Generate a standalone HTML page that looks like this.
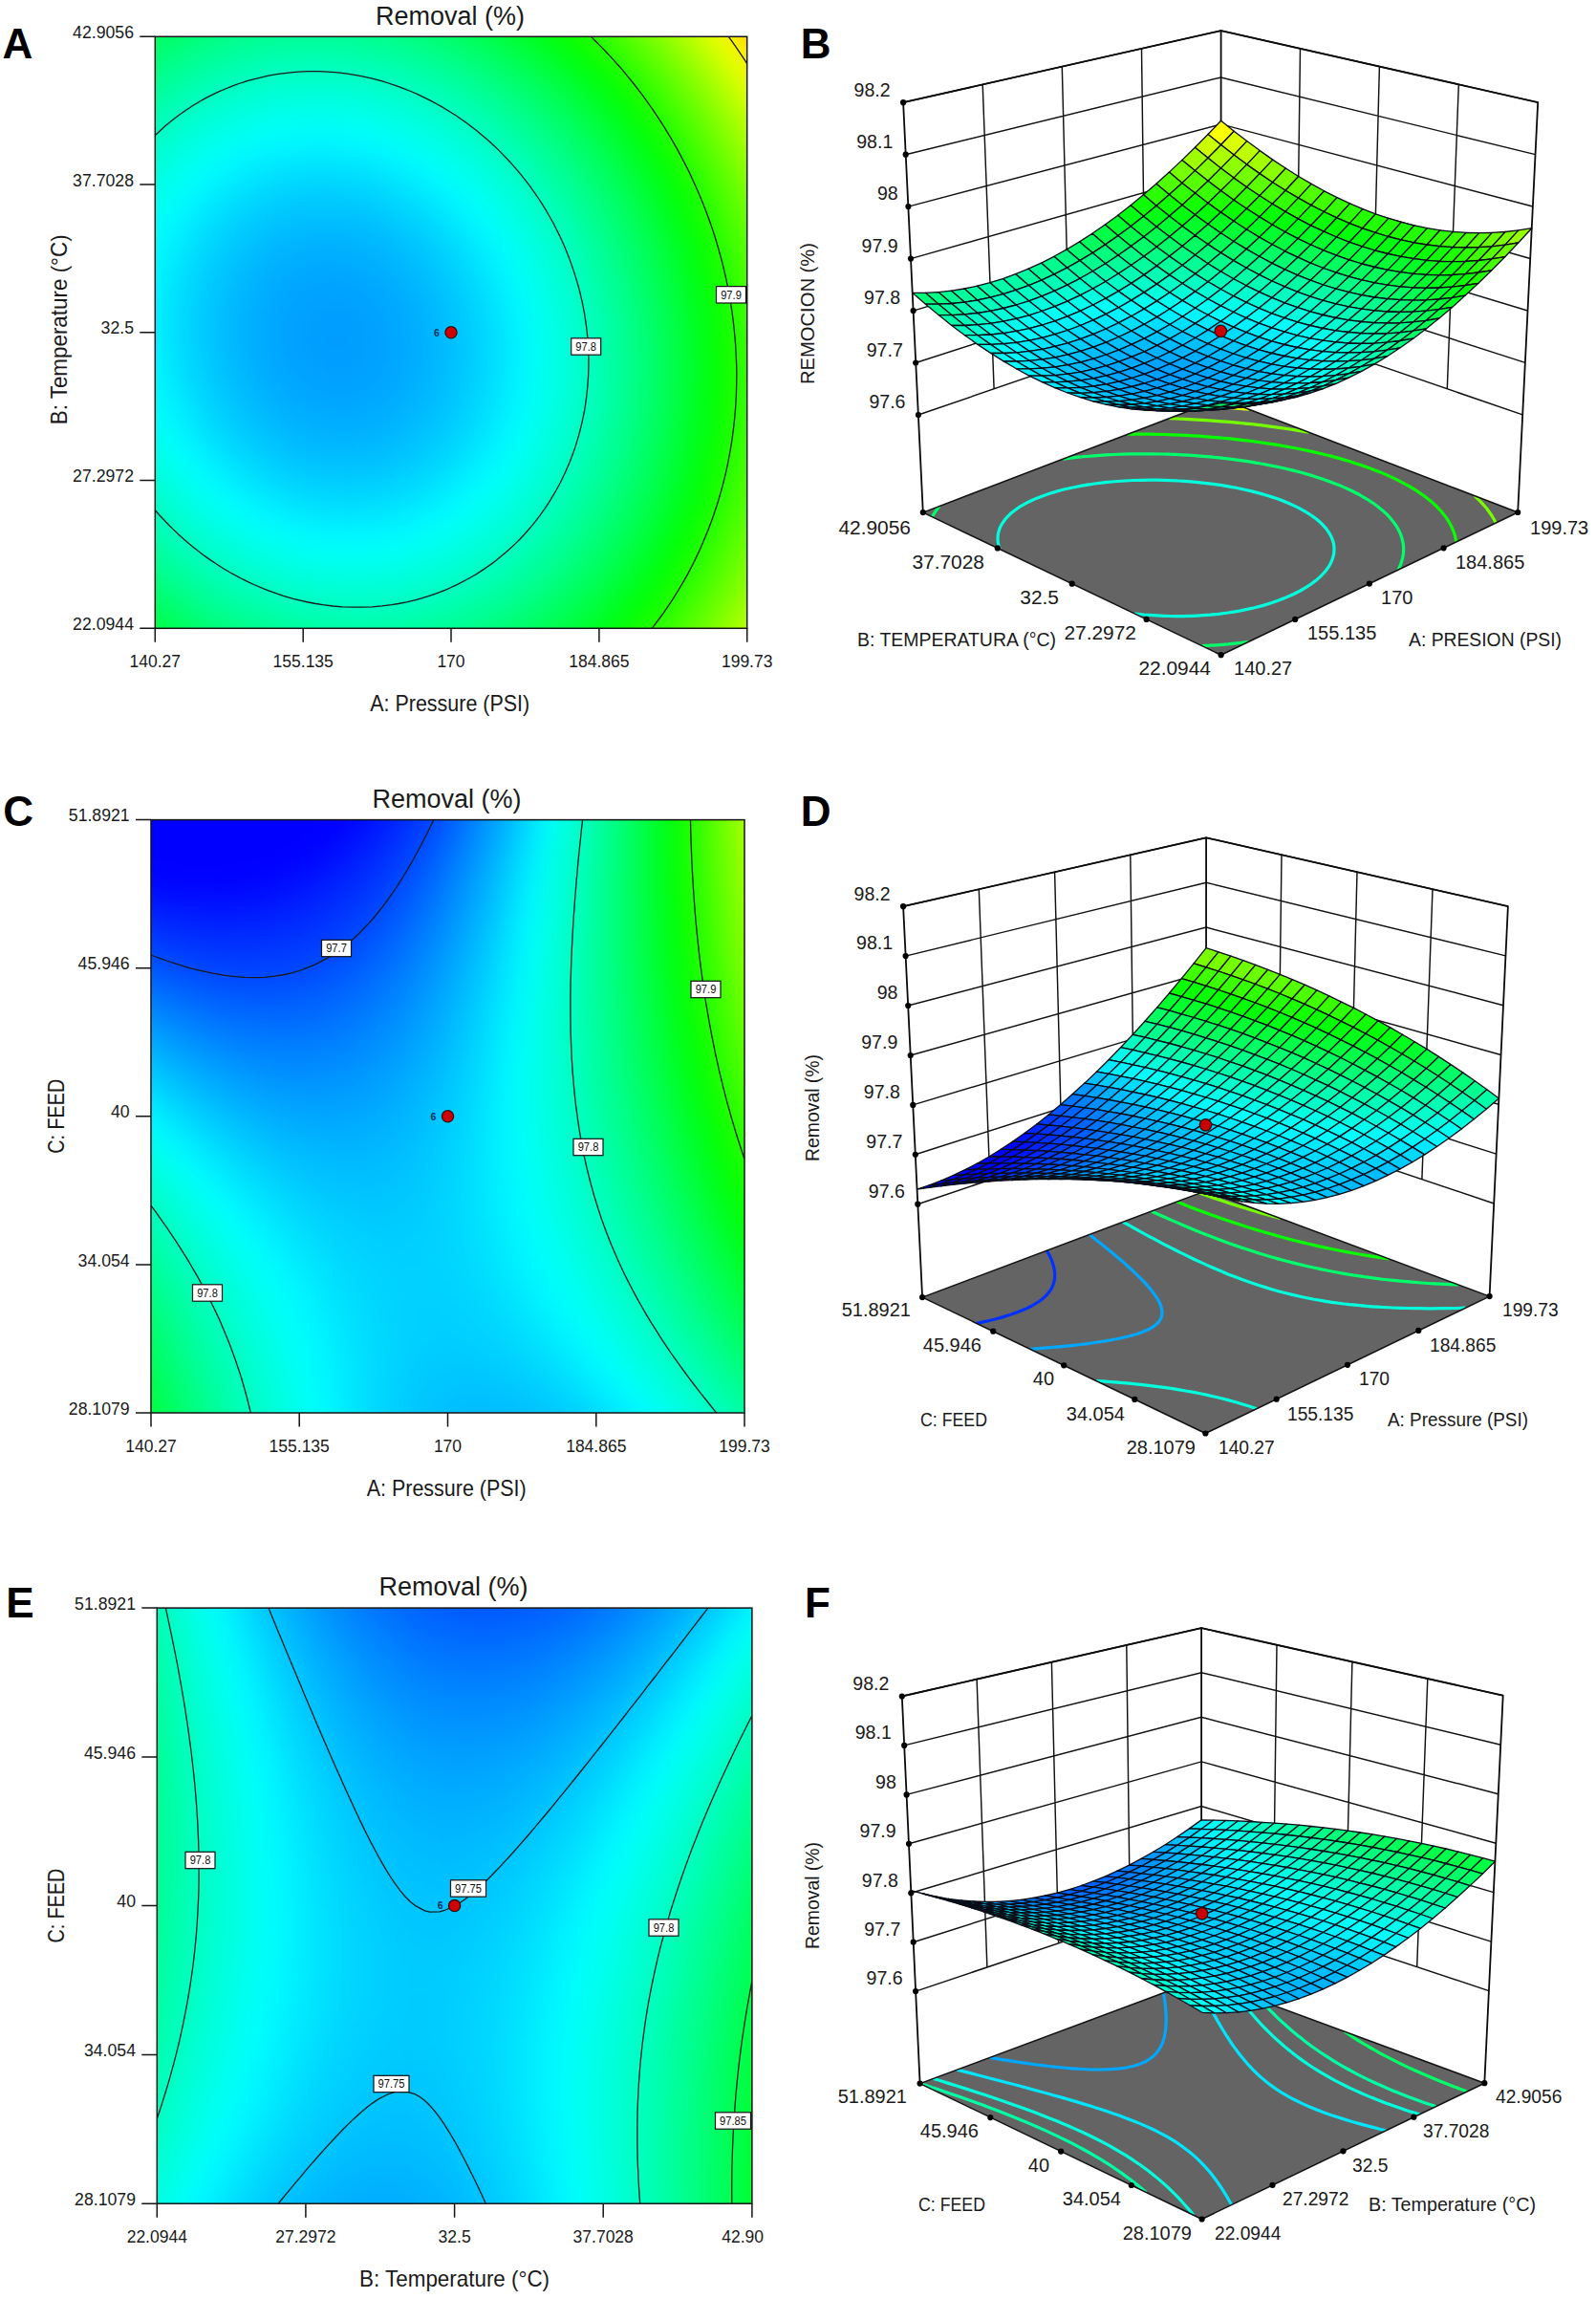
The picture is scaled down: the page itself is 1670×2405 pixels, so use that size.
<!DOCTYPE html><html><head><meta charset="utf-8"><title>Removal response surfaces</title><style>html,body{margin:0;padding:0;background:#fff}svg{display:block}svg text{font-family:"Liberation Sans",sans-serif}.g rect{width:1.04px;height:1.04px}</style></head><body><svg width="1670" height="2405" viewBox="0 0 1670 2405"><defs><filter id="bl" x="-5%" y="-5%" width="110%" height="110%" color-interpolation-filters="sRGB"><feGaussianBlur stdDeviation="0.65"/></filter></defs>
<clipPath id="cA"><rect x="162.3" y="38.3" width="619.4" height="619.0"/></clipPath>
<g clip-path="url(#cA)"><g filter="url(#bl)" class="g" transform="translate(162.30 38.30) scale(19.3563 19.3438)">
<rect x="-2" y="-2" fill="#00ff25"/>
<rect x="-1" y="-2" fill="#00ff34"/>
<rect x="0" y="-2" fill="#00ff42"/>
<rect x="1" y="-2" fill="#00ff4e"/>
<rect x="2" y="-2" fill="#00ff58"/>
<rect x="3" y="-2" fill="#00ff60"/>
<rect x="4" y="-2" fill="#00ff67"/>
<rect x="5" y="-2" fill="#00ff6d"/>
<rect x="6" y="-2" fill="#00ff70"/>
<rect x="7" y="-2" fill="#00ff73"/>
<rect x="8" y="-2" fill="#00ff73"/>
<rect x="9" y="-2" fill="#00ff72"/>
<rect x="10" y="-2" fill="#00ff6f"/>
<rect x="11" y="-2" fill="#00ff6b"/>
<rect x="12" y="-2" fill="#00ff65"/>
<rect x="13" y="-2" fill="#00ff5d"/>
<rect x="14" y="-2" fill="#00ff54"/>
<rect x="15" y="-2" fill="#00ff49"/>
<rect x="16" y="-2" fill="#00ff3c"/>
<rect x="17" y="-2" fill="#00ff2e"/>
<rect x="18" y="-2" fill="#00ff1e"/>
<rect x="19" y="-2" fill="#00ff0d"/>
<rect x="20" y="-2" fill="#06ff00"/>
<rect x="21" y="-2" fill="#1aff00"/>
<rect x="22" y="-2" fill="#2fff00"/>
<rect x="23" y="-2" fill="#47ff00"/>
<rect x="24" y="-2" fill="#60ff00"/>
<rect x="25" y="-2" fill="#7aff00"/>
<rect x="26" y="-2" fill="#96ff00"/>
<rect x="27" y="-2" fill="#b3ff00"/>
<rect x="28" y="-2" fill="#d3ff00"/>
<rect x="29" y="-2" fill="#f3ff00"/>
<rect x="30" y="-2" fill="#ffe800"/>
<rect x="31" y="-2" fill="#ffc500"/>
<rect x="32" y="-2" fill="#ff9f00"/>
<rect x="33" y="-2" fill="#ff7800"/>
<rect x="-2" y="-1" fill="#00ff3d"/>
<rect x="-1" y="-1" fill="#00ff4c"/>
<rect x="0" y="-1" fill="#00ff5a"/>
<rect x="1" y="-1" fill="#00ff66"/>
<rect x="2" y="-1" fill="#00ff70"/>
<rect x="3" y="-1" fill="#00ff79"/>
<rect x="4" y="-1" fill="#00ff80"/>
<rect x="5" y="-1" fill="#00ff85"/>
<rect x="6" y="-1" fill="#00ff89"/>
<rect x="7" y="-1" fill="#00ff8b"/>
<rect x="8" y="-1" fill="#00ff8c"/>
<rect x="9" y="-1" fill="#00ff8b"/>
<rect x="10" y="-1" fill="#00ff88"/>
<rect x="11" y="-1" fill="#00ff84"/>
<rect x="12" y="-1" fill="#00ff7e"/>
<rect x="13" y="-1" fill="#00ff77"/>
<rect x="14" y="-1" fill="#00ff6d"/>
<rect x="15" y="-1" fill="#00ff63"/>
<rect x="16" y="-1" fill="#00ff56"/>
<rect x="17" y="-1" fill="#00ff48"/>
<rect x="18" y="-1" fill="#00ff39"/>
<rect x="19" y="-1" fill="#00ff28"/>
<rect x="20" y="-1" fill="#00ff15"/>
<rect x="21" y="-1" fill="#00ff00"/>
<rect x="22" y="-1" fill="#15ff00"/>
<rect x="23" y="-1" fill="#2cff00"/>
<rect x="24" y="-1" fill="#45ff00"/>
<rect x="25" y="-1" fill="#5fff00"/>
<rect x="26" y="-1" fill="#7bff00"/>
<rect x="27" y="-1" fill="#99ff00"/>
<rect x="28" y="-1" fill="#b8ff00"/>
<rect x="29" y="-1" fill="#d8ff00"/>
<rect x="30" y="-1" fill="#faff00"/>
<rect x="31" y="-1" fill="#ffe000"/>
<rect x="32" y="-1" fill="#ffbb00"/>
<rect x="33" y="-1" fill="#ff9400"/>
<rect x="-2" y="0" fill="#00ff53"/>
<rect x="-1" y="0" fill="#00ff63"/>
<rect x="0" y="0" fill="#00ff70"/>
<rect x="1" y="0" fill="#00ff7c"/>
<rect x="2" y="0" fill="#00ff87"/>
<rect x="3" y="0" fill="#00ff90"/>
<rect x="4" y="0" fill="#00ff97"/>
<rect x="5" y="0" fill="#00ff9c"/>
<rect x="6" y="0" fill="#00ffa0"/>
<rect x="7" y="0" fill="#00ffa3"/>
<rect x="8" y="0" fill="#00ffa3"/>
<rect x="9" y="0" fill="#00ffa3"/>
<rect x="10" y="0" fill="#00ffa0"/>
<rect x="11" y="0" fill="#00ff9c"/>
<rect x="12" y="0" fill="#00ff96"/>
<rect x="13" y="0" fill="#00ff8f"/>
<rect x="14" y="0" fill="#00ff86"/>
<rect x="15" y="0" fill="#00ff7b"/>
<rect x="16" y="0" fill="#00ff6f"/>
<rect x="17" y="0" fill="#00ff61"/>
<rect x="18" y="0" fill="#00ff52"/>
<rect x="19" y="0" fill="#00ff40"/>
<rect x="20" y="0" fill="#00ff2e"/>
<rect x="21" y="0" fill="#00ff19"/>
<rect x="22" y="0" fill="#00ff03"/>
<rect x="23" y="0" fill="#14ff00"/>
<rect x="24" y="0" fill="#2cff00"/>
<rect x="25" y="0" fill="#46ff00"/>
<rect x="26" y="0" fill="#62ff00"/>
<rect x="27" y="0" fill="#7fff00"/>
<rect x="28" y="0" fill="#9eff00"/>
<rect x="29" y="0" fill="#bfff00"/>
<rect x="30" y="0" fill="#e1ff00"/>
<rect x="31" y="0" fill="#fffa00"/>
<rect x="32" y="0" fill="#ffd500"/>
<rect x="33" y="0" fill="#ffae00"/>
<rect x="-2" y="1" fill="#00ff68"/>
<rect x="-1" y="1" fill="#00ff77"/>
<rect x="0" y="1" fill="#00ff85"/>
<rect x="1" y="1" fill="#00ff91"/>
<rect x="2" y="1" fill="#00ff9c"/>
<rect x="3" y="1" fill="#00ffa5"/>
<rect x="4" y="1" fill="#00ffac"/>
<rect x="5" y="1" fill="#00ffb2"/>
<rect x="6" y="1" fill="#00ffb6"/>
<rect x="7" y="1" fill="#00ffb9"/>
<rect x="8" y="1" fill="#00ffba"/>
<rect x="9" y="1" fill="#00ffb9"/>
<rect x="10" y="1" fill="#00ffb6"/>
<rect x="11" y="1" fill="#00ffb2"/>
<rect x="12" y="1" fill="#00ffad"/>
<rect x="13" y="1" fill="#00ffa6"/>
<rect x="14" y="1" fill="#00ff9d"/>
<rect x="15" y="1" fill="#00ff92"/>
<rect x="16" y="1" fill="#00ff86"/>
<rect x="17" y="1" fill="#00ff78"/>
<rect x="18" y="1" fill="#00ff69"/>
<rect x="19" y="1" fill="#00ff58"/>
<rect x="20" y="1" fill="#00ff45"/>
<rect x="21" y="1" fill="#00ff31"/>
<rect x="22" y="1" fill="#00ff1b"/>
<rect x="23" y="1" fill="#00ff04"/>
<rect x="24" y="1" fill="#15ff00"/>
<rect x="25" y="1" fill="#2fff00"/>
<rect x="26" y="1" fill="#4aff00"/>
<rect x="27" y="1" fill="#67ff00"/>
<rect x="28" y="1" fill="#86ff00"/>
<rect x="29" y="1" fill="#a6ff00"/>
<rect x="30" y="1" fill="#c8ff00"/>
<rect x="31" y="1" fill="#ecff00"/>
<rect x="32" y="1" fill="#ffed00"/>
<rect x="33" y="1" fill="#ffc600"/>
<rect x="-2" y="2" fill="#00ff7b"/>
<rect x="-1" y="2" fill="#00ff8b"/>
<rect x="0" y="2" fill="#00ff99"/>
<rect x="1" y="2" fill="#00ffa5"/>
<rect x="2" y="2" fill="#00ffb0"/>
<rect x="3" y="2" fill="#00ffb9"/>
<rect x="4" y="2" fill="#00ffc0"/>
<rect x="5" y="2" fill="#00ffc6"/>
<rect x="6" y="2" fill="#00ffcb"/>
<rect x="7" y="2" fill="#00ffcd"/>
<rect x="8" y="2" fill="#00ffce"/>
<rect x="9" y="2" fill="#00ffce"/>
<rect x="10" y="2" fill="#00ffcb"/>
<rect x="11" y="2" fill="#00ffc7"/>
<rect x="12" y="2" fill="#00ffc2"/>
<rect x="13" y="2" fill="#00ffbb"/>
<rect x="14" y="2" fill="#00ffb2"/>
<rect x="15" y="2" fill="#00ffa8"/>
<rect x="16" y="2" fill="#00ff9c"/>
<rect x="17" y="2" fill="#00ff8e"/>
<rect x="18" y="2" fill="#00ff7f"/>
<rect x="19" y="2" fill="#00ff6e"/>
<rect x="20" y="2" fill="#00ff5c"/>
<rect x="21" y="2" fill="#00ff48"/>
<rect x="22" y="2" fill="#00ff32"/>
<rect x="23" y="2" fill="#00ff1b"/>
<rect x="24" y="2" fill="#00ff02"/>
<rect x="25" y="2" fill="#18ff00"/>
<rect x="26" y="2" fill="#34ff00"/>
<rect x="27" y="2" fill="#51ff00"/>
<rect x="28" y="2" fill="#6fff00"/>
<rect x="29" y="2" fill="#90ff00"/>
<rect x="30" y="2" fill="#b1ff00"/>
<rect x="31" y="2" fill="#d5ff00"/>
<rect x="32" y="2" fill="#faff00"/>
<rect x="33" y="2" fill="#ffde00"/>
<rect x="-2" y="3" fill="#00ff8d"/>
<rect x="-1" y="3" fill="#00ff9d"/>
<rect x="0" y="3" fill="#00ffab"/>
<rect x="1" y="3" fill="#00ffb7"/>
<rect x="2" y="3" fill="#00ffc2"/>
<rect x="3" y="3" fill="#00ffcb"/>
<rect x="4" y="3" fill="#00ffd3"/>
<rect x="5" y="3" fill="#00ffd9"/>
<rect x="6" y="3" fill="#00ffdd"/>
<rect x="7" y="3" fill="#00ffe0"/>
<rect x="8" y="3" fill="#00ffe1"/>
<rect x="9" y="3" fill="#00ffe1"/>
<rect x="10" y="3" fill="#00ffdf"/>
<rect x="11" y="3" fill="#00ffdb"/>
<rect x="12" y="3" fill="#00ffd6"/>
<rect x="13" y="3" fill="#00ffcf"/>
<rect x="14" y="3" fill="#00ffc6"/>
<rect x="15" y="3" fill="#00ffbc"/>
<rect x="16" y="3" fill="#00ffb0"/>
<rect x="17" y="3" fill="#00ffa3"/>
<rect x="18" y="3" fill="#00ff93"/>
<rect x="19" y="3" fill="#00ff83"/>
<rect x="20" y="3" fill="#00ff70"/>
<rect x="21" y="3" fill="#00ff5c"/>
<rect x="22" y="3" fill="#00ff47"/>
<rect x="23" y="3" fill="#00ff30"/>
<rect x="24" y="3" fill="#00ff17"/>
<rect x="25" y="3" fill="#03ff00"/>
<rect x="26" y="3" fill="#1fff00"/>
<rect x="27" y="3" fill="#3cff00"/>
<rect x="28" y="3" fill="#5aff00"/>
<rect x="29" y="3" fill="#7aff00"/>
<rect x="30" y="3" fill="#9cff00"/>
<rect x="31" y="3" fill="#bfff00"/>
<rect x="32" y="3" fill="#e4ff00"/>
<rect x="33" y="3" fill="#fff400"/>
<rect x="-2" y="4" fill="#00ff9d"/>
<rect x="-1" y="4" fill="#00ffad"/>
<rect x="0" y="4" fill="#00ffbc"/>
<rect x="1" y="4" fill="#00ffc8"/>
<rect x="2" y="4" fill="#00ffd3"/>
<rect x="3" y="4" fill="#00ffdd"/>
<rect x="4" y="4" fill="#00ffe4"/>
<rect x="5" y="4" fill="#00ffea"/>
<rect x="6" y="4" fill="#00ffef"/>
<rect x="7" y="4" fill="#00fff2"/>
<rect x="8" y="4" fill="#00fff3"/>
<rect x="9" y="4" fill="#00fff3"/>
<rect x="10" y="4" fill="#00fff1"/>
<rect x="11" y="4" fill="#00ffed"/>
<rect x="12" y="4" fill="#00ffe8"/>
<rect x="13" y="4" fill="#00ffe1"/>
<rect x="14" y="4" fill="#00ffd9"/>
<rect x="15" y="4" fill="#00ffce"/>
<rect x="16" y="4" fill="#00ffc3"/>
<rect x="17" y="4" fill="#00ffb5"/>
<rect x="18" y="4" fill="#00ffa6"/>
<rect x="19" y="4" fill="#00ff96"/>
<rect x="20" y="4" fill="#00ff84"/>
<rect x="21" y="4" fill="#00ff70"/>
<rect x="22" y="4" fill="#00ff5a"/>
<rect x="23" y="4" fill="#00ff43"/>
<rect x="24" y="4" fill="#00ff2b"/>
<rect x="25" y="4" fill="#00ff10"/>
<rect x="26" y="4" fill="#0bff00"/>
<rect x="27" y="4" fill="#28ff00"/>
<rect x="28" y="4" fill="#46ff00"/>
<rect x="29" y="4" fill="#66ff00"/>
<rect x="30" y="4" fill="#88ff00"/>
<rect x="31" y="4" fill="#abff00"/>
<rect x="32" y="4" fill="#d0ff00"/>
<rect x="33" y="4" fill="#f6ff00"/>
<rect x="-2" y="5" fill="#00ffac"/>
<rect x="-1" y="5" fill="#00ffbc"/>
<rect x="0" y="5" fill="#00ffcb"/>
<rect x="1" y="5" fill="#00ffd8"/>
<rect x="2" y="5" fill="#00ffe3"/>
<rect x="3" y="5" fill="#00ffec"/>
<rect x="4" y="5" fill="#00fff4"/>
<rect x="5" y="5" fill="#00fffa"/>
<rect x="6" y="5" fill="#00ffff"/>
<rect x="7" y="5" fill="#00fcff"/>
<rect x="8" y="5" fill="#00faff"/>
<rect x="9" y="5" fill="#00faff"/>
<rect x="10" y="5" fill="#00fdff"/>
<rect x="11" y="5" fill="#00fffe"/>
<rect x="12" y="5" fill="#00fff9"/>
<rect x="13" y="5" fill="#00fff2"/>
<rect x="14" y="5" fill="#00ffea"/>
<rect x="15" y="5" fill="#00ffe0"/>
<rect x="16" y="5" fill="#00ffd4"/>
<rect x="17" y="5" fill="#00ffc7"/>
<rect x="18" y="5" fill="#00ffb8"/>
<rect x="19" y="5" fill="#00ffa8"/>
<rect x="20" y="5" fill="#00ff96"/>
<rect x="21" y="5" fill="#00ff82"/>
<rect x="22" y="5" fill="#00ff6d"/>
<rect x="23" y="5" fill="#00ff56"/>
<rect x="24" y="5" fill="#00ff3d"/>
<rect x="25" y="5" fill="#00ff23"/>
<rect x="26" y="5" fill="#00ff07"/>
<rect x="27" y="5" fill="#16ff00"/>
<rect x="28" y="5" fill="#34ff00"/>
<rect x="29" y="5" fill="#54ff00"/>
<rect x="30" y="5" fill="#75ff00"/>
<rect x="31" y="5" fill="#98ff00"/>
<rect x="32" y="5" fill="#bdff00"/>
<rect x="33" y="5" fill="#e3ff00"/>
<rect x="-2" y="6" fill="#00ffba"/>
<rect x="-1" y="6" fill="#00ffca"/>
<rect x="0" y="6" fill="#00ffd9"/>
<rect x="1" y="6" fill="#00ffe5"/>
<rect x="2" y="6" fill="#00fff1"/>
<rect x="3" y="6" fill="#00fffa"/>
<rect x="4" y="6" fill="#00fbff"/>
<rect x="5" y="6" fill="#00f4ff"/>
<rect x="6" y="6" fill="#00efff"/>
<rect x="7" y="6" fill="#00ecff"/>
<rect x="8" y="6" fill="#00eaff"/>
<rect x="9" y="6" fill="#00eaff"/>
<rect x="10" y="6" fill="#00ecff"/>
<rect x="11" y="6" fill="#00f0ff"/>
<rect x="12" y="6" fill="#00f5ff"/>
<rect x="13" y="6" fill="#00fcff"/>
<rect x="14" y="6" fill="#00fff9"/>
<rect x="15" y="6" fill="#00ffef"/>
<rect x="16" y="6" fill="#00ffe4"/>
<rect x="17" y="6" fill="#00ffd7"/>
<rect x="18" y="6" fill="#00ffc8"/>
<rect x="19" y="6" fill="#00ffb8"/>
<rect x="20" y="6" fill="#00ffa6"/>
<rect x="21" y="6" fill="#00ff92"/>
<rect x="22" y="6" fill="#00ff7d"/>
<rect x="23" y="6" fill="#00ff66"/>
<rect x="24" y="6" fill="#00ff4e"/>
<rect x="25" y="6" fill="#00ff34"/>
<rect x="26" y="6" fill="#00ff18"/>
<rect x="27" y="6" fill="#05ff00"/>
<rect x="28" y="6" fill="#23ff00"/>
<rect x="29" y="6" fill="#43ff00"/>
<rect x="30" y="6" fill="#64ff00"/>
<rect x="31" y="6" fill="#87ff00"/>
<rect x="32" y="6" fill="#abff00"/>
<rect x="33" y="6" fill="#d1ff00"/>
<rect x="-2" y="7" fill="#00ffc6"/>
<rect x="-1" y="7" fill="#00ffd6"/>
<rect x="0" y="7" fill="#00ffe5"/>
<rect x="1" y="7" fill="#00fff2"/>
<rect x="2" y="7" fill="#00fffd"/>
<rect x="3" y="7" fill="#00f6ff"/>
<rect x="4" y="7" fill="#00edff"/>
<rect x="5" y="7" fill="#00e6ff"/>
<rect x="6" y="7" fill="#00e1ff"/>
<rect x="7" y="7" fill="#00ddff"/>
<rect x="8" y="7" fill="#00dbff"/>
<rect x="9" y="7" fill="#00dbff"/>
<rect x="10" y="7" fill="#00ddff"/>
<rect x="11" y="7" fill="#00e0ff"/>
<rect x="12" y="7" fill="#00e6ff"/>
<rect x="13" y="7" fill="#00edff"/>
<rect x="14" y="7" fill="#00f6ff"/>
<rect x="15" y="7" fill="#00fffe"/>
<rect x="16" y="7" fill="#00fff2"/>
<rect x="17" y="7" fill="#00ffe6"/>
<rect x="18" y="7" fill="#00ffd7"/>
<rect x="19" y="7" fill="#00ffc7"/>
<rect x="20" y="7" fill="#00ffb5"/>
<rect x="21" y="7" fill="#00ffa2"/>
<rect x="22" y="7" fill="#00ff8d"/>
<rect x="23" y="7" fill="#00ff76"/>
<rect x="24" y="7" fill="#00ff5e"/>
<rect x="25" y="7" fill="#00ff44"/>
<rect x="26" y="7" fill="#00ff28"/>
<rect x="27" y="7" fill="#00ff0b"/>
<rect x="28" y="7" fill="#13ff00"/>
<rect x="29" y="7" fill="#33ff00"/>
<rect x="30" y="7" fill="#54ff00"/>
<rect x="31" y="7" fill="#77ff00"/>
<rect x="32" y="7" fill="#9bff00"/>
<rect x="33" y="7" fill="#c1ff00"/>
<rect x="-2" y="8" fill="#00ffd1"/>
<rect x="-1" y="8" fill="#00ffe1"/>
<rect x="0" y="8" fill="#00fff0"/>
<rect x="1" y="8" fill="#00fffd"/>
<rect x="2" y="8" fill="#00f5ff"/>
<rect x="3" y="8" fill="#00eaff"/>
<rect x="4" y="8" fill="#00e1ff"/>
<rect x="5" y="8" fill="#00d9ff"/>
<rect x="6" y="8" fill="#00d4ff"/>
<rect x="7" y="8" fill="#00d0ff"/>
<rect x="8" y="8" fill="#00ceff"/>
<rect x="9" y="8" fill="#00ceff"/>
<rect x="10" y="8" fill="#00cfff"/>
<rect x="11" y="8" fill="#00d3ff"/>
<rect x="12" y="8" fill="#00d8ff"/>
<rect x="13" y="8" fill="#00dfff"/>
<rect x="14" y="8" fill="#00e8ff"/>
<rect x="15" y="8" fill="#00f2ff"/>
<rect x="16" y="8" fill="#00feff"/>
<rect x="17" y="8" fill="#00fff3"/>
<rect x="18" y="8" fill="#00ffe4"/>
<rect x="19" y="8" fill="#00ffd4"/>
<rect x="20" y="8" fill="#00ffc3"/>
<rect x="21" y="8" fill="#00ffaf"/>
<rect x="22" y="8" fill="#00ff9a"/>
<rect x="23" y="8" fill="#00ff84"/>
<rect x="24" y="8" fill="#00ff6c"/>
<rect x="25" y="8" fill="#00ff52"/>
<rect x="26" y="8" fill="#00ff36"/>
<rect x="27" y="8" fill="#00ff19"/>
<rect x="28" y="8" fill="#05ff00"/>
<rect x="29" y="8" fill="#24ff00"/>
<rect x="30" y="8" fill="#45ff00"/>
<rect x="31" y="8" fill="#68ff00"/>
<rect x="32" y="8" fill="#8cff00"/>
<rect x="33" y="8" fill="#b2ff00"/>
<rect x="-2" y="9" fill="#00ffda"/>
<rect x="-1" y="9" fill="#00ffea"/>
<rect x="0" y="9" fill="#00fff9"/>
<rect x="1" y="9" fill="#00f7ff"/>
<rect x="2" y="9" fill="#00eaff"/>
<rect x="3" y="9" fill="#00dfff"/>
<rect x="4" y="9" fill="#00d6ff"/>
<rect x="5" y="9" fill="#00ceff"/>
<rect x="6" y="9" fill="#00c9ff"/>
<rect x="7" y="9" fill="#00c5ff"/>
<rect x="8" y="9" fill="#00c3ff"/>
<rect x="9" y="9" fill="#00c2ff"/>
<rect x="10" y="9" fill="#00c4ff"/>
<rect x="11" y="9" fill="#00c7ff"/>
<rect x="12" y="9" fill="#00ccff"/>
<rect x="13" y="9" fill="#00d3ff"/>
<rect x="14" y="9" fill="#00dbff"/>
<rect x="15" y="9" fill="#00e6ff"/>
<rect x="16" y="9" fill="#00f2ff"/>
<rect x="17" y="9" fill="#00fffe"/>
<rect x="18" y="9" fill="#00fff0"/>
<rect x="19" y="9" fill="#00ffe0"/>
<rect x="20" y="9" fill="#00ffcf"/>
<rect x="21" y="9" fill="#00ffbb"/>
<rect x="22" y="9" fill="#00ffa7"/>
<rect x="23" y="9" fill="#00ff90"/>
<rect x="24" y="9" fill="#00ff78"/>
<rect x="25" y="9" fill="#00ff5f"/>
<rect x="26" y="9" fill="#00ff43"/>
<rect x="27" y="9" fill="#00ff26"/>
<rect x="28" y="9" fill="#00ff08"/>
<rect x="29" y="9" fill="#18ff00"/>
<rect x="30" y="9" fill="#38ff00"/>
<rect x="31" y="9" fill="#5bff00"/>
<rect x="32" y="9" fill="#7fff00"/>
<rect x="33" y="9" fill="#a4ff00"/>
<rect x="-2" y="10" fill="#00ffe2"/>
<rect x="-1" y="10" fill="#00fff2"/>
<rect x="0" y="10" fill="#00fdff"/>
<rect x="1" y="10" fill="#00eeff"/>
<rect x="2" y="10" fill="#00e1ff"/>
<rect x="3" y="10" fill="#00d6ff"/>
<rect x="4" y="10" fill="#00ccff"/>
<rect x="5" y="10" fill="#00c5ff"/>
<rect x="6" y="10" fill="#00bfff"/>
<rect x="7" y="10" fill="#00bbff"/>
<rect x="8" y="10" fill="#00b9ff"/>
<rect x="9" y="10" fill="#00b8ff"/>
<rect x="10" y="10" fill="#00b9ff"/>
<rect x="11" y="10" fill="#00bcff"/>
<rect x="12" y="10" fill="#00c1ff"/>
<rect x="13" y="10" fill="#00c8ff"/>
<rect x="14" y="10" fill="#00d0ff"/>
<rect x="15" y="10" fill="#00dbff"/>
<rect x="16" y="10" fill="#00e7ff"/>
<rect x="17" y="10" fill="#00f4ff"/>
<rect x="18" y="10" fill="#00fffa"/>
<rect x="19" y="10" fill="#00ffeb"/>
<rect x="20" y="10" fill="#00ffd9"/>
<rect x="21" y="10" fill="#00ffc6"/>
<rect x="22" y="10" fill="#00ffb2"/>
<rect x="23" y="10" fill="#00ff9b"/>
<rect x="24" y="10" fill="#00ff83"/>
<rect x="25" y="10" fill="#00ff6a"/>
<rect x="26" y="10" fill="#00ff4f"/>
<rect x="27" y="10" fill="#00ff32"/>
<rect x="28" y="10" fill="#00ff14"/>
<rect x="29" y="10" fill="#0cff00"/>
<rect x="30" y="10" fill="#2dff00"/>
<rect x="31" y="10" fill="#4fff00"/>
<rect x="32" y="10" fill="#73ff00"/>
<rect x="33" y="10" fill="#98ff00"/>
<rect x="-2" y="11" fill="#00ffe8"/>
<rect x="-1" y="11" fill="#00fff9"/>
<rect x="0" y="11" fill="#00f5ff"/>
<rect x="1" y="11" fill="#00e7ff"/>
<rect x="2" y="11" fill="#00d9ff"/>
<rect x="3" y="11" fill="#00ceff"/>
<rect x="4" y="11" fill="#00c5ff"/>
<rect x="5" y="11" fill="#00bdff"/>
<rect x="6" y="11" fill="#00b7ff"/>
<rect x="7" y="11" fill="#00b3ff"/>
<rect x="8" y="11" fill="#00b0ff"/>
<rect x="9" y="11" fill="#00b0ff"/>
<rect x="10" y="11" fill="#00b1ff"/>
<rect x="11" y="11" fill="#00b4ff"/>
<rect x="12" y="11" fill="#00b8ff"/>
<rect x="13" y="11" fill="#00bfff"/>
<rect x="14" y="11" fill="#00c7ff"/>
<rect x="15" y="11" fill="#00d1ff"/>
<rect x="16" y="11" fill="#00ddff"/>
<rect x="17" y="11" fill="#00ebff"/>
<rect x="18" y="11" fill="#00faff"/>
<rect x="19" y="11" fill="#00fff4"/>
<rect x="20" y="11" fill="#00ffe2"/>
<rect x="21" y="11" fill="#00ffd0"/>
<rect x="22" y="11" fill="#00ffbb"/>
<rect x="23" y="11" fill="#00ffa5"/>
<rect x="24" y="11" fill="#00ff8d"/>
<rect x="25" y="11" fill="#00ff74"/>
<rect x="26" y="11" fill="#00ff59"/>
<rect x="27" y="11" fill="#00ff3c"/>
<rect x="28" y="11" fill="#00ff1e"/>
<rect x="29" y="11" fill="#02ff00"/>
<rect x="30" y="11" fill="#22ff00"/>
<rect x="31" y="11" fill="#45ff00"/>
<rect x="32" y="11" fill="#68ff00"/>
<rect x="33" y="11" fill="#8eff00"/>
<rect x="-2" y="12" fill="#00ffed"/>
<rect x="-1" y="12" fill="#00fffe"/>
<rect x="0" y="12" fill="#00f0ff"/>
<rect x="1" y="12" fill="#00e1ff"/>
<rect x="2" y="12" fill="#00d4ff"/>
<rect x="3" y="12" fill="#00c8ff"/>
<rect x="4" y="12" fill="#00beff"/>
<rect x="5" y="12" fill="#00b6ff"/>
<rect x="6" y="12" fill="#00b0ff"/>
<rect x="7" y="12" fill="#00acff"/>
<rect x="8" y="12" fill="#00a9ff"/>
<rect x="9" y="12" fill="#00a9ff"/>
<rect x="10" y="12" fill="#00aaff"/>
<rect x="11" y="12" fill="#00acff"/>
<rect x="12" y="12" fill="#00b1ff"/>
<rect x="13" y="12" fill="#00b7ff"/>
<rect x="14" y="12" fill="#00c0ff"/>
<rect x="15" y="12" fill="#00c9ff"/>
<rect x="16" y="12" fill="#00d5ff"/>
<rect x="17" y="12" fill="#00e3ff"/>
<rect x="18" y="12" fill="#00f2ff"/>
<rect x="19" y="12" fill="#00fffb"/>
<rect x="20" y="12" fill="#00ffea"/>
<rect x="21" y="12" fill="#00ffd7"/>
<rect x="22" y="12" fill="#00ffc3"/>
<rect x="23" y="12" fill="#00ffad"/>
<rect x="24" y="12" fill="#00ff95"/>
<rect x="25" y="12" fill="#00ff7c"/>
<rect x="26" y="12" fill="#00ff61"/>
<rect x="27" y="12" fill="#00ff45"/>
<rect x="28" y="12" fill="#00ff27"/>
<rect x="29" y="12" fill="#00ff07"/>
<rect x="30" y="12" fill="#1aff00"/>
<rect x="31" y="12" fill="#3cff00"/>
<rect x="32" y="12" fill="#5fff00"/>
<rect x="33" y="12" fill="#85ff00"/>
<rect x="-2" y="13" fill="#00fff0"/>
<rect x="-1" y="13" fill="#00fdff"/>
<rect x="0" y="13" fill="#00ecff"/>
<rect x="1" y="13" fill="#00ddff"/>
<rect x="2" y="13" fill="#00cfff"/>
<rect x="3" y="13" fill="#00c4ff"/>
<rect x="4" y="13" fill="#00baff"/>
<rect x="5" y="13" fill="#00b2ff"/>
<rect x="6" y="13" fill="#00abff"/>
<rect x="7" y="13" fill="#00a7ff"/>
<rect x="8" y="13" fill="#00a4ff"/>
<rect x="9" y="13" fill="#00a3ff"/>
<rect x="10" y="13" fill="#00a4ff"/>
<rect x="11" y="13" fill="#00a7ff"/>
<rect x="12" y="13" fill="#00abff"/>
<rect x="13" y="13" fill="#00b2ff"/>
<rect x="14" y="13" fill="#00baff"/>
<rect x="15" y="13" fill="#00c3ff"/>
<rect x="16" y="13" fill="#00cfff"/>
<rect x="17" y="13" fill="#00dcff"/>
<rect x="18" y="13" fill="#00ebff"/>
<rect x="19" y="13" fill="#00fcff"/>
<rect x="20" y="13" fill="#00fff1"/>
<rect x="21" y="13" fill="#00ffde"/>
<rect x="22" y="13" fill="#00ffca"/>
<rect x="23" y="13" fill="#00ffb4"/>
<rect x="24" y="13" fill="#00ff9c"/>
<rect x="25" y="13" fill="#00ff83"/>
<rect x="26" y="13" fill="#00ff68"/>
<rect x="27" y="13" fill="#00ff4c"/>
<rect x="28" y="13" fill="#00ff2e"/>
<rect x="29" y="13" fill="#00ff0f"/>
<rect x="30" y="13" fill="#12ff00"/>
<rect x="31" y="13" fill="#34ff00"/>
<rect x="32" y="13" fill="#58ff00"/>
<rect x="33" y="13" fill="#7dff00"/>
<rect x="-2" y="14" fill="#00fff2"/>
<rect x="-1" y="14" fill="#00faff"/>
<rect x="0" y="14" fill="#00e9ff"/>
<rect x="1" y="14" fill="#00daff"/>
<rect x="2" y="14" fill="#00ccff"/>
<rect x="3" y="14" fill="#00c1ff"/>
<rect x="4" y="14" fill="#00b7ff"/>
<rect x="5" y="14" fill="#00afff"/>
<rect x="6" y="14" fill="#00a8ff"/>
<rect x="7" y="14" fill="#00a4ff"/>
<rect x="8" y="14" fill="#00a1ff"/>
<rect x="9" y="14" fill="#00a0ff"/>
<rect x="10" y="14" fill="#00a0ff"/>
<rect x="11" y="14" fill="#00a3ff"/>
<rect x="12" y="14" fill="#00a7ff"/>
<rect x="13" y="14" fill="#00adff"/>
<rect x="14" y="14" fill="#00b5ff"/>
<rect x="15" y="14" fill="#00bfff"/>
<rect x="16" y="14" fill="#00caff"/>
<rect x="17" y="14" fill="#00d7ff"/>
<rect x="18" y="14" fill="#00e6ff"/>
<rect x="19" y="14" fill="#00f7ff"/>
<rect x="20" y="14" fill="#00fff5"/>
<rect x="21" y="14" fill="#00ffe3"/>
<rect x="22" y="14" fill="#00ffcf"/>
<rect x="23" y="14" fill="#00ffb9"/>
<rect x="24" y="14" fill="#00ffa2"/>
<rect x="25" y="14" fill="#00ff89"/>
<rect x="26" y="14" fill="#00ff6e"/>
<rect x="27" y="14" fill="#00ff52"/>
<rect x="28" y="14" fill="#00ff34"/>
<rect x="29" y="14" fill="#00ff15"/>
<rect x="30" y="14" fill="#0cff00"/>
<rect x="31" y="14" fill="#2eff00"/>
<rect x="32" y="14" fill="#51ff00"/>
<rect x="33" y="14" fill="#76ff00"/>
<rect x="-2" y="15" fill="#00fff2"/>
<rect x="-1" y="15" fill="#00faff"/>
<rect x="0" y="15" fill="#00e9ff"/>
<rect x="1" y="15" fill="#00d9ff"/>
<rect x="2" y="15" fill="#00cbff"/>
<rect x="3" y="15" fill="#00bfff"/>
<rect x="4" y="15" fill="#00b5ff"/>
<rect x="5" y="15" fill="#00adff"/>
<rect x="6" y="15" fill="#00a6ff"/>
<rect x="7" y="15" fill="#00a2ff"/>
<rect x="8" y="15" fill="#009fff"/>
<rect x="9" y="15" fill="#009dff"/>
<rect x="10" y="15" fill="#009eff"/>
<rect x="11" y="15" fill="#00a0ff"/>
<rect x="12" y="15" fill="#00a5ff"/>
<rect x="13" y="15" fill="#00aaff"/>
<rect x="14" y="15" fill="#00b2ff"/>
<rect x="15" y="15" fill="#00bcff"/>
<rect x="16" y="15" fill="#00c7ff"/>
<rect x="17" y="15" fill="#00d4ff"/>
<rect x="18" y="15" fill="#00e3ff"/>
<rect x="19" y="15" fill="#00f3ff"/>
<rect x="20" y="15" fill="#00fff9"/>
<rect x="21" y="15" fill="#00ffe6"/>
<rect x="22" y="15" fill="#00ffd2"/>
<rect x="23" y="15" fill="#00ffbd"/>
<rect x="24" y="15" fill="#00ffa6"/>
<rect x="25" y="15" fill="#00ff8d"/>
<rect x="26" y="15" fill="#00ff72"/>
<rect x="27" y="15" fill="#00ff56"/>
<rect x="28" y="15" fill="#00ff39"/>
<rect x="29" y="15" fill="#00ff19"/>
<rect x="30" y="15" fill="#08ff00"/>
<rect x="31" y="15" fill="#29ff00"/>
<rect x="32" y="15" fill="#4cff00"/>
<rect x="33" y="15" fill="#71ff00"/>
<rect x="-2" y="16" fill="#00fff1"/>
<rect x="-1" y="16" fill="#00fbff"/>
<rect x="0" y="16" fill="#00e9ff"/>
<rect x="1" y="16" fill="#00daff"/>
<rect x="2" y="16" fill="#00ccff"/>
<rect x="3" y="16" fill="#00c0ff"/>
<rect x="4" y="16" fill="#00b6ff"/>
<rect x="5" y="16" fill="#00adff"/>
<rect x="6" y="16" fill="#00a6ff"/>
<rect x="7" y="16" fill="#00a1ff"/>
<rect x="8" y="16" fill="#009eff"/>
<rect x="9" y="16" fill="#009dff"/>
<rect x="10" y="16" fill="#009dff"/>
<rect x="11" y="16" fill="#00a0ff"/>
<rect x="12" y="16" fill="#00a4ff"/>
<rect x="13" y="16" fill="#00a9ff"/>
<rect x="14" y="16" fill="#00b1ff"/>
<rect x="15" y="16" fill="#00baff"/>
<rect x="16" y="16" fill="#00c5ff"/>
<rect x="17" y="16" fill="#00d2ff"/>
<rect x="18" y="16" fill="#00e1ff"/>
<rect x="19" y="16" fill="#00f1ff"/>
<rect x="20" y="16" fill="#00fffb"/>
<rect x="21" y="16" fill="#00ffe9"/>
<rect x="22" y="16" fill="#00ffd5"/>
<rect x="23" y="16" fill="#00ffbf"/>
<rect x="24" y="16" fill="#00ffa8"/>
<rect x="25" y="16" fill="#00ff8f"/>
<rect x="26" y="16" fill="#00ff75"/>
<rect x="27" y="16" fill="#00ff59"/>
<rect x="28" y="16" fill="#00ff3c"/>
<rect x="29" y="16" fill="#00ff1c"/>
<rect x="30" y="16" fill="#04ff00"/>
<rect x="31" y="16" fill="#26ff00"/>
<rect x="32" y="16" fill="#49ff00"/>
<rect x="33" y="16" fill="#6eff00"/>
<rect x="-2" y="17" fill="#00ffef"/>
<rect x="-1" y="17" fill="#00fdff"/>
<rect x="0" y="17" fill="#00ecff"/>
<rect x="1" y="17" fill="#00dcff"/>
<rect x="2" y="17" fill="#00ceff"/>
<rect x="3" y="17" fill="#00c2ff"/>
<rect x="4" y="17" fill="#00b7ff"/>
<rect x="5" y="17" fill="#00afff"/>
<rect x="6" y="17" fill="#00a8ff"/>
<rect x="7" y="17" fill="#00a3ff"/>
<rect x="8" y="17" fill="#009fff"/>
<rect x="9" y="17" fill="#009eff"/>
<rect x="10" y="17" fill="#009eff"/>
<rect x="11" y="17" fill="#00a0ff"/>
<rect x="12" y="17" fill="#00a4ff"/>
<rect x="13" y="17" fill="#00aaff"/>
<rect x="14" y="17" fill="#00b1ff"/>
<rect x="15" y="17" fill="#00baff"/>
<rect x="16" y="17" fill="#00c5ff"/>
<rect x="17" y="17" fill="#00d2ff"/>
<rect x="18" y="17" fill="#00e1ff"/>
<rect x="19" y="17" fill="#00f1ff"/>
<rect x="20" y="17" fill="#00fffb"/>
<rect x="21" y="17" fill="#00ffe9"/>
<rect x="22" y="17" fill="#00ffd5"/>
<rect x="23" y="17" fill="#00ffc0"/>
<rect x="24" y="17" fill="#00ffa9"/>
<rect x="25" y="17" fill="#00ff91"/>
<rect x="26" y="17" fill="#00ff76"/>
<rect x="27" y="17" fill="#00ff5b"/>
<rect x="28" y="17" fill="#00ff3d"/>
<rect x="29" y="17" fill="#00ff1e"/>
<rect x="30" y="17" fill="#03ff00"/>
<rect x="31" y="17" fill="#24ff00"/>
<rect x="32" y="17" fill="#47ff00"/>
<rect x="33" y="17" fill="#6cff00"/>
<rect x="-2" y="18" fill="#00ffeb"/>
<rect x="-1" y="18" fill="#00fffd"/>
<rect x="0" y="18" fill="#00f0ff"/>
<rect x="1" y="18" fill="#00e0ff"/>
<rect x="2" y="18" fill="#00d2ff"/>
<rect x="3" y="18" fill="#00c5ff"/>
<rect x="4" y="18" fill="#00bbff"/>
<rect x="5" y="18" fill="#00b2ff"/>
<rect x="6" y="18" fill="#00abff"/>
<rect x="7" y="18" fill="#00a6ff"/>
<rect x="8" y="18" fill="#00a2ff"/>
<rect x="9" y="18" fill="#00a1ff"/>
<rect x="10" y="18" fill="#00a1ff"/>
<rect x="11" y="18" fill="#00a3ff"/>
<rect x="12" y="18" fill="#00a6ff"/>
<rect x="13" y="18" fill="#00acff"/>
<rect x="14" y="18" fill="#00b3ff"/>
<rect x="15" y="18" fill="#00bcff"/>
<rect x="16" y="18" fill="#00c7ff"/>
<rect x="17" y="18" fill="#00d4ff"/>
<rect x="18" y="18" fill="#00e2ff"/>
<rect x="19" y="18" fill="#00f2ff"/>
<rect x="20" y="18" fill="#00fffa"/>
<rect x="21" y="18" fill="#00ffe8"/>
<rect x="22" y="18" fill="#00ffd5"/>
<rect x="23" y="18" fill="#00ffc0"/>
<rect x="24" y="18" fill="#00ffa9"/>
<rect x="25" y="18" fill="#00ff90"/>
<rect x="26" y="18" fill="#00ff76"/>
<rect x="27" y="18" fill="#00ff5b"/>
<rect x="28" y="18" fill="#00ff3d"/>
<rect x="29" y="18" fill="#00ff1e"/>
<rect x="30" y="18" fill="#02ff00"/>
<rect x="31" y="18" fill="#23ff00"/>
<rect x="32" y="18" fill="#46ff00"/>
<rect x="33" y="18" fill="#6bff00"/>
<rect x="-2" y="19" fill="#00ffe6"/>
<rect x="-1" y="19" fill="#00fff8"/>
<rect x="0" y="19" fill="#00f5ff"/>
<rect x="1" y="19" fill="#00e5ff"/>
<rect x="2" y="19" fill="#00d7ff"/>
<rect x="3" y="19" fill="#00caff"/>
<rect x="4" y="19" fill="#00c0ff"/>
<rect x="5" y="19" fill="#00b7ff"/>
<rect x="6" y="19" fill="#00b0ff"/>
<rect x="7" y="19" fill="#00aaff"/>
<rect x="8" y="19" fill="#00a7ff"/>
<rect x="9" y="19" fill="#00a5ff"/>
<rect x="10" y="19" fill="#00a5ff"/>
<rect x="11" y="19" fill="#00a7ff"/>
<rect x="12" y="19" fill="#00aaff"/>
<rect x="13" y="19" fill="#00afff"/>
<rect x="14" y="19" fill="#00b7ff"/>
<rect x="15" y="19" fill="#00bfff"/>
<rect x="16" y="19" fill="#00caff"/>
<rect x="17" y="19" fill="#00d7ff"/>
<rect x="18" y="19" fill="#00e5ff"/>
<rect x="19" y="19" fill="#00f5ff"/>
<rect x="20" y="19" fill="#00fff8"/>
<rect x="21" y="19" fill="#00ffe6"/>
<rect x="22" y="19" fill="#00ffd3"/>
<rect x="23" y="19" fill="#00ffbe"/>
<rect x="24" y="19" fill="#00ffa7"/>
<rect x="25" y="19" fill="#00ff8f"/>
<rect x="26" y="19" fill="#00ff75"/>
<rect x="27" y="19" fill="#00ff59"/>
<rect x="28" y="19" fill="#00ff3c"/>
<rect x="29" y="19" fill="#00ff1d"/>
<rect x="30" y="19" fill="#03ff00"/>
<rect x="31" y="19" fill="#24ff00"/>
<rect x="32" y="19" fill="#47ff00"/>
<rect x="33" y="19" fill="#6bff00"/>
<rect x="-2" y="20" fill="#00ffdf"/>
<rect x="-1" y="20" fill="#00fff1"/>
<rect x="0" y="20" fill="#00fcff"/>
<rect x="1" y="20" fill="#00ecff"/>
<rect x="2" y="20" fill="#00deff"/>
<rect x="3" y="20" fill="#00d1ff"/>
<rect x="4" y="20" fill="#00c6ff"/>
<rect x="5" y="20" fill="#00bdff"/>
<rect x="6" y="20" fill="#00b6ff"/>
<rect x="7" y="20" fill="#00b0ff"/>
<rect x="8" y="20" fill="#00adff"/>
<rect x="9" y="20" fill="#00abff"/>
<rect x="10" y="20" fill="#00aaff"/>
<rect x="11" y="20" fill="#00acff"/>
<rect x="12" y="20" fill="#00afff"/>
<rect x="13" y="20" fill="#00b5ff"/>
<rect x="14" y="20" fill="#00bcff"/>
<rect x="15" y="20" fill="#00c4ff"/>
<rect x="16" y="20" fill="#00cfff"/>
<rect x="17" y="20" fill="#00dbff"/>
<rect x="18" y="20" fill="#00e9ff"/>
<rect x="19" y="20" fill="#00f9ff"/>
<rect x="20" y="20" fill="#00fff4"/>
<rect x="21" y="20" fill="#00ffe2"/>
<rect x="22" y="20" fill="#00ffcf"/>
<rect x="23" y="20" fill="#00ffba"/>
<rect x="24" y="20" fill="#00ffa4"/>
<rect x="25" y="20" fill="#00ff8b"/>
<rect x="26" y="20" fill="#00ff72"/>
<rect x="27" y="20" fill="#00ff56"/>
<rect x="28" y="20" fill="#00ff39"/>
<rect x="29" y="20" fill="#00ff1a"/>
<rect x="30" y="20" fill="#06ff00"/>
<rect x="31" y="20" fill="#27ff00"/>
<rect x="32" y="20" fill="#49ff00"/>
<rect x="33" y="20" fill="#6dff00"/>
<rect x="-2" y="21" fill="#00ffd7"/>
<rect x="-1" y="21" fill="#00ffe9"/>
<rect x="0" y="21" fill="#00fffa"/>
<rect x="1" y="21" fill="#00f5ff"/>
<rect x="2" y="21" fill="#00e6ff"/>
<rect x="3" y="21" fill="#00d9ff"/>
<rect x="4" y="21" fill="#00ceff"/>
<rect x="5" y="21" fill="#00c5ff"/>
<rect x="6" y="21" fill="#00beff"/>
<rect x="7" y="21" fill="#00b8ff"/>
<rect x="8" y="21" fill="#00b4ff"/>
<rect x="9" y="21" fill="#00b2ff"/>
<rect x="10" y="21" fill="#00b2ff"/>
<rect x="11" y="21" fill="#00b3ff"/>
<rect x="12" y="21" fill="#00b6ff"/>
<rect x="13" y="21" fill="#00bcff"/>
<rect x="14" y="21" fill="#00c2ff"/>
<rect x="15" y="21" fill="#00cbff"/>
<rect x="16" y="21" fill="#00d5ff"/>
<rect x="17" y="21" fill="#00e2ff"/>
<rect x="18" y="21" fill="#00efff"/>
<rect x="19" y="21" fill="#00ffff"/>
<rect x="20" y="21" fill="#00ffef"/>
<rect x="21" y="21" fill="#00ffdd"/>
<rect x="22" y="21" fill="#00ffca"/>
<rect x="23" y="21" fill="#00ffb5"/>
<rect x="24" y="21" fill="#00ff9f"/>
<rect x="25" y="21" fill="#00ff87"/>
<rect x="26" y="21" fill="#00ff6d"/>
<rect x="27" y="21" fill="#00ff52"/>
<rect x="28" y="21" fill="#00ff35"/>
<rect x="29" y="21" fill="#00ff16"/>
<rect x="30" y="21" fill="#09ff00"/>
<rect x="31" y="21" fill="#2aff00"/>
<rect x="32" y="21" fill="#4dff00"/>
<rect x="33" y="21" fill="#71ff00"/>
<rect x="-2" y="22" fill="#00ffcd"/>
<rect x="-1" y="22" fill="#00ffe0"/>
<rect x="0" y="22" fill="#00fff0"/>
<rect x="1" y="22" fill="#00ffff"/>
<rect x="2" y="22" fill="#00f0ff"/>
<rect x="3" y="22" fill="#00e3ff"/>
<rect x="4" y="22" fill="#00d8ff"/>
<rect x="5" y="22" fill="#00cfff"/>
<rect x="6" y="22" fill="#00c7ff"/>
<rect x="7" y="22" fill="#00c1ff"/>
<rect x="8" y="22" fill="#00bdff"/>
<rect x="9" y="22" fill="#00bbff"/>
<rect x="10" y="22" fill="#00bbff"/>
<rect x="11" y="22" fill="#00bcff"/>
<rect x="12" y="22" fill="#00bfff"/>
<rect x="13" y="22" fill="#00c4ff"/>
<rect x="14" y="22" fill="#00cbff"/>
<rect x="15" y="22" fill="#00d3ff"/>
<rect x="16" y="22" fill="#00ddff"/>
<rect x="17" y="22" fill="#00e9ff"/>
<rect x="18" y="22" fill="#00f7ff"/>
<rect x="19" y="22" fill="#00fff8"/>
<rect x="20" y="22" fill="#00ffe8"/>
<rect x="21" y="22" fill="#00ffd7"/>
<rect x="22" y="22" fill="#00ffc4"/>
<rect x="23" y="22" fill="#00ffaf"/>
<rect x="24" y="22" fill="#00ff99"/>
<rect x="25" y="22" fill="#00ff81"/>
<rect x="26" y="22" fill="#00ff67"/>
<rect x="27" y="22" fill="#00ff4c"/>
<rect x="28" y="22" fill="#00ff2f"/>
<rect x="29" y="22" fill="#00ff11"/>
<rect x="30" y="22" fill="#0fff00"/>
<rect x="31" y="22" fill="#2fff00"/>
<rect x="32" y="22" fill="#52ff00"/>
<rect x="33" y="22" fill="#76ff00"/>
<rect x="-2" y="23" fill="#00ffc2"/>
<rect x="-1" y="23" fill="#00ffd5"/>
<rect x="0" y="23" fill="#00ffe5"/>
<rect x="1" y="23" fill="#00fff5"/>
<rect x="2" y="23" fill="#00fcff"/>
<rect x="3" y="23" fill="#00efff"/>
<rect x="4" y="23" fill="#00e3ff"/>
<rect x="5" y="23" fill="#00daff"/>
<rect x="6" y="23" fill="#00d2ff"/>
<rect x="7" y="23" fill="#00ccff"/>
<rect x="8" y="23" fill="#00c8ff"/>
<rect x="9" y="23" fill="#00c6ff"/>
<rect x="10" y="23" fill="#00c5ff"/>
<rect x="11" y="23" fill="#00c6ff"/>
<rect x="12" y="23" fill="#00c9ff"/>
<rect x="13" y="23" fill="#00ceff"/>
<rect x="14" y="23" fill="#00d4ff"/>
<rect x="15" y="23" fill="#00ddff"/>
<rect x="16" y="23" fill="#00e7ff"/>
<rect x="17" y="23" fill="#00f3ff"/>
<rect x="18" y="23" fill="#00fffe"/>
<rect x="19" y="23" fill="#00fff0"/>
<rect x="20" y="23" fill="#00ffe0"/>
<rect x="21" y="23" fill="#00ffcf"/>
<rect x="22" y="23" fill="#00ffbc"/>
<rect x="23" y="23" fill="#00ffa7"/>
<rect x="24" y="23" fill="#00ff91"/>
<rect x="25" y="23" fill="#00ff79"/>
<rect x="26" y="23" fill="#00ff60"/>
<rect x="27" y="23" fill="#00ff45"/>
<rect x="28" y="23" fill="#00ff28"/>
<rect x="29" y="23" fill="#00ff0a"/>
<rect x="30" y="23" fill="#15ff00"/>
<rect x="31" y="23" fill="#36ff00"/>
<rect x="32" y="23" fill="#58ff00"/>
<rect x="33" y="23" fill="#7cff00"/>
<rect x="-2" y="24" fill="#00ffb6"/>
<rect x="-1" y="24" fill="#00ffc8"/>
<rect x="0" y="24" fill="#00ffd9"/>
<rect x="1" y="24" fill="#00ffe8"/>
<rect x="2" y="24" fill="#00fff6"/>
<rect x="3" y="24" fill="#00fcff"/>
<rect x="4" y="24" fill="#00f0ff"/>
<rect x="5" y="24" fill="#00e7ff"/>
<rect x="6" y="24" fill="#00dfff"/>
<rect x="7" y="24" fill="#00d9ff"/>
<rect x="8" y="24" fill="#00d4ff"/>
<rect x="9" y="24" fill="#00d2ff"/>
<rect x="10" y="24" fill="#00d1ff"/>
<rect x="11" y="24" fill="#00d2ff"/>
<rect x="12" y="24" fill="#00d5ff"/>
<rect x="13" y="24" fill="#00d9ff"/>
<rect x="14" y="24" fill="#00e0ff"/>
<rect x="15" y="24" fill="#00e8ff"/>
<rect x="16" y="24" fill="#00f2ff"/>
<rect x="17" y="24" fill="#00feff"/>
<rect x="18" y="24" fill="#00fff4"/>
<rect x="19" y="24" fill="#00ffe6"/>
<rect x="20" y="24" fill="#00ffd6"/>
<rect x="21" y="24" fill="#00ffc5"/>
<rect x="22" y="24" fill="#00ffb2"/>
<rect x="23" y="24" fill="#00ff9e"/>
<rect x="24" y="24" fill="#00ff88"/>
<rect x="25" y="24" fill="#00ff70"/>
<rect x="26" y="24" fill="#00ff57"/>
<rect x="27" y="24" fill="#00ff3c"/>
<rect x="28" y="24" fill="#00ff20"/>
<rect x="29" y="24" fill="#00ff02"/>
<rect x="30" y="24" fill="#1dff00"/>
<rect x="31" y="24" fill="#3eff00"/>
<rect x="32" y="24" fill="#60ff00"/>
<rect x="33" y="24" fill="#84ff00"/>
<rect x="-2" y="25" fill="#00ffa8"/>
<rect x="-1" y="25" fill="#00ffba"/>
<rect x="0" y="25" fill="#00ffcb"/>
<rect x="1" y="25" fill="#00ffdb"/>
<rect x="2" y="25" fill="#00ffe9"/>
<rect x="3" y="25" fill="#00fff5"/>
<rect x="4" y="25" fill="#00ffff"/>
<rect x="5" y="25" fill="#00f5ff"/>
<rect x="6" y="25" fill="#00edff"/>
<rect x="7" y="25" fill="#00e7ff"/>
<rect x="8" y="25" fill="#00e2ff"/>
<rect x="9" y="25" fill="#00e0ff"/>
<rect x="10" y="25" fill="#00dfff"/>
<rect x="11" y="25" fill="#00e0ff"/>
<rect x="12" y="25" fill="#00e2ff"/>
<rect x="13" y="25" fill="#00e7ff"/>
<rect x="14" y="25" fill="#00edff"/>
<rect x="15" y="25" fill="#00f5ff"/>
<rect x="16" y="25" fill="#00ffff"/>
<rect x="17" y="25" fill="#00fff5"/>
<rect x="18" y="25" fill="#00ffe9"/>
<rect x="19" y="25" fill="#00ffdb"/>
<rect x="20" y="25" fill="#00ffcb"/>
<rect x="21" y="25" fill="#00ffba"/>
<rect x="22" y="25" fill="#00ffa8"/>
<rect x="23" y="25" fill="#00ff93"/>
<rect x="24" y="25" fill="#00ff7d"/>
<rect x="25" y="25" fill="#00ff66"/>
<rect x="26" y="25" fill="#00ff4d"/>
<rect x="27" y="25" fill="#00ff32"/>
<rect x="28" y="25" fill="#00ff16"/>
<rect x="29" y="25" fill="#08ff00"/>
<rect x="30" y="25" fill="#27ff00"/>
<rect x="31" y="25" fill="#47ff00"/>
<rect x="32" y="25" fill="#69ff00"/>
<rect x="33" y="25" fill="#8dff00"/>
<rect x="-2" y="26" fill="#00ff98"/>
<rect x="-1" y="26" fill="#00ffab"/>
<rect x="0" y="26" fill="#00ffbc"/>
<rect x="1" y="26" fill="#00ffcc"/>
<rect x="2" y="26" fill="#00ffda"/>
<rect x="3" y="26" fill="#00ffe6"/>
<rect x="4" y="26" fill="#00fff1"/>
<rect x="5" y="26" fill="#00fffa"/>
<rect x="6" y="26" fill="#00fdff"/>
<rect x="7" y="26" fill="#00f6ff"/>
<rect x="8" y="26" fill="#00f2ff"/>
<rect x="9" y="26" fill="#00efff"/>
<rect x="10" y="26" fill="#00eeff"/>
<rect x="11" y="26" fill="#00efff"/>
<rect x="12" y="26" fill="#00f1ff"/>
<rect x="13" y="26" fill="#00f5ff"/>
<rect x="14" y="26" fill="#00fcff"/>
<rect x="15" y="26" fill="#00fffb"/>
<rect x="16" y="26" fill="#00fff2"/>
<rect x="17" y="26" fill="#00ffe8"/>
<rect x="18" y="26" fill="#00ffdc"/>
<rect x="19" y="26" fill="#00ffce"/>
<rect x="20" y="26" fill="#00ffbf"/>
<rect x="21" y="26" fill="#00ffae"/>
<rect x="22" y="26" fill="#00ff9b"/>
<rect x="23" y="26" fill="#00ff87"/>
<rect x="24" y="26" fill="#00ff71"/>
<rect x="25" y="26" fill="#00ff5a"/>
<rect x="26" y="26" fill="#00ff41"/>
<rect x="27" y="26" fill="#00ff26"/>
<rect x="28" y="26" fill="#00ff0a"/>
<rect x="29" y="26" fill="#13ff00"/>
<rect x="30" y="26" fill="#32ff00"/>
<rect x="31" y="26" fill="#52ff00"/>
<rect x="32" y="26" fill="#74ff00"/>
<rect x="33" y="26" fill="#97ff00"/>
<rect x="-2" y="27" fill="#00ff88"/>
<rect x="-1" y="27" fill="#00ff9a"/>
<rect x="0" y="27" fill="#00ffac"/>
<rect x="1" y="27" fill="#00ffbb"/>
<rect x="2" y="27" fill="#00ffc9"/>
<rect x="3" y="27" fill="#00ffd6"/>
<rect x="4" y="27" fill="#00ffe1"/>
<rect x="5" y="27" fill="#00ffea"/>
<rect x="6" y="27" fill="#00fff1"/>
<rect x="7" y="27" fill="#00fff7"/>
<rect x="8" y="27" fill="#00fffc"/>
<rect x="9" y="27" fill="#00fffe"/>
<rect x="10" y="27" fill="#00ffff"/>
<rect x="11" y="27" fill="#00ffff"/>
<rect x="12" y="27" fill="#00fffd"/>
<rect x="13" y="27" fill="#00fff9"/>
<rect x="14" y="27" fill="#00fff3"/>
<rect x="15" y="27" fill="#00ffec"/>
<rect x="16" y="27" fill="#00ffe4"/>
<rect x="17" y="27" fill="#00ffd9"/>
<rect x="18" y="27" fill="#00ffce"/>
<rect x="19" y="27" fill="#00ffc0"/>
<rect x="20" y="27" fill="#00ffb1"/>
<rect x="21" y="27" fill="#00ffa0"/>
<rect x="22" y="27" fill="#00ff8e"/>
<rect x="23" y="27" fill="#00ff7a"/>
<rect x="24" y="27" fill="#00ff64"/>
<rect x="25" y="27" fill="#00ff4d"/>
<rect x="26" y="27" fill="#00ff34"/>
<rect x="27" y="27" fill="#00ff19"/>
<rect x="28" y="27" fill="#03ff00"/>
<rect x="29" y="27" fill="#20ff00"/>
<rect x="30" y="27" fill="#3eff00"/>
<rect x="31" y="27" fill="#5eff00"/>
<rect x="32" y="27" fill="#80ff00"/>
<rect x="33" y="27" fill="#a3ff00"/>
<rect x="-2" y="28" fill="#00ff75"/>
<rect x="-1" y="28" fill="#00ff88"/>
<rect x="0" y="28" fill="#00ff9a"/>
<rect x="1" y="28" fill="#00ffa9"/>
<rect x="2" y="28" fill="#00ffb8"/>
<rect x="3" y="28" fill="#00ffc4"/>
<rect x="4" y="28" fill="#00ffcf"/>
<rect x="5" y="28" fill="#00ffd8"/>
<rect x="6" y="28" fill="#00ffe0"/>
<rect x="7" y="28" fill="#00ffe6"/>
<rect x="8" y="28" fill="#00ffeb"/>
<rect x="9" y="28" fill="#00ffed"/>
<rect x="10" y="28" fill="#00ffef"/>
<rect x="11" y="28" fill="#00ffee"/>
<rect x="12" y="28" fill="#00ffec"/>
<rect x="13" y="28" fill="#00ffe9"/>
<rect x="14" y="28" fill="#00ffe3"/>
<rect x="15" y="28" fill="#00ffdc"/>
<rect x="16" y="28" fill="#00ffd4"/>
<rect x="17" y="28" fill="#00ffca"/>
<rect x="18" y="28" fill="#00ffbe"/>
<rect x="19" y="28" fill="#00ffb0"/>
<rect x="20" y="28" fill="#00ffa1"/>
<rect x="21" y="28" fill="#00ff91"/>
<rect x="22" y="28" fill="#00ff7f"/>
<rect x="23" y="28" fill="#00ff6b"/>
<rect x="24" y="28" fill="#00ff55"/>
<rect x="25" y="28" fill="#00ff3e"/>
<rect x="26" y="28" fill="#00ff25"/>
<rect x="27" y="28" fill="#00ff0b"/>
<rect x="28" y="28" fill="#11ff00"/>
<rect x="29" y="28" fill="#2dff00"/>
<rect x="30" y="28" fill="#4cff00"/>
<rect x="31" y="28" fill="#6cff00"/>
<rect x="32" y="28" fill="#8dff00"/>
<rect x="33" y="28" fill="#b1ff00"/>
<rect x="-2" y="29" fill="#00ff61"/>
<rect x="-1" y="29" fill="#00ff75"/>
<rect x="0" y="29" fill="#00ff86"/>
<rect x="1" y="29" fill="#00ff96"/>
<rect x="2" y="29" fill="#00ffa4"/>
<rect x="3" y="29" fill="#00ffb1"/>
<rect x="4" y="29" fill="#00ffbc"/>
<rect x="5" y="29" fill="#00ffc6"/>
<rect x="6" y="29" fill="#00ffcd"/>
<rect x="7" y="29" fill="#00ffd4"/>
<rect x="8" y="29" fill="#00ffd8"/>
<rect x="9" y="29" fill="#00ffdb"/>
<rect x="10" y="29" fill="#00ffdc"/>
<rect x="11" y="29" fill="#00ffdc"/>
<rect x="12" y="29" fill="#00ffda"/>
<rect x="13" y="29" fill="#00ffd7"/>
<rect x="14" y="29" fill="#00ffd2"/>
<rect x="15" y="29" fill="#00ffcb"/>
<rect x="16" y="29" fill="#00ffc2"/>
<rect x="17" y="29" fill="#00ffb8"/>
<rect x="18" y="29" fill="#00ffad"/>
<rect x="19" y="29" fill="#00ffa0"/>
<rect x="20" y="29" fill="#00ff91"/>
<rect x="21" y="29" fill="#00ff80"/>
<rect x="22" y="29" fill="#00ff6e"/>
<rect x="23" y="29" fill="#00ff5a"/>
<rect x="24" y="29" fill="#00ff45"/>
<rect x="25" y="29" fill="#00ff2e"/>
<rect x="26" y="29" fill="#00ff15"/>
<rect x="27" y="29" fill="#05ff00"/>
<rect x="28" y="29" fill="#20ff00"/>
<rect x="29" y="29" fill="#3dff00"/>
<rect x="30" y="29" fill="#5bff00"/>
<rect x="31" y="29" fill="#7bff00"/>
<rect x="32" y="29" fill="#9cff00"/>
<rect x="33" y="29" fill="#bfff00"/>
<rect x="-2" y="30" fill="#00ff4c"/>
<rect x="-1" y="30" fill="#00ff60"/>
<rect x="0" y="30" fill="#00ff71"/>
<rect x="1" y="30" fill="#00ff81"/>
<rect x="2" y="30" fill="#00ff90"/>
<rect x="3" y="30" fill="#00ff9d"/>
<rect x="4" y="30" fill="#00ffa8"/>
<rect x="5" y="30" fill="#00ffb1"/>
<rect x="6" y="30" fill="#00ffb9"/>
<rect x="7" y="30" fill="#00ffc0"/>
<rect x="8" y="30" fill="#00ffc4"/>
<rect x="9" y="30" fill="#00ffc7"/>
<rect x="10" y="30" fill="#00ffc9"/>
<rect x="11" y="30" fill="#00ffc9"/>
<rect x="12" y="30" fill="#00ffc7"/>
<rect x="13" y="30" fill="#00ffc4"/>
<rect x="14" y="30" fill="#00ffbf"/>
<rect x="15" y="30" fill="#00ffb8"/>
<rect x="16" y="30" fill="#00ffb0"/>
<rect x="17" y="30" fill="#00ffa6"/>
<rect x="18" y="30" fill="#00ff9a"/>
<rect x="19" y="30" fill="#00ff8d"/>
<rect x="20" y="30" fill="#00ff7e"/>
<rect x="21" y="30" fill="#00ff6e"/>
<rect x="22" y="30" fill="#00ff5c"/>
<rect x="23" y="30" fill="#00ff48"/>
<rect x="24" y="30" fill="#00ff33"/>
<rect x="25" y="30" fill="#00ff1c"/>
<rect x="26" y="30" fill="#00ff04"/>
<rect x="27" y="30" fill="#16ff00"/>
<rect x="28" y="30" fill="#31ff00"/>
<rect x="29" y="30" fill="#4dff00"/>
<rect x="30" y="30" fill="#6bff00"/>
<rect x="31" y="30" fill="#8bff00"/>
<rect x="32" y="30" fill="#acff00"/>
<rect x="33" y="30" fill="#cfff00"/>
<rect x="-2" y="31" fill="#00ff36"/>
<rect x="-1" y="31" fill="#00ff49"/>
<rect x="0" y="31" fill="#00ff5b"/>
<rect x="1" y="31" fill="#00ff6b"/>
<rect x="2" y="31" fill="#00ff7a"/>
<rect x="3" y="31" fill="#00ff87"/>
<rect x="4" y="31" fill="#00ff92"/>
<rect x="5" y="31" fill="#00ff9c"/>
<rect x="6" y="31" fill="#00ffa4"/>
<rect x="7" y="31" fill="#00ffaa"/>
<rect x="8" y="31" fill="#00ffaf"/>
<rect x="9" y="31" fill="#00ffb2"/>
<rect x="10" y="31" fill="#00ffb4"/>
<rect x="11" y="31" fill="#00ffb4"/>
<rect x="12" y="31" fill="#00ffb2"/>
<rect x="13" y="31" fill="#00ffaf"/>
<rect x="14" y="31" fill="#00ffaa"/>
<rect x="15" y="31" fill="#00ffa3"/>
<rect x="16" y="31" fill="#00ff9b"/>
<rect x="17" y="31" fill="#00ff92"/>
<rect x="18" y="31" fill="#00ff86"/>
<rect x="19" y="31" fill="#00ff79"/>
<rect x="20" y="31" fill="#00ff6b"/>
<rect x="21" y="31" fill="#00ff5a"/>
<rect x="22" y="31" fill="#00ff49"/>
<rect x="23" y="31" fill="#00ff35"/>
<rect x="24" y="31" fill="#00ff20"/>
<rect x="25" y="31" fill="#00ff09"/>
<rect x="26" y="31" fill="#0fff00"/>
<rect x="27" y="31" fill="#28ff00"/>
<rect x="28" y="31" fill="#43ff00"/>
<rect x="29" y="31" fill="#5fff00"/>
<rect x="30" y="31" fill="#7dff00"/>
<rect x="31" y="31" fill="#9dff00"/>
<rect x="32" y="31" fill="#beff00"/>
<rect x="33" y="31" fill="#e1ff00"/>
<rect x="-2" y="32" fill="#00ff1d"/>
<rect x="-1" y="32" fill="#00ff31"/>
<rect x="0" y="32" fill="#00ff43"/>
<rect x="1" y="32" fill="#00ff53"/>
<rect x="2" y="32" fill="#00ff62"/>
<rect x="3" y="32" fill="#00ff6f"/>
<rect x="4" y="32" fill="#00ff7b"/>
<rect x="5" y="32" fill="#00ff84"/>
<rect x="6" y="32" fill="#00ff8d"/>
<rect x="7" y="32" fill="#00ff93"/>
<rect x="8" y="32" fill="#00ff98"/>
<rect x="9" y="32" fill="#00ff9c"/>
<rect x="10" y="32" fill="#00ff9d"/>
<rect x="11" y="32" fill="#00ff9d"/>
<rect x="12" y="32" fill="#00ff9c"/>
<rect x="13" y="32" fill="#00ff99"/>
<rect x="14" y="32" fill="#00ff94"/>
<rect x="15" y="32" fill="#00ff8e"/>
<rect x="16" y="32" fill="#00ff86"/>
<rect x="17" y="32" fill="#00ff7c"/>
<rect x="18" y="32" fill="#00ff71"/>
<rect x="19" y="32" fill="#00ff64"/>
<rect x="20" y="32" fill="#00ff55"/>
<rect x="21" y="32" fill="#00ff45"/>
<rect x="22" y="32" fill="#00ff34"/>
<rect x="23" y="32" fill="#00ff20"/>
<rect x="24" y="32" fill="#00ff0b"/>
<rect x="25" y="32" fill="#0bff00"/>
<rect x="26" y="32" fill="#23ff00"/>
<rect x="27" y="32" fill="#3cff00"/>
<rect x="28" y="32" fill="#56ff00"/>
<rect x="29" y="32" fill="#73ff00"/>
<rect x="30" y="32" fill="#91ff00"/>
<rect x="31" y="32" fill="#b0ff00"/>
<rect x="32" y="32" fill="#d1ff00"/>
<rect x="33" y="32" fill="#f4ff00"/>
<rect x="-2" y="33" fill="#00ff04"/>
<rect x="-1" y="33" fill="#00ff18"/>
<rect x="0" y="33" fill="#00ff2a"/>
<rect x="1" y="33" fill="#00ff3a"/>
<rect x="2" y="33" fill="#00ff49"/>
<rect x="3" y="33" fill="#00ff56"/>
<rect x="4" y="33" fill="#00ff62"/>
<rect x="5" y="33" fill="#00ff6c"/>
<rect x="6" y="33" fill="#00ff74"/>
<rect x="7" y="33" fill="#00ff7b"/>
<rect x="8" y="33" fill="#00ff80"/>
<rect x="9" y="33" fill="#00ff83"/>
<rect x="10" y="33" fill="#00ff85"/>
<rect x="11" y="33" fill="#00ff86"/>
<rect x="12" y="33" fill="#00ff84"/>
<rect x="13" y="33" fill="#00ff81"/>
<rect x="14" y="33" fill="#00ff7d"/>
<rect x="15" y="33" fill="#00ff76"/>
<rect x="16" y="33" fill="#00ff6e"/>
<rect x="17" y="33" fill="#00ff65"/>
<rect x="18" y="33" fill="#00ff5a"/>
<rect x="19" y="33" fill="#00ff4d"/>
<rect x="20" y="33" fill="#00ff3f"/>
<rect x="21" y="33" fill="#00ff2f"/>
<rect x="22" y="33" fill="#00ff1d"/>
<rect x="23" y="33" fill="#00ff0a"/>
<rect x="24" y="33" fill="#0bff00"/>
<rect x="25" y="33" fill="#20ff00"/>
<rect x="26" y="33" fill="#38ff00"/>
<rect x="27" y="33" fill="#51ff00"/>
<rect x="28" y="33" fill="#6bff00"/>
<rect x="29" y="33" fill="#88ff00"/>
<rect x="30" y="33" fill="#a5ff00"/>
<rect x="31" y="33" fill="#c5ff00"/>
<rect x="32" y="33" fill="#e6ff00"/>
<rect x="33" y="33" fill="#fff600"/>
</g>
<path d="M162.3 141.6L167.5 136.7L172.6 132.1L177.8 127.8L182.9 123.7L188.1 119.8L193.9 115.7L201.8 110.5L208.8 106.3L213.9 103.4L220.1 100.2L229.4 95.7L234.6 93.5L243.5 89.9L250.0 87.5L258.8 84.7L265.5 82.8L275.9 80.3L281.0 79.2L291.3 77.4L301.7 76.1L312.0 75.2L322.3 74.7L332.6 74.7L343.0 75.1L353.3 75.9L363.6 77.2L373.9 78.9L379.1 79.9L389.4 82.2L399.0 84.7L404.9 86.5L415.1 89.9L420.4 91.8L428.5 95.0L435.9 98.2L441.0 100.6L450.7 105.4L456.5 108.5L461.7 111.4L468.9 115.7L477.0 120.8L482.3 124.5L487.5 128.1L492.6 132.0L498.2 136.3L504.5 141.5L510.5 146.6L516.2 151.8L521.6 156.9L526.7 162.1L531.6 167.3L536.3 172.4L540.8 177.6L545.1 182.7L549.4 188.1L554.6 194.9L559.7 202.2L564.1 208.5L567.4 213.7L570.6 218.8L575.2 226.8L579.4 234.3L582.0 239.5L585.6 246.6L589.4 254.9L591.6 260.1L595.7 270.4L597.6 275.6L601.0 285.6L602.7 291.1L605.7 301.4L607.0 306.5L609.4 316.8L611.4 327.2L612.2 332.3L613.7 342.6L614.8 353.0L615.5 363.3L615.9 373.6L615.9 383.9L615.5 394.2L614.8 404.5L613.7 414.9L612.3 425.2L611.4 430.5L609.3 440.6L606.8 451.0L605.4 456.1L602.3 466.4L600.6 471.6L596.7 481.9L594.6 487.1L590.7 495.8L587.5 502.5L584.8 507.7L580.4 515.7L575.9 523.2L572.6 528.3L569.1 533.5L564.9 539.3L559.7 546.1L554.6 552.3L549.4 558.2L544.3 563.7L539.1 568.9L533.9 573.7L528.8 578.3L523.6 582.6L518.5 586.7L513.3 590.6L506.4 595.4L498.4 600.6L492.6 604.0L487.5 606.8L479.7 610.9L472.0 614.5L466.8 616.8L456.5 620.8L451.4 622.6L441.0 625.9L435.9 627.3L425.5 629.8L416.8 631.5L410.1 632.6L399.7 633.9L389.4 634.8L379.1 635.2L368.8 635.2L358.4 634.8L348.1 634.0L337.8 632.7L330.4 631.5L322.3 630.0L312.0 627.6L306.8 626.3L296.5 623.3L290.1 621.2L281.0 617.9L275.9 615.9L265.5 611.5L260.4 609.1L253.5 605.7L244.9 601.1L239.7 598.2L234.6 595.2L226.8 590.2L219.1 585.1L213.9 581.4L208.8 577.5L203.6 573.5L198.4 569.3L192.8 564.4L187.0 559.3L181.6 554.1L176.4 549.0L171.4 543.8L166.7 538.7L162.3 533.7" fill="none" stroke="#1a1a1a" stroke-width="1.3"/>
<path d="M618.3 38.3L623.6 43.5L628.7 48.6L633.7 53.8L638.5 58.9L643.2 64.1L647.8 69.2L652.7 74.9L657.8 81.1L663.0 87.5L668.1 94.2L672.7 100.2L676.5 105.4L680.1 110.5L683.7 115.7L688.8 123.3L693.9 131.1L697.1 136.3L700.2 141.5L704.3 148.4L709.1 156.9L711.9 162.1L714.6 167.3L719.8 177.4L722.4 182.7L724.9 188.2L729.4 198.2L731.7 203.4L735.2 212.1L737.9 218.8L740.4 225.4L743.6 234.3L745.6 240.1L748.7 249.8L750.7 256.5L753.2 265.3L755.9 275.3L757.2 280.7L759.6 291.1L761.1 297.9L762.7 306.5L764.5 316.8L766.1 327.2L766.8 332.3L768.0 342.6L769.0 353.0L769.8 363.3L770.3 373.6L770.7 383.9L770.8 394.2L770.6 404.5L770.3 414.9L769.7 425.2L768.9 435.5L767.8 445.8L766.5 456.1L765.7 461.3L764.1 471.6L762.1 481.9L761.1 487.2L758.8 497.4L756.2 507.7L754.8 512.9L751.8 523.2L750.2 528.3L746.8 538.7L745.0 543.8L741.1 554.1L739.0 559.3L735.2 568.3L732.4 574.8L730.0 579.9L725.0 590.2L722.3 595.4L719.6 600.6L714.6 609.4L710.7 616.0L707.5 621.2L704.3 626.4L699.1 634.1L694.0 641.6L690.0 647.0L686.1 652.1L682.1 657.3L682.1 657.3" fill="none" stroke="#1a1a1a" stroke-width="1.3"/>
<path d="M762.3 38.3L766.2 43.7L771.4 51.1L776.5 58.7L780.1 64.1L781.7 66.6" fill="none" stroke="#1a1a1a" stroke-width="1.3"/>
</g>
<rect x="162.3" y="38.3" width="619.4" height="619.0" fill="none" stroke="#151515" stroke-width="1.5"/>
<path d="M162.3 657.3v14.5M162.3 38.3h-16M317.2 657.3v14.5M162.3 193.1h-16M472.0 657.3v14.5M162.3 347.8h-16M626.9 657.3v14.5M162.3 502.6h-16M781.7 657.3v14.5M162.3 657.3h-16" stroke="#151515" stroke-width="1.5" fill="none"/>
<text x="162.3" y="698.3" font-size="17.5" text-anchor="middle" textLength="53.5" lengthAdjust="spacingAndGlyphs" fill="#1a1a1a">140.27</text>
<text x="317.2" y="698.3" font-size="17.5" text-anchor="middle" textLength="63.3" lengthAdjust="spacingAndGlyphs" fill="#1a1a1a">155.135</text>
<text x="472.0" y="698.3" font-size="17.5" text-anchor="middle" textLength="29.2" lengthAdjust="spacingAndGlyphs" fill="#1a1a1a">170</text>
<text x="626.9" y="698.3" font-size="17.5" text-anchor="middle" textLength="63.3" lengthAdjust="spacingAndGlyphs" fill="#1a1a1a">184.865</text>
<text x="781.7" y="698.3" font-size="17.5" text-anchor="middle" textLength="53.5" lengthAdjust="spacingAndGlyphs" fill="#1a1a1a">199.73</text>
<text x="140.0" y="39.9" font-size="17.5" text-anchor="end" textLength="63.9" lengthAdjust="spacingAndGlyphs" fill="#1a1a1a">42.9056</text>
<text x="140.0" y="194.7" font-size="17.5" text-anchor="end" textLength="63.9" lengthAdjust="spacingAndGlyphs" fill="#1a1a1a">37.7028</text>
<text x="140.0" y="349.4" font-size="17.5" text-anchor="end" textLength="34.4" lengthAdjust="spacingAndGlyphs" fill="#1a1a1a">32.5</text>
<text x="140.0" y="504.2" font-size="17.5" text-anchor="end" textLength="63.9" lengthAdjust="spacingAndGlyphs" fill="#1a1a1a">27.2972</text>
<text x="140.0" y="658.9" font-size="17.5" text-anchor="end" textLength="63.9" lengthAdjust="spacingAndGlyphs" fill="#1a1a1a">22.0944</text>
<text x="470.7" y="743.9" font-size="24" text-anchor="middle" textLength="167.0" lengthAdjust="spacingAndGlyphs" fill="#1a1a1a">A: Pressure (PSI)</text>
<text x="70.0" y="344.8" font-size="24" text-anchor="middle" textLength="199.0" lengthAdjust="spacingAndGlyphs" transform="rotate(-90 70.0 344.8)" fill="#1a1a1a">B: Temperature (°C)</text>
<text x="471.0" y="25.6" font-size="27" text-anchor="middle" textLength="156.0" lengthAdjust="spacingAndGlyphs" fill="#1a1a1a">Removal (%)</text>
<text x="2.5" y="61.0" font-size="44" font-weight="bold" fill="#000">A</text>
<rect x="597.7" y="353.8" width="31" height="17.4" fill="#fff" stroke="#111" stroke-width="1.2"/>
<text x="613.2" y="366.8" font-size="12" text-anchor="middle" textLength="21.7" lengthAdjust="spacingAndGlyphs" fill="#111">97.8</text>
<rect x="749.5" y="299.6" width="31" height="17.4" fill="#fff" stroke="#111" stroke-width="1.2"/>
<text x="765.0" y="312.6" font-size="12" text-anchor="middle" textLength="21.7" lengthAdjust="spacingAndGlyphs" fill="#111">97.9</text>
<circle cx="472.0" cy="347.8" r="6.1" fill="#d00000" stroke="#3a0a0a" stroke-width="1.3"/>
<text x="457.0" y="351.6" font-size="10.5" text-anchor="middle" font-weight="bold" fill="#12305c">6</text>
<clipPath id="cC"><rect x="158.0" y="857.6" width="621.0" height="620.4"/></clipPath>
<g clip-path="url(#cC)"><g filter="url(#bl)" class="g" transform="translate(158.00 857.60) scale(19.4062 19.3875)">
<rect x="-2" y="-2" fill="#0000ff"/>
<rect x="-1" y="-2" fill="#0000ff"/>
<rect x="0" y="-2" fill="#0000ff"/>
<rect x="1" y="-2" fill="#0000ff"/>
<rect x="2" y="-2" fill="#0000ff"/>
<rect x="3" y="-2" fill="#0000ff"/>
<rect x="4" y="-2" fill="#0000ff"/>
<rect x="5" y="-2" fill="#0000ff"/>
<rect x="6" y="-2" fill="#0000ff"/>
<rect x="7" y="-2" fill="#0000ff"/>
<rect x="8" y="-2" fill="#0000ff"/>
<rect x="9" y="-2" fill="#0000ff"/>
<rect x="10" y="-2" fill="#0000ff"/>
<rect x="11" y="-2" fill="#0000ff"/>
<rect x="12" y="-2" fill="#000aff"/>
<rect x="13" y="-2" fill="#001bff"/>
<rect x="14" y="-2" fill="#002dff"/>
<rect x="15" y="-2" fill="#0040ff"/>
<rect x="16" y="-2" fill="#0058ff"/>
<rect x="17" y="-2" fill="#0075ff"/>
<rect x="18" y="-2" fill="#0093ff"/>
<rect x="19" y="-2" fill="#00b3ff"/>
<rect x="20" y="-2" fill="#00d5ff"/>
<rect x="21" y="-2" fill="#00f9ff"/>
<rect x="22" y="-2" fill="#00ffe3"/>
<rect x="23" y="-2" fill="#00ffc0"/>
<rect x="24" y="-2" fill="#00ff9b"/>
<rect x="25" y="-2" fill="#00ff74"/>
<rect x="26" y="-2" fill="#00ff4c"/>
<rect x="27" y="-2" fill="#00ff22"/>
<rect x="28" y="-2" fill="#09ff00"/>
<rect x="29" y="-2" fill="#34ff00"/>
<rect x="30" y="-2" fill="#61ff00"/>
<rect x="31" y="-2" fill="#90ff00"/>
<rect x="32" y="-2" fill="#c0ff00"/>
<rect x="33" y="-2" fill="#f2ff00"/>
<rect x="-2" y="-1" fill="#0000ff"/>
<rect x="-1" y="-1" fill="#0000ff"/>
<rect x="0" y="-1" fill="#0000ff"/>
<rect x="1" y="-1" fill="#0000ff"/>
<rect x="2" y="-1" fill="#0000ff"/>
<rect x="3" y="-1" fill="#0000ff"/>
<rect x="4" y="-1" fill="#0000ff"/>
<rect x="5" y="-1" fill="#0000ff"/>
<rect x="6" y="-1" fill="#0000ff"/>
<rect x="7" y="-1" fill="#0000ff"/>
<rect x="8" y="-1" fill="#0000ff"/>
<rect x="9" y="-1" fill="#0000ff"/>
<rect x="10" y="-1" fill="#0000ff"/>
<rect x="11" y="-1" fill="#0007ff"/>
<rect x="12" y="-1" fill="#0015ff"/>
<rect x="13" y="-1" fill="#0025ff"/>
<rect x="14" y="-1" fill="#0036ff"/>
<rect x="15" y="-1" fill="#0049ff"/>
<rect x="16" y="-1" fill="#0063ff"/>
<rect x="17" y="-1" fill="#007fff"/>
<rect x="18" y="-1" fill="#009cff"/>
<rect x="19" y="-1" fill="#00bbff"/>
<rect x="20" y="-1" fill="#00dcff"/>
<rect x="21" y="-1" fill="#00ffff"/>
<rect x="22" y="-1" fill="#00ffde"/>
<rect x="23" y="-1" fill="#00ffbb"/>
<rect x="24" y="-1" fill="#00ff97"/>
<rect x="25" y="-1" fill="#00ff72"/>
<rect x="26" y="-1" fill="#00ff4a"/>
<rect x="27" y="-1" fill="#00ff21"/>
<rect x="28" y="-1" fill="#09ff00"/>
<rect x="29" y="-1" fill="#33ff00"/>
<rect x="30" y="-1" fill="#60ff00"/>
<rect x="31" y="-1" fill="#8eff00"/>
<rect x="32" y="-1" fill="#bdff00"/>
<rect x="33" y="-1" fill="#eeff00"/>
<rect x="-2" y="0" fill="#0000ff"/>
<rect x="-1" y="0" fill="#0000ff"/>
<rect x="0" y="0" fill="#0000ff"/>
<rect x="1" y="0" fill="#0000ff"/>
<rect x="2" y="0" fill="#0000ff"/>
<rect x="3" y="0" fill="#0000ff"/>
<rect x="4" y="0" fill="#0000ff"/>
<rect x="5" y="0" fill="#0000ff"/>
<rect x="6" y="0" fill="#0000ff"/>
<rect x="7" y="0" fill="#0000ff"/>
<rect x="8" y="0" fill="#0000ff"/>
<rect x="9" y="0" fill="#0000ff"/>
<rect x="10" y="0" fill="#0005ff"/>
<rect x="11" y="0" fill="#0012ff"/>
<rect x="12" y="0" fill="#0020ff"/>
<rect x="13" y="0" fill="#002fff"/>
<rect x="14" y="0" fill="#003fff"/>
<rect x="15" y="0" fill="#0054ff"/>
<rect x="16" y="0" fill="#006dff"/>
<rect x="17" y="0" fill="#0088ff"/>
<rect x="18" y="0" fill="#00a5ff"/>
<rect x="19" y="0" fill="#00c3ff"/>
<rect x="20" y="0" fill="#00e3ff"/>
<rect x="21" y="0" fill="#00fffa"/>
<rect x="22" y="0" fill="#00ffda"/>
<rect x="23" y="0" fill="#00ffb8"/>
<rect x="24" y="0" fill="#00ff94"/>
<rect x="25" y="0" fill="#00ff70"/>
<rect x="26" y="0" fill="#00ff49"/>
<rect x="27" y="0" fill="#00ff21"/>
<rect x="28" y="0" fill="#08ff00"/>
<rect x="29" y="0" fill="#32ff00"/>
<rect x="30" y="0" fill="#5eff00"/>
<rect x="31" y="0" fill="#8bff00"/>
<rect x="32" y="0" fill="#b9ff00"/>
<rect x="33" y="0" fill="#e9ff00"/>
<rect x="-2" y="1" fill="#0000ff"/>
<rect x="-1" y="1" fill="#0000ff"/>
<rect x="0" y="1" fill="#0000ff"/>
<rect x="1" y="1" fill="#0000ff"/>
<rect x="2" y="1" fill="#0000ff"/>
<rect x="3" y="1" fill="#0000ff"/>
<rect x="4" y="1" fill="#0000ff"/>
<rect x="5" y="1" fill="#0000ff"/>
<rect x="6" y="1" fill="#0000ff"/>
<rect x="7" y="1" fill="#0000ff"/>
<rect x="8" y="1" fill="#0000ff"/>
<rect x="9" y="1" fill="#0006ff"/>
<rect x="10" y="1" fill="#0011ff"/>
<rect x="11" y="1" fill="#001dff"/>
<rect x="12" y="1" fill="#002aff"/>
<rect x="13" y="1" fill="#0039ff"/>
<rect x="14" y="1" fill="#0048ff"/>
<rect x="15" y="1" fill="#005fff"/>
<rect x="16" y="1" fill="#0077ff"/>
<rect x="17" y="1" fill="#0091ff"/>
<rect x="18" y="1" fill="#00adff"/>
<rect x="19" y="1" fill="#00caff"/>
<rect x="20" y="1" fill="#00e9ff"/>
<rect x="21" y="1" fill="#00fff5"/>
<rect x="22" y="1" fill="#00ffd5"/>
<rect x="23" y="1" fill="#00ffb4"/>
<rect x="24" y="1" fill="#00ff92"/>
<rect x="25" y="1" fill="#00ff6e"/>
<rect x="26" y="1" fill="#00ff48"/>
<rect x="27" y="1" fill="#00ff21"/>
<rect x="28" y="1" fill="#07ff00"/>
<rect x="29" y="1" fill="#31ff00"/>
<rect x="30" y="1" fill="#5bff00"/>
<rect x="31" y="1" fill="#88ff00"/>
<rect x="32" y="1" fill="#b5ff00"/>
<rect x="33" y="1" fill="#e5ff00"/>
<rect x="-2" y="2" fill="#0000ff"/>
<rect x="-1" y="2" fill="#0000ff"/>
<rect x="0" y="2" fill="#0000ff"/>
<rect x="1" y="2" fill="#0000ff"/>
<rect x="2" y="2" fill="#0000ff"/>
<rect x="3" y="2" fill="#0000ff"/>
<rect x="4" y="2" fill="#0000ff"/>
<rect x="5" y="2" fill="#0000ff"/>
<rect x="6" y="2" fill="#0000ff"/>
<rect x="7" y="2" fill="#0002ff"/>
<rect x="8" y="2" fill="#000aff"/>
<rect x="9" y="2" fill="#0012ff"/>
<rect x="10" y="2" fill="#001cff"/>
<rect x="11" y="2" fill="#0027ff"/>
<rect x="12" y="2" fill="#0034ff"/>
<rect x="13" y="2" fill="#0042ff"/>
<rect x="14" y="2" fill="#0054ff"/>
<rect x="15" y="2" fill="#0069ff"/>
<rect x="16" y="2" fill="#0081ff"/>
<rect x="17" y="2" fill="#009aff"/>
<rect x="18" y="2" fill="#00b5ff"/>
<rect x="19" y="2" fill="#00d1ff"/>
<rect x="20" y="2" fill="#00efff"/>
<rect x="21" y="2" fill="#00fff0"/>
<rect x="22" y="2" fill="#00ffd2"/>
<rect x="23" y="2" fill="#00ffb2"/>
<rect x="24" y="2" fill="#00ff90"/>
<rect x="25" y="2" fill="#00ff6d"/>
<rect x="26" y="2" fill="#00ff48"/>
<rect x="27" y="2" fill="#00ff22"/>
<rect x="28" y="2" fill="#06ff00"/>
<rect x="29" y="2" fill="#2fff00"/>
<rect x="30" y="2" fill="#58ff00"/>
<rect x="31" y="2" fill="#84ff00"/>
<rect x="32" y="2" fill="#b1ff00"/>
<rect x="33" y="2" fill="#dfff00"/>
<rect x="-2" y="3" fill="#000eff"/>
<rect x="-1" y="3" fill="#0009ff"/>
<rect x="0" y="3" fill="#0005ff"/>
<rect x="1" y="3" fill="#0003ff"/>
<rect x="2" y="3" fill="#0001ff"/>
<rect x="3" y="3" fill="#0002ff"/>
<rect x="4" y="3" fill="#0003ff"/>
<rect x="5" y="3" fill="#0006ff"/>
<rect x="6" y="3" fill="#000aff"/>
<rect x="7" y="3" fill="#000fff"/>
<rect x="8" y="3" fill="#0016ff"/>
<rect x="9" y="3" fill="#001eff"/>
<rect x="10" y="3" fill="#0027ff"/>
<rect x="11" y="3" fill="#0032ff"/>
<rect x="12" y="3" fill="#003eff"/>
<rect x="13" y="3" fill="#004bff"/>
<rect x="14" y="3" fill="#005eff"/>
<rect x="15" y="3" fill="#0073ff"/>
<rect x="16" y="3" fill="#008aff"/>
<rect x="17" y="3" fill="#00a2ff"/>
<rect x="18" y="3" fill="#00bcff"/>
<rect x="19" y="3" fill="#00d7ff"/>
<rect x="20" y="3" fill="#00f5ff"/>
<rect x="21" y="3" fill="#00ffec"/>
<rect x="22" y="3" fill="#00ffcf"/>
<rect x="23" y="3" fill="#00ffaf"/>
<rect x="24" y="3" fill="#00ff8e"/>
<rect x="25" y="3" fill="#00ff6c"/>
<rect x="26" y="3" fill="#00ff48"/>
<rect x="27" y="3" fill="#00ff22"/>
<rect x="28" y="3" fill="#05ff00"/>
<rect x="29" y="3" fill="#2cff00"/>
<rect x="30" y="3" fill="#55ff00"/>
<rect x="31" y="3" fill="#80ff00"/>
<rect x="32" y="3" fill="#acff00"/>
<rect x="33" y="3" fill="#daff00"/>
<rect x="-2" y="4" fill="#0021ff"/>
<rect x="-1" y="4" fill="#001bff"/>
<rect x="0" y="4" fill="#0017ff"/>
<rect x="1" y="4" fill="#0013ff"/>
<rect x="2" y="4" fill="#0012ff"/>
<rect x="3" y="4" fill="#0011ff"/>
<rect x="4" y="4" fill="#0012ff"/>
<rect x="5" y="4" fill="#0014ff"/>
<rect x="6" y="4" fill="#0017ff"/>
<rect x="7" y="4" fill="#001cff"/>
<rect x="8" y="4" fill="#0022ff"/>
<rect x="9" y="4" fill="#0029ff"/>
<rect x="10" y="4" fill="#0032ff"/>
<rect x="11" y="4" fill="#003cff"/>
<rect x="12" y="4" fill="#0047ff"/>
<rect x="13" y="4" fill="#0057ff"/>
<rect x="14" y="4" fill="#0069ff"/>
<rect x="15" y="4" fill="#007dff"/>
<rect x="16" y="4" fill="#0092ff"/>
<rect x="17" y="4" fill="#00a9ff"/>
<rect x="18" y="4" fill="#00c2ff"/>
<rect x="19" y="4" fill="#00ddff"/>
<rect x="20" y="4" fill="#00f9ff"/>
<rect x="21" y="4" fill="#00ffe9"/>
<rect x="22" y="4" fill="#00ffcc"/>
<rect x="23" y="4" fill="#00ffad"/>
<rect x="24" y="4" fill="#00ff8d"/>
<rect x="25" y="4" fill="#00ff6c"/>
<rect x="26" y="4" fill="#00ff49"/>
<rect x="27" y="4" fill="#00ff24"/>
<rect x="28" y="4" fill="#02ff00"/>
<rect x="29" y="4" fill="#29ff00"/>
<rect x="30" y="4" fill="#52ff00"/>
<rect x="31" y="4" fill="#7bff00"/>
<rect x="32" y="4" fill="#a7ff00"/>
<rect x="33" y="4" fill="#d4ff00"/>
<rect x="-2" y="5" fill="#0033ff"/>
<rect x="-1" y="5" fill="#002dff"/>
<rect x="0" y="5" fill="#0028ff"/>
<rect x="1" y="5" fill="#0024ff"/>
<rect x="2" y="5" fill="#0021ff"/>
<rect x="3" y="5" fill="#0020ff"/>
<rect x="4" y="5" fill="#0020ff"/>
<rect x="5" y="5" fill="#0021ff"/>
<rect x="6" y="5" fill="#0024ff"/>
<rect x="7" y="5" fill="#0028ff"/>
<rect x="8" y="5" fill="#002dff"/>
<rect x="9" y="5" fill="#0034ff"/>
<rect x="10" y="5" fill="#003cff"/>
<rect x="11" y="5" fill="#0045ff"/>
<rect x="12" y="5" fill="#0052ff"/>
<rect x="13" y="5" fill="#0061ff"/>
<rect x="14" y="5" fill="#0073ff"/>
<rect x="15" y="5" fill="#0085ff"/>
<rect x="16" y="5" fill="#009aff"/>
<rect x="17" y="5" fill="#00b0ff"/>
<rect x="18" y="5" fill="#00c8ff"/>
<rect x="19" y="5" fill="#00e2ff"/>
<rect x="20" y="5" fill="#00feff"/>
<rect x="21" y="5" fill="#00ffe6"/>
<rect x="22" y="5" fill="#00ffc9"/>
<rect x="23" y="5" fill="#00ffac"/>
<rect x="24" y="5" fill="#00ff8d"/>
<rect x="25" y="5" fill="#00ff6c"/>
<rect x="26" y="5" fill="#00ff49"/>
<rect x="27" y="5" fill="#00ff26"/>
<rect x="28" y="5" fill="#00ff00"/>
<rect x="29" y="5" fill="#26ff00"/>
<rect x="30" y="5" fill="#4dff00"/>
<rect x="31" y="5" fill="#76ff00"/>
<rect x="32" y="5" fill="#a1ff00"/>
<rect x="33" y="5" fill="#cdff00"/>
<rect x="-2" y="6" fill="#0045ff"/>
<rect x="-1" y="6" fill="#003eff"/>
<rect x="0" y="6" fill="#0038ff"/>
<rect x="1" y="6" fill="#0034ff"/>
<rect x="2" y="6" fill="#0031ff"/>
<rect x="3" y="6" fill="#002fff"/>
<rect x="4" y="6" fill="#002eff"/>
<rect x="5" y="6" fill="#002fff"/>
<rect x="6" y="6" fill="#0031ff"/>
<rect x="7" y="6" fill="#0034ff"/>
<rect x="8" y="6" fill="#0039ff"/>
<rect x="9" y="6" fill="#003eff"/>
<rect x="10" y="6" fill="#0046ff"/>
<rect x="11" y="6" fill="#0050ff"/>
<rect x="12" y="6" fill="#005dff"/>
<rect x="13" y="6" fill="#006cff"/>
<rect x="14" y="6" fill="#007cff"/>
<rect x="15" y="6" fill="#008eff"/>
<rect x="16" y="6" fill="#00a2ff"/>
<rect x="17" y="6" fill="#00b7ff"/>
<rect x="18" y="6" fill="#00ceff"/>
<rect x="19" y="6" fill="#00e7ff"/>
<rect x="20" y="6" fill="#00fffd"/>
<rect x="21" y="6" fill="#00ffe3"/>
<rect x="22" y="6" fill="#00ffc8"/>
<rect x="23" y="6" fill="#00ffab"/>
<rect x="24" y="6" fill="#00ff8c"/>
<rect x="25" y="6" fill="#00ff6c"/>
<rect x="26" y="6" fill="#00ff4b"/>
<rect x="27" y="6" fill="#00ff28"/>
<rect x="28" y="6" fill="#00ff03"/>
<rect x="29" y="6" fill="#22ff00"/>
<rect x="30" y="6" fill="#49ff00"/>
<rect x="31" y="6" fill="#71ff00"/>
<rect x="32" y="6" fill="#9bff00"/>
<rect x="33" y="6" fill="#c6ff00"/>
<rect x="-2" y="7" fill="#005bff"/>
<rect x="-1" y="7" fill="#0051ff"/>
<rect x="0" y="7" fill="#0049ff"/>
<rect x="1" y="7" fill="#0043ff"/>
<rect x="2" y="7" fill="#003fff"/>
<rect x="3" y="7" fill="#003dff"/>
<rect x="4" y="7" fill="#003cff"/>
<rect x="5" y="7" fill="#003cff"/>
<rect x="6" y="7" fill="#003dff"/>
<rect x="7" y="7" fill="#003fff"/>
<rect x="8" y="7" fill="#0043ff"/>
<rect x="9" y="7" fill="#0049ff"/>
<rect x="10" y="7" fill="#0051ff"/>
<rect x="11" y="7" fill="#005cff"/>
<rect x="12" y="7" fill="#0068ff"/>
<rect x="13" y="7" fill="#0075ff"/>
<rect x="14" y="7" fill="#0085ff"/>
<rect x="15" y="7" fill="#0096ff"/>
<rect x="16" y="7" fill="#00a9ff"/>
<rect x="17" y="7" fill="#00bdff"/>
<rect x="18" y="7" fill="#00d3ff"/>
<rect x="19" y="7" fill="#00ebff"/>
<rect x="20" y="7" fill="#00fff9"/>
<rect x="21" y="7" fill="#00ffe1"/>
<rect x="22" y="7" fill="#00ffc6"/>
<rect x="23" y="7" fill="#00ffaa"/>
<rect x="24" y="7" fill="#00ff8d"/>
<rect x="25" y="7" fill="#00ff6d"/>
<rect x="26" y="7" fill="#00ff4d"/>
<rect x="27" y="7" fill="#00ff2a"/>
<rect x="28" y="7" fill="#00ff07"/>
<rect x="29" y="7" fill="#1eff00"/>
<rect x="30" y="7" fill="#44ff00"/>
<rect x="31" y="7" fill="#6bff00"/>
<rect x="32" y="7" fill="#94ff00"/>
<rect x="33" y="7" fill="#bfff00"/>
<rect x="-2" y="8" fill="#0072ff"/>
<rect x="-1" y="8" fill="#0067ff"/>
<rect x="0" y="8" fill="#005eff"/>
<rect x="1" y="8" fill="#0056ff"/>
<rect x="2" y="8" fill="#0050ff"/>
<rect x="3" y="8" fill="#004cff"/>
<rect x="4" y="8" fill="#0049ff"/>
<rect x="5" y="8" fill="#0048ff"/>
<rect x="6" y="8" fill="#0049ff"/>
<rect x="7" y="8" fill="#004bff"/>
<rect x="8" y="8" fill="#0050ff"/>
<rect x="9" y="8" fill="#0056ff"/>
<rect x="10" y="8" fill="#005dff"/>
<rect x="11" y="8" fill="#0067ff"/>
<rect x="12" y="8" fill="#0072ff"/>
<rect x="13" y="8" fill="#007eff"/>
<rect x="14" y="8" fill="#008dff"/>
<rect x="15" y="8" fill="#009dff"/>
<rect x="16" y="8" fill="#00afff"/>
<rect x="17" y="8" fill="#00c3ff"/>
<rect x="18" y="8" fill="#00d8ff"/>
<rect x="19" y="8" fill="#00efff"/>
<rect x="20" y="8" fill="#00fff7"/>
<rect x="21" y="8" fill="#00ffdf"/>
<rect x="22" y="8" fill="#00ffc5"/>
<rect x="23" y="8" fill="#00ffaa"/>
<rect x="24" y="8" fill="#00ff8d"/>
<rect x="25" y="8" fill="#00ff6f"/>
<rect x="26" y="8" fill="#00ff4f"/>
<rect x="27" y="8" fill="#00ff2e"/>
<rect x="28" y="8" fill="#00ff0b"/>
<rect x="29" y="8" fill="#19ff00"/>
<rect x="30" y="8" fill="#3eff00"/>
<rect x="31" y="8" fill="#65ff00"/>
<rect x="32" y="8" fill="#8dff00"/>
<rect x="33" y="8" fill="#b7ff00"/>
<rect x="-2" y="9" fill="#0089ff"/>
<rect x="-1" y="9" fill="#007dff"/>
<rect x="0" y="9" fill="#0072ff"/>
<rect x="1" y="9" fill="#006aff"/>
<rect x="2" y="9" fill="#0063ff"/>
<rect x="3" y="9" fill="#005dff"/>
<rect x="4" y="9" fill="#005aff"/>
<rect x="5" y="9" fill="#0058ff"/>
<rect x="6" y="9" fill="#0058ff"/>
<rect x="7" y="9" fill="#005aff"/>
<rect x="8" y="9" fill="#005dff"/>
<rect x="9" y="9" fill="#0062ff"/>
<rect x="10" y="9" fill="#0069ff"/>
<rect x="11" y="9" fill="#0071ff"/>
<rect x="12" y="9" fill="#007bff"/>
<rect x="13" y="9" fill="#0087ff"/>
<rect x="14" y="9" fill="#0095ff"/>
<rect x="15" y="9" fill="#00a4ff"/>
<rect x="16" y="9" fill="#00b5ff"/>
<rect x="17" y="9" fill="#00c8ff"/>
<rect x="18" y="9" fill="#00dcff"/>
<rect x="19" y="9" fill="#00f3ff"/>
<rect x="20" y="9" fill="#00fff5"/>
<rect x="21" y="9" fill="#00ffdd"/>
<rect x="22" y="9" fill="#00ffc5"/>
<rect x="23" y="9" fill="#00ffaa"/>
<rect x="24" y="9" fill="#00ff8e"/>
<rect x="25" y="9" fill="#00ff71"/>
<rect x="26" y="9" fill="#00ff52"/>
<rect x="27" y="9" fill="#00ff31"/>
<rect x="28" y="9" fill="#00ff0f"/>
<rect x="29" y="9" fill="#14ff00"/>
<rect x="30" y="9" fill="#39ff00"/>
<rect x="31" y="9" fill="#5eff00"/>
<rect x="32" y="9" fill="#86ff00"/>
<rect x="33" y="9" fill="#afff00"/>
<rect x="-2" y="10" fill="#009eff"/>
<rect x="-1" y="10" fill="#0091ff"/>
<rect x="0" y="10" fill="#0086ff"/>
<rect x="1" y="10" fill="#007dff"/>
<rect x="2" y="10" fill="#0075ff"/>
<rect x="3" y="10" fill="#006fff"/>
<rect x="4" y="10" fill="#006aff"/>
<rect x="5" y="10" fill="#0068ff"/>
<rect x="6" y="10" fill="#0067ff"/>
<rect x="7" y="10" fill="#0067ff"/>
<rect x="8" y="10" fill="#006aff"/>
<rect x="9" y="10" fill="#006eff"/>
<rect x="10" y="10" fill="#0074ff"/>
<rect x="11" y="10" fill="#007bff"/>
<rect x="12" y="10" fill="#0085ff"/>
<rect x="13" y="10" fill="#0090ff"/>
<rect x="14" y="10" fill="#009cff"/>
<rect x="15" y="10" fill="#00abff"/>
<rect x="16" y="10" fill="#00bbff"/>
<rect x="17" y="10" fill="#00cdff"/>
<rect x="18" y="10" fill="#00e0ff"/>
<rect x="19" y="10" fill="#00f5ff"/>
<rect x="20" y="10" fill="#00fff3"/>
<rect x="21" y="10" fill="#00ffdc"/>
<rect x="22" y="10" fill="#00ffc4"/>
<rect x="23" y="10" fill="#00ffab"/>
<rect x="24" y="10" fill="#00ff90"/>
<rect x="25" y="10" fill="#00ff73"/>
<rect x="26" y="10" fill="#00ff55"/>
<rect x="27" y="10" fill="#00ff35"/>
<rect x="28" y="10" fill="#00ff14"/>
<rect x="29" y="10" fill="#0fff00"/>
<rect x="30" y="10" fill="#32ff00"/>
<rect x="31" y="10" fill="#57ff00"/>
<rect x="32" y="10" fill="#7eff00"/>
<rect x="33" y="10" fill="#a6ff00"/>
<rect x="-2" y="11" fill="#00b4ff"/>
<rect x="-1" y="11" fill="#00a6ff"/>
<rect x="0" y="11" fill="#009aff"/>
<rect x="1" y="11" fill="#008fff"/>
<rect x="2" y="11" fill="#0087ff"/>
<rect x="3" y="11" fill="#007fff"/>
<rect x="4" y="11" fill="#007aff"/>
<rect x="5" y="11" fill="#0077ff"/>
<rect x="6" y="11" fill="#0075ff"/>
<rect x="7" y="11" fill="#0074ff"/>
<rect x="8" y="11" fill="#0076ff"/>
<rect x="9" y="11" fill="#0079ff"/>
<rect x="10" y="11" fill="#007eff"/>
<rect x="11" y="11" fill="#0085ff"/>
<rect x="12" y="11" fill="#008dff"/>
<rect x="13" y="11" fill="#0097ff"/>
<rect x="14" y="11" fill="#00a3ff"/>
<rect x="15" y="11" fill="#00b1ff"/>
<rect x="16" y="11" fill="#00c0ff"/>
<rect x="17" y="11" fill="#00d1ff"/>
<rect x="18" y="11" fill="#00e3ff"/>
<rect x="19" y="11" fill="#00f8ff"/>
<rect x="20" y="11" fill="#00fff2"/>
<rect x="21" y="11" fill="#00ffdc"/>
<rect x="22" y="11" fill="#00ffc5"/>
<rect x="23" y="11" fill="#00ffac"/>
<rect x="24" y="11" fill="#00ff92"/>
<rect x="25" y="11" fill="#00ff76"/>
<rect x="26" y="11" fill="#00ff58"/>
<rect x="27" y="11" fill="#00ff39"/>
<rect x="28" y="11" fill="#00ff19"/>
<rect x="29" y="11" fill="#09ff00"/>
<rect x="30" y="11" fill="#2cff00"/>
<rect x="31" y="11" fill="#50ff00"/>
<rect x="32" y="11" fill="#76ff00"/>
<rect x="33" y="11" fill="#9dff00"/>
<rect x="-2" y="12" fill="#00c9ff"/>
<rect x="-1" y="12" fill="#00baff"/>
<rect x="0" y="12" fill="#00adff"/>
<rect x="1" y="12" fill="#00a1ff"/>
<rect x="2" y="12" fill="#0098ff"/>
<rect x="3" y="12" fill="#0090ff"/>
<rect x="4" y="12" fill="#008aff"/>
<rect x="5" y="12" fill="#0085ff"/>
<rect x="6" y="12" fill="#0082ff"/>
<rect x="7" y="12" fill="#0081ff"/>
<rect x="8" y="12" fill="#0082ff"/>
<rect x="9" y="12" fill="#0084ff"/>
<rect x="10" y="12" fill="#0088ff"/>
<rect x="11" y="12" fill="#008eff"/>
<rect x="12" y="12" fill="#0095ff"/>
<rect x="13" y="12" fill="#009fff"/>
<rect x="14" y="12" fill="#00aaff"/>
<rect x="15" y="12" fill="#00b6ff"/>
<rect x="16" y="12" fill="#00c4ff"/>
<rect x="17" y="12" fill="#00d4ff"/>
<rect x="18" y="12" fill="#00e6ff"/>
<rect x="19" y="12" fill="#00faff"/>
<rect x="20" y="12" fill="#00fff1"/>
<rect x="21" y="12" fill="#00ffdc"/>
<rect x="22" y="12" fill="#00ffc5"/>
<rect x="23" y="12" fill="#00ffae"/>
<rect x="24" y="12" fill="#00ff94"/>
<rect x="25" y="12" fill="#00ff79"/>
<rect x="26" y="12" fill="#00ff5c"/>
<rect x="27" y="12" fill="#00ff3e"/>
<rect x="28" y="12" fill="#00ff1f"/>
<rect x="29" y="12" fill="#03ff00"/>
<rect x="30" y="12" fill="#24ff00"/>
<rect x="31" y="12" fill="#48ff00"/>
<rect x="32" y="12" fill="#6dff00"/>
<rect x="33" y="12" fill="#93ff00"/>
<rect x="-2" y="13" fill="#00ddff"/>
<rect x="-1" y="13" fill="#00cdff"/>
<rect x="0" y="13" fill="#00bfff"/>
<rect x="1" y="13" fill="#00b3ff"/>
<rect x="2" y="13" fill="#00a9ff"/>
<rect x="3" y="13" fill="#00a0ff"/>
<rect x="4" y="13" fill="#0099ff"/>
<rect x="5" y="13" fill="#0093ff"/>
<rect x="6" y="13" fill="#008fff"/>
<rect x="7" y="13" fill="#008dff"/>
<rect x="8" y="13" fill="#008dff"/>
<rect x="9" y="13" fill="#008fff"/>
<rect x="10" y="13" fill="#0092ff"/>
<rect x="11" y="13" fill="#0097ff"/>
<rect x="12" y="13" fill="#009dff"/>
<rect x="13" y="13" fill="#00a5ff"/>
<rect x="14" y="13" fill="#00afff"/>
<rect x="15" y="13" fill="#00bbff"/>
<rect x="16" y="13" fill="#00c9ff"/>
<rect x="17" y="13" fill="#00d8ff"/>
<rect x="18" y="13" fill="#00e9ff"/>
<rect x="19" y="13" fill="#00fbff"/>
<rect x="20" y="13" fill="#00fff0"/>
<rect x="21" y="13" fill="#00ffdc"/>
<rect x="22" y="13" fill="#00ffc7"/>
<rect x="23" y="13" fill="#00ffb0"/>
<rect x="24" y="13" fill="#00ff97"/>
<rect x="25" y="13" fill="#00ff7d"/>
<rect x="26" y="13" fill="#00ff61"/>
<rect x="27" y="13" fill="#00ff44"/>
<rect x="28" y="13" fill="#00ff25"/>
<rect x="29" y="13" fill="#00ff04"/>
<rect x="30" y="13" fill="#1dff00"/>
<rect x="31" y="13" fill="#3fff00"/>
<rect x="32" y="13" fill="#64ff00"/>
<rect x="33" y="13" fill="#89ff00"/>
<rect x="-2" y="14" fill="#00f1ff"/>
<rect x="-1" y="14" fill="#00e0ff"/>
<rect x="0" y="14" fill="#00d1ff"/>
<rect x="1" y="14" fill="#00c4ff"/>
<rect x="2" y="14" fill="#00b9ff"/>
<rect x="3" y="14" fill="#00afff"/>
<rect x="4" y="14" fill="#00a7ff"/>
<rect x="5" y="14" fill="#00a1ff"/>
<rect x="6" y="14" fill="#009cff"/>
<rect x="7" y="14" fill="#0099ff"/>
<rect x="8" y="14" fill="#0098ff"/>
<rect x="9" y="14" fill="#0099ff"/>
<rect x="10" y="14" fill="#009bff"/>
<rect x="11" y="14" fill="#009fff"/>
<rect x="12" y="14" fill="#00a4ff"/>
<rect x="13" y="14" fill="#00acff"/>
<rect x="14" y="14" fill="#00b5ff"/>
<rect x="15" y="14" fill="#00c0ff"/>
<rect x="16" y="14" fill="#00ccff"/>
<rect x="17" y="14" fill="#00daff"/>
<rect x="18" y="14" fill="#00eaff"/>
<rect x="19" y="14" fill="#00fcff"/>
<rect x="20" y="14" fill="#00fff0"/>
<rect x="21" y="14" fill="#00ffdd"/>
<rect x="22" y="14" fill="#00ffc8"/>
<rect x="23" y="14" fill="#00ffb2"/>
<rect x="24" y="14" fill="#00ff9a"/>
<rect x="25" y="14" fill="#00ff81"/>
<rect x="26" y="14" fill="#00ff66"/>
<rect x="27" y="14" fill="#00ff49"/>
<rect x="28" y="14" fill="#00ff2b"/>
<rect x="29" y="14" fill="#00ff0c"/>
<rect x="30" y="14" fill="#15ff00"/>
<rect x="31" y="14" fill="#37ff00"/>
<rect x="32" y="14" fill="#5aff00"/>
<rect x="33" y="14" fill="#7fff00"/>
<rect x="-2" y="15" fill="#00fffa"/>
<rect x="-1" y="15" fill="#00f3ff"/>
<rect x="0" y="15" fill="#00e3ff"/>
<rect x="1" y="15" fill="#00d5ff"/>
<rect x="2" y="15" fill="#00c9ff"/>
<rect x="3" y="15" fill="#00beff"/>
<rect x="4" y="15" fill="#00b5ff"/>
<rect x="5" y="15" fill="#00aeff"/>
<rect x="6" y="15" fill="#00a8ff"/>
<rect x="7" y="15" fill="#00a5ff"/>
<rect x="8" y="15" fill="#00a2ff"/>
<rect x="9" y="15" fill="#00a2ff"/>
<rect x="10" y="15" fill="#00a3ff"/>
<rect x="11" y="15" fill="#00a6ff"/>
<rect x="12" y="15" fill="#00abff"/>
<rect x="13" y="15" fill="#00b2ff"/>
<rect x="14" y="15" fill="#00baff"/>
<rect x="15" y="15" fill="#00c4ff"/>
<rect x="16" y="15" fill="#00cfff"/>
<rect x="17" y="15" fill="#00ddff"/>
<rect x="18" y="15" fill="#00ecff"/>
<rect x="19" y="15" fill="#00fcff"/>
<rect x="20" y="15" fill="#00fff1"/>
<rect x="21" y="15" fill="#00ffde"/>
<rect x="22" y="15" fill="#00ffca"/>
<rect x="23" y="15" fill="#00ffb5"/>
<rect x="24" y="15" fill="#00ff9e"/>
<rect x="25" y="15" fill="#00ff85"/>
<rect x="26" y="15" fill="#00ff6b"/>
<rect x="27" y="15" fill="#00ff50"/>
<rect x="28" y="15" fill="#00ff32"/>
<rect x="29" y="15" fill="#00ff14"/>
<rect x="30" y="15" fill="#0cff00"/>
<rect x="31" y="15" fill="#2dff00"/>
<rect x="32" y="15" fill="#50ff00"/>
<rect x="33" y="15" fill="#74ff00"/>
<rect x="-2" y="16" fill="#00ffe9"/>
<rect x="-1" y="16" fill="#00fffa"/>
<rect x="0" y="16" fill="#00f4ff"/>
<rect x="1" y="16" fill="#00e5ff"/>
<rect x="2" y="16" fill="#00d8ff"/>
<rect x="3" y="16" fill="#00ccff"/>
<rect x="4" y="16" fill="#00c3ff"/>
<rect x="5" y="16" fill="#00baff"/>
<rect x="6" y="16" fill="#00b4ff"/>
<rect x="7" y="16" fill="#00afff"/>
<rect x="8" y="16" fill="#00acff"/>
<rect x="9" y="16" fill="#00abff"/>
<rect x="10" y="16" fill="#00abff"/>
<rect x="11" y="16" fill="#00aeff"/>
<rect x="12" y="16" fill="#00b1ff"/>
<rect x="13" y="16" fill="#00b7ff"/>
<rect x="14" y="16" fill="#00beff"/>
<rect x="15" y="16" fill="#00c7ff"/>
<rect x="16" y="16" fill="#00d2ff"/>
<rect x="17" y="16" fill="#00deff"/>
<rect x="18" y="16" fill="#00edff"/>
<rect x="19" y="16" fill="#00fcff"/>
<rect x="20" y="16" fill="#00fff1"/>
<rect x="21" y="16" fill="#00ffe0"/>
<rect x="22" y="16" fill="#00ffcd"/>
<rect x="23" y="16" fill="#00ffb8"/>
<rect x="24" y="16" fill="#00ffa2"/>
<rect x="25" y="16" fill="#00ff8a"/>
<rect x="26" y="16" fill="#00ff71"/>
<rect x="27" y="16" fill="#00ff56"/>
<rect x="28" y="16" fill="#00ff3a"/>
<rect x="29" y="16" fill="#00ff1c"/>
<rect x="30" y="16" fill="#04ff00"/>
<rect x="31" y="16" fill="#24ff00"/>
<rect x="32" y="16" fill="#46ff00"/>
<rect x="33" y="16" fill="#69ff00"/>
<rect x="-2" y="17" fill="#00ffd8"/>
<rect x="-1" y="17" fill="#00ffea"/>
<rect x="0" y="17" fill="#00fffa"/>
<rect x="1" y="17" fill="#00f5ff"/>
<rect x="2" y="17" fill="#00e7ff"/>
<rect x="3" y="17" fill="#00daff"/>
<rect x="4" y="17" fill="#00d0ff"/>
<rect x="5" y="17" fill="#00c7ff"/>
<rect x="6" y="17" fill="#00bfff"/>
<rect x="7" y="17" fill="#00baff"/>
<rect x="8" y="17" fill="#00b6ff"/>
<rect x="9" y="17" fill="#00b4ff"/>
<rect x="10" y="17" fill="#00b3ff"/>
<rect x="11" y="17" fill="#00b4ff"/>
<rect x="12" y="17" fill="#00b7ff"/>
<rect x="13" y="17" fill="#00bcff"/>
<rect x="14" y="17" fill="#00c2ff"/>
<rect x="15" y="17" fill="#00caff"/>
<rect x="16" y="17" fill="#00d4ff"/>
<rect x="17" y="17" fill="#00e0ff"/>
<rect x="18" y="17" fill="#00edff"/>
<rect x="19" y="17" fill="#00fcff"/>
<rect x="20" y="17" fill="#00fff3"/>
<rect x="21" y="17" fill="#00ffe2"/>
<rect x="22" y="17" fill="#00ffd0"/>
<rect x="23" y="17" fill="#00ffbc"/>
<rect x="24" y="17" fill="#00ffa7"/>
<rect x="25" y="17" fill="#00ff90"/>
<rect x="26" y="17" fill="#00ff77"/>
<rect x="27" y="17" fill="#00ff5d"/>
<rect x="28" y="17" fill="#00ff42"/>
<rect x="29" y="17" fill="#00ff25"/>
<rect x="30" y="17" fill="#00ff06"/>
<rect x="31" y="17" fill="#1aff00"/>
<rect x="32" y="17" fill="#3bff00"/>
<rect x="33" y="17" fill="#5dff00"/>
<rect x="-2" y="18" fill="#00ffc8"/>
<rect x="-1" y="18" fill="#00ffda"/>
<rect x="0" y="18" fill="#00ffeb"/>
<rect x="1" y="18" fill="#00fffa"/>
<rect x="2" y="18" fill="#00f5ff"/>
<rect x="3" y="18" fill="#00e8ff"/>
<rect x="4" y="18" fill="#00dcff"/>
<rect x="5" y="18" fill="#00d2ff"/>
<rect x="6" y="18" fill="#00caff"/>
<rect x="7" y="18" fill="#00c3ff"/>
<rect x="8" y="18" fill="#00bfff"/>
<rect x="9" y="18" fill="#00bcff"/>
<rect x="10" y="18" fill="#00baff"/>
<rect x="11" y="18" fill="#00bbff"/>
<rect x="12" y="18" fill="#00bdff"/>
<rect x="13" y="18" fill="#00c0ff"/>
<rect x="14" y="18" fill="#00c6ff"/>
<rect x="15" y="18" fill="#00cdff"/>
<rect x="16" y="18" fill="#00d6ff"/>
<rect x="17" y="18" fill="#00e0ff"/>
<rect x="18" y="18" fill="#00edff"/>
<rect x="19" y="18" fill="#00fbff"/>
<rect x="20" y="18" fill="#00fff5"/>
<rect x="21" y="18" fill="#00ffe5"/>
<rect x="22" y="18" fill="#00ffd3"/>
<rect x="23" y="18" fill="#00ffc0"/>
<rect x="24" y="18" fill="#00ffac"/>
<rect x="25" y="18" fill="#00ff96"/>
<rect x="26" y="18" fill="#00ff7e"/>
<rect x="27" y="18" fill="#00ff65"/>
<rect x="28" y="18" fill="#00ff4a"/>
<rect x="29" y="18" fill="#00ff2e"/>
<rect x="30" y="18" fill="#00ff10"/>
<rect x="31" y="18" fill="#0fff00"/>
<rect x="32" y="18" fill="#2fff00"/>
<rect x="33" y="18" fill="#51ff00"/>
<rect x="-2" y="19" fill="#00ffb8"/>
<rect x="-1" y="19" fill="#00ffcb"/>
<rect x="0" y="19" fill="#00ffdd"/>
<rect x="1" y="19" fill="#00ffed"/>
<rect x="2" y="19" fill="#00fffb"/>
<rect x="3" y="19" fill="#00f5ff"/>
<rect x="4" y="19" fill="#00e8ff"/>
<rect x="5" y="19" fill="#00ddff"/>
<rect x="6" y="19" fill="#00d4ff"/>
<rect x="7" y="19" fill="#00cdff"/>
<rect x="8" y="19" fill="#00c7ff"/>
<rect x="9" y="19" fill="#00c3ff"/>
<rect x="10" y="19" fill="#00c1ff"/>
<rect x="11" y="19" fill="#00c0ff"/>
<rect x="12" y="19" fill="#00c1ff"/>
<rect x="13" y="19" fill="#00c4ff"/>
<rect x="14" y="19" fill="#00c9ff"/>
<rect x="15" y="19" fill="#00cfff"/>
<rect x="16" y="19" fill="#00d7ff"/>
<rect x="17" y="19" fill="#00e1ff"/>
<rect x="18" y="19" fill="#00ecff"/>
<rect x="19" y="19" fill="#00f9ff"/>
<rect x="20" y="19" fill="#00fff7"/>
<rect x="21" y="19" fill="#00ffe8"/>
<rect x="22" y="19" fill="#00ffd7"/>
<rect x="23" y="19" fill="#00ffc5"/>
<rect x="24" y="19" fill="#00ffb1"/>
<rect x="25" y="19" fill="#00ff9c"/>
<rect x="26" y="19" fill="#00ff85"/>
<rect x="27" y="19" fill="#00ff6d"/>
<rect x="28" y="19" fill="#00ff53"/>
<rect x="29" y="19" fill="#00ff37"/>
<rect x="30" y="19" fill="#00ff1a"/>
<rect x="31" y="19" fill="#04ff00"/>
<rect x="32" y="19" fill="#24ff00"/>
<rect x="33" y="19" fill="#44ff00"/>
<rect x="-2" y="20" fill="#00ffa8"/>
<rect x="-1" y="20" fill="#00ffbc"/>
<rect x="0" y="20" fill="#00ffcf"/>
<rect x="1" y="20" fill="#00ffe0"/>
<rect x="2" y="20" fill="#00ffef"/>
<rect x="3" y="20" fill="#00fffd"/>
<rect x="4" y="20" fill="#00f4ff"/>
<rect x="5" y="20" fill="#00e8ff"/>
<rect x="6" y="20" fill="#00deff"/>
<rect x="7" y="20" fill="#00d6ff"/>
<rect x="8" y="20" fill="#00cfff"/>
<rect x="9" y="20" fill="#00caff"/>
<rect x="10" y="20" fill="#00c7ff"/>
<rect x="11" y="20" fill="#00c6ff"/>
<rect x="12" y="20" fill="#00c6ff"/>
<rect x="13" y="20" fill="#00c8ff"/>
<rect x="14" y="20" fill="#00cbff"/>
<rect x="15" y="20" fill="#00d1ff"/>
<rect x="16" y="20" fill="#00d8ff"/>
<rect x="17" y="20" fill="#00e1ff"/>
<rect x="18" y="20" fill="#00ebff"/>
<rect x="19" y="20" fill="#00f7ff"/>
<rect x="20" y="20" fill="#00fff9"/>
<rect x="21" y="20" fill="#00ffeb"/>
<rect x="22" y="20" fill="#00ffdb"/>
<rect x="23" y="20" fill="#00ffca"/>
<rect x="24" y="20" fill="#00ffb7"/>
<rect x="25" y="20" fill="#00ffa3"/>
<rect x="26" y="20" fill="#00ff8d"/>
<rect x="27" y="20" fill="#00ff75"/>
<rect x="28" y="20" fill="#00ff5c"/>
<rect x="29" y="20" fill="#00ff41"/>
<rect x="30" y="20" fill="#00ff25"/>
<rect x="31" y="20" fill="#00ff07"/>
<rect x="32" y="20" fill="#17ff00"/>
<rect x="33" y="20" fill="#38ff00"/>
<rect x="-2" y="21" fill="#00ff99"/>
<rect x="-1" y="21" fill="#00ffae"/>
<rect x="0" y="21" fill="#00ffc2"/>
<rect x="1" y="21" fill="#00ffd3"/>
<rect x="2" y="21" fill="#00ffe3"/>
<rect x="3" y="21" fill="#00fff2"/>
<rect x="4" y="21" fill="#00ffff"/>
<rect x="5" y="21" fill="#00f2ff"/>
<rect x="6" y="21" fill="#00e7ff"/>
<rect x="7" y="21" fill="#00deff"/>
<rect x="8" y="21" fill="#00d7ff"/>
<rect x="9" y="21" fill="#00d1ff"/>
<rect x="10" y="21" fill="#00cdff"/>
<rect x="11" y="21" fill="#00caff"/>
<rect x="12" y="21" fill="#00caff"/>
<rect x="13" y="21" fill="#00cbff"/>
<rect x="14" y="21" fill="#00cdff"/>
<rect x="15" y="21" fill="#00d2ff"/>
<rect x="16" y="21" fill="#00d8ff"/>
<rect x="17" y="21" fill="#00e0ff"/>
<rect x="18" y="21" fill="#00eaff"/>
<rect x="19" y="21" fill="#00f5ff"/>
<rect x="20" y="21" fill="#00fffc"/>
<rect x="21" y="21" fill="#00ffef"/>
<rect x="22" y="21" fill="#00ffe0"/>
<rect x="23" y="21" fill="#00ffd0"/>
<rect x="24" y="21" fill="#00ffbd"/>
<rect x="25" y="21" fill="#00ffaa"/>
<rect x="26" y="21" fill="#00ff95"/>
<rect x="27" y="21" fill="#00ff7e"/>
<rect x="28" y="21" fill="#00ff66"/>
<rect x="29" y="21" fill="#00ff4c"/>
<rect x="30" y="21" fill="#00ff30"/>
<rect x="31" y="21" fill="#00ff13"/>
<rect x="32" y="21" fill="#0bff00"/>
<rect x="33" y="21" fill="#2aff00"/>
<rect x="-2" y="22" fill="#00ff8b"/>
<rect x="-1" y="22" fill="#00ffa1"/>
<rect x="0" y="22" fill="#00ffb5"/>
<rect x="1" y="22" fill="#00ffc7"/>
<rect x="2" y="22" fill="#00ffd8"/>
<rect x="3" y="22" fill="#00ffe8"/>
<rect x="4" y="22" fill="#00fff5"/>
<rect x="5" y="22" fill="#00fcff"/>
<rect x="6" y="22" fill="#00f0ff"/>
<rect x="7" y="22" fill="#00e6ff"/>
<rect x="8" y="22" fill="#00deff"/>
<rect x="9" y="22" fill="#00d7ff"/>
<rect x="10" y="22" fill="#00d2ff"/>
<rect x="11" y="22" fill="#00cfff"/>
<rect x="12" y="22" fill="#00cdff"/>
<rect x="13" y="22" fill="#00cdff"/>
<rect x="14" y="22" fill="#00cfff"/>
<rect x="15" y="22" fill="#00d3ff"/>
<rect x="16" y="22" fill="#00d8ff"/>
<rect x="17" y="22" fill="#00dfff"/>
<rect x="18" y="22" fill="#00e7ff"/>
<rect x="19" y="22" fill="#00f2ff"/>
<rect x="20" y="22" fill="#00feff"/>
<rect x="21" y="22" fill="#00fff3"/>
<rect x="22" y="22" fill="#00ffe5"/>
<rect x="23" y="22" fill="#00ffd5"/>
<rect x="24" y="22" fill="#00ffc4"/>
<rect x="25" y="22" fill="#00ffb1"/>
<rect x="26" y="22" fill="#00ff9d"/>
<rect x="27" y="22" fill="#00ff87"/>
<rect x="28" y="22" fill="#00ff70"/>
<rect x="29" y="22" fill="#00ff57"/>
<rect x="30" y="22" fill="#00ff3c"/>
<rect x="31" y="22" fill="#00ff20"/>
<rect x="32" y="22" fill="#00ff02"/>
<rect x="33" y="22" fill="#1cff00"/>
<rect x="-2" y="23" fill="#00ff7d"/>
<rect x="-1" y="23" fill="#00ff93"/>
<rect x="0" y="23" fill="#00ffa8"/>
<rect x="1" y="23" fill="#00ffbc"/>
<rect x="2" y="23" fill="#00ffcd"/>
<rect x="3" y="23" fill="#00ffde"/>
<rect x="4" y="23" fill="#00ffec"/>
<rect x="5" y="23" fill="#00fff9"/>
<rect x="6" y="23" fill="#00f8ff"/>
<rect x="7" y="23" fill="#00edff"/>
<rect x="8" y="23" fill="#00e4ff"/>
<rect x="9" y="23" fill="#00dcff"/>
<rect x="10" y="23" fill="#00d7ff"/>
<rect x="11" y="23" fill="#00d2ff"/>
<rect x="12" y="23" fill="#00d0ff"/>
<rect x="13" y="23" fill="#00cfff"/>
<rect x="14" y="23" fill="#00d0ff"/>
<rect x="15" y="23" fill="#00d3ff"/>
<rect x="16" y="23" fill="#00d7ff"/>
<rect x="17" y="23" fill="#00ddff"/>
<rect x="18" y="23" fill="#00e5ff"/>
<rect x="19" y="23" fill="#00eeff"/>
<rect x="20" y="23" fill="#00faff"/>
<rect x="21" y="23" fill="#00fff8"/>
<rect x="22" y="23" fill="#00ffeb"/>
<rect x="23" y="23" fill="#00ffdc"/>
<rect x="24" y="23" fill="#00ffcb"/>
<rect x="25" y="23" fill="#00ffb9"/>
<rect x="26" y="23" fill="#00ffa6"/>
<rect x="27" y="23" fill="#00ff91"/>
<rect x="28" y="23" fill="#00ff7a"/>
<rect x="29" y="23" fill="#00ff62"/>
<rect x="30" y="23" fill="#00ff48"/>
<rect x="31" y="23" fill="#00ff2d"/>
<rect x="32" y="23" fill="#00ff10"/>
<rect x="33" y="23" fill="#0eff00"/>
<rect x="-2" y="24" fill="#00ff6f"/>
<rect x="-1" y="24" fill="#00ff86"/>
<rect x="0" y="24" fill="#00ff9c"/>
<rect x="1" y="24" fill="#00ffb0"/>
<rect x="2" y="24" fill="#00ffc3"/>
<rect x="3" y="24" fill="#00ffd4"/>
<rect x="4" y="24" fill="#00ffe4"/>
<rect x="5" y="24" fill="#00fff1"/>
<rect x="6" y="24" fill="#00fffe"/>
<rect x="7" y="24" fill="#00f4ff"/>
<rect x="8" y="24" fill="#00eaff"/>
<rect x="9" y="24" fill="#00e2ff"/>
<rect x="10" y="24" fill="#00dbff"/>
<rect x="11" y="24" fill="#00d6ff"/>
<rect x="12" y="24" fill="#00d2ff"/>
<rect x="13" y="24" fill="#00d1ff"/>
<rect x="14" y="24" fill="#00d1ff"/>
<rect x="15" y="24" fill="#00d2ff"/>
<rect x="16" y="24" fill="#00d6ff"/>
<rect x="17" y="24" fill="#00dbff"/>
<rect x="18" y="24" fill="#00e2ff"/>
<rect x="19" y="24" fill="#00ebff"/>
<rect x="20" y="24" fill="#00f5ff"/>
<rect x="21" y="24" fill="#00fffd"/>
<rect x="22" y="24" fill="#00fff1"/>
<rect x="23" y="24" fill="#00ffe3"/>
<rect x="24" y="24" fill="#00ffd3"/>
<rect x="25" y="24" fill="#00ffc2"/>
<rect x="26" y="24" fill="#00ffaf"/>
<rect x="27" y="24" fill="#00ff9b"/>
<rect x="28" y="24" fill="#00ff85"/>
<rect x="29" y="24" fill="#00ff6e"/>
<rect x="30" y="24" fill="#00ff55"/>
<rect x="31" y="24" fill="#00ff3a"/>
<rect x="32" y="24" fill="#00ff1e"/>
<rect x="33" y="24" fill="#00ff01"/>
<rect x="-2" y="25" fill="#00ff62"/>
<rect x="-1" y="25" fill="#00ff7a"/>
<rect x="0" y="25" fill="#00ff90"/>
<rect x="1" y="25" fill="#00ffa5"/>
<rect x="2" y="25" fill="#00ffb9"/>
<rect x="3" y="25" fill="#00ffcb"/>
<rect x="4" y="25" fill="#00ffdb"/>
<rect x="5" y="25" fill="#00ffea"/>
<rect x="6" y="25" fill="#00fff7"/>
<rect x="7" y="25" fill="#00fbff"/>
<rect x="8" y="25" fill="#00f0ff"/>
<rect x="9" y="25" fill="#00e6ff"/>
<rect x="10" y="25" fill="#00deff"/>
<rect x="11" y="25" fill="#00d8ff"/>
<rect x="12" y="25" fill="#00d4ff"/>
<rect x="13" y="25" fill="#00d2ff"/>
<rect x="14" y="25" fill="#00d1ff"/>
<rect x="15" y="25" fill="#00d2ff"/>
<rect x="16" y="25" fill="#00d4ff"/>
<rect x="17" y="25" fill="#00d8ff"/>
<rect x="18" y="25" fill="#00deff"/>
<rect x="19" y="25" fill="#00e6ff"/>
<rect x="20" y="25" fill="#00f0ff"/>
<rect x="21" y="25" fill="#00fbff"/>
<rect x="22" y="25" fill="#00fff7"/>
<rect x="23" y="25" fill="#00ffea"/>
<rect x="24" y="25" fill="#00ffdb"/>
<rect x="25" y="25" fill="#00ffcb"/>
<rect x="26" y="25" fill="#00ffb9"/>
<rect x="27" y="25" fill="#00ffa6"/>
<rect x="28" y="25" fill="#00ff91"/>
<rect x="29" y="25" fill="#00ff7a"/>
<rect x="30" y="25" fill="#00ff62"/>
<rect x="31" y="25" fill="#00ff48"/>
<rect x="32" y="25" fill="#00ff2d"/>
<rect x="33" y="25" fill="#00ff10"/>
<rect x="-2" y="26" fill="#00ff55"/>
<rect x="-1" y="26" fill="#00ff6e"/>
<rect x="0" y="26" fill="#00ff85"/>
<rect x="1" y="26" fill="#00ff9b"/>
<rect x="2" y="26" fill="#00ffaf"/>
<rect x="3" y="26" fill="#00ffc2"/>
<rect x="4" y="26" fill="#00ffd3"/>
<rect x="5" y="26" fill="#00ffe3"/>
<rect x="6" y="26" fill="#00fff1"/>
<rect x="7" y="26" fill="#00fffd"/>
<rect x="8" y="26" fill="#00f5ff"/>
<rect x="9" y="26" fill="#00eaff"/>
<rect x="10" y="26" fill="#00e2ff"/>
<rect x="11" y="26" fill="#00dbff"/>
<rect x="12" y="26" fill="#00d6ff"/>
<rect x="13" y="26" fill="#00d2ff"/>
<rect x="14" y="26" fill="#00d0ff"/>
<rect x="15" y="26" fill="#00d0ff"/>
<rect x="16" y="26" fill="#00d2ff"/>
<rect x="17" y="26" fill="#00d5ff"/>
<rect x="18" y="26" fill="#00daff"/>
<rect x="19" y="26" fill="#00e1ff"/>
<rect x="20" y="26" fill="#00eaff"/>
<rect x="21" y="26" fill="#00f4ff"/>
<rect x="22" y="26" fill="#00fffe"/>
<rect x="23" y="26" fill="#00fff2"/>
<rect x="24" y="26" fill="#00ffe4"/>
<rect x="25" y="26" fill="#00ffd4"/>
<rect x="26" y="26" fill="#00ffc3"/>
<rect x="27" y="26" fill="#00ffb1"/>
<rect x="28" y="26" fill="#00ff9c"/>
<rect x="29" y="26" fill="#00ff87"/>
<rect x="30" y="26" fill="#00ff6f"/>
<rect x="31" y="26" fill="#00ff56"/>
<rect x="32" y="26" fill="#00ff3c"/>
<rect x="33" y="26" fill="#00ff20"/>
<rect x="-2" y="27" fill="#00ff49"/>
<rect x="-1" y="27" fill="#00ff62"/>
<rect x="0" y="27" fill="#00ff7b"/>
<rect x="1" y="27" fill="#00ff91"/>
<rect x="2" y="27" fill="#00ffa6"/>
<rect x="3" y="27" fill="#00ffba"/>
<rect x="4" y="27" fill="#00ffcc"/>
<rect x="5" y="27" fill="#00ffdc"/>
<rect x="6" y="27" fill="#00ffeb"/>
<rect x="7" y="27" fill="#00fff8"/>
<rect x="8" y="27" fill="#00f9ff"/>
<rect x="9" y="27" fill="#00eeff"/>
<rect x="10" y="27" fill="#00e4ff"/>
<rect x="11" y="27" fill="#00ddff"/>
<rect x="12" y="27" fill="#00d7ff"/>
<rect x="13" y="27" fill="#00d2ff"/>
<rect x="14" y="27" fill="#00d0ff"/>
<rect x="15" y="27" fill="#00cfff"/>
<rect x="16" y="27" fill="#00cfff"/>
<rect x="17" y="27" fill="#00d2ff"/>
<rect x="18" y="27" fill="#00d6ff"/>
<rect x="19" y="27" fill="#00dcff"/>
<rect x="20" y="27" fill="#00e3ff"/>
<rect x="21" y="27" fill="#00edff"/>
<rect x="22" y="27" fill="#00f8ff"/>
<rect x="23" y="27" fill="#00fffa"/>
<rect x="24" y="27" fill="#00ffed"/>
<rect x="25" y="27" fill="#00ffde"/>
<rect x="26" y="27" fill="#00ffce"/>
<rect x="27" y="27" fill="#00ffbc"/>
<rect x="28" y="27" fill="#00ffa9"/>
<rect x="29" y="27" fill="#00ff94"/>
<rect x="30" y="27" fill="#00ff7d"/>
<rect x="31" y="27" fill="#00ff65"/>
<rect x="32" y="27" fill="#00ff4c"/>
<rect x="33" y="27" fill="#00ff31"/>
<rect x="-2" y="28" fill="#00ff3d"/>
<rect x="-1" y="28" fill="#00ff57"/>
<rect x="0" y="28" fill="#00ff70"/>
<rect x="1" y="28" fill="#00ff88"/>
<rect x="2" y="28" fill="#00ff9e"/>
<rect x="3" y="28" fill="#00ffb2"/>
<rect x="4" y="28" fill="#00ffc5"/>
<rect x="5" y="28" fill="#00ffd6"/>
<rect x="6" y="28" fill="#00ffe6"/>
<rect x="7" y="28" fill="#00fff4"/>
<rect x="8" y="28" fill="#00fdff"/>
<rect x="9" y="28" fill="#00f1ff"/>
<rect x="10" y="28" fill="#00e7ff"/>
<rect x="11" y="28" fill="#00deff"/>
<rect x="12" y="28" fill="#00d7ff"/>
<rect x="13" y="28" fill="#00d2ff"/>
<rect x="14" y="28" fill="#00ceff"/>
<rect x="15" y="28" fill="#00ccff"/>
<rect x="16" y="28" fill="#00ccff"/>
<rect x="17" y="28" fill="#00ceff"/>
<rect x="18" y="28" fill="#00d1ff"/>
<rect x="19" y="28" fill="#00d6ff"/>
<rect x="20" y="28" fill="#00ddff"/>
<rect x="21" y="28" fill="#00e5ff"/>
<rect x="22" y="28" fill="#00efff"/>
<rect x="23" y="28" fill="#00fbff"/>
<rect x="24" y="28" fill="#00fff6"/>
<rect x="25" y="28" fill="#00ffe8"/>
<rect x="26" y="28" fill="#00ffd9"/>
<rect x="27" y="28" fill="#00ffc8"/>
<rect x="28" y="28" fill="#00ffb5"/>
<rect x="29" y="28" fill="#00ffa1"/>
<rect x="30" y="28" fill="#00ff8c"/>
<rect x="31" y="28" fill="#00ff74"/>
<rect x="32" y="28" fill="#00ff5c"/>
<rect x="33" y="28" fill="#00ff41"/>
<rect x="-2" y="29" fill="#00ff31"/>
<rect x="-1" y="29" fill="#00ff4d"/>
<rect x="0" y="29" fill="#00ff66"/>
<rect x="1" y="29" fill="#00ff7f"/>
<rect x="2" y="29" fill="#00ff95"/>
<rect x="3" y="29" fill="#00ffab"/>
<rect x="4" y="29" fill="#00ffbe"/>
<rect x="5" y="29" fill="#00ffd0"/>
<rect x="6" y="29" fill="#00ffe1"/>
<rect x="7" y="29" fill="#00fff0"/>
<rect x="8" y="29" fill="#00fffd"/>
<rect x="9" y="29" fill="#00f4ff"/>
<rect x="10" y="29" fill="#00e9ff"/>
<rect x="11" y="29" fill="#00dfff"/>
<rect x="12" y="29" fill="#00d7ff"/>
<rect x="13" y="29" fill="#00d1ff"/>
<rect x="14" y="29" fill="#00ccff"/>
<rect x="15" y="29" fill="#00caff"/>
<rect x="16" y="29" fill="#00c9ff"/>
<rect x="17" y="29" fill="#00c9ff"/>
<rect x="18" y="29" fill="#00ccff"/>
<rect x="19" y="29" fill="#00d0ff"/>
<rect x="20" y="29" fill="#00d5ff"/>
<rect x="21" y="29" fill="#00ddff"/>
<rect x="22" y="29" fill="#00e6ff"/>
<rect x="23" y="29" fill="#00f1ff"/>
<rect x="24" y="29" fill="#00feff"/>
<rect x="25" y="29" fill="#00fff3"/>
<rect x="26" y="29" fill="#00ffe4"/>
<rect x="27" y="29" fill="#00ffd4"/>
<rect x="28" y="29" fill="#00ffc3"/>
<rect x="29" y="29" fill="#00ffaf"/>
<rect x="30" y="29" fill="#00ff9a"/>
<rect x="31" y="29" fill="#00ff84"/>
<rect x="32" y="29" fill="#00ff6c"/>
<rect x="33" y="29" fill="#00ff53"/>
<rect x="-2" y="30" fill="#00ff26"/>
<rect x="-1" y="30" fill="#00ff42"/>
<rect x="0" y="30" fill="#00ff5d"/>
<rect x="1" y="30" fill="#00ff76"/>
<rect x="2" y="30" fill="#00ff8e"/>
<rect x="3" y="30" fill="#00ffa4"/>
<rect x="4" y="30" fill="#00ffb8"/>
<rect x="5" y="30" fill="#00ffcb"/>
<rect x="6" y="30" fill="#00ffdc"/>
<rect x="7" y="30" fill="#00ffec"/>
<rect x="8" y="30" fill="#00fffa"/>
<rect x="9" y="30" fill="#00f6ff"/>
<rect x="10" y="30" fill="#00eaff"/>
<rect x="11" y="30" fill="#00dfff"/>
<rect x="12" y="30" fill="#00d7ff"/>
<rect x="13" y="30" fill="#00cfff"/>
<rect x="14" y="30" fill="#00caff"/>
<rect x="15" y="30" fill="#00c6ff"/>
<rect x="16" y="30" fill="#00c4ff"/>
<rect x="17" y="30" fill="#00c4ff"/>
<rect x="18" y="30" fill="#00c6ff"/>
<rect x="19" y="30" fill="#00c9ff"/>
<rect x="20" y="30" fill="#00ceff"/>
<rect x="21" y="30" fill="#00d4ff"/>
<rect x="22" y="30" fill="#00ddff"/>
<rect x="23" y="30" fill="#00e7ff"/>
<rect x="24" y="30" fill="#00f2ff"/>
<rect x="25" y="30" fill="#00fffe"/>
<rect x="26" y="30" fill="#00fff0"/>
<rect x="27" y="30" fill="#00ffe1"/>
<rect x="28" y="30" fill="#00ffd0"/>
<rect x="29" y="30" fill="#00ffbe"/>
<rect x="30" y="30" fill="#00ffaa"/>
<rect x="31" y="30" fill="#00ff94"/>
<rect x="32" y="30" fill="#00ff7d"/>
<rect x="33" y="30" fill="#00ff64"/>
<rect x="-2" y="31" fill="#00ff1b"/>
<rect x="-1" y="31" fill="#00ff39"/>
<rect x="0" y="31" fill="#00ff54"/>
<rect x="1" y="31" fill="#00ff6e"/>
<rect x="2" y="31" fill="#00ff86"/>
<rect x="3" y="31" fill="#00ff9d"/>
<rect x="4" y="31" fill="#00ffb2"/>
<rect x="5" y="31" fill="#00ffc6"/>
<rect x="6" y="31" fill="#00ffd8"/>
<rect x="7" y="31" fill="#00ffe9"/>
<rect x="8" y="31" fill="#00fff8"/>
<rect x="9" y="31" fill="#00f8ff"/>
<rect x="10" y="31" fill="#00ebff"/>
<rect x="11" y="31" fill="#00dfff"/>
<rect x="12" y="31" fill="#00d6ff"/>
<rect x="13" y="31" fill="#00ceff"/>
<rect x="14" y="31" fill="#00c7ff"/>
<rect x="15" y="31" fill="#00c3ff"/>
<rect x="16" y="31" fill="#00c0ff"/>
<rect x="17" y="31" fill="#00bfff"/>
<rect x="18" y="31" fill="#00bfff"/>
<rect x="19" y="31" fill="#00c2ff"/>
<rect x="20" y="31" fill="#00c6ff"/>
<rect x="21" y="31" fill="#00cbff"/>
<rect x="22" y="31" fill="#00d3ff"/>
<rect x="23" y="31" fill="#00dcff"/>
<rect x="24" y="31" fill="#00e7ff"/>
<rect x="25" y="31" fill="#00f3ff"/>
<rect x="26" y="31" fill="#00fffd"/>
<rect x="27" y="31" fill="#00ffee"/>
<rect x="28" y="31" fill="#00ffde"/>
<rect x="29" y="31" fill="#00ffcd"/>
<rect x="30" y="31" fill="#00ffb9"/>
<rect x="31" y="31" fill="#00ffa5"/>
<rect x="32" y="31" fill="#00ff8e"/>
<rect x="33" y="31" fill="#00ff76"/>
<rect x="-2" y="32" fill="#00ff11"/>
<rect x="-1" y="32" fill="#00ff2f"/>
<rect x="0" y="32" fill="#00ff4c"/>
<rect x="1" y="32" fill="#00ff66"/>
<rect x="2" y="32" fill="#00ff7f"/>
<rect x="3" y="32" fill="#00ff97"/>
<rect x="4" y="32" fill="#00ffad"/>
<rect x="5" y="32" fill="#00ffc2"/>
<rect x="6" y="32" fill="#00ffd5"/>
<rect x="7" y="32" fill="#00ffe6"/>
<rect x="8" y="32" fill="#00fff6"/>
<rect x="9" y="32" fill="#00f9ff"/>
<rect x="10" y="32" fill="#00ebff"/>
<rect x="11" y="32" fill="#00dfff"/>
<rect x="12" y="32" fill="#00d4ff"/>
<rect x="13" y="32" fill="#00cbff"/>
<rect x="14" y="32" fill="#00c4ff"/>
<rect x="15" y="32" fill="#00bfff"/>
<rect x="16" y="32" fill="#00bbff"/>
<rect x="17" y="32" fill="#00b9ff"/>
<rect x="18" y="32" fill="#00b8ff"/>
<rect x="19" y="32" fill="#00baff"/>
<rect x="20" y="32" fill="#00bdff"/>
<rect x="21" y="32" fill="#00c2ff"/>
<rect x="22" y="32" fill="#00c8ff"/>
<rect x="23" y="32" fill="#00d0ff"/>
<rect x="24" y="32" fill="#00daff"/>
<rect x="25" y="32" fill="#00e6ff"/>
<rect x="26" y="32" fill="#00f3ff"/>
<rect x="27" y="32" fill="#00fffc"/>
<rect x="28" y="32" fill="#00ffed"/>
<rect x="29" y="32" fill="#00ffdc"/>
<rect x="30" y="32" fill="#00ffca"/>
<rect x="31" y="32" fill="#00ffb6"/>
<rect x="32" y="32" fill="#00ffa0"/>
<rect x="33" y="32" fill="#00ff89"/>
<rect x="-2" y="33" fill="#00ff08"/>
<rect x="-1" y="33" fill="#00ff26"/>
<rect x="0" y="33" fill="#00ff43"/>
<rect x="1" y="33" fill="#00ff5f"/>
<rect x="2" y="33" fill="#00ff79"/>
<rect x="3" y="33" fill="#00ff92"/>
<rect x="4" y="33" fill="#00ffa8"/>
<rect x="5" y="33" fill="#00ffbe"/>
<rect x="6" y="33" fill="#00ffd2"/>
<rect x="7" y="33" fill="#00ffe4"/>
<rect x="8" y="33" fill="#00fff5"/>
<rect x="9" y="33" fill="#00faff"/>
<rect x="10" y="33" fill="#00ebff"/>
<rect x="11" y="33" fill="#00deff"/>
<rect x="12" y="33" fill="#00d2ff"/>
<rect x="13" y="33" fill="#00c8ff"/>
<rect x="14" y="33" fill="#00c0ff"/>
<rect x="15" y="33" fill="#00baff"/>
<rect x="16" y="33" fill="#00b5ff"/>
<rect x="17" y="33" fill="#00b2ff"/>
<rect x="18" y="33" fill="#00b1ff"/>
<rect x="19" y="33" fill="#00b2ff"/>
<rect x="20" y="33" fill="#00b4ff"/>
<rect x="21" y="33" fill="#00b8ff"/>
<rect x="22" y="33" fill="#00bdff"/>
<rect x="23" y="33" fill="#00c4ff"/>
<rect x="24" y="33" fill="#00ceff"/>
<rect x="25" y="33" fill="#00d8ff"/>
<rect x="26" y="33" fill="#00e5ff"/>
<rect x="27" y="33" fill="#00f3ff"/>
<rect x="28" y="33" fill="#00fffc"/>
<rect x="29" y="33" fill="#00ffec"/>
<rect x="30" y="33" fill="#00ffda"/>
<rect x="31" y="33" fill="#00ffc7"/>
<rect x="32" y="33" fill="#00ffb2"/>
<rect x="33" y="33" fill="#00ff9c"/>
</g>
<path d="M453.8 857.6L451.3 862.8L447.8 870.0L443.6 878.3L440.9 883.5L437.4 890.0L432.5 899.0L429.6 904.1L426.6 909.3L421.9 917.0L417.0 924.8L413.6 930.0L410.1 935.1L406.4 940.4L401.2 947.4L396.0 954.0L390.9 960.3L385.7 966.1L380.8 971.3L375.7 976.5L370.2 981.7L365.0 986.2L359.8 990.4L354.6 994.3L349.5 997.9L342.3 1002.4L333.9 1006.9L328.8 1009.4L320.9 1012.7L313.2 1015.5L304.8 1017.9L297.7 1019.5L287.4 1021.2L277.0 1022.3L266.7 1022.6L256.3 1022.4L246.0 1021.7L235.6 1020.4L225.3 1018.7L220.1 1017.7L209.8 1015.4L199.4 1012.8L194.2 1011.3L183.9 1008.2L178.7 1006.5L168.3 1002.9L163.2 1001.0L158.0 999.0" fill="none" stroke="#1a1a1a" stroke-width="1.3"/>
<path d="M262.3 1478.0L261.1 1472.8L258.5 1462.5L256.3 1454.5L254.2 1447.0L251.2 1437.1L249.3 1431.5L246.0 1421.7L243.9 1416.0L240.8 1407.6L238.0 1400.5L235.6 1394.7L231.5 1384.9L229.2 1379.8L225.3 1371.4L221.8 1364.3L219.3 1359.1L214.9 1350.7L211.1 1343.6L208.3 1338.4L204.6 1331.9L199.4 1323.0L196.3 1317.7L193.1 1312.6L189.0 1306.2L183.9 1298.2L179.7 1291.9L176.2 1286.7L172.7 1281.5L168.3 1275.4L163.2 1268.2L158.0 1261.1L158.0 1261.1" fill="none" stroke="#1a1a1a" stroke-width="1.3"/>
<path d="M609.6 857.6L608.4 867.9L607.9 873.1L606.8 883.5L605.7 893.8L604.7 904.1L603.8 914.5L603.0 923.0L602.5 930.0L601.6 940.3L600.9 950.7L600.1 961.0L599.5 971.3L598.9 981.7L598.4 992.0L597.9 1002.4L597.7 1007.5L597.4 1017.9L597.1 1028.2L596.9 1038.5L596.9 1048.9L596.9 1059.2L597.0 1069.6L597.2 1079.9L597.5 1090.2L597.9 1098.7L598.2 1105.8L598.8 1116.1L599.6 1126.4L600.5 1136.8L601.5 1147.1L602.7 1157.5L603.4 1162.6L604.8 1173.0L606.4 1183.3L608.2 1193.7L609.2 1198.8L611.2 1209.2L613.4 1219.1L614.7 1224.7L617.3 1235.0L618.7 1240.2L621.6 1250.5L623.8 1257.7L626.4 1266.0L628.9 1273.6L631.7 1281.5L634.1 1288.0L637.6 1297.0L639.7 1302.2L644.1 1312.6L646.4 1317.7L649.6 1324.8L653.6 1333.2L656.2 1338.4L660.0 1345.8L664.3 1353.9L667.1 1359.1L670.3 1364.8L675.5 1373.8L679.1 1379.8L682.2 1384.9L685.9 1390.7L691.0 1398.8L695.5 1405.6L699.0 1410.8L702.5 1416.0L706.5 1421.7L711.7 1428.9L716.9 1436.0L721.2 1441.8L725.1 1447.0L729.1 1452.2L733.1 1457.3L737.6 1463.0L742.8 1469.5L747.9 1475.8L749.7 1478.0" fill="none" stroke="#1a1a1a" stroke-width="1.3"/>
<path d="M722.5 857.6L722.7 867.9L723.0 878.3L723.4 888.6L723.8 899.0L724.3 909.3L724.9 919.6L725.5 930.0L726.2 940.3L727.0 950.7L727.4 955.8L728.3 966.2L729.3 976.5L730.4 986.9L731.5 997.2L732.4 1004.6L733.4 1012.7L734.8 1023.0L736.3 1033.4L737.6 1042.2L738.6 1048.9L740.4 1059.2L742.2 1069.6L743.1 1074.7L745.1 1085.1L747.2 1095.4L748.2 1100.6L750.5 1110.9L752.8 1121.3L754.1 1126.4L756.6 1136.8L758.3 1143.4L760.6 1152.3L763.5 1162.6L764.9 1167.8L768.0 1178.1L769.5 1183.3L772.8 1193.7L774.4 1198.8L777.9 1209.2L779.0 1212.5" fill="none" stroke="#1a1a1a" stroke-width="1.3"/>
</g>
<rect x="158.0" y="857.6" width="621.0" height="620.4" fill="none" stroke="#151515" stroke-width="1.5"/>
<path d="M158.0 1478.0v14.5M158.0 857.6h-16M313.2 1478.0v14.5M158.0 1012.7h-16M468.5 1478.0v14.5M158.0 1167.8h-16M623.8 1478.0v14.5M158.0 1322.9h-16M779.0 1478.0v14.5M158.0 1478.0h-16" stroke="#151515" stroke-width="1.5" fill="none"/>
<text x="158.0" y="1519.0" font-size="17.5" text-anchor="middle" textLength="53.5" lengthAdjust="spacingAndGlyphs" fill="#1a1a1a">140.27</text>
<text x="313.2" y="1519.0" font-size="17.5" text-anchor="middle" textLength="63.3" lengthAdjust="spacingAndGlyphs" fill="#1a1a1a">155.135</text>
<text x="468.5" y="1519.0" font-size="17.5" text-anchor="middle" textLength="29.2" lengthAdjust="spacingAndGlyphs" fill="#1a1a1a">170</text>
<text x="623.8" y="1519.0" font-size="17.5" text-anchor="middle" textLength="63.3" lengthAdjust="spacingAndGlyphs" fill="#1a1a1a">184.865</text>
<text x="779.0" y="1519.0" font-size="17.5" text-anchor="middle" textLength="53.5" lengthAdjust="spacingAndGlyphs" fill="#1a1a1a">199.73</text>
<text x="135.7" y="859.2" font-size="17.5" text-anchor="end" textLength="63.9" lengthAdjust="spacingAndGlyphs" fill="#1a1a1a">51.8921</text>
<text x="135.7" y="1014.3" font-size="17.5" text-anchor="end" textLength="54.1" lengthAdjust="spacingAndGlyphs" fill="#1a1a1a">45.946</text>
<text x="135.7" y="1169.4" font-size="17.5" text-anchor="end" textLength="19.7" lengthAdjust="spacingAndGlyphs" fill="#1a1a1a">40</text>
<text x="135.7" y="1324.5" font-size="17.5" text-anchor="end" textLength="54.1" lengthAdjust="spacingAndGlyphs" fill="#1a1a1a">34.054</text>
<text x="135.7" y="1479.6" font-size="17.5" text-anchor="end" textLength="63.9" lengthAdjust="spacingAndGlyphs" fill="#1a1a1a">28.1079</text>
<text x="467.2" y="1564.6" font-size="24" text-anchor="middle" textLength="167.0" lengthAdjust="spacingAndGlyphs" fill="#1a1a1a">A: Pressure (PSI)</text>
<text x="67.0" y="1167.8" font-size="24" text-anchor="middle" textLength="78.0" lengthAdjust="spacingAndGlyphs" transform="rotate(-90 67.0 1167.8)" fill="#1a1a1a">C: FEED</text>
<text x="467.5" y="844.9" font-size="27" text-anchor="middle" textLength="156.0" lengthAdjust="spacingAndGlyphs" fill="#1a1a1a">Removal (%)</text>
<text x="3.2" y="864.3" font-size="44" font-weight="bold" fill="#000">C</text>
<rect x="336.5" y="983.3" width="31" height="17.4" fill="#fff" stroke="#111" stroke-width="1.2"/>
<text x="352.0" y="996.3" font-size="12" text-anchor="middle" textLength="21.7" lengthAdjust="spacingAndGlyphs" fill="#111">97.7</text>
<rect x="600.0" y="1191.3" width="31" height="17.4" fill="#fff" stroke="#111" stroke-width="1.2"/>
<text x="615.5" y="1204.3" font-size="12" text-anchor="middle" textLength="21.7" lengthAdjust="spacingAndGlyphs" fill="#111">97.8</text>
<rect x="723.0" y="1026.3" width="31" height="17.4" fill="#fff" stroke="#111" stroke-width="1.2"/>
<text x="738.5" y="1039.3" font-size="12" text-anchor="middle" textLength="21.7" lengthAdjust="spacingAndGlyphs" fill="#111">97.9</text>
<rect x="201.5" y="1343.8" width="31" height="17.4" fill="#fff" stroke="#111" stroke-width="1.2"/>
<text x="217.0" y="1356.8" font-size="12" text-anchor="middle" textLength="21.7" lengthAdjust="spacingAndGlyphs" fill="#111">97.8</text>
<circle cx="468.5" cy="1167.8" r="6.1" fill="#d00000" stroke="#3a0a0a" stroke-width="1.3"/>
<text x="453.5" y="1171.6" font-size="10.5" text-anchor="middle" font-weight="bold" fill="#12305c">6</text>
<clipPath id="cE"><rect x="164.3" y="1682.1" width="622.6" height="623.1"/></clipPath>
<g clip-path="url(#cE)"><g filter="url(#bl)" class="g" transform="translate(164.30 1682.10) scale(19.4562 19.4719)">
<rect x="-2" y="-2" fill="#00ff97"/>
<rect x="-1" y="-2" fill="#00ffb2"/>
<rect x="0" y="-2" fill="#00ffcb"/>
<rect x="1" y="-2" fill="#00ffe3"/>
<rect x="2" y="-2" fill="#00fffa"/>
<rect x="3" y="-2" fill="#00edff"/>
<rect x="4" y="-2" fill="#00d7ff"/>
<rect x="5" y="-2" fill="#00c3ff"/>
<rect x="6" y="-2" fill="#00b0ff"/>
<rect x="7" y="-2" fill="#009fff"/>
<rect x="8" y="-2" fill="#0090ff"/>
<rect x="9" y="-2" fill="#0081ff"/>
<rect x="10" y="-2" fill="#0075ff"/>
<rect x="11" y="-2" fill="#006aff"/>
<rect x="12" y="-2" fill="#0061ff"/>
<rect x="13" y="-2" fill="#0059ff"/>
<rect x="14" y="-2" fill="#0052ff"/>
<rect x="15" y="-2" fill="#004eff"/>
<rect x="16" y="-2" fill="#004aff"/>
<rect x="17" y="-2" fill="#0049ff"/>
<rect x="18" y="-2" fill="#0048ff"/>
<rect x="19" y="-2" fill="#004aff"/>
<rect x="20" y="-2" fill="#004dff"/>
<rect x="21" y="-2" fill="#0051ff"/>
<rect x="22" y="-2" fill="#0057ff"/>
<rect x="23" y="-2" fill="#005fff"/>
<rect x="24" y="-2" fill="#0068ff"/>
<rect x="25" y="-2" fill="#0073ff"/>
<rect x="26" y="-2" fill="#007fff"/>
<rect x="27" y="-2" fill="#008dff"/>
<rect x="28" y="-2" fill="#009dff"/>
<rect x="29" y="-2" fill="#00adff"/>
<rect x="30" y="-2" fill="#00c0ff"/>
<rect x="31" y="-2" fill="#00d4ff"/>
<rect x="32" y="-2" fill="#00eaff"/>
<rect x="33" y="-2" fill="#00fffd"/>
<rect x="-2" y="-1" fill="#00ff91"/>
<rect x="-1" y="-1" fill="#00ffac"/>
<rect x="0" y="-1" fill="#00ffc5"/>
<rect x="1" y="-1" fill="#00ffdd"/>
<rect x="2" y="-1" fill="#00fff3"/>
<rect x="3" y="-1" fill="#00f5ff"/>
<rect x="4" y="-1" fill="#00dfff"/>
<rect x="5" y="-1" fill="#00cbff"/>
<rect x="6" y="-1" fill="#00b9ff"/>
<rect x="7" y="-1" fill="#00a8ff"/>
<rect x="8" y="-1" fill="#0098ff"/>
<rect x="9" y="-1" fill="#008aff"/>
<rect x="10" y="-1" fill="#007eff"/>
<rect x="11" y="-1" fill="#0073ff"/>
<rect x="12" y="-1" fill="#006aff"/>
<rect x="13" y="-1" fill="#0063ff"/>
<rect x="14" y="-1" fill="#005dff"/>
<rect x="15" y="-1" fill="#0058ff"/>
<rect x="16" y="-1" fill="#0055ff"/>
<rect x="17" y="-1" fill="#0054ff"/>
<rect x="18" y="-1" fill="#0054ff"/>
<rect x="19" y="-1" fill="#0056ff"/>
<rect x="20" y="-1" fill="#0059ff"/>
<rect x="21" y="-1" fill="#005eff"/>
<rect x="22" y="-1" fill="#0064ff"/>
<rect x="23" y="-1" fill="#006cff"/>
<rect x="24" y="-1" fill="#0075ff"/>
<rect x="25" y="-1" fill="#0080ff"/>
<rect x="26" y="-1" fill="#008dff"/>
<rect x="27" y="-1" fill="#009bff"/>
<rect x="28" y="-1" fill="#00abff"/>
<rect x="29" y="-1" fill="#00bcff"/>
<rect x="30" y="-1" fill="#00cfff"/>
<rect x="31" y="-1" fill="#00e3ff"/>
<rect x="32" y="-1" fill="#00f9ff"/>
<rect x="33" y="-1" fill="#00ffef"/>
<rect x="-2" y="0" fill="#00ff8c"/>
<rect x="-1" y="0" fill="#00ffa7"/>
<rect x="0" y="0" fill="#00ffc0"/>
<rect x="1" y="0" fill="#00ffd7"/>
<rect x="2" y="0" fill="#00ffed"/>
<rect x="3" y="0" fill="#00fbff"/>
<rect x="4" y="0" fill="#00e6ff"/>
<rect x="5" y="0" fill="#00d2ff"/>
<rect x="6" y="0" fill="#00c0ff"/>
<rect x="7" y="0" fill="#00b0ff"/>
<rect x="8" y="0" fill="#00a0ff"/>
<rect x="9" y="0" fill="#0093ff"/>
<rect x="10" y="0" fill="#0087ff"/>
<rect x="11" y="0" fill="#007dff"/>
<rect x="12" y="0" fill="#0074ff"/>
<rect x="13" y="0" fill="#006cff"/>
<rect x="14" y="0" fill="#0067ff"/>
<rect x="15" y="0" fill="#0062ff"/>
<rect x="16" y="0" fill="#0060ff"/>
<rect x="17" y="0" fill="#005fff"/>
<rect x="18" y="0" fill="#005fff"/>
<rect x="19" y="0" fill="#0061ff"/>
<rect x="20" y="0" fill="#0064ff"/>
<rect x="21" y="0" fill="#006aff"/>
<rect x="22" y="0" fill="#0070ff"/>
<rect x="23" y="0" fill="#0078ff"/>
<rect x="24" y="0" fill="#0082ff"/>
<rect x="25" y="0" fill="#008dff"/>
<rect x="26" y="0" fill="#009aff"/>
<rect x="27" y="0" fill="#00a9ff"/>
<rect x="28" y="0" fill="#00b8ff"/>
<rect x="29" y="0" fill="#00caff"/>
<rect x="30" y="0" fill="#00ddff"/>
<rect x="31" y="0" fill="#00f2ff"/>
<rect x="32" y="0" fill="#00fff7"/>
<rect x="33" y="0" fill="#00ffe2"/>
<rect x="-2" y="1" fill="#00ff88"/>
<rect x="-1" y="1" fill="#00ffa2"/>
<rect x="0" y="1" fill="#00ffbb"/>
<rect x="1" y="1" fill="#00ffd2"/>
<rect x="2" y="1" fill="#00ffe8"/>
<rect x="3" y="1" fill="#00fffc"/>
<rect x="4" y="1" fill="#00edff"/>
<rect x="5" y="1" fill="#00d9ff"/>
<rect x="6" y="1" fill="#00c7ff"/>
<rect x="7" y="1" fill="#00b7ff"/>
<rect x="8" y="1" fill="#00a8ff"/>
<rect x="9" y="1" fill="#009bff"/>
<rect x="10" y="1" fill="#008fff"/>
<rect x="11" y="1" fill="#0085ff"/>
<rect x="12" y="1" fill="#007dff"/>
<rect x="13" y="1" fill="#0075ff"/>
<rect x="14" y="1" fill="#0070ff"/>
<rect x="15" y="1" fill="#006cff"/>
<rect x="16" y="1" fill="#006aff"/>
<rect x="17" y="1" fill="#0069ff"/>
<rect x="18" y="1" fill="#0069ff"/>
<rect x="19" y="1" fill="#006cff"/>
<rect x="20" y="1" fill="#0070ff"/>
<rect x="21" y="1" fill="#0075ff"/>
<rect x="22" y="1" fill="#007cff"/>
<rect x="23" y="1" fill="#0084ff"/>
<rect x="24" y="1" fill="#008eff"/>
<rect x="25" y="1" fill="#009aff"/>
<rect x="26" y="1" fill="#00a7ff"/>
<rect x="27" y="1" fill="#00b6ff"/>
<rect x="28" y="1" fill="#00c6ff"/>
<rect x="29" y="1" fill="#00d8ff"/>
<rect x="30" y="1" fill="#00ebff"/>
<rect x="31" y="1" fill="#00fffe"/>
<rect x="32" y="1" fill="#00ffea"/>
<rect x="33" y="1" fill="#00ffd4"/>
<rect x="-2" y="2" fill="#00ff84"/>
<rect x="-1" y="2" fill="#00ff9e"/>
<rect x="0" y="2" fill="#00ffb6"/>
<rect x="1" y="2" fill="#00ffcd"/>
<rect x="2" y="2" fill="#00ffe3"/>
<rect x="3" y="2" fill="#00fff7"/>
<rect x="4" y="2" fill="#00f3ff"/>
<rect x="5" y="2" fill="#00e0ff"/>
<rect x="6" y="2" fill="#00ceff"/>
<rect x="7" y="2" fill="#00beff"/>
<rect x="8" y="2" fill="#00b0ff"/>
<rect x="9" y="2" fill="#00a3ff"/>
<rect x="10" y="2" fill="#0097ff"/>
<rect x="11" y="2" fill="#008dff"/>
<rect x="12" y="2" fill="#0085ff"/>
<rect x="13" y="2" fill="#007eff"/>
<rect x="14" y="2" fill="#0079ff"/>
<rect x="15" y="2" fill="#0075ff"/>
<rect x="16" y="2" fill="#0073ff"/>
<rect x="17" y="2" fill="#0073ff"/>
<rect x="18" y="2" fill="#0074ff"/>
<rect x="19" y="2" fill="#0076ff"/>
<rect x="20" y="2" fill="#007aff"/>
<rect x="21" y="2" fill="#0080ff"/>
<rect x="22" y="2" fill="#0087ff"/>
<rect x="23" y="2" fill="#0090ff"/>
<rect x="24" y="2" fill="#009aff"/>
<rect x="25" y="2" fill="#00a6ff"/>
<rect x="26" y="2" fill="#00b3ff"/>
<rect x="27" y="2" fill="#00c2ff"/>
<rect x="28" y="2" fill="#00d3ff"/>
<rect x="29" y="2" fill="#00e5ff"/>
<rect x="30" y="2" fill="#00f8ff"/>
<rect x="31" y="2" fill="#00fff2"/>
<rect x="32" y="2" fill="#00ffdd"/>
<rect x="33" y="2" fill="#00ffc7"/>
<rect x="-2" y="3" fill="#00ff80"/>
<rect x="-1" y="3" fill="#00ff9a"/>
<rect x="0" y="3" fill="#00ffb2"/>
<rect x="1" y="3" fill="#00ffc9"/>
<rect x="2" y="3" fill="#00ffde"/>
<rect x="3" y="3" fill="#00fff2"/>
<rect x="4" y="3" fill="#00f9ff"/>
<rect x="5" y="3" fill="#00e6ff"/>
<rect x="6" y="3" fill="#00d4ff"/>
<rect x="7" y="3" fill="#00c5ff"/>
<rect x="8" y="3" fill="#00b6ff"/>
<rect x="9" y="3" fill="#00aaff"/>
<rect x="10" y="3" fill="#009fff"/>
<rect x="11" y="3" fill="#0095ff"/>
<rect x="12" y="3" fill="#008dff"/>
<rect x="13" y="3" fill="#0086ff"/>
<rect x="14" y="3" fill="#0081ff"/>
<rect x="15" y="3" fill="#007eff"/>
<rect x="16" y="3" fill="#007cff"/>
<rect x="17" y="3" fill="#007cff"/>
<rect x="18" y="3" fill="#007dff"/>
<rect x="19" y="3" fill="#0080ff"/>
<rect x="20" y="3" fill="#0084ff"/>
<rect x="21" y="3" fill="#008aff"/>
<rect x="22" y="3" fill="#0092ff"/>
<rect x="23" y="3" fill="#009bff"/>
<rect x="24" y="3" fill="#00a5ff"/>
<rect x="25" y="3" fill="#00b1ff"/>
<rect x="26" y="3" fill="#00bfff"/>
<rect x="27" y="3" fill="#00ceff"/>
<rect x="28" y="3" fill="#00dfff"/>
<rect x="29" y="3" fill="#00f1ff"/>
<rect x="30" y="3" fill="#00fff9"/>
<rect x="31" y="3" fill="#00ffe6"/>
<rect x="32" y="3" fill="#00ffd1"/>
<rect x="33" y="3" fill="#00ffbb"/>
<rect x="-2" y="4" fill="#00ff7d"/>
<rect x="-1" y="4" fill="#00ff96"/>
<rect x="0" y="4" fill="#00ffae"/>
<rect x="1" y="4" fill="#00ffc5"/>
<rect x="2" y="4" fill="#00ffda"/>
<rect x="3" y="4" fill="#00ffee"/>
<rect x="4" y="4" fill="#00feff"/>
<rect x="5" y="4" fill="#00ebff"/>
<rect x="6" y="4" fill="#00daff"/>
<rect x="7" y="4" fill="#00cbff"/>
<rect x="8" y="4" fill="#00bdff"/>
<rect x="9" y="4" fill="#00b0ff"/>
<rect x="10" y="4" fill="#00a5ff"/>
<rect x="11" y="4" fill="#009cff"/>
<rect x="12" y="4" fill="#0094ff"/>
<rect x="13" y="4" fill="#008eff"/>
<rect x="14" y="4" fill="#0089ff"/>
<rect x="15" y="4" fill="#0086ff"/>
<rect x="16" y="4" fill="#0085ff"/>
<rect x="17" y="4" fill="#0085ff"/>
<rect x="18" y="4" fill="#0086ff"/>
<rect x="19" y="4" fill="#0089ff"/>
<rect x="20" y="4" fill="#008eff"/>
<rect x="21" y="4" fill="#0094ff"/>
<rect x="22" y="4" fill="#009cff"/>
<rect x="23" y="4" fill="#00a5ff"/>
<rect x="24" y="4" fill="#00b0ff"/>
<rect x="25" y="4" fill="#00bcff"/>
<rect x="26" y="4" fill="#00caff"/>
<rect x="27" y="4" fill="#00daff"/>
<rect x="28" y="4" fill="#00ebff"/>
<rect x="29" y="4" fill="#00fdff"/>
<rect x="30" y="4" fill="#00ffee"/>
<rect x="31" y="4" fill="#00ffda"/>
<rect x="32" y="4" fill="#00ffc5"/>
<rect x="33" y="4" fill="#00ffaf"/>
<rect x="-2" y="5" fill="#00ff7a"/>
<rect x="-1" y="5" fill="#00ff93"/>
<rect x="0" y="5" fill="#00ffab"/>
<rect x="1" y="5" fill="#00ffc1"/>
<rect x="2" y="5" fill="#00ffd6"/>
<rect x="3" y="5" fill="#00ffe9"/>
<rect x="4" y="5" fill="#00fffc"/>
<rect x="5" y="5" fill="#00f0ff"/>
<rect x="6" y="5" fill="#00e0ff"/>
<rect x="7" y="5" fill="#00d0ff"/>
<rect x="8" y="5" fill="#00c3ff"/>
<rect x="9" y="5" fill="#00b6ff"/>
<rect x="10" y="5" fill="#00acff"/>
<rect x="11" y="5" fill="#00a3ff"/>
<rect x="12" y="5" fill="#009bff"/>
<rect x="13" y="5" fill="#0095ff"/>
<rect x="14" y="5" fill="#0091ff"/>
<rect x="15" y="5" fill="#008eff"/>
<rect x="16" y="5" fill="#008dff"/>
<rect x="17" y="5" fill="#008dff"/>
<rect x="18" y="5" fill="#008fff"/>
<rect x="19" y="5" fill="#0092ff"/>
<rect x="20" y="5" fill="#0097ff"/>
<rect x="21" y="5" fill="#009eff"/>
<rect x="22" y="5" fill="#00a6ff"/>
<rect x="23" y="5" fill="#00afff"/>
<rect x="24" y="5" fill="#00baff"/>
<rect x="25" y="5" fill="#00c7ff"/>
<rect x="26" y="5" fill="#00d5ff"/>
<rect x="27" y="5" fill="#00e5ff"/>
<rect x="28" y="5" fill="#00f6ff"/>
<rect x="29" y="5" fill="#00fff6"/>
<rect x="30" y="5" fill="#00ffe3"/>
<rect x="31" y="5" fill="#00ffcf"/>
<rect x="32" y="5" fill="#00ffba"/>
<rect x="33" y="5" fill="#00ffa3"/>
<rect x="-2" y="6" fill="#00ff77"/>
<rect x="-1" y="6" fill="#00ff90"/>
<rect x="0" y="6" fill="#00ffa8"/>
<rect x="1" y="6" fill="#00ffbe"/>
<rect x="2" y="6" fill="#00ffd3"/>
<rect x="3" y="6" fill="#00ffe6"/>
<rect x="4" y="6" fill="#00fff8"/>
<rect x="5" y="6" fill="#00f5ff"/>
<rect x="6" y="6" fill="#00e4ff"/>
<rect x="7" y="6" fill="#00d6ff"/>
<rect x="8" y="6" fill="#00c8ff"/>
<rect x="9" y="6" fill="#00bcff"/>
<rect x="10" y="6" fill="#00b2ff"/>
<rect x="11" y="6" fill="#00a9ff"/>
<rect x="12" y="6" fill="#00a2ff"/>
<rect x="13" y="6" fill="#009cff"/>
<rect x="14" y="6" fill="#0098ff"/>
<rect x="15" y="6" fill="#0096ff"/>
<rect x="16" y="6" fill="#0095ff"/>
<rect x="17" y="6" fill="#0095ff"/>
<rect x="18" y="6" fill="#0097ff"/>
<rect x="19" y="6" fill="#009bff"/>
<rect x="20" y="6" fill="#00a0ff"/>
<rect x="21" y="6" fill="#00a7ff"/>
<rect x="22" y="6" fill="#00afff"/>
<rect x="23" y="6" fill="#00b9ff"/>
<rect x="24" y="6" fill="#00c4ff"/>
<rect x="25" y="6" fill="#00d1ff"/>
<rect x="26" y="6" fill="#00e0ff"/>
<rect x="27" y="6" fill="#00f0ff"/>
<rect x="28" y="6" fill="#00fffd"/>
<rect x="29" y="6" fill="#00ffeb"/>
<rect x="30" y="6" fill="#00ffd9"/>
<rect x="31" y="6" fill="#00ffc4"/>
<rect x="32" y="6" fill="#00ffaf"/>
<rect x="33" y="6" fill="#00ff98"/>
<rect x="-2" y="7" fill="#00ff75"/>
<rect x="-1" y="7" fill="#00ff8e"/>
<rect x="0" y="7" fill="#00ffa5"/>
<rect x="1" y="7" fill="#00ffbb"/>
<rect x="2" y="7" fill="#00ffcf"/>
<rect x="3" y="7" fill="#00ffe3"/>
<rect x="4" y="7" fill="#00fff4"/>
<rect x="5" y="7" fill="#00f9ff"/>
<rect x="6" y="7" fill="#00e9ff"/>
<rect x="7" y="7" fill="#00daff"/>
<rect x="8" y="7" fill="#00cdff"/>
<rect x="9" y="7" fill="#00c1ff"/>
<rect x="10" y="7" fill="#00b7ff"/>
<rect x="11" y="7" fill="#00afff"/>
<rect x="12" y="7" fill="#00a8ff"/>
<rect x="13" y="7" fill="#00a3ff"/>
<rect x="14" y="7" fill="#009fff"/>
<rect x="15" y="7" fill="#009cff"/>
<rect x="16" y="7" fill="#009cff"/>
<rect x="17" y="7" fill="#009dff"/>
<rect x="18" y="7" fill="#009fff"/>
<rect x="19" y="7" fill="#00a3ff"/>
<rect x="20" y="7" fill="#00a8ff"/>
<rect x="21" y="7" fill="#00afff"/>
<rect x="22" y="7" fill="#00b8ff"/>
<rect x="23" y="7" fill="#00c2ff"/>
<rect x="24" y="7" fill="#00ceff"/>
<rect x="25" y="7" fill="#00dbff"/>
<rect x="26" y="7" fill="#00eaff"/>
<rect x="27" y="7" fill="#00faff"/>
<rect x="28" y="7" fill="#00fff3"/>
<rect x="29" y="7" fill="#00ffe2"/>
<rect x="30" y="7" fill="#00ffcf"/>
<rect x="31" y="7" fill="#00ffba"/>
<rect x="32" y="7" fill="#00ffa4"/>
<rect x="33" y="7" fill="#00ff8d"/>
<rect x="-2" y="8" fill="#00ff74"/>
<rect x="-1" y="8" fill="#00ff8c"/>
<rect x="0" y="8" fill="#00ffa3"/>
<rect x="1" y="8" fill="#00ffb9"/>
<rect x="2" y="8" fill="#00ffcd"/>
<rect x="3" y="8" fill="#00ffe0"/>
<rect x="4" y="8" fill="#00fff1"/>
<rect x="5" y="8" fill="#00fdff"/>
<rect x="6" y="8" fill="#00edff"/>
<rect x="7" y="8" fill="#00deff"/>
<rect x="8" y="8" fill="#00d2ff"/>
<rect x="9" y="8" fill="#00c6ff"/>
<rect x="10" y="8" fill="#00bdff"/>
<rect x="11" y="8" fill="#00b4ff"/>
<rect x="12" y="8" fill="#00aeff"/>
<rect x="13" y="8" fill="#00a9ff"/>
<rect x="14" y="8" fill="#00a5ff"/>
<rect x="15" y="8" fill="#00a3ff"/>
<rect x="16" y="8" fill="#00a2ff"/>
<rect x="17" y="8" fill="#00a4ff"/>
<rect x="18" y="8" fill="#00a6ff"/>
<rect x="19" y="8" fill="#00aaff"/>
<rect x="20" y="8" fill="#00b0ff"/>
<rect x="21" y="8" fill="#00b7ff"/>
<rect x="22" y="8" fill="#00c0ff"/>
<rect x="23" y="8" fill="#00cbff"/>
<rect x="24" y="8" fill="#00d7ff"/>
<rect x="25" y="8" fill="#00e4ff"/>
<rect x="26" y="8" fill="#00f3ff"/>
<rect x="27" y="8" fill="#00fffb"/>
<rect x="28" y="8" fill="#00ffea"/>
<rect x="29" y="8" fill="#00ffd8"/>
<rect x="30" y="8" fill="#00ffc5"/>
<rect x="31" y="8" fill="#00ffb0"/>
<rect x="32" y="8" fill="#00ff9a"/>
<rect x="33" y="8" fill="#00ff82"/>
<rect x="-2" y="9" fill="#00ff73"/>
<rect x="-1" y="9" fill="#00ff8b"/>
<rect x="0" y="9" fill="#00ffa1"/>
<rect x="1" y="9" fill="#00ffb7"/>
<rect x="2" y="9" fill="#00ffcb"/>
<rect x="3" y="9" fill="#00ffdd"/>
<rect x="4" y="9" fill="#00ffee"/>
<rect x="5" y="9" fill="#00fffe"/>
<rect x="6" y="9" fill="#00f0ff"/>
<rect x="7" y="9" fill="#00e2ff"/>
<rect x="8" y="9" fill="#00d6ff"/>
<rect x="9" y="9" fill="#00cbff"/>
<rect x="10" y="9" fill="#00c1ff"/>
<rect x="11" y="9" fill="#00b9ff"/>
<rect x="12" y="9" fill="#00b3ff"/>
<rect x="13" y="9" fill="#00aeff"/>
<rect x="14" y="9" fill="#00abff"/>
<rect x="15" y="9" fill="#00a9ff"/>
<rect x="16" y="9" fill="#00a9ff"/>
<rect x="17" y="9" fill="#00aaff"/>
<rect x="18" y="9" fill="#00adff"/>
<rect x="19" y="9" fill="#00b2ff"/>
<rect x="20" y="9" fill="#00b8ff"/>
<rect x="21" y="9" fill="#00bfff"/>
<rect x="22" y="9" fill="#00c8ff"/>
<rect x="23" y="9" fill="#00d3ff"/>
<rect x="24" y="9" fill="#00dfff"/>
<rect x="25" y="9" fill="#00edff"/>
<rect x="26" y="9" fill="#00fcff"/>
<rect x="27" y="9" fill="#00fff2"/>
<rect x="28" y="9" fill="#00ffe1"/>
<rect x="29" y="9" fill="#00ffcf"/>
<rect x="30" y="9" fill="#00ffbc"/>
<rect x="31" y="9" fill="#00ffa7"/>
<rect x="32" y="9" fill="#00ff90"/>
<rect x="33" y="9" fill="#00ff78"/>
<rect x="-2" y="10" fill="#00ff72"/>
<rect x="-1" y="10" fill="#00ff8a"/>
<rect x="0" y="10" fill="#00ffa0"/>
<rect x="1" y="10" fill="#00ffb5"/>
<rect x="2" y="10" fill="#00ffc9"/>
<rect x="3" y="10" fill="#00ffdb"/>
<rect x="4" y="10" fill="#00ffec"/>
<rect x="5" y="10" fill="#00fffb"/>
<rect x="6" y="10" fill="#00f3ff"/>
<rect x="7" y="10" fill="#00e6ff"/>
<rect x="8" y="10" fill="#00d9ff"/>
<rect x="9" y="10" fill="#00cfff"/>
<rect x="10" y="10" fill="#00c5ff"/>
<rect x="11" y="10" fill="#00beff"/>
<rect x="12" y="10" fill="#00b8ff"/>
<rect x="13" y="10" fill="#00b3ff"/>
<rect x="14" y="10" fill="#00b0ff"/>
<rect x="15" y="10" fill="#00afff"/>
<rect x="16" y="10" fill="#00afff"/>
<rect x="17" y="10" fill="#00b0ff"/>
<rect x="18" y="10" fill="#00b3ff"/>
<rect x="19" y="10" fill="#00b8ff"/>
<rect x="20" y="10" fill="#00beff"/>
<rect x="21" y="10" fill="#00c6ff"/>
<rect x="22" y="10" fill="#00d0ff"/>
<rect x="23" y="10" fill="#00dbff"/>
<rect x="24" y="10" fill="#00e7ff"/>
<rect x="25" y="10" fill="#00f5ff"/>
<rect x="26" y="10" fill="#00fffa"/>
<rect x="27" y="10" fill="#00ffea"/>
<rect x="28" y="10" fill="#00ffd9"/>
<rect x="29" y="10" fill="#00ffc7"/>
<rect x="30" y="10" fill="#00ffb3"/>
<rect x="31" y="10" fill="#00ff9e"/>
<rect x="32" y="10" fill="#00ff87"/>
<rect x="33" y="10" fill="#00ff6f"/>
<rect x="-2" y="11" fill="#00ff71"/>
<rect x="-1" y="11" fill="#00ff89"/>
<rect x="0" y="11" fill="#00ff9f"/>
<rect x="1" y="11" fill="#00ffb4"/>
<rect x="2" y="11" fill="#00ffc8"/>
<rect x="3" y="11" fill="#00ffda"/>
<rect x="4" y="11" fill="#00ffea"/>
<rect x="5" y="11" fill="#00fff9"/>
<rect x="6" y="11" fill="#00f6ff"/>
<rect x="7" y="11" fill="#00e8ff"/>
<rect x="8" y="11" fill="#00dcff"/>
<rect x="9" y="11" fill="#00d2ff"/>
<rect x="10" y="11" fill="#00c9ff"/>
<rect x="11" y="11" fill="#00c2ff"/>
<rect x="12" y="11" fill="#00bcff"/>
<rect x="13" y="11" fill="#00b8ff"/>
<rect x="14" y="11" fill="#00b5ff"/>
<rect x="15" y="11" fill="#00b4ff"/>
<rect x="16" y="11" fill="#00b4ff"/>
<rect x="17" y="11" fill="#00b6ff"/>
<rect x="18" y="11" fill="#00b9ff"/>
<rect x="19" y="11" fill="#00beff"/>
<rect x="20" y="11" fill="#00c5ff"/>
<rect x="21" y="11" fill="#00cdff"/>
<rect x="22" y="11" fill="#00d7ff"/>
<rect x="23" y="11" fill="#00e2ff"/>
<rect x="24" y="11" fill="#00efff"/>
<rect x="25" y="11" fill="#00fdff"/>
<rect x="26" y="11" fill="#00fff2"/>
<rect x="27" y="11" fill="#00ffe2"/>
<rect x="28" y="11" fill="#00ffd1"/>
<rect x="29" y="11" fill="#00ffbf"/>
<rect x="30" y="11" fill="#00ffaa"/>
<rect x="31" y="11" fill="#00ff95"/>
<rect x="32" y="11" fill="#00ff7e"/>
<rect x="33" y="11" fill="#00ff66"/>
<rect x="-2" y="12" fill="#00ff72"/>
<rect x="-1" y="12" fill="#00ff89"/>
<rect x="0" y="12" fill="#00ff9f"/>
<rect x="1" y="12" fill="#00ffb3"/>
<rect x="2" y="12" fill="#00ffc7"/>
<rect x="3" y="12" fill="#00ffd8"/>
<rect x="4" y="12" fill="#00ffe9"/>
<rect x="5" y="12" fill="#00fff8"/>
<rect x="6" y="12" fill="#00f8ff"/>
<rect x="7" y="12" fill="#00ebff"/>
<rect x="8" y="12" fill="#00dfff"/>
<rect x="9" y="12" fill="#00d5ff"/>
<rect x="10" y="12" fill="#00ccff"/>
<rect x="11" y="12" fill="#00c5ff"/>
<rect x="12" y="12" fill="#00c0ff"/>
<rect x="13" y="12" fill="#00bcff"/>
<rect x="14" y="12" fill="#00b9ff"/>
<rect x="15" y="12" fill="#00b8ff"/>
<rect x="16" y="12" fill="#00b9ff"/>
<rect x="17" y="12" fill="#00bbff"/>
<rect x="18" y="12" fill="#00bfff"/>
<rect x="19" y="12" fill="#00c4ff"/>
<rect x="20" y="12" fill="#00cbff"/>
<rect x="21" y="12" fill="#00d3ff"/>
<rect x="22" y="12" fill="#00ddff"/>
<rect x="23" y="12" fill="#00e9ff"/>
<rect x="24" y="12" fill="#00f6ff"/>
<rect x="25" y="12" fill="#00fffa"/>
<rect x="26" y="12" fill="#00ffeb"/>
<rect x="27" y="12" fill="#00ffdb"/>
<rect x="28" y="12" fill="#00ffca"/>
<rect x="29" y="12" fill="#00ffb7"/>
<rect x="30" y="12" fill="#00ffa2"/>
<rect x="31" y="12" fill="#00ff8d"/>
<rect x="32" y="12" fill="#00ff76"/>
<rect x="33" y="12" fill="#00ff5d"/>
<rect x="-2" y="13" fill="#00ff72"/>
<rect x="-1" y="13" fill="#00ff89"/>
<rect x="0" y="13" fill="#00ff9f"/>
<rect x="1" y="13" fill="#00ffb3"/>
<rect x="2" y="13" fill="#00ffc6"/>
<rect x="3" y="13" fill="#00ffd8"/>
<rect x="4" y="13" fill="#00ffe8"/>
<rect x="5" y="13" fill="#00fff6"/>
<rect x="6" y="13" fill="#00faff"/>
<rect x="7" y="13" fill="#00edff"/>
<rect x="8" y="13" fill="#00e1ff"/>
<rect x="9" y="13" fill="#00d7ff"/>
<rect x="10" y="13" fill="#00cfff"/>
<rect x="11" y="13" fill="#00c8ff"/>
<rect x="12" y="13" fill="#00c3ff"/>
<rect x="13" y="13" fill="#00bfff"/>
<rect x="14" y="13" fill="#00bdff"/>
<rect x="15" y="13" fill="#00bcff"/>
<rect x="16" y="13" fill="#00bdff"/>
<rect x="17" y="13" fill="#00c0ff"/>
<rect x="18" y="13" fill="#00c4ff"/>
<rect x="19" y="13" fill="#00c9ff"/>
<rect x="20" y="13" fill="#00d1ff"/>
<rect x="21" y="13" fill="#00d9ff"/>
<rect x="22" y="13" fill="#00e3ff"/>
<rect x="23" y="13" fill="#00efff"/>
<rect x="24" y="13" fill="#00fdff"/>
<rect x="25" y="13" fill="#00fff4"/>
<rect x="26" y="13" fill="#00ffe5"/>
<rect x="27" y="13" fill="#00ffd4"/>
<rect x="28" y="13" fill="#00ffc3"/>
<rect x="29" y="13" fill="#00ffaf"/>
<rect x="30" y="13" fill="#00ff9b"/>
<rect x="31" y="13" fill="#00ff85"/>
<rect x="32" y="13" fill="#00ff6d"/>
<rect x="33" y="13" fill="#00ff55"/>
<rect x="-2" y="14" fill="#00ff73"/>
<rect x="-1" y="14" fill="#00ff8a"/>
<rect x="0" y="14" fill="#00ff9f"/>
<rect x="1" y="14" fill="#00ffb3"/>
<rect x="2" y="14" fill="#00ffc6"/>
<rect x="3" y="14" fill="#00ffd7"/>
<rect x="4" y="14" fill="#00ffe7"/>
<rect x="5" y="14" fill="#00fff6"/>
<rect x="6" y="14" fill="#00fbff"/>
<rect x="7" y="14" fill="#00eeff"/>
<rect x="8" y="14" fill="#00e3ff"/>
<rect x="9" y="14" fill="#00d9ff"/>
<rect x="10" y="14" fill="#00d1ff"/>
<rect x="11" y="14" fill="#00cbff"/>
<rect x="12" y="14" fill="#00c6ff"/>
<rect x="13" y="14" fill="#00c2ff"/>
<rect x="14" y="14" fill="#00c0ff"/>
<rect x="15" y="14" fill="#00c0ff"/>
<rect x="16" y="14" fill="#00c1ff"/>
<rect x="17" y="14" fill="#00c4ff"/>
<rect x="18" y="14" fill="#00c8ff"/>
<rect x="19" y="14" fill="#00ceff"/>
<rect x="20" y="14" fill="#00d6ff"/>
<rect x="21" y="14" fill="#00dfff"/>
<rect x="22" y="14" fill="#00e9ff"/>
<rect x="23" y="14" fill="#00f5ff"/>
<rect x="24" y="14" fill="#00fffc"/>
<rect x="25" y="14" fill="#00ffee"/>
<rect x="26" y="14" fill="#00ffdf"/>
<rect x="27" y="14" fill="#00ffce"/>
<rect x="28" y="14" fill="#00ffbc"/>
<rect x="29" y="14" fill="#00ffa9"/>
<rect x="30" y="14" fill="#00ff94"/>
<rect x="31" y="14" fill="#00ff7d"/>
<rect x="32" y="14" fill="#00ff66"/>
<rect x="33" y="14" fill="#00ff4d"/>
<rect x="-2" y="15" fill="#00ff74"/>
<rect x="-1" y="15" fill="#00ff8b"/>
<rect x="0" y="15" fill="#00ffa0"/>
<rect x="1" y="15" fill="#00ffb4"/>
<rect x="2" y="15" fill="#00ffc6"/>
<rect x="3" y="15" fill="#00ffd7"/>
<rect x="4" y="15" fill="#00ffe7"/>
<rect x="5" y="15" fill="#00fff5"/>
<rect x="6" y="15" fill="#00fcff"/>
<rect x="7" y="15" fill="#00efff"/>
<rect x="8" y="15" fill="#00e4ff"/>
<rect x="9" y="15" fill="#00dbff"/>
<rect x="10" y="15" fill="#00d3ff"/>
<rect x="11" y="15" fill="#00cdff"/>
<rect x="12" y="15" fill="#00c8ff"/>
<rect x="13" y="15" fill="#00c5ff"/>
<rect x="14" y="15" fill="#00c3ff"/>
<rect x="15" y="15" fill="#00c3ff"/>
<rect x="16" y="15" fill="#00c5ff"/>
<rect x="17" y="15" fill="#00c8ff"/>
<rect x="18" y="15" fill="#00ccff"/>
<rect x="19" y="15" fill="#00d3ff"/>
<rect x="20" y="15" fill="#00daff"/>
<rect x="21" y="15" fill="#00e3ff"/>
<rect x="22" y="15" fill="#00eeff"/>
<rect x="23" y="15" fill="#00fbff"/>
<rect x="24" y="15" fill="#00fff6"/>
<rect x="25" y="15" fill="#00ffe8"/>
<rect x="26" y="15" fill="#00ffd9"/>
<rect x="27" y="15" fill="#00ffc8"/>
<rect x="28" y="15" fill="#00ffb6"/>
<rect x="29" y="15" fill="#00ffa2"/>
<rect x="30" y="15" fill="#00ff8d"/>
<rect x="31" y="15" fill="#00ff77"/>
<rect x="32" y="15" fill="#00ff5f"/>
<rect x="33" y="15" fill="#00ff45"/>
<rect x="-2" y="16" fill="#00ff76"/>
<rect x="-1" y="16" fill="#00ff8c"/>
<rect x="0" y="16" fill="#00ffa1"/>
<rect x="1" y="16" fill="#00ffb5"/>
<rect x="2" y="16" fill="#00ffc7"/>
<rect x="3" y="16" fill="#00ffd8"/>
<rect x="4" y="16" fill="#00ffe7"/>
<rect x="5" y="16" fill="#00fff5"/>
<rect x="6" y="16" fill="#00fcff"/>
<rect x="7" y="16" fill="#00f0ff"/>
<rect x="8" y="16" fill="#00e5ff"/>
<rect x="9" y="16" fill="#00dcff"/>
<rect x="10" y="16" fill="#00d5ff"/>
<rect x="11" y="16" fill="#00cfff"/>
<rect x="12" y="16" fill="#00caff"/>
<rect x="13" y="16" fill="#00c7ff"/>
<rect x="14" y="16" fill="#00c6ff"/>
<rect x="15" y="16" fill="#00c6ff"/>
<rect x="16" y="16" fill="#00c8ff"/>
<rect x="17" y="16" fill="#00cbff"/>
<rect x="18" y="16" fill="#00d0ff"/>
<rect x="19" y="16" fill="#00d6ff"/>
<rect x="20" y="16" fill="#00deff"/>
<rect x="21" y="16" fill="#00e8ff"/>
<rect x="22" y="16" fill="#00f3ff"/>
<rect x="23" y="16" fill="#00fffe"/>
<rect x="24" y="16" fill="#00fff2"/>
<rect x="25" y="16" fill="#00ffe3"/>
<rect x="26" y="16" fill="#00ffd4"/>
<rect x="27" y="16" fill="#00ffc3"/>
<rect x="28" y="16" fill="#00ffb0"/>
<rect x="29" y="16" fill="#00ff9c"/>
<rect x="30" y="16" fill="#00ff87"/>
<rect x="31" y="16" fill="#00ff70"/>
<rect x="32" y="16" fill="#00ff58"/>
<rect x="33" y="16" fill="#00ff3e"/>
<rect x="-2" y="17" fill="#00ff78"/>
<rect x="-1" y="17" fill="#00ff8e"/>
<rect x="0" y="17" fill="#00ffa3"/>
<rect x="1" y="17" fill="#00ffb6"/>
<rect x="2" y="17" fill="#00ffc8"/>
<rect x="3" y="17" fill="#00ffd9"/>
<rect x="4" y="17" fill="#00ffe8"/>
<rect x="5" y="17" fill="#00fff6"/>
<rect x="6" y="17" fill="#00fcff"/>
<rect x="7" y="17" fill="#00f0ff"/>
<rect x="8" y="17" fill="#00e6ff"/>
<rect x="9" y="17" fill="#00ddff"/>
<rect x="10" y="17" fill="#00d6ff"/>
<rect x="11" y="17" fill="#00d0ff"/>
<rect x="12" y="17" fill="#00ccff"/>
<rect x="13" y="17" fill="#00c9ff"/>
<rect x="14" y="17" fill="#00c8ff"/>
<rect x="15" y="17" fill="#00c8ff"/>
<rect x="16" y="17" fill="#00caff"/>
<rect x="17" y="17" fill="#00ceff"/>
<rect x="18" y="17" fill="#00d3ff"/>
<rect x="19" y="17" fill="#00daff"/>
<rect x="20" y="17" fill="#00e2ff"/>
<rect x="21" y="17" fill="#00ecff"/>
<rect x="22" y="17" fill="#00f7ff"/>
<rect x="23" y="17" fill="#00fffa"/>
<rect x="24" y="17" fill="#00ffed"/>
<rect x="25" y="17" fill="#00ffdf"/>
<rect x="26" y="17" fill="#00ffcf"/>
<rect x="27" y="17" fill="#00ffbd"/>
<rect x="28" y="17" fill="#00ffab"/>
<rect x="29" y="17" fill="#00ff96"/>
<rect x="30" y="17" fill="#00ff81"/>
<rect x="31" y="17" fill="#00ff6a"/>
<rect x="32" y="17" fill="#00ff51"/>
<rect x="33" y="17" fill="#00ff38"/>
<rect x="-2" y="18" fill="#00ff7b"/>
<rect x="-1" y="18" fill="#00ff91"/>
<rect x="0" y="18" fill="#00ffa5"/>
<rect x="1" y="18" fill="#00ffb8"/>
<rect x="2" y="18" fill="#00ffca"/>
<rect x="3" y="18" fill="#00ffda"/>
<rect x="4" y="18" fill="#00ffe9"/>
<rect x="5" y="18" fill="#00fff6"/>
<rect x="6" y="18" fill="#00fbff"/>
<rect x="7" y="18" fill="#00f0ff"/>
<rect x="8" y="18" fill="#00e6ff"/>
<rect x="9" y="18" fill="#00ddff"/>
<rect x="10" y="18" fill="#00d6ff"/>
<rect x="11" y="18" fill="#00d1ff"/>
<rect x="12" y="18" fill="#00cdff"/>
<rect x="13" y="18" fill="#00caff"/>
<rect x="14" y="18" fill="#00caff"/>
<rect x="15" y="18" fill="#00caff"/>
<rect x="16" y="18" fill="#00cdff"/>
<rect x="17" y="18" fill="#00d0ff"/>
<rect x="18" y="18" fill="#00d6ff"/>
<rect x="19" y="18" fill="#00ddff"/>
<rect x="20" y="18" fill="#00e5ff"/>
<rect x="21" y="18" fill="#00efff"/>
<rect x="22" y="18" fill="#00fbff"/>
<rect x="23" y="18" fill="#00fff7"/>
<rect x="24" y="18" fill="#00ffe9"/>
<rect x="25" y="18" fill="#00ffda"/>
<rect x="26" y="18" fill="#00ffca"/>
<rect x="27" y="18" fill="#00ffb9"/>
<rect x="28" y="18" fill="#00ffa6"/>
<rect x="29" y="18" fill="#00ff91"/>
<rect x="30" y="18" fill="#00ff7b"/>
<rect x="31" y="18" fill="#00ff64"/>
<rect x="32" y="18" fill="#00ff4b"/>
<rect x="33" y="18" fill="#00ff31"/>
<rect x="-2" y="19" fill="#00ff7e"/>
<rect x="-1" y="19" fill="#00ff93"/>
<rect x="0" y="19" fill="#00ffa8"/>
<rect x="1" y="19" fill="#00ffba"/>
<rect x="2" y="19" fill="#00ffcc"/>
<rect x="3" y="19" fill="#00ffdc"/>
<rect x="4" y="19" fill="#00ffea"/>
<rect x="5" y="19" fill="#00fff8"/>
<rect x="6" y="19" fill="#00faff"/>
<rect x="7" y="19" fill="#00efff"/>
<rect x="8" y="19" fill="#00e5ff"/>
<rect x="9" y="19" fill="#00ddff"/>
<rect x="10" y="19" fill="#00d6ff"/>
<rect x="11" y="19" fill="#00d1ff"/>
<rect x="12" y="19" fill="#00cdff"/>
<rect x="13" y="19" fill="#00cbff"/>
<rect x="14" y="19" fill="#00cbff"/>
<rect x="15" y="19" fill="#00ccff"/>
<rect x="16" y="19" fill="#00ceff"/>
<rect x="17" y="19" fill="#00d2ff"/>
<rect x="18" y="19" fill="#00d8ff"/>
<rect x="19" y="19" fill="#00dfff"/>
<rect x="20" y="19" fill="#00e8ff"/>
<rect x="21" y="19" fill="#00f2ff"/>
<rect x="22" y="19" fill="#00feff"/>
<rect x="23" y="19" fill="#00fff3"/>
<rect x="24" y="19" fill="#00ffe6"/>
<rect x="25" y="19" fill="#00ffd7"/>
<rect x="26" y="19" fill="#00ffc6"/>
<rect x="27" y="19" fill="#00ffb4"/>
<rect x="28" y="19" fill="#00ffa1"/>
<rect x="29" y="19" fill="#00ff8c"/>
<rect x="30" y="19" fill="#00ff76"/>
<rect x="31" y="19" fill="#00ff5f"/>
<rect x="32" y="19" fill="#00ff46"/>
<rect x="33" y="19" fill="#00ff2c"/>
<rect x="-2" y="20" fill="#00ff81"/>
<rect x="-1" y="20" fill="#00ff97"/>
<rect x="0" y="20" fill="#00ffab"/>
<rect x="1" y="20" fill="#00ffbd"/>
<rect x="2" y="20" fill="#00ffce"/>
<rect x="3" y="20" fill="#00ffde"/>
<rect x="4" y="20" fill="#00ffec"/>
<rect x="5" y="20" fill="#00fff9"/>
<rect x="6" y="20" fill="#00f9ff"/>
<rect x="7" y="20" fill="#00eeff"/>
<rect x="8" y="20" fill="#00e4ff"/>
<rect x="9" y="20" fill="#00dcff"/>
<rect x="10" y="20" fill="#00d6ff"/>
<rect x="11" y="20" fill="#00d1ff"/>
<rect x="12" y="20" fill="#00cdff"/>
<rect x="13" y="20" fill="#00ccff"/>
<rect x="14" y="20" fill="#00cbff"/>
<rect x="15" y="20" fill="#00cdff"/>
<rect x="16" y="20" fill="#00cfff"/>
<rect x="17" y="20" fill="#00d4ff"/>
<rect x="18" y="20" fill="#00daff"/>
<rect x="19" y="20" fill="#00e1ff"/>
<rect x="20" y="20" fill="#00eaff"/>
<rect x="21" y="20" fill="#00f5ff"/>
<rect x="22" y="20" fill="#00fffd"/>
<rect x="23" y="20" fill="#00fff1"/>
<rect x="24" y="20" fill="#00ffe3"/>
<rect x="25" y="20" fill="#00ffd3"/>
<rect x="26" y="20" fill="#00ffc3"/>
<rect x="27" y="20" fill="#00ffb1"/>
<rect x="28" y="20" fill="#00ff9d"/>
<rect x="29" y="20" fill="#00ff88"/>
<rect x="30" y="20" fill="#00ff72"/>
<rect x="31" y="20" fill="#00ff5a"/>
<rect x="32" y="20" fill="#00ff41"/>
<rect x="33" y="20" fill="#00ff26"/>
<rect x="-2" y="21" fill="#00ff85"/>
<rect x="-1" y="21" fill="#00ff9a"/>
<rect x="0" y="21" fill="#00ffae"/>
<rect x="1" y="21" fill="#00ffc0"/>
<rect x="2" y="21" fill="#00ffd1"/>
<rect x="3" y="21" fill="#00ffe1"/>
<rect x="4" y="21" fill="#00ffef"/>
<rect x="5" y="21" fill="#00fffb"/>
<rect x="6" y="21" fill="#00f7ff"/>
<rect x="7" y="21" fill="#00ecff"/>
<rect x="8" y="21" fill="#00e3ff"/>
<rect x="9" y="21" fill="#00dbff"/>
<rect x="10" y="21" fill="#00d5ff"/>
<rect x="11" y="21" fill="#00d0ff"/>
<rect x="12" y="21" fill="#00cdff"/>
<rect x="13" y="21" fill="#00cbff"/>
<rect x="14" y="21" fill="#00cbff"/>
<rect x="15" y="21" fill="#00cdff"/>
<rect x="16" y="21" fill="#00d0ff"/>
<rect x="17" y="21" fill="#00d5ff"/>
<rect x="18" y="21" fill="#00dbff"/>
<rect x="19" y="21" fill="#00e3ff"/>
<rect x="20" y="21" fill="#00ecff"/>
<rect x="21" y="21" fill="#00f7ff"/>
<rect x="22" y="21" fill="#00fffb"/>
<rect x="23" y="21" fill="#00ffee"/>
<rect x="24" y="21" fill="#00ffe0"/>
<rect x="25" y="21" fill="#00ffd0"/>
<rect x="26" y="21" fill="#00ffbf"/>
<rect x="27" y="21" fill="#00ffad"/>
<rect x="28" y="21" fill="#00ff99"/>
<rect x="29" y="21" fill="#00ff84"/>
<rect x="30" y="21" fill="#00ff6d"/>
<rect x="31" y="21" fill="#00ff55"/>
<rect x="32" y="21" fill="#00ff3c"/>
<rect x="33" y="21" fill="#00ff21"/>
<rect x="-2" y="22" fill="#00ff89"/>
<rect x="-1" y="22" fill="#00ff9e"/>
<rect x="0" y="22" fill="#00ffb2"/>
<rect x="1" y="22" fill="#00ffc4"/>
<rect x="2" y="22" fill="#00ffd4"/>
<rect x="3" y="22" fill="#00ffe4"/>
<rect x="4" y="22" fill="#00fff1"/>
<rect x="5" y="22" fill="#00fffe"/>
<rect x="6" y="22" fill="#00f4ff"/>
<rect x="7" y="22" fill="#00eaff"/>
<rect x="8" y="22" fill="#00e1ff"/>
<rect x="9" y="22" fill="#00d9ff"/>
<rect x="10" y="22" fill="#00d3ff"/>
<rect x="11" y="22" fill="#00cfff"/>
<rect x="12" y="22" fill="#00ccff"/>
<rect x="13" y="22" fill="#00cbff"/>
<rect x="14" y="22" fill="#00cbff"/>
<rect x="15" y="22" fill="#00cdff"/>
<rect x="16" y="22" fill="#00d1ff"/>
<rect x="17" y="22" fill="#00d5ff"/>
<rect x="18" y="22" fill="#00dcff"/>
<rect x="19" y="22" fill="#00e4ff"/>
<rect x="20" y="22" fill="#00eeff"/>
<rect x="21" y="22" fill="#00f9ff"/>
<rect x="22" y="22" fill="#00fff9"/>
<rect x="23" y="22" fill="#00ffec"/>
<rect x="24" y="22" fill="#00ffde"/>
<rect x="25" y="22" fill="#00ffce"/>
<rect x="26" y="22" fill="#00ffbd"/>
<rect x="27" y="22" fill="#00ffaa"/>
<rect x="28" y="22" fill="#00ff96"/>
<rect x="29" y="22" fill="#00ff81"/>
<rect x="30" y="22" fill="#00ff6a"/>
<rect x="31" y="22" fill="#00ff51"/>
<rect x="32" y="22" fill="#00ff38"/>
<rect x="33" y="22" fill="#00ff1d"/>
<rect x="-2" y="23" fill="#00ff8e"/>
<rect x="-1" y="23" fill="#00ffa3"/>
<rect x="0" y="23" fill="#00ffb6"/>
<rect x="1" y="23" fill="#00ffc8"/>
<rect x="2" y="23" fill="#00ffd8"/>
<rect x="3" y="23" fill="#00ffe7"/>
<rect x="4" y="23" fill="#00fff5"/>
<rect x="5" y="23" fill="#00fdff"/>
<rect x="6" y="23" fill="#00f1ff"/>
<rect x="7" y="23" fill="#00e7ff"/>
<rect x="8" y="23" fill="#00deff"/>
<rect x="9" y="23" fill="#00d7ff"/>
<rect x="10" y="23" fill="#00d1ff"/>
<rect x="11" y="23" fill="#00cdff"/>
<rect x="12" y="23" fill="#00cbff"/>
<rect x="13" y="23" fill="#00caff"/>
<rect x="14" y="23" fill="#00cbff"/>
<rect x="15" y="23" fill="#00cdff"/>
<rect x="16" y="23" fill="#00d0ff"/>
<rect x="17" y="23" fill="#00d6ff"/>
<rect x="18" y="23" fill="#00dcff"/>
<rect x="19" y="23" fill="#00e5ff"/>
<rect x="20" y="23" fill="#00efff"/>
<rect x="21" y="23" fill="#00faff"/>
<rect x="22" y="23" fill="#00fff8"/>
<rect x="23" y="23" fill="#00ffea"/>
<rect x="24" y="23" fill="#00ffdc"/>
<rect x="25" y="23" fill="#00ffcc"/>
<rect x="26" y="23" fill="#00ffba"/>
<rect x="27" y="23" fill="#00ffa7"/>
<rect x="28" y="23" fill="#00ff93"/>
<rect x="29" y="23" fill="#00ff7d"/>
<rect x="30" y="23" fill="#00ff66"/>
<rect x="31" y="23" fill="#00ff4e"/>
<rect x="32" y="23" fill="#00ff34"/>
<rect x="33" y="23" fill="#00ff19"/>
<rect x="-2" y="24" fill="#00ff93"/>
<rect x="-1" y="24" fill="#00ffa8"/>
<rect x="0" y="24" fill="#00ffba"/>
<rect x="1" y="24" fill="#00ffcc"/>
<rect x="2" y="24" fill="#00ffdc"/>
<rect x="3" y="24" fill="#00ffeb"/>
<rect x="4" y="24" fill="#00fff8"/>
<rect x="5" y="24" fill="#00f9ff"/>
<rect x="6" y="24" fill="#00eeff"/>
<rect x="7" y="24" fill="#00e4ff"/>
<rect x="8" y="24" fill="#00dbff"/>
<rect x="9" y="24" fill="#00d4ff"/>
<rect x="10" y="24" fill="#00cfff"/>
<rect x="11" y="24" fill="#00cbff"/>
<rect x="12" y="24" fill="#00c9ff"/>
<rect x="13" y="24" fill="#00c8ff"/>
<rect x="14" y="24" fill="#00c9ff"/>
<rect x="15" y="24" fill="#00ccff"/>
<rect x="16" y="24" fill="#00d0ff"/>
<rect x="17" y="24" fill="#00d5ff"/>
<rect x="18" y="24" fill="#00dcff"/>
<rect x="19" y="24" fill="#00e5ff"/>
<rect x="20" y="24" fill="#00efff"/>
<rect x="21" y="24" fill="#00fbff"/>
<rect x="22" y="24" fill="#00fff7"/>
<rect x="23" y="24" fill="#00ffe9"/>
<rect x="24" y="24" fill="#00ffda"/>
<rect x="25" y="24" fill="#00ffca"/>
<rect x="26" y="24" fill="#00ffb8"/>
<rect x="27" y="24" fill="#00ffa5"/>
<rect x="28" y="24" fill="#00ff91"/>
<rect x="29" y="24" fill="#00ff7b"/>
<rect x="30" y="24" fill="#00ff63"/>
<rect x="31" y="24" fill="#00ff4b"/>
<rect x="32" y="24" fill="#00ff30"/>
<rect x="33" y="24" fill="#00ff15"/>
<rect x="-2" y="25" fill="#00ff99"/>
<rect x="-1" y="25" fill="#00ffad"/>
<rect x="0" y="25" fill="#00ffc0"/>
<rect x="1" y="25" fill="#00ffd1"/>
<rect x="2" y="25" fill="#00ffe1"/>
<rect x="3" y="25" fill="#00ffef"/>
<rect x="4" y="25" fill="#00fffc"/>
<rect x="5" y="25" fill="#00f5ff"/>
<rect x="6" y="25" fill="#00eaff"/>
<rect x="7" y="25" fill="#00e0ff"/>
<rect x="8" y="25" fill="#00d8ff"/>
<rect x="9" y="25" fill="#00d1ff"/>
<rect x="10" y="25" fill="#00ccff"/>
<rect x="11" y="25" fill="#00c9ff"/>
<rect x="12" y="25" fill="#00c7ff"/>
<rect x="13" y="25" fill="#00c7ff"/>
<rect x="14" y="25" fill="#00c8ff"/>
<rect x="15" y="25" fill="#00caff"/>
<rect x="16" y="25" fill="#00cfff"/>
<rect x="17" y="25" fill="#00d4ff"/>
<rect x="18" y="25" fill="#00dcff"/>
<rect x="19" y="25" fill="#00e5ff"/>
<rect x="20" y="25" fill="#00efff"/>
<rect x="21" y="25" fill="#00fbff"/>
<rect x="22" y="25" fill="#00fff6"/>
<rect x="23" y="25" fill="#00ffe8"/>
<rect x="24" y="25" fill="#00ffd9"/>
<rect x="25" y="25" fill="#00ffc9"/>
<rect x="26" y="25" fill="#00ffb7"/>
<rect x="27" y="25" fill="#00ffa3"/>
<rect x="28" y="25" fill="#00ff8f"/>
<rect x="29" y="25" fill="#00ff78"/>
<rect x="30" y="25" fill="#00ff61"/>
<rect x="31" y="25" fill="#00ff48"/>
<rect x="32" y="25" fill="#00ff2d"/>
<rect x="33" y="25" fill="#00ff12"/>
<rect x="-2" y="26" fill="#00ff9f"/>
<rect x="-1" y="26" fill="#00ffb3"/>
<rect x="0" y="26" fill="#00ffc5"/>
<rect x="1" y="26" fill="#00ffd6"/>
<rect x="2" y="26" fill="#00ffe6"/>
<rect x="3" y="26" fill="#00fff4"/>
<rect x="4" y="26" fill="#00fdff"/>
<rect x="5" y="26" fill="#00f1ff"/>
<rect x="6" y="26" fill="#00e6ff"/>
<rect x="7" y="26" fill="#00dcff"/>
<rect x="8" y="26" fill="#00d4ff"/>
<rect x="9" y="26" fill="#00ceff"/>
<rect x="10" y="26" fill="#00c9ff"/>
<rect x="11" y="26" fill="#00c6ff"/>
<rect x="12" y="26" fill="#00c4ff"/>
<rect x="13" y="26" fill="#00c4ff"/>
<rect x="14" y="26" fill="#00c6ff"/>
<rect x="15" y="26" fill="#00c9ff"/>
<rect x="16" y="26" fill="#00cdff"/>
<rect x="17" y="26" fill="#00d3ff"/>
<rect x="18" y="26" fill="#00dbff"/>
<rect x="19" y="26" fill="#00e4ff"/>
<rect x="20" y="26" fill="#00efff"/>
<rect x="21" y="26" fill="#00fbff"/>
<rect x="22" y="26" fill="#00fff6"/>
<rect x="23" y="26" fill="#00ffe8"/>
<rect x="24" y="26" fill="#00ffd9"/>
<rect x="25" y="26" fill="#00ffc8"/>
<rect x="26" y="26" fill="#00ffb6"/>
<rect x="27" y="26" fill="#00ffa2"/>
<rect x="28" y="26" fill="#00ff8d"/>
<rect x="29" y="26" fill="#00ff77"/>
<rect x="30" y="26" fill="#00ff5f"/>
<rect x="31" y="26" fill="#00ff45"/>
<rect x="32" y="26" fill="#00ff2b"/>
<rect x="33" y="26" fill="#00ff0f"/>
<rect x="-2" y="27" fill="#00ffa5"/>
<rect x="-1" y="27" fill="#00ffb9"/>
<rect x="0" y="27" fill="#00ffcb"/>
<rect x="1" y="27" fill="#00ffdc"/>
<rect x="2" y="27" fill="#00ffeb"/>
<rect x="3" y="27" fill="#00fff9"/>
<rect x="4" y="27" fill="#00f8ff"/>
<rect x="5" y="27" fill="#00ecff"/>
<rect x="6" y="27" fill="#00e1ff"/>
<rect x="7" y="27" fill="#00d8ff"/>
<rect x="8" y="27" fill="#00d0ff"/>
<rect x="9" y="27" fill="#00caff"/>
<rect x="10" y="27" fill="#00c6ff"/>
<rect x="11" y="27" fill="#00c3ff"/>
<rect x="12" y="27" fill="#00c1ff"/>
<rect x="13" y="27" fill="#00c1ff"/>
<rect x="14" y="27" fill="#00c3ff"/>
<rect x="15" y="27" fill="#00c6ff"/>
<rect x="16" y="27" fill="#00cbff"/>
<rect x="17" y="27" fill="#00d1ff"/>
<rect x="18" y="27" fill="#00d9ff"/>
<rect x="19" y="27" fill="#00e3ff"/>
<rect x="20" y="27" fill="#00eeff"/>
<rect x="21" y="27" fill="#00faff"/>
<rect x="22" y="27" fill="#00fff6"/>
<rect x="23" y="27" fill="#00ffe8"/>
<rect x="24" y="27" fill="#00ffd9"/>
<rect x="25" y="27" fill="#00ffc7"/>
<rect x="26" y="27" fill="#00ffb5"/>
<rect x="27" y="27" fill="#00ffa1"/>
<rect x="28" y="27" fill="#00ff8c"/>
<rect x="29" y="27" fill="#00ff75"/>
<rect x="30" y="27" fill="#00ff5d"/>
<rect x="31" y="27" fill="#00ff44"/>
<rect x="32" y="27" fill="#00ff29"/>
<rect x="33" y="27" fill="#00ff0c"/>
<rect x="-2" y="28" fill="#00ffac"/>
<rect x="-1" y="28" fill="#00ffbf"/>
<rect x="0" y="28" fill="#00ffd1"/>
<rect x="1" y="28" fill="#00ffe2"/>
<rect x="2" y="28" fill="#00fff1"/>
<rect x="3" y="28" fill="#00ffff"/>
<rect x="4" y="28" fill="#00f2ff"/>
<rect x="5" y="28" fill="#00e6ff"/>
<rect x="6" y="28" fill="#00dcff"/>
<rect x="7" y="28" fill="#00d3ff"/>
<rect x="8" y="28" fill="#00cbff"/>
<rect x="9" y="28" fill="#00c6ff"/>
<rect x="10" y="28" fill="#00c1ff"/>
<rect x="11" y="28" fill="#00bfff"/>
<rect x="12" y="28" fill="#00beff"/>
<rect x="13" y="28" fill="#00beff"/>
<rect x="14" y="28" fill="#00c0ff"/>
<rect x="15" y="28" fill="#00c3ff"/>
<rect x="16" y="28" fill="#00c9ff"/>
<rect x="17" y="28" fill="#00cfff"/>
<rect x="18" y="28" fill="#00d7ff"/>
<rect x="19" y="28" fill="#00e1ff"/>
<rect x="20" y="28" fill="#00ecff"/>
<rect x="21" y="28" fill="#00f9ff"/>
<rect x="22" y="28" fill="#00fff7"/>
<rect x="23" y="28" fill="#00ffe9"/>
<rect x="24" y="28" fill="#00ffd9"/>
<rect x="25" y="28" fill="#00ffc7"/>
<rect x="26" y="28" fill="#00ffb5"/>
<rect x="27" y="28" fill="#00ffa1"/>
<rect x="28" y="28" fill="#00ff8b"/>
<rect x="29" y="28" fill="#00ff74"/>
<rect x="30" y="28" fill="#00ff5c"/>
<rect x="31" y="28" fill="#00ff42"/>
<rect x="32" y="28" fill="#00ff27"/>
<rect x="33" y="28" fill="#00ff0a"/>
<rect x="-2" y="29" fill="#00ffb3"/>
<rect x="-1" y="29" fill="#00ffc6"/>
<rect x="0" y="29" fill="#00ffd8"/>
<rect x="1" y="29" fill="#00ffe8"/>
<rect x="2" y="29" fill="#00fff7"/>
<rect x="3" y="29" fill="#00f9ff"/>
<rect x="4" y="29" fill="#00ecff"/>
<rect x="5" y="29" fill="#00e0ff"/>
<rect x="6" y="29" fill="#00d6ff"/>
<rect x="7" y="29" fill="#00cdff"/>
<rect x="8" y="29" fill="#00c6ff"/>
<rect x="9" y="29" fill="#00c1ff"/>
<rect x="10" y="29" fill="#00bdff"/>
<rect x="11" y="29" fill="#00baff"/>
<rect x="12" y="29" fill="#00baff"/>
<rect x="13" y="29" fill="#00baff"/>
<rect x="14" y="29" fill="#00bcff"/>
<rect x="15" y="29" fill="#00c0ff"/>
<rect x="16" y="29" fill="#00c6ff"/>
<rect x="17" y="29" fill="#00cdff"/>
<rect x="18" y="29" fill="#00d5ff"/>
<rect x="19" y="29" fill="#00dfff"/>
<rect x="20" y="29" fill="#00ebff"/>
<rect x="21" y="29" fill="#00f8ff"/>
<rect x="22" y="29" fill="#00fff8"/>
<rect x="23" y="29" fill="#00ffea"/>
<rect x="24" y="29" fill="#00ffd9"/>
<rect x="25" y="29" fill="#00ffc8"/>
<rect x="26" y="29" fill="#00ffb5"/>
<rect x="27" y="29" fill="#00ffa1"/>
<rect x="28" y="29" fill="#00ff8b"/>
<rect x="29" y="29" fill="#00ff74"/>
<rect x="30" y="29" fill="#00ff5b"/>
<rect x="31" y="29" fill="#00ff41"/>
<rect x="32" y="29" fill="#00ff25"/>
<rect x="33" y="29" fill="#00ff09"/>
<rect x="-2" y="30" fill="#00ffbb"/>
<rect x="-1" y="30" fill="#00ffcd"/>
<rect x="0" y="30" fill="#00ffdf"/>
<rect x="1" y="30" fill="#00ffef"/>
<rect x="2" y="30" fill="#00fffe"/>
<rect x="3" y="30" fill="#00f2ff"/>
<rect x="4" y="30" fill="#00e5ff"/>
<rect x="5" y="30" fill="#00daff"/>
<rect x="6" y="30" fill="#00d0ff"/>
<rect x="7" y="30" fill="#00c7ff"/>
<rect x="8" y="30" fill="#00c1ff"/>
<rect x="9" y="30" fill="#00bbff"/>
<rect x="10" y="30" fill="#00b8ff"/>
<rect x="11" y="30" fill="#00b6ff"/>
<rect x="12" y="30" fill="#00b5ff"/>
<rect x="13" y="30" fill="#00b6ff"/>
<rect x="14" y="30" fill="#00b9ff"/>
<rect x="15" y="30" fill="#00bdff"/>
<rect x="16" y="30" fill="#00c2ff"/>
<rect x="17" y="30" fill="#00c9ff"/>
<rect x="18" y="30" fill="#00d2ff"/>
<rect x="19" y="30" fill="#00dcff"/>
<rect x="20" y="30" fill="#00e8ff"/>
<rect x="21" y="30" fill="#00f6ff"/>
<rect x="22" y="30" fill="#00fffa"/>
<rect x="23" y="30" fill="#00ffeb"/>
<rect x="24" y="30" fill="#00ffdb"/>
<rect x="25" y="30" fill="#00ffc9"/>
<rect x="26" y="30" fill="#00ffb5"/>
<rect x="27" y="30" fill="#00ffa1"/>
<rect x="28" y="30" fill="#00ff8b"/>
<rect x="29" y="30" fill="#00ff73"/>
<rect x="30" y="30" fill="#00ff5a"/>
<rect x="31" y="30" fill="#00ff40"/>
<rect x="32" y="30" fill="#00ff25"/>
<rect x="33" y="30" fill="#00ff07"/>
<rect x="-2" y="31" fill="#00ffc3"/>
<rect x="-1" y="31" fill="#00ffd5"/>
<rect x="0" y="31" fill="#00ffe6"/>
<rect x="1" y="31" fill="#00fff6"/>
<rect x="2" y="31" fill="#00f9ff"/>
<rect x="3" y="31" fill="#00ebff"/>
<rect x="4" y="31" fill="#00deff"/>
<rect x="5" y="31" fill="#00d3ff"/>
<rect x="6" y="31" fill="#00c9ff"/>
<rect x="7" y="31" fill="#00c1ff"/>
<rect x="8" y="31" fill="#00bbff"/>
<rect x="9" y="31" fill="#00b6ff"/>
<rect x="10" y="31" fill="#00b2ff"/>
<rect x="11" y="31" fill="#00b0ff"/>
<rect x="12" y="31" fill="#00b0ff"/>
<rect x="13" y="31" fill="#00b1ff"/>
<rect x="14" y="31" fill="#00b4ff"/>
<rect x="15" y="31" fill="#00b8ff"/>
<rect x="16" y="31" fill="#00beff"/>
<rect x="17" y="31" fill="#00c6ff"/>
<rect x="18" y="31" fill="#00cfff"/>
<rect x="19" y="31" fill="#00d9ff"/>
<rect x="20" y="31" fill="#00e6ff"/>
<rect x="21" y="31" fill="#00f3ff"/>
<rect x="22" y="31" fill="#00fffc"/>
<rect x="23" y="31" fill="#00ffed"/>
<rect x="24" y="31" fill="#00ffdc"/>
<rect x="25" y="31" fill="#00ffca"/>
<rect x="26" y="31" fill="#00ffb6"/>
<rect x="27" y="31" fill="#00ffa2"/>
<rect x="28" y="31" fill="#00ff8b"/>
<rect x="29" y="31" fill="#00ff74"/>
<rect x="30" y="31" fill="#00ff5a"/>
<rect x="31" y="31" fill="#00ff40"/>
<rect x="32" y="31" fill="#00ff24"/>
<rect x="33" y="31" fill="#00ff07"/>
<rect x="-2" y="32" fill="#00ffcb"/>
<rect x="-1" y="32" fill="#00ffdd"/>
<rect x="0" y="32" fill="#00ffee"/>
<rect x="1" y="32" fill="#00fffe"/>
<rect x="2" y="32" fill="#00f1ff"/>
<rect x="3" y="32" fill="#00e3ff"/>
<rect x="4" y="32" fill="#00d6ff"/>
<rect x="5" y="32" fill="#00cbff"/>
<rect x="6" y="32" fill="#00c2ff"/>
<rect x="7" y="32" fill="#00baff"/>
<rect x="8" y="32" fill="#00b4ff"/>
<rect x="9" y="32" fill="#00afff"/>
<rect x="10" y="32" fill="#00acff"/>
<rect x="11" y="32" fill="#00abff"/>
<rect x="12" y="32" fill="#00abff"/>
<rect x="13" y="32" fill="#00acff"/>
<rect x="14" y="32" fill="#00afff"/>
<rect x="15" y="32" fill="#00b4ff"/>
<rect x="16" y="32" fill="#00baff"/>
<rect x="17" y="32" fill="#00c2ff"/>
<rect x="18" y="32" fill="#00cbff"/>
<rect x="19" y="32" fill="#00d6ff"/>
<rect x="20" y="32" fill="#00e2ff"/>
<rect x="21" y="32" fill="#00f0ff"/>
<rect x="22" y="32" fill="#00fffe"/>
<rect x="23" y="32" fill="#00ffef"/>
<rect x="24" y="32" fill="#00ffde"/>
<rect x="25" y="32" fill="#00ffcc"/>
<rect x="26" y="32" fill="#00ffb8"/>
<rect x="27" y="32" fill="#00ffa3"/>
<rect x="28" y="32" fill="#00ff8c"/>
<rect x="29" y="32" fill="#00ff74"/>
<rect x="30" y="32" fill="#00ff5b"/>
<rect x="31" y="32" fill="#00ff40"/>
<rect x="32" y="32" fill="#00ff24"/>
<rect x="33" y="32" fill="#00ff06"/>
<rect x="-2" y="33" fill="#00ffd4"/>
<rect x="-1" y="33" fill="#00ffe6"/>
<rect x="0" y="33" fill="#00fff7"/>
<rect x="1" y="33" fill="#00f7ff"/>
<rect x="2" y="33" fill="#00e8ff"/>
<rect x="3" y="33" fill="#00daff"/>
<rect x="4" y="33" fill="#00ceff"/>
<rect x="5" y="33" fill="#00c3ff"/>
<rect x="6" y="33" fill="#00baff"/>
<rect x="7" y="33" fill="#00b3ff"/>
<rect x="8" y="33" fill="#00adff"/>
<rect x="9" y="33" fill="#00a9ff"/>
<rect x="10" y="33" fill="#00a6ff"/>
<rect x="11" y="33" fill="#00a4ff"/>
<rect x="12" y="33" fill="#00a5ff"/>
<rect x="13" y="33" fill="#00a7ff"/>
<rect x="14" y="33" fill="#00aaff"/>
<rect x="15" y="33" fill="#00afff"/>
<rect x="16" y="33" fill="#00b5ff"/>
<rect x="17" y="33" fill="#00bdff"/>
<rect x="18" y="33" fill="#00c7ff"/>
<rect x="19" y="33" fill="#00d2ff"/>
<rect x="20" y="33" fill="#00dfff"/>
<rect x="21" y="33" fill="#00edff"/>
<rect x="22" y="33" fill="#00fdff"/>
<rect x="23" y="33" fill="#00fff1"/>
<rect x="24" y="33" fill="#00ffe0"/>
<rect x="25" y="33" fill="#00ffce"/>
<rect x="26" y="33" fill="#00ffba"/>
<rect x="27" y="33" fill="#00ffa4"/>
<rect x="28" y="33" fill="#00ff8e"/>
<rect x="29" y="33" fill="#00ff75"/>
<rect x="30" y="33" fill="#00ff5c"/>
<rect x="31" y="33" fill="#00ff41"/>
<rect x="32" y="33" fill="#00ff24"/>
<rect x="33" y="33" fill="#00ff06"/>
</g>
<path d="M291.2 2305.2L295.5 2300.0L299.7 2294.8L304.4 2289.2L309.6 2282.9L314.8 2276.8L319.9 2270.7L325.1 2264.6L330.3 2258.7L335.1 2253.3L339.7 2248.1L344.5 2242.9L349.3 2237.7L354.2 2232.5L359.2 2227.3L364.4 2222.1L369.8 2216.9L375.5 2211.7L381.5 2206.5L387.4 2201.8L392.6 2198.1L397.8 2194.8L405.6 2191.0L413.3 2188.3L423.7 2187.6L434.1 2190.6L439.3 2193.5L444.5 2197.5L449.7 2202.5L454.8 2208.4L460.0 2215.2L464.8 2222.1L468.1 2227.3L471.3 2232.5L475.6 2239.8L480.2 2248.1L482.9 2253.3L486.0 2259.0L491.0 2268.9L493.5 2274.0L496.4 2279.8L501.1 2289.6L503.5 2294.8L506.7 2301.7L508.3 2305.2" fill="none" stroke="#1a1a1a" stroke-width="1.3"/>
<path d="M740.8 1682.1L736.8 1687.3L732.8 1692.5L728.9 1697.7L724.6 1703.2L719.5 1709.9L714.3 1716.7L709.1 1723.4L704.9 1728.8L700.9 1734.0L696.8 1739.2L692.8 1744.4L688.3 1750.3L683.1 1757.0L677.9 1763.7L672.8 1770.3L668.7 1775.6L664.6 1780.8L660.6 1785.9L656.5 1791.1L652.0 1797.0L646.8 1803.6L641.6 1810.2L636.4 1816.8L632.1 1822.3L628.0 1827.5L623.9 1832.7L619.7 1837.9L615.6 1843.1L610.5 1849.5L605.3 1856.0L600.1 1862.5L594.9 1868.9L590.6 1874.2L586.3 1879.4L582.1 1884.6L577.8 1889.8L573.6 1895.0L569.0 1900.5L563.8 1906.7L558.6 1912.9L553.4 1919.0L548.2 1925.0L543.0 1930.9L538.1 1936.5L533.4 1941.7L528.6 1946.9L523.8 1952.1L518.8 1957.3L513.8 1962.5L508.5 1967.7L503.0 1972.9L497.2 1978.1L491.2 1983.2L486.0 1987.2L480.8 1990.8L475.6 1993.9L465.2 1998.5L460.0 1999.8L449.7 2000.1L444.5 1998.8L434.7 1993.6L428.9 1989.0L423.7 1983.7L419.0 1978.1L415.1 1972.9L411.4 1967.7L408.0 1962.5L403.0 1954.4L398.7 1946.9L395.8 1941.7L392.6 1935.8L387.5 1926.1L384.9 1921.0L382.2 1915.6L377.2 1905.4L374.8 1900.2L371.8 1894.0L367.5 1884.6L365.1 1879.4L361.5 1871.5L358.0 1863.8L355.7 1858.6L351.1 1848.3L348.8 1843.1L345.9 1836.5L342.0 1827.5L339.7 1822.3L335.5 1812.6L333.0 1806.7L330.3 1800.4L326.4 1791.1L324.2 1785.9L319.9 1775.9L317.6 1770.4L314.8 1763.6L311.1 1754.8L308.9 1749.6L304.6 1739.2L302.4 1734.0L299.2 1726.3L296.0 1718.4L293.8 1713.3L289.5 1702.9L287.4 1697.7L283.6 1688.5L281.0 1682.1L281.0 1682.1" fill="none" stroke="#1a1a1a" stroke-width="1.3"/>
<path d="M164.3 2216.4L167.6 2206.5L169.5 2200.6L172.5 2191.0L174.7 2183.8L177.2 2175.4L179.9 2165.7L181.5 2159.8L184.2 2149.4L185.5 2144.2L188.0 2133.8L190.2 2123.7L191.4 2118.3L193.5 2107.9L195.4 2097.9L196.4 2092.3L198.2 2081.9L199.8 2071.5L200.6 2065.9L202.0 2056.0L203.2 2045.6L204.3 2035.2L205.3 2024.8L205.8 2017.9L206.4 2009.2L207.0 1998.8L207.5 1988.5L207.9 1978.1L208.1 1967.7L208.1 1957.3L208.1 1946.9L207.9 1936.5L207.6 1926.1L207.2 1915.8L206.7 1905.4L206.0 1895.0L205.7 1889.8L204.9 1879.4L204.0 1869.0L203.0 1858.6L201.9 1848.3L200.7 1837.9L200.1 1832.7L198.7 1822.3L197.3 1811.9L195.8 1801.5L195.0 1796.3L193.4 1785.9L191.7 1775.6L190.2 1767.0L189.0 1760.0L187.1 1749.6L185.2 1739.2L184.2 1734.0L182.1 1723.6L180.0 1713.3L178.9 1708.1L176.7 1697.7L174.7 1688.2L173.3 1682.1L173.3 1682.1" fill="none" stroke="#1a1a1a" stroke-width="1.3"/>
<path d="M786.9 1794.7L783.4 1801.5L780.8 1806.7L776.5 1815.3L773.1 1822.3L770.5 1827.5L766.1 1836.7L763.1 1843.1L760.7 1848.3L755.9 1858.6L753.5 1863.8L750.6 1870.3L746.5 1879.4L744.3 1884.6L740.2 1894.1L737.6 1900.2L735.0 1906.5L731.2 1915.8L729.2 1921.0L725.1 1931.3L723.1 1936.5L719.5 1946.4L717.4 1952.1L714.3 1960.8L711.9 1967.7L709.1 1976.0L706.7 1983.3L703.9 1992.1L701.8 1998.8L698.7 2009.2L697.2 2014.4L694.3 2024.8L692.9 2030.0L690.2 2040.4L688.3 2048.2L686.5 2056.0L684.2 2066.3L683.1 2071.5L681.0 2081.9L679.0 2092.3L677.9 2098.5L676.4 2107.9L674.8 2118.3L673.4 2128.7L672.7 2133.8L671.5 2144.2L670.4 2154.6L669.5 2165.0L668.7 2175.4L668.0 2185.8L667.6 2195.3L667.3 2201.3L667.0 2211.7L666.8 2222.1L666.8 2232.5L666.8 2242.9L667.0 2253.3L667.3 2263.7L667.6 2269.2L668.0 2279.2L668.6 2289.6L669.3 2300.0L669.7 2305.2" fill="none" stroke="#1a1a1a" stroke-width="1.3"/>
<path d="M786.9 2072.6L785.1 2081.9L783.2 2092.3L781.7 2100.6L780.5 2107.9L778.8 2118.3L777.3 2128.7L776.5 2133.8L775.1 2144.2L773.8 2154.6L772.6 2165.0L771.5 2175.4L771.0 2180.6L770.0 2191.0L769.2 2201.3L768.4 2211.7L767.7 2222.1L767.2 2232.5L766.7 2242.9L766.3 2253.3L766.1 2259.8L765.9 2268.9L765.8 2279.2L765.7 2289.6L765.8 2300.0L765.8 2305.2" fill="none" stroke="#1a1a1a" stroke-width="1.3"/>
</g>
<rect x="164.3" y="1682.1" width="622.6" height="623.1" fill="none" stroke="#151515" stroke-width="1.5"/>
<path d="M164.3 2305.2v14.5M164.3 1682.1h-16M319.9 2305.2v14.5M164.3 1837.9h-16M475.6 2305.2v14.5M164.3 1993.6h-16M631.2 2305.2v14.5M164.3 2149.4h-16M786.9 2305.2v14.5M164.3 2305.2h-16" stroke="#151515" stroke-width="1.5" fill="none"/>
<text x="164.3" y="2346.2" font-size="17.5" text-anchor="middle" textLength="63.3" lengthAdjust="spacingAndGlyphs" fill="#1a1a1a">22.0944</text>
<text x="319.9" y="2346.2" font-size="17.5" text-anchor="middle" textLength="63.3" lengthAdjust="spacingAndGlyphs" fill="#1a1a1a">27.2972</text>
<text x="475.6" y="2346.2" font-size="17.5" text-anchor="middle" textLength="34.1" lengthAdjust="spacingAndGlyphs" fill="#1a1a1a">32.5</text>
<text x="631.2" y="2346.2" font-size="17.5" text-anchor="middle" textLength="63.3" lengthAdjust="spacingAndGlyphs" fill="#1a1a1a">37.7028</text>
<text x="786.9" y="2346.2" font-size="17.5" text-anchor="middle" textLength="63.3" lengthAdjust="spacingAndGlyphs" fill="#1a1a1a">42.9056</text>
<rect x="799.7" y="2325.2" width="34" height="30" fill="#fff"/>
<text x="142.0" y="1683.7" font-size="17.5" text-anchor="end" textLength="63.9" lengthAdjust="spacingAndGlyphs" fill="#1a1a1a">51.8921</text>
<text x="142.0" y="1839.5" font-size="17.5" text-anchor="end" textLength="54.1" lengthAdjust="spacingAndGlyphs" fill="#1a1a1a">45.946</text>
<text x="142.0" y="1995.2" font-size="17.5" text-anchor="end" textLength="19.7" lengthAdjust="spacingAndGlyphs" fill="#1a1a1a">40</text>
<text x="142.0" y="2151.0" font-size="17.5" text-anchor="end" textLength="54.1" lengthAdjust="spacingAndGlyphs" fill="#1a1a1a">34.054</text>
<text x="142.0" y="2306.8" font-size="17.5" text-anchor="end" textLength="63.9" lengthAdjust="spacingAndGlyphs" fill="#1a1a1a">28.1079</text>
<text x="475.6" y="2391.8" font-size="24" text-anchor="middle" textLength="199.0" lengthAdjust="spacingAndGlyphs" fill="#1a1a1a">B: Temperature (°C)</text>
<text x="67.0" y="1993.6" font-size="24" text-anchor="middle" textLength="78.0" lengthAdjust="spacingAndGlyphs" transform="rotate(-90 67.0 1993.6)" fill="#1a1a1a">C: FEED</text>
<text x="474.6" y="1669.4" font-size="27" text-anchor="middle" textLength="156.0" lengthAdjust="spacingAndGlyphs" fill="#1a1a1a">Removal (%)</text>
<text x="6.2" y="1692.0" font-size="44" font-weight="bold" fill="#000">E</text>
<rect x="471.5" y="1966.8" width="37" height="17.4" fill="#fff" stroke="#111" stroke-width="1.2"/>
<text x="490.0" y="1979.8" font-size="12" text-anchor="middle" textLength="27.9" lengthAdjust="spacingAndGlyphs" fill="#111">97.75</text>
<rect x="194.0" y="1937.3" width="31" height="17.4" fill="#fff" stroke="#111" stroke-width="1.2"/>
<text x="209.5" y="1950.3" font-size="12" text-anchor="middle" textLength="21.7" lengthAdjust="spacingAndGlyphs" fill="#111">97.8</text>
<rect x="391.0" y="2171.3" width="37" height="17.4" fill="#fff" stroke="#111" stroke-width="1.2"/>
<text x="409.5" y="2184.3" font-size="12" text-anchor="middle" textLength="27.9" lengthAdjust="spacingAndGlyphs" fill="#111">97.75</text>
<rect x="679.0" y="2007.8" width="31" height="17.4" fill="#fff" stroke="#111" stroke-width="1.2"/>
<text x="694.5" y="2020.8" font-size="12" text-anchor="middle" textLength="21.7" lengthAdjust="spacingAndGlyphs" fill="#111">97.8</text>
<rect x="748.5" y="2209.8" width="37" height="17.4" fill="#fff" stroke="#111" stroke-width="1.2"/>
<text x="767.0" y="2222.8" font-size="12" text-anchor="middle" textLength="27.9" lengthAdjust="spacingAndGlyphs" fill="#111">97.85</text>
<circle cx="475.6" cy="1993.6" r="6.1" fill="#d00000" stroke="#3a0a0a" stroke-width="1.3"/>
<text x="460.6" y="1997.4" font-size="10.5" text-anchor="middle" font-weight="bold" fill="#12305c">6</text>
<path d="M960.9 434.0L1277.6 325.4L1593.2 433.9M958.2 379.5L1277.6 276.5L1595.9 379.4M955.6 325.1L1277.6 227.6L1598.5 325.0M953.0 270.6L1277.6 178.7L1601.2 270.5M950.4 216.1L1277.6 129.9L1603.9 216.0M947.7 161.7L1277.6 81.0L1606.5 161.6M945.1 107.2L1277.6 32.1L1609.2 107.1M1040.1 406.8L1028.2 88.4M1514.3 406.8L1526.3 88.3M1119.2 379.7L1111.3 69.7M1435.4 379.6L1443.4 69.6M1198.4 352.5L1194.5 50.9M1356.5 352.5L1360.5 50.9" fill="none" stroke="#111" stroke-width="1.45"/>
<path d="M965.8 536.1L945.1 107.2L1277.6 32.1L1609.2 107.1L1588.2 536.0M1277.6 417.0L1277.6 32.1" fill="none" stroke="#0a0a0a" stroke-width="1.8" stroke-linejoin="round"/>
<clipPath id="fB"><path d="M1277.6 685.2L965.8 536.1L1277.6 417.0L1588.2 536.0Z"/></clipPath>
<path d="M1277.6 685.2L965.8 536.1L1277.6 417.0L1588.2 536.0Z" fill="#646464"/>
<g clip-path="url(#fB)" fill="none" stroke-width="3.2">
<path d="M1046.1 574.5L1044.9 570.5L1044.2 566.7L1044.0 563.2L1044.2 559.9L1044.8 556.8L1045.7 553.8L1046.8 550.9L1048.7 547.5L1051.8 543.2L1053.9 540.8L1057.5 537.3L1061.3 534.2L1067.0 530.2L1070.2 528.3L1076.9 524.7L1084.2 521.4L1092.1 518.4L1100.5 515.6L1109.4 513.0L1114.1 511.8L1123.9 509.7L1130.6 508.4L1139.7 506.9L1145.3 506.0L1156.3 504.7L1163.0 504.0L1169.3 503.5L1176.8 503.0L1186.0 502.5L1194.7 502.3L1203.0 502.2L1210.9 502.2L1218.5 502.3L1225.8 502.6L1232.9 503.0L1239.7 503.4L1246.4 503.9L1255.9 504.8L1265.1 505.8L1271.1 506.6L1278.4 507.7L1288.0 509.3L1293.3 510.3L1303.6 512.5L1308.6 513.6L1318.2 516.1L1327.3 518.8L1333.0 520.6L1340.0 523.1L1348.0 526.3L1355.4 529.6L1359.0 531.4L1365.7 535.1L1371.9 539.0L1375.5 541.6L1380.2 545.3L1383.2 548.1L1387.1 552.3L1389.0 554.8L1391.3 558.3L1393.5 562.6L1394.7 565.9L1395.5 568.9L1395.9 572.2L1396.0 575.6L1395.7 579.2L1394.8 583.0L1393.5 586.7L1392.2 589.6L1390.6 592.4L1387.3 597.0L1384.5 600.2L1381.6 603.2L1376.7 607.4L1370.9 611.7L1367.5 613.9L1360.6 618.0L1353.1 621.8L1345.1 625.3L1336.5 628.6L1331.0 630.5L1322.6 633.1L1312.6 635.7L1307.4 636.9L1297.8 638.9L1290.8 640.1L1285.0 641.0L1274.9 642.3L1266.3 643.2L1259.7 643.7L1252.9 644.1L1245.8 644.4L1238.5 644.6L1230.6 644.7L1223.0 644.5L1214.7 644.2L1206.0 643.7L1196.8 643.0L1188.5 642.1L1187.1 641.9" stroke="#00ffdd"/>
<path d="M1306.3 671.4L1297.8 672.5L1291.4 673.2L1285.0 673.9L1276.4 674.6L1267.3 675.2L1258.6 675.7L1257.7 675.7" stroke="#00ff6b"/>
<path d="M975.5 540.7L976.9 538.1L979.3 534.3L982.2 530.5L983.0 529.5" stroke="#00ff6b"/>
<path d="M1112.4 480.1L1120.3 479.1L1126.1 478.4L1135.7 477.5L1144.4 476.8L1150.7 476.3L1157.2 475.9L1165.5 475.5L1174.5 475.1L1183.2 474.9L1191.6 474.8L1199.5 474.8L1207.2 474.8L1215.1 475.0L1222.6 475.2L1229.8 475.4L1236.9 475.8L1243.8 476.2L1250.5 476.6L1259.1 477.3L1269.0 478.2L1276.2 478.9L1282.2 479.6L1290.6 480.6L1299.9 481.9L1305.5 482.7L1315.6 484.3L1321.9 485.5L1330.2 487.1L1337.4 488.5L1347.3 490.8L1352.1 491.9L1361.5 494.3L1370.6 496.9L1375.0 498.2L1383.5 501.0L1391.8 503.9L1399.7 506.9L1407.2 510.1L1414.5 513.5L1421.4 517.0L1424.7 518.8L1431.0 522.5L1437.0 526.5L1439.8 528.5L1445.2 532.7L1447.7 534.9L1452.5 539.4L1454.6 541.8L1457.2 544.9L1460.4 549.2L1462.0 551.8L1463.5 554.5L1465.3 558.3L1466.7 562.3L1467.7 566.1L1468.3 569.3L1468.6 572.6L1468.6 576.1L1468.3 579.7L1467.7 583.3L1466.9 586.4L1465.9 589.5L1464.7 592.5L1463.0 596.2L1463.0 596.2" stroke="#00ff6b"/>
<path d="M1180.1 454.2L1187.6 454.2L1195.1 454.2L1202.8 454.2L1210.7 454.4L1218.7 454.5L1226.7 454.8L1233.9 455.1L1241.0 455.4L1247.9 455.8L1254.7 456.2L1262.7 456.8L1272.3 457.6L1280.7 458.3L1286.9 458.9L1293.0 459.6L1304.0 460.8L1310.9 461.7L1316.6 462.5L1327.9 464.1L1333.4 464.9L1341.7 466.3L1349.5 467.7L1356.6 469.0L1364.9 470.7L1373.9 472.6L1379.6 474.0L1389.1 476.3L1395.6 477.9L1402.8 479.9L1411.6 482.5L1420.1 485.2L1428.4 488.0L1436.4 490.9L1444.1 493.9L1451.6 497.1L1458.7 500.4L1465.6 503.8L1472.2 507.3L1475.4 509.1L1481.5 512.9L1487.4 516.8L1490.2 518.8L1495.5 523.0L1498.1 525.1L1502.9 529.5L1505.1 531.8L1508.1 535.0L1511.3 538.9L1513.2 541.4L1515.3 544.5L1517.8 548.9L1519.3 552.0L1520.5 554.8L1521.6 557.7L1522.6 561.0L1523.4 564.8L1523.8 566.9" stroke="#07ff00"/>
<path d="M1542.8 518.6L1546.8 522.3L1549.1 524.6L1553.3 529.2L1555.3 531.6L1557.3 534.2L1560.5 538.7L1562.3 541.7L1563.8 544.3L1565.2 547.1" stroke="#76ff00"/>
<path d="M1223.4 437.7L1231.0 438.0L1239.6 438.3L1248.4 438.8L1257.4 439.3L1265.2 439.8L1271.8 440.3L1278.3 440.8L1286.1 441.4L1296.4 442.4L1303.4 443.1L1309.5 443.7L1318.2 444.7L1327.2 445.8L1332.9 446.6L1342.2 447.9L1349.7 449.0L1355.5 449.9L1365.9 451.6L1369.8 452.3" stroke="#76ff00"/>
<path d="M1257.9 424.5L1264.7 424.9L1271.4 425.3L1278.0 425.8L1286.6 426.5L1296.6 427.3L1303.5 427.9L1306.9 428.2" stroke="#e4ff00"/>
</g>
<path d="M1277.6 685.2L965.8 536.1L1277.6 417.0L1588.2 536.0Z" fill="none" stroke="#111" stroke-width="1.5" stroke-linejoin="round"/>
<g stroke="#0a0c18" stroke-width="1.3" stroke-linejoin="round">
<path d="M1277.6 151.5L1291.2 137.2L1277.6 126.2L1264.0 140.5Z" fill="#faff00"/>
<path d="M1264.0 165.3L1277.6 151.5L1264.0 140.5L1250.4 154.2Z" fill="#cbff00"/>
<path d="M1291.1 162.1L1304.7 147.6L1291.2 137.2L1277.6 151.5Z" fill="#daff00"/>
<path d="M1250.4 178.6L1264.0 165.3L1250.4 154.2L1236.9 167.4Z" fill="#9fff00"/>
<path d="M1277.5 175.9L1291.1 162.1L1277.6 151.5L1264.0 165.3Z" fill="#acff00"/>
<path d="M1304.6 172.1L1318.3 157.6L1304.7 147.6L1291.1 162.1Z" fill="#bdff00"/>
<path d="M1236.9 191.4L1250.4 178.6L1236.9 167.4L1223.4 180.1Z" fill="#76ff00"/>
<path d="M1264.0 189.3L1277.5 175.9L1264.0 165.3L1250.4 178.6Z" fill="#80ff00"/>
<path d="M1291.0 186.1L1304.6 172.1L1291.1 162.1L1277.5 175.9Z" fill="#8eff00"/>
<path d="M1318.1 181.6L1331.8 167.1L1318.3 157.6L1304.6 172.1Z" fill="#a2ff00"/>
<path d="M1223.5 203.5L1236.9 191.4L1223.4 180.1L1209.9 192.2Z" fill="#50ff00"/>
<path d="M1250.5 202.1L1264.0 189.3L1250.4 178.6L1236.9 191.4Z" fill="#57ff00"/>
<path d="M1277.5 199.5L1291.0 186.1L1277.5 175.9L1264.0 189.3Z" fill="#63ff00"/>
<path d="M1304.5 195.7L1318.1 181.6L1304.6 172.1L1291.0 186.1Z" fill="#74ff00"/>
<path d="M1331.6 190.7L1345.3 176.0L1331.8 167.1L1318.1 181.6Z" fill="#89ff00"/>
<path d="M1210.0 215.2L1223.5 203.5L1209.9 192.2L1196.5 203.8Z" fill="#2cff00"/>
<path d="M1237.0 214.4L1250.5 202.1L1236.9 191.4L1223.5 203.5Z" fill="#31ff00"/>
<path d="M1264.0 212.4L1277.5 199.5L1264.0 189.3L1250.5 202.1Z" fill="#3aff00"/>
<path d="M1291.0 209.2L1304.5 195.7L1291.0 186.1L1277.5 199.5Z" fill="#48ff00"/>
<path d="M1318.0 204.8L1331.6 190.7L1318.1 181.6L1304.5 195.7Z" fill="#5bff00"/>
<path d="M1345.1 199.2L1358.7 184.5L1345.3 176.0L1331.6 190.7Z" fill="#73ff00"/>
<path d="M1196.6 226.2L1210.0 215.2L1196.5 203.8L1183.1 214.8Z" fill="#0cff00"/>
<path d="M1223.6 226.0L1237.0 214.4L1223.5 203.5L1210.0 215.2Z" fill="#0eff00"/>
<path d="M1250.5 224.7L1264.0 212.4L1250.5 202.1L1237.0 214.4Z" fill="#14ff00"/>
<path d="M1277.5 222.1L1291.0 209.2L1277.5 199.5L1264.0 212.4Z" fill="#20ff00"/>
<path d="M1304.4 218.3L1318.0 204.8L1304.5 195.7L1291.0 209.2Z" fill="#30ff00"/>
<path d="M1331.4 213.3L1345.1 199.2L1331.6 190.7L1318.0 204.8Z" fill="#46ff00"/>
<path d="M1358.5 207.1L1372.2 192.4L1358.7 184.5L1345.1 199.2Z" fill="#60ff00"/>
<path d="M1183.2 236.7L1196.6 226.2L1183.1 214.8L1169.7 225.2Z" fill="#00ff13"/>
<path d="M1210.2 237.2L1223.6 226.0L1210.0 215.2L1196.6 226.2Z" fill="#00ff13"/>
<path d="M1237.1 236.4L1250.5 224.7L1237.0 214.4L1223.6 226.0Z" fill="#00ff0f"/>
<path d="M1264.0 234.5L1277.5 222.1L1264.0 212.4L1250.5 224.7Z" fill="#00ff06"/>
<path d="M1290.9 231.3L1304.4 218.3L1291.0 209.2L1277.5 222.1Z" fill="#08ff00"/>
<path d="M1317.9 226.9L1331.4 213.3L1318.0 204.8L1304.4 218.3Z" fill="#1bff00"/>
<path d="M1344.9 221.4L1358.5 207.1L1345.1 199.2L1331.4 213.3Z" fill="#32ff00"/>
<path d="M1371.9 214.6L1385.6 199.8L1372.2 192.4L1358.5 207.1Z" fill="#4fff00"/>
<path d="M1169.9 246.6L1183.2 236.7L1169.7 225.2L1156.3 235.0Z" fill="#00ff2f"/>
<path d="M1196.8 247.7L1210.2 237.2L1196.6 226.2L1183.2 236.7Z" fill="#00ff32"/>
<path d="M1223.7 247.6L1237.1 236.4L1223.6 226.0L1210.2 237.2Z" fill="#00ff30"/>
<path d="M1250.5 246.3L1264.0 234.5L1250.5 224.7L1237.1 236.4Z" fill="#00ff2a"/>
<path d="M1277.4 243.7L1290.9 231.3L1277.5 222.1L1264.0 234.5Z" fill="#00ff1e"/>
<path d="M1304.3 240.0L1317.9 226.9L1304.4 218.3L1290.9 231.3Z" fill="#00ff0d"/>
<path d="M1331.3 235.0L1344.9 221.4L1331.4 213.3L1317.9 226.9Z" fill="#08ff00"/>
<path d="M1358.3 228.9L1371.9 214.6L1358.5 207.1L1344.9 221.4Z" fill="#22ff00"/>
<path d="M1385.4 221.5L1399.1 206.6L1385.6 199.8L1371.9 214.6Z" fill="#40ff00"/>
<path d="M1156.5 255.9L1169.9 246.6L1156.3 235.0L1142.9 244.3Z" fill="#00ff47"/>
<path d="M1183.4 257.6L1196.8 247.7L1183.2 236.7L1169.9 246.6Z" fill="#00ff4d"/>
<path d="M1210.3 258.2L1223.7 247.6L1210.2 237.2L1196.8 247.7Z" fill="#00ff4e"/>
<path d="M1237.1 257.5L1250.5 246.3L1237.1 236.4L1223.7 247.6Z" fill="#00ff4a"/>
<path d="M1264.0 255.6L1277.4 243.7L1264.0 234.5L1250.5 246.3Z" fill="#00ff42"/>
<path d="M1290.9 252.5L1304.3 240.0L1290.9 231.3L1277.4 243.7Z" fill="#00ff34"/>
<path d="M1317.8 248.1L1331.3 235.0L1317.9 226.9L1304.3 240.0Z" fill="#00ff21"/>
<path d="M1344.7 242.6L1358.3 228.9L1344.9 221.4L1331.3 235.0Z" fill="#00ff09"/>
<path d="M1371.7 235.8L1385.4 221.5L1371.9 214.6L1358.3 228.9Z" fill="#14ff00"/>
<path d="M1398.8 227.8L1412.5 212.9L1399.1 206.6L1385.4 221.5Z" fill="#35ff00"/>
<path d="M1143.2 264.6L1156.5 255.9L1142.9 244.3L1129.6 252.9Z" fill="#00ff5e"/>
<path d="M1170.0 267.0L1183.4 257.6L1169.9 246.6L1156.5 255.9Z" fill="#00ff66"/>
<path d="M1196.9 268.2L1210.3 258.2L1196.8 247.7L1183.4 257.6Z" fill="#00ff6a"/>
<path d="M1223.7 268.1L1237.1 257.5L1223.7 247.6L1210.3 258.2Z" fill="#00ff68"/>
<path d="M1250.6 266.8L1264.0 255.6L1250.5 246.3L1237.1 257.5Z" fill="#00ff62"/>
<path d="M1277.4 264.4L1290.9 252.5L1277.4 243.7L1264.0 255.6Z" fill="#00ff57"/>
<path d="M1304.3 260.6L1317.8 248.1L1304.3 240.0L1290.9 252.5Z" fill="#00ff47"/>
<path d="M1331.2 255.7L1344.7 242.6L1331.3 235.0L1317.8 248.1Z" fill="#00ff31"/>
<path d="M1358.1 249.6L1371.7 235.8L1358.3 228.9L1344.7 242.6Z" fill="#00ff17"/>
<path d="M1385.1 242.2L1398.8 227.8L1385.4 221.5L1371.7 235.8Z" fill="#08ff00"/>
<path d="M1412.2 233.6L1426.0 218.6L1412.5 212.9L1398.8 227.8Z" fill="#2bff00"/>
<path d="M1129.8 272.6L1143.2 264.6L1129.6 252.9L1116.2 260.9Z" fill="#00ff71"/>
<path d="M1156.7 275.7L1170.0 267.0L1156.5 255.9L1143.2 264.6Z" fill="#00ff7c"/>
<path d="M1183.5 277.5L1196.9 268.2L1183.4 257.6L1170.0 267.0Z" fill="#00ff82"/>
<path d="M1210.4 278.1L1223.7 268.1L1210.3 258.2L1196.9 268.2Z" fill="#00ff84"/>
<path d="M1237.2 277.5L1250.6 266.8L1237.1 257.5L1223.7 268.1Z" fill="#00ff80"/>
<path d="M1264.0 275.7L1277.4 264.4L1264.0 255.6L1250.6 266.8Z" fill="#00ff77"/>
<path d="M1290.8 272.6L1304.3 260.6L1290.9 252.5L1277.4 264.4Z" fill="#00ff6a"/>
<path d="M1317.7 268.3L1331.2 255.7L1317.8 248.1L1304.3 260.6Z" fill="#00ff57"/>
<path d="M1344.6 262.8L1358.1 249.6L1344.7 242.6L1331.2 255.7Z" fill="#00ff3f"/>
<path d="M1371.5 256.0L1385.1 242.2L1371.7 235.8L1358.1 249.6Z" fill="#00ff23"/>
<path d="M1398.5 248.0L1412.2 233.6L1398.8 227.8L1385.1 242.2Z" fill="#00ff01"/>
<path d="M1425.7 238.8L1439.4 223.8L1426.0 218.6L1412.2 233.6Z" fill="#24ff00"/>
<path d="M1116.5 280.1L1129.8 272.6L1116.2 260.9L1102.9 268.3Z" fill="#00ff81"/>
<path d="M1143.4 283.8L1156.7 275.7L1143.2 264.6L1129.8 272.6Z" fill="#00ff8f"/>
<path d="M1170.2 286.3L1183.5 277.5L1170.0 267.0L1156.7 275.7Z" fill="#00ff98"/>
<path d="M1197.0 287.6L1210.4 278.1L1196.9 268.2L1183.5 277.5Z" fill="#00ff9c"/>
<path d="M1223.8 287.6L1237.2 277.5L1223.7 268.1L1210.4 278.1Z" fill="#00ff9b"/>
<path d="M1250.6 286.4L1264.0 275.7L1250.6 266.8L1237.2 277.5Z" fill="#00ff95"/>
<path d="M1277.4 284.0L1290.8 272.6L1277.4 264.4L1264.0 275.7Z" fill="#00ff8a"/>
<path d="M1304.2 280.3L1317.7 268.3L1304.3 260.6L1290.8 272.6Z" fill="#00ff7a"/>
<path d="M1331.0 275.4L1344.6 262.8L1331.2 255.7L1317.7 268.3Z" fill="#00ff65"/>
<path d="M1357.9 269.2L1371.5 256.0L1358.1 249.6L1344.6 262.8Z" fill="#00ff4b"/>
<path d="M1384.9 261.9L1398.5 248.0L1385.1 242.2L1371.5 256.0Z" fill="#00ff2c"/>
<path d="M1412.0 253.3L1425.7 238.8L1412.2 233.6L1398.5 248.0Z" fill="#00ff08"/>
<path d="M1439.1 243.4L1452.9 228.4L1439.4 223.8L1425.7 238.8Z" fill="#20ff00"/>
<path d="M1103.1 286.9L1116.5 280.1L1102.9 268.3L1089.5 275.1Z" fill="#00ff8e"/>
<path d="M1130.0 291.3L1143.4 283.8L1129.8 272.6L1116.5 280.1Z" fill="#00ff9f"/>
<path d="M1156.9 294.5L1170.2 286.3L1156.7 275.7L1143.4 283.8Z" fill="#00ffab"/>
<path d="M1183.7 296.4L1197.0 287.6L1183.5 277.5L1170.2 286.3Z" fill="#00ffb1"/>
<path d="M1210.4 297.1L1223.8 287.6L1210.4 278.1L1197.0 287.6Z" fill="#00ffb3"/>
<path d="M1237.2 296.5L1250.6 286.4L1237.2 277.5L1223.8 287.6Z" fill="#00ffaf"/>
<path d="M1264.0 294.7L1277.4 284.0L1264.0 275.7L1250.6 286.4Z" fill="#00ffa7"/>
<path d="M1290.8 291.7L1304.2 280.3L1290.8 272.6L1277.4 284.0Z" fill="#00ff9a"/>
<path d="M1317.6 287.4L1331.0 275.4L1317.7 268.3L1304.2 280.3Z" fill="#00ff88"/>
<path d="M1344.4 281.9L1357.9 269.2L1344.6 262.8L1331.0 275.4Z" fill="#00ff70"/>
<path d="M1371.3 275.1L1384.9 261.9L1371.5 256.0L1357.9 269.2Z" fill="#00ff54"/>
<path d="M1398.3 267.1L1412.0 253.3L1398.5 248.0L1384.9 261.9Z" fill="#00ff33"/>
<path d="M1425.4 257.9L1439.1 243.4L1425.7 238.8L1412.0 253.3Z" fill="#00ff0d"/>
<path d="M1452.6 247.5L1466.4 232.4L1452.9 228.4L1439.1 243.4Z" fill="#1eff00"/>
<path d="M1089.7 293.1L1103.1 286.9L1089.5 275.1L1076.1 281.2Z" fill="#00ff99"/>
<path d="M1116.7 298.1L1130.0 291.3L1116.5 280.1L1103.1 286.9Z" fill="#00ffac"/>
<path d="M1143.5 302.0L1156.9 294.5L1143.4 283.8L1130.0 291.3Z" fill="#00ffba"/>
<path d="M1170.3 304.6L1183.7 296.4L1170.2 286.3L1156.9 294.5Z" fill="#00ffc4"/>
<path d="M1197.1 305.9L1210.4 297.1L1197.0 287.6L1183.7 296.4Z" fill="#00ffc8"/>
<path d="M1223.9 306.0L1237.2 296.5L1223.8 287.6L1210.4 297.1Z" fill="#00ffc7"/>
<path d="M1250.6 304.9L1264.0 294.7L1250.6 286.4L1237.2 296.5Z" fill="#00ffc2"/>
<path d="M1277.4 302.5L1290.8 291.7L1277.4 284.0L1264.0 294.7Z" fill="#00ffb7"/>
<path d="M1304.1 298.8L1317.6 287.4L1304.2 280.3L1290.8 291.7Z" fill="#00ffa7"/>
<path d="M1330.9 294.0L1344.4 281.9L1331.0 275.4L1317.6 287.4Z" fill="#00ff93"/>
<path d="M1357.8 287.8L1371.3 275.1L1357.9 269.2L1344.4 281.9Z" fill="#00ff79"/>
<path d="M1384.7 280.5L1398.3 267.1L1384.9 261.9L1371.3 275.1Z" fill="#00ff5a"/>
<path d="M1411.7 271.9L1425.4 257.9L1412.0 253.3L1398.3 267.1Z" fill="#00ff37"/>
<path d="M1438.8 262.0L1452.6 247.5L1439.1 243.4L1425.4 257.9Z" fill="#00ff0e"/>
<path d="M1466.0 250.9L1479.9 235.8L1466.4 232.4L1452.6 247.5Z" fill="#1eff00"/>
<path d="M1076.4 298.6L1089.7 293.1L1076.1 281.2L1062.7 286.7Z" fill="#00ffa1"/>
<path d="M1103.3 304.3L1116.7 298.1L1103.1 286.9L1089.7 293.1Z" fill="#00ffb6"/>
<path d="M1130.2 308.8L1143.5 302.0L1130.0 291.3L1116.7 298.1Z" fill="#00ffc7"/>
<path d="M1157.0 312.1L1170.3 304.6L1156.9 294.5L1143.5 302.0Z" fill="#00ffd3"/>
<path d="M1183.8 314.1L1197.1 305.9L1183.7 296.4L1170.3 304.6Z" fill="#00ffda"/>
<path d="M1210.5 314.9L1223.9 306.0L1210.4 297.1L1197.1 305.9Z" fill="#00ffdc"/>
<path d="M1237.3 314.4L1250.6 304.9L1237.2 296.5L1223.9 306.0Z" fill="#00ffd9"/>
<path d="M1264.0 312.7L1277.4 302.5L1264.0 294.7L1250.6 304.9Z" fill="#00ffd1"/>
<path d="M1290.7 309.7L1304.1 298.8L1290.8 291.7L1277.4 302.5Z" fill="#00ffc4"/>
<path d="M1317.5 305.4L1330.9 294.0L1317.6 287.4L1304.1 298.8Z" fill="#00ffb2"/>
<path d="M1344.3 299.9L1357.8 287.8L1344.4 281.9L1330.9 294.0Z" fill="#00ff9b"/>
<path d="M1371.2 293.2L1384.7 280.5L1371.3 275.1L1357.8 287.8Z" fill="#00ff7f"/>
<path d="M1398.1 285.2L1411.7 271.9L1398.3 267.1L1384.7 280.5Z" fill="#00ff5e"/>
<path d="M1425.2 276.0L1438.8 262.0L1425.4 257.9L1411.7 271.9Z" fill="#00ff38"/>
<path d="M1452.3 265.5L1466.0 250.9L1452.6 247.5L1438.8 262.0Z" fill="#00ff0d"/>
<path d="M1479.5 253.8L1493.4 238.6L1479.9 235.8L1466.0 250.9Z" fill="#22ff00"/>
<path d="M1063.0 303.4L1076.4 298.6L1062.7 286.7L1049.3 291.6Z" fill="#00ffa5"/>
<path d="M1090.0 309.9L1103.3 304.3L1089.7 293.1L1076.4 298.6Z" fill="#00ffbe"/>
<path d="M1116.9 315.1L1130.2 308.8L1116.7 298.1L1103.3 304.3Z" fill="#00ffd1"/>
<path d="M1143.7 319.0L1157.0 312.1L1143.5 302.0L1130.2 308.8Z" fill="#00ffe0"/>
<path d="M1170.5 321.7L1183.8 314.1L1170.3 304.6L1157.0 312.1Z" fill="#00ffea"/>
<path d="M1197.2 323.1L1210.5 314.9L1197.1 305.9L1183.8 314.1Z" fill="#00ffee"/>
<path d="M1223.9 323.3L1237.3 314.4L1223.9 306.0L1210.5 314.9Z" fill="#00ffee"/>
<path d="M1250.6 322.2L1264.0 312.7L1250.6 304.9L1237.3 314.4Z" fill="#00ffe8"/>
<path d="M1277.3 319.9L1290.7 309.7L1277.4 302.5L1264.0 312.7Z" fill="#00ffde"/>
<path d="M1304.1 316.3L1317.5 305.4L1304.1 298.8L1290.7 309.7Z" fill="#00ffcf"/>
<path d="M1330.8 311.4L1344.3 299.9L1330.9 294.0L1317.5 305.4Z" fill="#00ffba"/>
<path d="M1357.7 305.3L1371.2 293.2L1357.8 287.8L1344.3 299.9Z" fill="#00ffa1"/>
<path d="M1384.6 298.0L1398.1 285.2L1384.7 280.5L1371.2 293.2Z" fill="#00ff83"/>
<path d="M1411.5 289.3L1425.2 276.0L1411.7 271.9L1398.1 285.2Z" fill="#00ff5f"/>
<path d="M1438.6 279.5L1452.3 265.5L1438.8 262.0L1425.2 276.0Z" fill="#00ff37"/>
<path d="M1465.8 268.4L1479.5 253.8L1466.0 250.9L1452.3 265.5Z" fill="#00ff0a"/>
<path d="M1493.1 256.0L1506.9 240.8L1493.4 238.6L1479.5 253.8Z" fill="#27ff00"/>
<path d="M1049.6 307.6L1063.0 303.4L1049.3 291.6L1035.9 295.7Z" fill="#00ffa7"/>
<path d="M1076.6 314.8L1090.0 309.9L1076.4 298.6L1063.0 303.4Z" fill="#00ffc2"/>
<path d="M1103.5 320.6L1116.9 315.1L1103.3 304.3L1090.0 309.9Z" fill="#00ffd9"/>
<path d="M1130.3 325.3L1143.7 319.0L1130.2 308.8L1116.9 315.1Z" fill="#00ffea"/>
<path d="M1157.1 328.6L1170.5 321.7L1157.0 312.1L1143.7 319.0Z" fill="#00fff6"/>
<path d="M1183.9 330.7L1197.2 323.1L1183.8 314.1L1170.5 321.7Z" fill="#00fffd"/>
<path d="M1210.6 331.6L1223.9 323.3L1210.5 314.9L1197.2 323.1Z" fill="#00feff"/>
<path d="M1237.3 331.2L1250.6 322.2L1237.3 314.4L1223.9 323.3Z" fill="#00fffd"/>
<path d="M1264.0 329.5L1277.3 319.9L1264.0 312.7L1250.6 322.2Z" fill="#00fff5"/>
<path d="M1290.7 326.5L1304.1 316.3L1290.7 309.7L1277.3 319.9Z" fill="#00ffe8"/>
<path d="M1317.4 322.3L1330.8 311.4L1317.5 305.4L1304.1 316.3Z" fill="#00ffd7"/>
<path d="M1344.2 316.9L1357.7 305.3L1344.3 299.9L1330.8 311.4Z" fill="#00ffc0"/>
<path d="M1371.0 310.1L1384.6 298.0L1371.2 293.2L1357.7 305.3Z" fill="#00ffa4"/>
<path d="M1398.0 302.1L1411.5 289.3L1398.1 285.2L1384.6 298.0Z" fill="#00ff84"/>
<path d="M1425.0 292.9L1438.6 279.5L1425.2 276.0L1411.5 289.3Z" fill="#00ff5e"/>
<path d="M1452.1 282.4L1465.8 268.4L1452.3 265.5L1438.6 279.5Z" fill="#00ff34"/>
<path d="M1479.3 270.6L1493.1 256.0L1479.5 253.8L1465.8 268.4Z" fill="#00ff04"/>
<path d="M1506.6 257.6L1520.5 242.4L1506.9 240.8L1493.1 256.0Z" fill="#2fff00"/>
<path d="M1036.2 311.1L1049.6 307.6L1035.9 295.7L1022.5 299.2Z" fill="#00ffa6"/>
<path d="M1063.2 319.0L1076.6 314.8L1063.0 303.4L1049.6 307.6Z" fill="#00ffc4"/>
<path d="M1090.1 325.5L1103.5 320.6L1090.0 309.9L1076.6 314.8Z" fill="#00ffdd"/>
<path d="M1117.0 330.9L1130.3 325.3L1116.9 315.1L1103.5 320.6Z" fill="#00fff1"/>
<path d="M1143.8 334.9L1157.1 328.6L1143.7 319.0L1130.3 325.3Z" fill="#00feff"/>
<path d="M1170.6 337.7L1183.9 330.7L1170.5 321.7L1157.1 328.6Z" fill="#00f4ff"/>
<path d="M1197.3 339.2L1210.6 331.6L1197.2 323.1L1183.9 330.7Z" fill="#00eeff"/>
<path d="M1224.0 339.5L1237.3 331.2L1223.9 323.3L1210.6 331.6Z" fill="#00eeff"/>
<path d="M1250.6 338.4L1264.0 329.5L1250.6 322.2L1237.3 331.2Z" fill="#00f4ff"/>
<path d="M1277.3 336.2L1290.7 326.5L1277.3 319.9L1264.0 329.5Z" fill="#00ffff"/>
<path d="M1304.0 332.6L1317.4 322.3L1304.1 316.3L1290.7 326.5Z" fill="#00fff0"/>
<path d="M1330.8 327.8L1344.2 316.9L1330.8 311.4L1317.4 322.3Z" fill="#00ffdc"/>
<path d="M1357.6 321.7L1371.0 310.1L1357.7 305.3L1344.2 316.9Z" fill="#00ffc3"/>
<path d="M1384.4 314.3L1398.0 302.1L1384.6 298.0L1371.0 310.1Z" fill="#00ffa5"/>
<path d="M1411.4 305.7L1425.0 292.9L1411.5 289.3L1398.0 302.1Z" fill="#00ff82"/>
<path d="M1438.4 295.8L1452.1 282.4L1438.6 279.5L1425.0 292.9Z" fill="#00ff5a"/>
<path d="M1465.5 284.7L1479.3 270.6L1465.8 268.4L1452.1 282.4Z" fill="#00ff2d"/>
<path d="M1492.8 272.3L1506.6 257.6L1493.1 256.0L1479.3 270.6Z" fill="#04ff00"/>
<path d="M1520.2 258.6L1534.1 243.4L1520.5 242.4L1506.6 257.6Z" fill="#3aff00"/>
<path d="M1022.7 314.0L1036.2 311.1L1022.5 299.2L1009.0 302.0Z" fill="#00ffa2"/>
<path d="M1049.8 322.5L1063.2 319.0L1049.6 307.6L1036.2 311.1Z" fill="#00ffc3"/>
<path d="M1076.8 329.8L1090.1 325.5L1076.6 314.8L1063.2 319.0Z" fill="#00ffde"/>
<path d="M1103.7 335.8L1117.0 330.9L1103.5 320.6L1090.1 325.5Z" fill="#00fff5"/>
<path d="M1130.5 340.5L1143.8 334.9L1130.3 325.3L1117.0 330.9Z" fill="#00f7ff"/>
<path d="M1157.2 344.0L1170.6 337.7L1157.1 328.6L1143.8 334.9Z" fill="#00e9ff"/>
<path d="M1184.0 346.2L1197.3 339.2L1183.9 330.7L1170.6 337.7Z" fill="#00e1ff"/>
<path d="M1210.6 347.1L1224.0 339.5L1210.6 331.6L1197.3 339.2Z" fill="#00deff"/>
<path d="M1237.3 346.8L1250.6 338.4L1237.3 331.2L1224.0 339.5Z" fill="#00e1ff"/>
<path d="M1264.0 345.1L1277.3 336.2L1264.0 329.5L1250.6 338.4Z" fill="#00e9ff"/>
<path d="M1290.7 342.2L1304.0 332.6L1290.7 326.5L1277.3 336.2Z" fill="#00f7ff"/>
<path d="M1317.4 338.1L1330.8 327.8L1317.4 322.3L1304.0 332.6Z" fill="#00fff5"/>
<path d="M1344.1 332.6L1357.6 321.7L1344.2 316.9L1330.8 327.8Z" fill="#00ffdf"/>
<path d="M1370.9 325.9L1384.4 314.3L1371.0 310.1L1357.6 321.7Z" fill="#00ffc4"/>
<path d="M1397.8 317.9L1411.4 305.7L1398.0 302.1L1384.4 314.3Z" fill="#00ffa3"/>
<path d="M1424.8 308.7L1438.4 295.8L1425.0 292.9L1411.4 305.7Z" fill="#00ff7e"/>
<path d="M1451.9 298.1L1465.5 284.7L1452.1 282.4L1438.4 295.8Z" fill="#00ff54"/>
<path d="M1479.0 286.3L1492.8 272.3L1479.3 270.6L1465.5 284.7Z" fill="#00ff25"/>
<path d="M1506.3 273.3L1520.2 258.6L1506.6 257.6L1492.8 272.3Z" fill="#0fff00"/>
<path d="M1533.8 259.0L1547.7 243.7L1534.1 243.4L1520.2 258.6Z" fill="#47ff00"/>
<path d="M1009.2 316.1L1022.7 314.0L1009.0 302.0L995.5 304.2Z" fill="#00ff9c"/>
<path d="M1036.3 325.3L1049.8 322.5L1036.2 311.1L1022.7 314.0Z" fill="#00ffbf"/>
<path d="M1063.4 333.3L1076.8 329.8L1063.2 319.0L1049.8 322.5Z" fill="#00ffdd"/>
<path d="M1090.3 340.0L1103.7 335.8L1090.1 325.5L1076.8 329.8Z" fill="#00fff6"/>
<path d="M1117.1 345.5L1130.5 340.5L1117.0 330.9L1103.7 335.8Z" fill="#00f3ff"/>
<path d="M1143.9 349.6L1157.2 344.0L1143.8 334.9L1130.5 340.5Z" fill="#00e2ff"/>
<path d="M1170.6 352.5L1184.0 346.2L1170.6 337.7L1157.2 344.0Z" fill="#00d7ff"/>
<path d="M1197.3 354.1L1210.6 347.1L1197.3 339.2L1184.0 346.2Z" fill="#00d1ff"/>
<path d="M1224.0 354.4L1237.3 346.8L1224.0 339.5L1210.6 347.1Z" fill="#00d1ff"/>
<path d="M1250.7 353.5L1264.0 345.1L1250.6 338.4L1237.3 346.8Z" fill="#00d6ff"/>
<path d="M1277.3 351.2L1290.7 342.2L1277.3 336.2L1264.0 345.1Z" fill="#00e1ff"/>
<path d="M1304.0 347.7L1317.4 338.1L1304.0 332.6L1290.7 342.2Z" fill="#00f1ff"/>
<path d="M1330.7 342.9L1344.1 332.6L1330.8 327.8L1317.4 338.1Z" fill="#00fff8"/>
<path d="M1357.5 336.9L1370.9 325.9L1357.6 321.7L1344.1 332.6Z" fill="#00ffdf"/>
<path d="M1384.3 329.5L1397.8 317.9L1384.4 314.3L1370.9 325.9Z" fill="#00ffc2"/>
<path d="M1411.2 320.9L1424.8 308.7L1411.4 305.7L1397.8 317.9Z" fill="#00ff9f"/>
<path d="M1438.2 311.0L1451.9 298.1L1438.4 295.8L1424.8 308.7Z" fill="#00ff77"/>
<path d="M1465.3 299.8L1479.0 286.3L1465.5 284.7L1451.9 298.1Z" fill="#00ff4b"/>
<path d="M1492.6 287.4L1506.3 273.3L1492.8 272.3L1479.0 286.3Z" fill="#00ff19"/>
<path d="M1519.9 273.7L1533.8 259.0L1520.2 258.6L1506.3 273.3Z" fill="#1dff00"/>
<path d="M1547.5 258.7L1561.4 243.4L1547.7 243.7L1533.8 259.0Z" fill="#57ff00"/>
<path d="M995.7 317.5L1009.2 316.1L995.5 304.2L981.9 305.6Z" fill="#00ff92"/>
<path d="M1022.9 327.5L1036.3 325.3L1022.7 314.0L1009.2 316.1Z" fill="#00ffb8"/>
<path d="M1049.9 336.2L1063.4 333.3L1049.8 322.5L1036.3 325.3Z" fill="#00ffd8"/>
<path d="M1076.9 343.6L1090.3 340.0L1076.8 329.8L1063.4 333.3Z" fill="#00fff4"/>
<path d="M1103.8 349.7L1117.1 345.5L1103.7 335.8L1090.3 340.0Z" fill="#00f2ff"/>
<path d="M1130.6 354.6L1143.9 349.6L1130.5 340.5L1117.1 345.5Z" fill="#00deff"/>
<path d="M1157.3 358.1L1170.6 352.5L1157.2 344.0L1143.9 349.6Z" fill="#00d0ff"/>
<path d="M1184.0 360.4L1197.3 354.1L1184.0 346.2L1170.6 352.5Z" fill="#00c7ff"/>
<path d="M1210.7 361.4L1224.0 354.4L1210.6 347.1L1197.3 354.1Z" fill="#00c4ff"/>
<path d="M1237.3 361.2L1250.7 353.5L1237.3 346.8L1224.0 354.4Z" fill="#00c7ff"/>
<path d="M1264.0 359.6L1277.3 351.2L1264.0 345.1L1250.7 353.5Z" fill="#00ceff"/>
<path d="M1290.6 356.7L1304.0 347.7L1290.7 342.2L1277.3 351.2Z" fill="#00dcff"/>
<path d="M1317.3 352.6L1330.7 342.9L1317.4 338.1L1304.0 347.7Z" fill="#00eeff"/>
<path d="M1344.1 347.2L1357.5 336.9L1344.1 332.6L1330.7 342.9Z" fill="#00fff8"/>
<path d="M1370.9 340.5L1384.3 329.5L1370.9 325.9L1357.5 336.9Z" fill="#00ffdd"/>
<path d="M1397.7 332.5L1411.2 320.9L1397.8 317.9L1384.3 329.5Z" fill="#00ffbd"/>
<path d="M1424.7 323.2L1438.2 311.0L1424.8 308.7L1411.2 320.9Z" fill="#00ff98"/>
<path d="M1451.7 312.7L1465.3 299.8L1451.9 298.1L1438.2 311.0Z" fill="#00ff6e"/>
<path d="M1478.9 300.9L1492.6 287.4L1479.0 286.3L1465.3 299.8Z" fill="#00ff3f"/>
<path d="M1506.1 287.8L1519.9 273.7L1506.3 273.3L1492.6 287.4Z" fill="#00ff0b"/>
<path d="M1533.6 273.4L1547.5 258.7L1533.8 259.0L1519.9 273.7Z" fill="#2cff00"/>
<path d="M1561.2 257.8L1575.2 242.5L1561.4 243.4L1547.5 258.7Z" fill="#69ff00"/>
<path d="M982.1 318.2L995.7 317.5L981.9 305.6L968.3 306.3Z" fill="#00ff85"/>
<path d="M1009.3 328.9L1022.9 327.5L1009.2 316.1L995.7 317.5Z" fill="#00ffae"/>
<path d="M1036.5 338.3L1049.9 336.2L1036.3 325.3L1022.9 327.5Z" fill="#00ffd1"/>
<path d="M1063.5 346.4L1076.9 343.6L1063.4 333.3L1049.9 336.2Z" fill="#00fff0"/>
<path d="M1090.4 353.3L1103.8 349.7L1090.3 340.0L1076.9 343.6Z" fill="#00f4ff"/>
<path d="M1117.2 358.8L1130.6 354.6L1117.1 345.5L1103.8 349.7Z" fill="#00ddff"/>
<path d="M1144.0 363.1L1157.3 358.1L1143.9 349.6L1130.6 354.6Z" fill="#00ccff"/>
<path d="M1170.7 366.1L1184.0 360.4L1170.6 352.5L1157.3 358.1Z" fill="#00c1ff"/>
<path d="M1197.4 367.8L1210.7 361.4L1197.3 354.1L1184.0 360.4Z" fill="#00bbff"/>
<path d="M1224.0 368.2L1237.3 361.2L1224.0 354.4L1210.7 361.4Z" fill="#00baff"/>
<path d="M1250.7 367.3L1264.0 359.6L1250.7 353.5L1237.3 361.2Z" fill="#00bfff"/>
<path d="M1277.3 365.1L1290.6 356.7L1277.3 351.2L1264.0 359.6Z" fill="#00c9ff"/>
<path d="M1304.0 361.6L1317.3 352.6L1304.0 347.7L1290.6 356.7Z" fill="#00d9ff"/>
<path d="M1330.7 356.9L1344.1 347.2L1330.7 342.9L1317.3 352.6Z" fill="#00efff"/>
<path d="M1357.4 350.8L1370.9 340.5L1357.5 336.9L1344.1 347.2Z" fill="#00fff6"/>
<path d="M1384.2 343.5L1397.7 332.5L1384.3 329.5L1370.9 340.5Z" fill="#00ffd8"/>
<path d="M1411.1 334.8L1424.7 323.2L1411.2 320.9L1397.7 332.5Z" fill="#00ffb6"/>
<path d="M1438.1 324.9L1451.7 312.7L1438.2 311.0L1424.7 323.2Z" fill="#00ff8f"/>
<path d="M1465.2 313.7L1478.9 300.9L1465.3 299.8L1451.7 312.7Z" fill="#00ff62"/>
<path d="M1492.4 301.3L1506.1 287.8L1492.6 287.4L1478.9 300.9Z" fill="#00ff31"/>
<path d="M1519.8 287.5L1533.6 273.4L1519.9 273.7L1506.1 287.8Z" fill="#05ff00"/>
<path d="M1547.2 272.5L1561.2 257.8L1547.5 258.7L1533.6 273.4Z" fill="#3fff00"/>
<path d="M1574.9 256.2L1588.9 240.9L1575.2 242.5L1561.2 257.8Z" fill="#7dff00"/>
<path d="M968.5 318.2L982.1 318.2L968.3 306.3L954.7 306.3Z" fill="#00ff76"/>
<path d="M995.8 329.6L1009.3 328.9L995.7 317.5L982.1 318.2Z" fill="#00ffa1"/>
<path d="M1023.0 339.7L1036.5 338.3L1022.9 327.5L1009.3 328.9Z" fill="#00ffc7"/>
<path d="M1050.0 348.6L1063.5 346.4L1049.9 336.2L1036.5 338.3Z" fill="#00ffe8"/>
<path d="M1077.0 356.1L1090.4 353.3L1076.9 343.6L1063.5 346.4Z" fill="#00f9ff"/>
<path d="M1103.8 362.4L1117.2 358.8L1103.8 349.7L1090.4 353.3Z" fill="#00e0ff"/>
<path d="M1130.6 367.4L1144.0 363.1L1130.6 354.6L1117.2 358.8Z" fill="#00ccff"/>
<path d="M1157.4 371.0L1170.7 366.1L1157.3 358.1L1144.0 363.1Z" fill="#00bdff"/>
<path d="M1184.1 373.4L1197.4 367.8L1184.0 360.4L1170.7 366.1Z" fill="#00b4ff"/>
<path d="M1210.7 374.5L1224.0 368.2L1210.7 361.4L1197.4 367.8Z" fill="#00b1ff"/>
<path d="M1237.4 374.3L1250.7 367.3L1237.3 361.2L1224.0 368.2Z" fill="#00b3ff"/>
<path d="M1264.0 372.8L1277.3 365.1L1264.0 359.6L1250.7 367.3Z" fill="#00baff"/>
<path d="M1290.6 370.0L1304.0 361.6L1290.6 356.7L1277.3 365.1Z" fill="#00c7ff"/>
<path d="M1317.3 365.9L1330.7 356.9L1317.3 352.6L1304.0 361.6Z" fill="#00daff"/>
<path d="M1344.0 360.5L1357.4 350.8L1344.1 347.2L1330.7 356.9Z" fill="#00f2ff"/>
<path d="M1370.8 353.8L1384.2 343.5L1370.9 340.5L1357.4 350.8Z" fill="#00fff1"/>
<path d="M1397.6 345.8L1411.1 334.8L1397.7 332.5L1384.2 343.5Z" fill="#00ffd1"/>
<path d="M1424.6 336.5L1438.1 324.9L1424.7 323.2L1411.1 334.8Z" fill="#00ffac"/>
<path d="M1451.6 326.0L1465.2 313.7L1451.7 312.7L1438.1 324.9Z" fill="#00ff83"/>
<path d="M1478.7 314.1L1492.4 301.3L1478.9 300.9L1465.2 313.7Z" fill="#00ff54"/>
<path d="M1506.0 301.0L1519.8 287.5L1506.1 287.8L1492.4 301.3Z" fill="#00ff20"/>
<path d="M1533.4 286.6L1547.2 272.5L1533.6 273.4L1519.8 287.5Z" fill="#18ff00"/>
<path d="M1561.0 270.9L1574.9 256.2L1561.2 257.8L1547.2 272.5Z" fill="#54ff00"/>
<path d="M1588.7 254.0L1602.8 238.7L1588.9 240.9L1574.9 256.2Z" fill="#95ff00"/>
<path d="M982.2 329.6L995.8 329.6L982.1 318.2L968.5 318.2Z" fill="#00ff91"/>
<path d="M1009.4 340.5L1023.0 339.7L1009.3 328.9L995.8 329.6Z" fill="#00ffba"/>
<path d="M1036.5 350.0L1050.0 348.6L1036.5 338.3L1023.0 339.7Z" fill="#00ffde"/>
<path d="M1063.5 358.3L1077.0 356.1L1063.5 346.4L1050.0 348.6Z" fill="#00fffd"/>
<path d="M1090.5 365.3L1103.8 362.4L1090.4 353.3L1077.0 356.1Z" fill="#00e5ff"/>
<path d="M1117.3 370.9L1130.6 367.4L1117.2 358.8L1103.8 362.4Z" fill="#00cfff"/>
<path d="M1144.0 375.3L1157.4 371.0L1144.0 363.1L1130.6 367.4Z" fill="#00bdff"/>
<path d="M1170.7 378.4L1184.1 373.4L1170.7 366.1L1157.4 371.0Z" fill="#00b1ff"/>
<path d="M1197.4 380.2L1210.7 374.5L1197.4 367.8L1184.1 373.4Z" fill="#00abff"/>
<path d="M1224.0 380.6L1237.4 374.3L1224.0 368.2L1210.7 374.5Z" fill="#00aaff"/>
<path d="M1250.7 379.8L1264.0 372.8L1250.7 367.3L1237.4 374.3Z" fill="#00aeff"/>
<path d="M1277.3 377.7L1290.6 370.0L1277.3 365.1L1264.0 372.8Z" fill="#00b8ff"/>
<path d="M1304.0 374.3L1317.3 365.9L1304.0 361.6L1290.6 370.0Z" fill="#00c8ff"/>
<path d="M1330.6 369.5L1344.0 360.5L1330.7 356.9L1317.3 365.9Z" fill="#00ddff"/>
<path d="M1357.4 363.5L1370.8 353.8L1357.4 350.8L1344.0 360.5Z" fill="#00f7ff"/>
<path d="M1384.2 356.2L1397.6 345.8L1384.2 343.5L1370.8 353.8Z" fill="#00ffe9"/>
<path d="M1411.1 347.5L1424.6 336.5L1411.1 334.8L1397.6 345.8Z" fill="#00ffc7"/>
<path d="M1438.0 337.6L1451.6 326.0L1438.1 324.9L1424.6 336.5Z" fill="#00ffa0"/>
<path d="M1465.1 326.4L1478.7 314.1L1465.2 313.7L1451.6 326.0Z" fill="#00ff74"/>
<path d="M1492.3 313.9L1506.0 301.0L1492.4 301.3L1478.7 314.1Z" fill="#00ff43"/>
<path d="M1519.6 300.1L1533.4 286.6L1519.8 287.5L1506.0 301.0Z" fill="#00ff0d"/>
<path d="M1547.1 285.0L1561.0 270.9L1547.2 272.5L1533.4 286.6Z" fill="#2dff00"/>
<path d="M1574.7 268.7L1588.7 254.0L1574.9 256.2L1561.0 270.9Z" fill="#6bff00"/>
<path d="M995.8 340.4L1009.4 340.5L995.8 329.6L982.2 329.6Z" fill="#00ffaa"/>
<path d="M1023.0 350.7L1036.5 350.0L1023.0 339.7L1009.4 340.5Z" fill="#00ffd1"/>
<path d="M1050.1 359.7L1063.5 358.3L1050.0 348.6L1036.5 350.0Z" fill="#00fff2"/>
<path d="M1077.0 367.4L1090.5 365.3L1077.0 356.1L1063.5 358.3Z" fill="#00eeff"/>
<path d="M1103.9 373.8L1117.3 370.9L1103.8 362.4L1090.5 365.3Z" fill="#00d4ff"/>
<path d="M1130.7 378.9L1144.0 375.3L1130.6 367.4L1117.3 370.9Z" fill="#00c0ff"/>
<path d="M1157.4 382.7L1170.7 378.4L1157.4 371.0L1144.0 375.3Z" fill="#00b1ff"/>
<path d="M1184.1 385.1L1197.4 380.2L1184.1 373.4L1170.7 378.4Z" fill="#00a8ff"/>
<path d="M1210.7 386.3L1224.0 380.6L1210.7 374.5L1197.4 380.2Z" fill="#00a4ff"/>
<path d="M1237.4 386.2L1250.7 379.8L1237.4 374.3L1224.0 380.6Z" fill="#00a6ff"/>
<path d="M1264.0 384.7L1277.3 377.7L1264.0 372.8L1250.7 379.8Z" fill="#00adff"/>
<path d="M1290.6 382.0L1304.0 374.3L1290.6 370.0L1277.3 377.7Z" fill="#00b9ff"/>
<path d="M1317.3 377.9L1330.6 369.5L1317.3 365.9L1304.0 374.3Z" fill="#00cbff"/>
<path d="M1344.0 372.5L1357.4 363.5L1344.0 360.5L1330.6 369.5Z" fill="#00e3ff"/>
<path d="M1370.8 365.9L1384.2 356.2L1370.8 353.8L1357.4 363.5Z" fill="#00fffe"/>
<path d="M1397.6 357.9L1411.1 347.5L1397.6 345.8L1384.2 356.2Z" fill="#00ffdf"/>
<path d="M1424.5 348.6L1438.0 337.6L1424.6 336.5L1411.1 347.5Z" fill="#00ffba"/>
<path d="M1451.5 338.0L1465.1 326.4L1451.6 326.0L1438.0 337.6Z" fill="#00ff91"/>
<path d="M1478.6 326.2L1492.3 313.9L1478.7 314.1L1465.1 326.4Z" fill="#00ff63"/>
<path d="M1505.9 313.0L1519.6 300.1L1506.0 301.0L1492.3 313.9Z" fill="#00ff2f"/>
<path d="M1533.3 298.5L1547.1 285.0L1533.4 286.6L1519.6 300.1Z" fill="#09ff00"/>
<path d="M1560.8 282.8L1574.7 268.7L1561.0 270.9L1547.1 285.0Z" fill="#44ff00"/>
<path d="M1009.5 350.7L1023.0 350.7L1009.4 340.5L995.8 340.4Z" fill="#00ffc0"/>
<path d="M1036.6 360.4L1050.1 359.7L1036.5 350.0L1023.0 350.7Z" fill="#00ffe4"/>
<path d="M1063.6 368.8L1077.0 367.4L1063.5 358.3L1050.1 359.7Z" fill="#00faff"/>
<path d="M1090.5 375.9L1103.9 373.8L1090.5 365.3L1077.0 367.4Z" fill="#00ddff"/>
<path d="M1117.3 381.7L1130.7 378.9L1117.3 370.9L1103.9 373.8Z" fill="#00c6ff"/>
<path d="M1144.1 386.2L1157.4 382.7L1144.0 375.3L1130.7 378.9Z" fill="#00b4ff"/>
<path d="M1170.8 389.4L1184.1 385.1L1170.7 378.4L1157.4 382.7Z" fill="#00a8ff"/>
<path d="M1197.4 391.3L1210.7 386.3L1197.4 380.2L1184.1 385.1Z" fill="#00a1ff"/>
<path d="M1224.1 391.8L1237.4 386.2L1224.0 380.6L1210.7 386.3Z" fill="#00a0ff"/>
<path d="M1250.7 391.1L1264.0 384.7L1250.7 379.8L1237.4 386.2Z" fill="#00a4ff"/>
<path d="M1277.3 389.0L1290.6 382.0L1277.3 377.7L1264.0 384.7Z" fill="#00aeff"/>
<path d="M1304.0 385.6L1317.3 377.9L1304.0 374.3L1290.6 382.0Z" fill="#00bdff"/>
<path d="M1330.6 380.9L1344.0 372.5L1330.6 369.5L1317.3 377.9Z" fill="#00d2ff"/>
<path d="M1357.4 374.9L1370.8 365.9L1357.4 363.5L1344.0 372.5Z" fill="#00ecff"/>
<path d="M1384.2 367.6L1397.6 357.9L1384.2 356.2L1370.8 365.9Z" fill="#00fff4"/>
<path d="M1411.0 359.0L1424.5 348.6L1411.1 347.5L1397.6 357.9Z" fill="#00ffd2"/>
<path d="M1438.0 349.0L1451.5 338.0L1438.0 337.6L1424.5 348.6Z" fill="#00ffab"/>
<path d="M1465.0 337.8L1478.6 326.2L1465.1 326.4L1451.5 338.0Z" fill="#00ff80"/>
<path d="M1492.2 325.2L1505.9 313.0L1492.3 313.9L1478.6 326.2Z" fill="#00ff4f"/>
<path d="M1519.5 311.4L1533.3 298.5L1519.6 300.1L1505.9 313.0Z" fill="#00ff19"/>
<path d="M1547.0 296.3L1560.8 282.8L1547.1 285.0L1533.3 298.5Z" fill="#21ff00"/>
<path d="M1023.0 360.4L1036.6 360.4L1023.0 350.7L1009.5 350.7Z" fill="#00ffd4"/>
<path d="M1050.1 369.5L1063.6 368.8L1050.1 359.7L1036.6 360.4Z" fill="#00fff6"/>
<path d="M1077.0 377.3L1090.5 375.9L1077.0 367.4L1063.6 368.8Z" fill="#00eaff"/>
<path d="M1103.9 383.9L1117.3 381.7L1103.9 373.8L1090.5 375.9Z" fill="#00cfff"/>
<path d="M1130.7 389.1L1144.1 386.2L1130.7 378.9L1117.3 381.7Z" fill="#00bbff"/>
<path d="M1157.4 392.9L1170.8 389.4L1157.4 382.7L1144.1 386.2Z" fill="#00acff"/>
<path d="M1184.1 395.5L1197.4 391.3L1184.1 385.1L1170.8 389.4Z" fill="#00a2ff"/>
<path d="M1210.7 396.8L1224.1 391.8L1210.7 386.3L1197.4 391.3Z" fill="#009eff"/>
<path d="M1237.4 396.7L1250.7 391.1L1237.4 386.2L1224.1 391.8Z" fill="#009fff"/>
<path d="M1264.0 395.3L1277.3 389.0L1264.0 384.7L1250.7 391.1Z" fill="#00a6ff"/>
<path d="M1290.6 392.6L1304.0 385.6L1290.6 382.0L1277.3 389.0Z" fill="#00b2ff"/>
<path d="M1317.3 388.6L1330.6 380.9L1317.3 377.9L1304.0 385.6Z" fill="#00c4ff"/>
<path d="M1344.0 383.3L1357.4 374.9L1344.0 372.5L1330.6 380.9Z" fill="#00dbff"/>
<path d="M1370.7 376.6L1384.2 367.6L1370.8 365.9L1357.4 374.9Z" fill="#00f8ff"/>
<path d="M1397.6 368.6L1411.0 359.0L1397.6 357.9L1384.2 367.6Z" fill="#00ffe7"/>
<path d="M1424.5 359.4L1438.0 349.0L1424.5 348.6L1411.0 359.0Z" fill="#00ffc3"/>
<path d="M1451.5 348.8L1465.0 337.8L1451.5 338.0L1438.0 349.0Z" fill="#00ff99"/>
<path d="M1478.6 336.9L1492.2 325.2L1478.6 326.2L1465.0 337.8Z" fill="#00ff6b"/>
<path d="M1505.8 323.6L1519.5 311.4L1505.9 313.0L1492.2 325.2Z" fill="#00ff38"/>
<path d="M1533.2 309.1L1547.0 296.3L1533.3 298.5L1519.5 311.4Z" fill="#00ff01"/>
<path d="M1036.6 369.4L1050.1 369.5L1036.6 360.4L1023.0 360.4Z" fill="#00ffe5"/>
<path d="M1063.6 378.0L1077.0 377.3L1063.6 368.8L1050.1 369.5Z" fill="#00f9ff"/>
<path d="M1090.5 385.2L1103.9 383.9L1090.5 375.9L1077.0 377.3Z" fill="#00dcff"/>
<path d="M1117.3 391.2L1130.7 389.1L1117.3 381.7L1103.9 383.9Z" fill="#00c4ff"/>
<path d="M1144.1 395.8L1157.4 392.9L1144.1 386.2L1130.7 389.1Z" fill="#00b2ff"/>
<path d="M1170.8 399.1L1184.1 395.5L1170.8 389.4L1157.4 392.9Z" fill="#00a6ff"/>
<path d="M1197.4 401.0L1210.7 396.8L1197.4 391.3L1184.1 395.5Z" fill="#009fff"/>
<path d="M1224.1 401.7L1237.4 396.7L1224.1 391.8L1210.7 396.8Z" fill="#009dff"/>
<path d="M1250.7 401.0L1264.0 395.3L1250.7 391.1L1237.4 396.7Z" fill="#00a1ff"/>
<path d="M1277.3 399.0L1290.6 392.6L1277.3 389.0L1264.0 395.3Z" fill="#00aaff"/>
<path d="M1304.0 395.6L1317.3 388.6L1304.0 385.6L1290.6 392.6Z" fill="#00b9ff"/>
<path d="M1330.6 390.9L1344.0 383.3L1330.6 380.9L1317.3 388.6Z" fill="#00cdff"/>
<path d="M1357.4 385.0L1370.7 376.6L1357.4 374.9L1344.0 383.3Z" fill="#00e7ff"/>
<path d="M1384.1 377.7L1397.6 368.6L1384.2 367.6L1370.7 376.6Z" fill="#00fff8"/>
<path d="M1411.0 369.0L1424.5 359.4L1411.0 359.0L1397.6 368.6Z" fill="#00ffd7"/>
<path d="M1438.0 359.1L1451.5 348.8L1438.0 349.0L1424.5 359.4Z" fill="#00ffb1"/>
<path d="M1465.0 347.8L1478.6 336.9L1465.0 337.8L1451.5 348.8Z" fill="#00ff85"/>
<path d="M1492.2 335.3L1505.8 323.6L1492.2 325.2L1478.6 336.9Z" fill="#00ff55"/>
<path d="M1519.5 321.4L1533.2 309.1L1519.5 311.4L1505.8 323.6Z" fill="#00ff20"/>
<path d="M1050.1 377.9L1063.6 378.0L1050.1 369.5L1036.6 369.4Z" fill="#00fff4"/>
<path d="M1077.0 385.9L1090.5 385.2L1077.0 377.3L1063.6 378.0Z" fill="#00ebff"/>
<path d="M1103.9 392.6L1117.3 391.2L1103.9 383.9L1090.5 385.2Z" fill="#00d1ff"/>
<path d="M1130.7 397.9L1144.1 395.8L1130.7 389.1L1117.3 391.2Z" fill="#00bcff"/>
<path d="M1157.4 401.9L1170.8 399.1L1157.4 392.9L1144.1 395.8Z" fill="#00adff"/>
<path d="M1184.1 404.5L1197.4 401.0L1184.1 395.5L1170.8 399.1Z" fill="#00a3ff"/>
<path d="M1210.7 405.9L1224.1 401.7L1210.7 396.8L1197.4 401.0Z" fill="#009eff"/>
<path d="M1237.4 405.9L1250.7 401.0L1237.4 396.7L1224.1 401.7Z" fill="#009fff"/>
<path d="M1264.0 404.6L1277.3 399.0L1264.0 395.3L1250.7 401.0Z" fill="#00a5ff"/>
<path d="M1290.6 401.9L1304.0 395.6L1290.6 392.6L1277.3 399.0Z" fill="#00b1ff"/>
<path d="M1317.3 397.9L1330.6 390.9L1317.3 388.6L1304.0 395.6Z" fill="#00c3ff"/>
<path d="M1344.0 392.6L1357.4 385.0L1344.0 383.3L1330.6 390.9Z" fill="#00daff"/>
<path d="M1370.8 386.0L1384.1 377.7L1370.7 376.6L1357.4 385.0Z" fill="#00f6ff"/>
<path d="M1397.6 378.0L1411.0 369.0L1397.6 368.6L1384.1 377.7Z" fill="#00ffe9"/>
<path d="M1424.5 368.7L1438.0 359.1L1424.5 359.4L1411.0 369.0Z" fill="#00ffc5"/>
<path d="M1451.5 358.1L1465.0 347.8L1451.5 348.8L1438.0 359.1Z" fill="#00ff9c"/>
<path d="M1478.6 346.2L1492.2 335.3L1478.6 336.9L1465.0 347.8Z" fill="#00ff6e"/>
<path d="M1505.8 333.0L1519.5 321.4L1505.8 323.6L1492.2 335.3Z" fill="#00ff3c"/>
<path d="M1063.5 385.8L1077.0 385.9L1063.6 378.0L1050.1 377.9Z" fill="#00feff"/>
<path d="M1090.4 393.2L1103.9 392.6L1090.5 385.2L1077.0 385.9Z" fill="#00e1ff"/>
<path d="M1117.3 399.2L1130.7 397.9L1117.3 391.2L1103.9 392.6Z" fill="#00c9ff"/>
<path d="M1144.0 404.0L1157.4 401.9L1144.1 395.8L1130.7 397.9Z" fill="#00b7ff"/>
<path d="M1170.7 407.3L1184.1 404.5L1170.8 399.1L1157.4 401.9Z" fill="#00aaff"/>
<path d="M1197.4 409.4L1210.7 405.9L1197.4 401.0L1184.1 404.5Z" fill="#00a2ff"/>
<path d="M1224.1 410.1L1237.4 405.9L1224.1 401.7L1210.7 405.9Z" fill="#00a0ff"/>
<path d="M1250.7 409.5L1264.0 404.6L1250.7 401.0L1237.4 405.9Z" fill="#00a4ff"/>
<path d="M1277.3 407.5L1290.6 401.9L1277.3 399.0L1264.0 404.6Z" fill="#00adff"/>
<path d="M1304.0 404.2L1317.3 397.9L1304.0 395.6L1290.6 401.9Z" fill="#00bbff"/>
<path d="M1330.7 399.6L1344.0 392.6L1330.6 390.9L1317.3 397.9Z" fill="#00cfff"/>
<path d="M1357.4 393.7L1370.8 386.0L1357.4 385.0L1344.0 392.6Z" fill="#00e9ff"/>
<path d="M1384.2 386.4L1397.6 378.0L1384.1 377.7L1370.8 386.0Z" fill="#00fff7"/>
<path d="M1411.0 377.7L1424.5 368.7L1411.0 369.0L1397.6 378.0Z" fill="#00ffd6"/>
<path d="M1438.0 367.8L1451.5 358.1L1438.0 359.1L1424.5 368.7Z" fill="#00ffb0"/>
<path d="M1465.0 356.5L1478.6 346.2L1465.0 347.8L1451.5 358.1Z" fill="#00ff85"/>
<path d="M1492.2 343.9L1505.8 333.0L1492.2 335.3L1478.6 346.2Z" fill="#00ff55"/>
<path d="M1076.9 393.1L1090.4 393.2L1077.0 385.9L1063.5 385.8Z" fill="#00f4ff"/>
<path d="M1103.8 399.8L1117.3 399.2L1103.9 392.6L1090.4 393.2Z" fill="#00d9ff"/>
<path d="M1130.6 405.3L1144.0 404.0L1130.7 397.9L1117.3 399.2Z" fill="#00c4ff"/>
<path d="M1157.4 409.4L1170.7 407.3L1157.4 401.9L1144.0 404.0Z" fill="#00b4ff"/>
<path d="M1184.1 412.2L1197.4 409.4L1184.1 404.5L1170.7 407.3Z" fill="#00aaff"/>
<path d="M1210.7 413.6L1224.1 410.1L1210.7 405.9L1197.4 409.4Z" fill="#00a5ff"/>
<path d="M1237.4 413.7L1250.7 409.5L1237.4 405.9L1224.1 410.1Z" fill="#00a5ff"/>
<path d="M1264.0 412.4L1277.3 407.5L1264.0 404.6L1250.7 409.5Z" fill="#00abff"/>
<path d="M1290.7 409.8L1304.0 404.2L1290.6 401.9L1277.3 407.5Z" fill="#00b7ff"/>
<path d="M1317.3 405.9L1330.7 399.6L1317.3 397.9L1304.0 404.2Z" fill="#00c8ff"/>
<path d="M1344.0 400.6L1357.4 393.7L1344.0 392.6L1330.7 399.6Z" fill="#00dfff"/>
<path d="M1370.8 394.0L1384.2 386.4L1370.8 386.0L1357.4 393.7Z" fill="#00fbff"/>
<path d="M1397.6 386.0L1411.0 377.7L1397.6 378.0L1384.2 386.4Z" fill="#00ffe5"/>
<path d="M1424.5 376.8L1438.0 367.8L1424.5 368.7L1411.0 377.7Z" fill="#00ffc1"/>
<path d="M1451.5 366.1L1465.0 356.5L1451.5 358.1L1438.0 367.8Z" fill="#00ff99"/>
<path d="M1478.7 354.2L1492.2 343.9L1478.6 346.2L1465.0 356.5Z" fill="#00ff6b"/>
<path d="M1090.4 399.7L1103.8 399.8L1090.4 393.2L1076.9 393.1Z" fill="#00ecff"/>
<path d="M1117.2 405.9L1130.6 405.3L1117.3 399.2L1103.8 399.8Z" fill="#00d4ff"/>
<path d="M1144.0 410.7L1157.4 409.4L1144.0 404.0L1130.6 405.3Z" fill="#00c1ff"/>
<path d="M1170.7 414.2L1184.1 412.2L1170.7 407.3L1157.4 409.4Z" fill="#00b4ff"/>
<path d="M1197.4 416.3L1210.7 413.6L1197.4 409.4L1184.1 412.2Z" fill="#00acff"/>
<path d="M1224.0 417.1L1237.4 413.7L1224.1 410.1L1210.7 413.6Z" fill="#00aaff"/>
<path d="M1250.7 416.6L1264.0 412.4L1250.7 409.5L1237.4 413.7Z" fill="#00adff"/>
<path d="M1277.3 414.7L1290.7 409.8L1277.3 407.5L1264.0 412.4Z" fill="#00b6ff"/>
<path d="M1304.0 411.5L1317.3 405.9L1304.0 404.2L1290.7 409.8Z" fill="#00c4ff"/>
<path d="M1330.7 406.9L1344.0 400.6L1330.7 399.6L1317.3 405.9Z" fill="#00d8ff"/>
<path d="M1357.4 400.9L1370.8 394.0L1357.4 393.7L1344.0 400.6Z" fill="#00f1ff"/>
<path d="M1384.2 393.6L1397.6 386.0L1384.2 386.4L1370.8 394.0Z" fill="#00fff0"/>
<path d="M1411.1 385.0L1424.5 376.8L1411.0 377.7L1397.6 386.0Z" fill="#00ffcf"/>
<path d="M1438.1 375.1L1451.5 366.1L1438.0 367.8L1424.5 376.8Z" fill="#00ffaa"/>
<path d="M1465.1 363.8L1478.7 354.2L1465.0 356.5L1451.5 366.1Z" fill="#00ff7f"/>
<path d="M1103.7 405.7L1117.2 405.9L1103.8 399.8L1090.4 399.7Z" fill="#00e8ff"/>
<path d="M1130.6 411.3L1144.0 410.7L1130.6 405.3L1117.2 405.9Z" fill="#00d2ff"/>
<path d="M1157.3 415.5L1170.7 414.2L1157.4 409.4L1144.0 410.7Z" fill="#00c2ff"/>
<path d="M1184.0 418.3L1197.4 416.3L1184.1 412.2L1170.7 414.2Z" fill="#00b7ff"/>
<path d="M1210.7 419.9L1224.0 417.1L1210.7 413.6L1197.4 416.3Z" fill="#00b2ff"/>
<path d="M1237.4 420.0L1250.7 416.6L1237.4 413.7L1224.0 417.1Z" fill="#00b2ff"/>
<path d="M1264.0 418.8L1277.3 414.7L1264.0 412.4L1250.7 416.6Z" fill="#00b8ff"/>
<path d="M1290.7 416.3L1304.0 411.5L1290.7 409.8L1277.3 414.7Z" fill="#00c3ff"/>
<path d="M1317.4 412.4L1330.7 406.9L1317.3 405.9L1304.0 411.5Z" fill="#00d4ff"/>
<path d="M1344.1 407.2L1357.4 400.9L1344.0 400.6L1330.7 406.9Z" fill="#00eaff"/>
<path d="M1370.8 400.6L1384.2 393.6L1370.8 394.0L1357.4 400.9Z" fill="#00fff9"/>
<path d="M1397.7 392.6L1411.1 385.0L1397.6 386.0L1384.2 393.6Z" fill="#00ffdb"/>
<path d="M1424.6 383.3L1438.1 375.1L1424.5 376.8L1411.1 385.0Z" fill="#00ffb8"/>
<path d="M1451.6 372.7L1465.1 363.8L1451.5 366.1L1438.1 375.1Z" fill="#00ff90"/>
<path d="M1117.1 411.0L1130.6 411.3L1117.2 405.9L1103.7 405.7Z" fill="#00e6ff"/>
<path d="M1143.9 416.0L1157.3 415.5L1144.0 410.7L1130.6 411.3Z" fill="#00d3ff"/>
<path d="M1170.7 419.6L1184.0 418.3L1170.7 414.2L1157.3 415.5Z" fill="#00c5ff"/>
<path d="M1197.4 421.8L1210.7 419.9L1197.4 416.3L1184.0 418.3Z" fill="#00bdff"/>
<path d="M1224.0 422.7L1237.4 420.0L1224.0 417.1L1210.7 419.9Z" fill="#00baff"/>
<path d="M1250.7 422.2L1264.0 418.8L1250.7 416.6L1237.4 420.0Z" fill="#00bdff"/>
<path d="M1277.4 420.4L1290.7 416.3L1277.3 414.7L1264.0 418.8Z" fill="#00c6ff"/>
<path d="M1304.0 417.2L1317.4 412.4L1304.0 411.5L1290.7 416.3Z" fill="#00d3ff"/>
<path d="M1330.7 412.7L1344.1 407.2L1330.7 406.9L1317.4 412.4Z" fill="#00e7ff"/>
<path d="M1357.5 406.7L1370.8 400.6L1357.4 400.9L1344.1 407.2Z" fill="#00ffff"/>
<path d="M1384.3 399.5L1397.7 392.6L1384.2 393.6L1370.8 400.6Z" fill="#00ffe3"/>
<path d="M1411.2 390.9L1424.6 383.3L1411.1 385.0L1397.7 392.6Z" fill="#00ffc3"/>
<path d="M1438.2 380.9L1451.6 372.7L1438.1 375.1L1424.6 383.3Z" fill="#00ff9d"/>
<path d="M1130.5 415.7L1143.9 416.0L1130.6 411.3L1117.1 411.0Z" fill="#00e7ff"/>
<path d="M1157.2 420.1L1170.7 419.6L1157.3 415.5L1143.9 416.0Z" fill="#00d6ff"/>
<path d="M1184.0 423.0L1197.4 421.8L1184.0 418.3L1170.7 419.6Z" fill="#00cbff"/>
<path d="M1210.7 424.6L1224.0 422.7L1210.7 419.9L1197.4 421.8Z" fill="#00c6ff"/>
<path d="M1237.4 424.9L1250.7 422.2L1237.4 420.0L1224.0 422.7Z" fill="#00c6ff"/>
<path d="M1264.0 423.8L1277.4 420.4L1264.0 418.8L1250.7 422.2Z" fill="#00cbff"/>
<path d="M1290.7 421.3L1304.0 417.2L1290.7 416.3L1277.4 420.4Z" fill="#00d6ff"/>
<path d="M1317.4 417.4L1330.7 412.7L1317.4 412.4L1304.0 417.2Z" fill="#00e6ff"/>
<path d="M1344.1 412.2L1357.5 406.7L1344.1 407.2L1330.7 412.7Z" fill="#00fcff"/>
<path d="M1370.9 405.6L1384.3 399.5L1370.8 400.6L1357.5 406.7Z" fill="#00ffe9"/>
<path d="M1397.8 397.7L1411.2 390.9L1397.7 392.6L1384.3 399.5Z" fill="#00ffcb"/>
<path d="M1424.7 388.4L1438.2 380.9L1424.6 383.3L1411.2 390.9Z" fill="#00ffa8"/>
<path d="M1143.8 419.8L1157.2 420.1L1143.9 416.0L1130.5 415.7Z" fill="#00ebff"/>
<path d="M1170.6 423.5L1184.0 423.0L1170.7 419.6L1157.2 420.1Z" fill="#00ddff"/>
<path d="M1197.3 425.8L1210.7 424.6L1197.4 421.8L1184.0 423.0Z" fill="#00d4ff"/>
<path d="M1224.0 426.8L1237.4 424.9L1224.0 422.7L1210.7 424.6Z" fill="#00d1ff"/>
<path d="M1250.7 426.4L1264.0 423.8L1250.7 422.2L1237.4 424.9Z" fill="#00d4ff"/>
<path d="M1277.4 424.6L1290.7 421.3L1277.4 420.4L1264.0 423.8Z" fill="#00dcff"/>
<path d="M1304.1 421.5L1317.4 417.4L1304.0 417.2L1290.7 421.3Z" fill="#00e9ff"/>
<path d="M1330.8 416.9L1344.1 412.2L1330.7 412.7L1317.4 417.4Z" fill="#00fcff"/>
<path d="M1357.6 411.1L1370.9 405.6L1357.5 406.7L1344.1 412.2Z" fill="#00ffeb"/>
<path d="M1384.4 403.8L1397.8 397.7L1384.3 399.5L1370.9 405.6Z" fill="#00ffd0"/>
<path d="M1411.3 395.2L1424.7 388.4L1411.2 390.9L1397.8 397.7Z" fill="#00ffb0"/>
<path d="M1157.1 423.1L1170.6 423.5L1157.2 420.1L1143.8 419.8Z" fill="#00f1ff"/>
<path d="M1183.9 426.2L1197.3 425.8L1184.0 423.0L1170.6 423.5Z" fill="#00e6ff"/>
<path d="M1210.6 427.9L1224.0 426.8L1210.7 424.6L1197.3 425.8Z" fill="#00e0ff"/>
<path d="M1237.3 428.2L1250.7 426.4L1237.4 424.9L1224.0 426.8Z" fill="#00e0ff"/>
<path d="M1264.0 427.2L1277.4 424.6L1264.0 423.8L1250.7 426.4Z" fill="#00e5ff"/>
<path d="M1290.7 424.7L1304.1 421.5L1290.7 421.3L1277.4 424.6Z" fill="#00efff"/>
<path d="M1317.5 420.9L1330.8 416.9L1317.4 417.4L1304.1 421.5Z" fill="#00ffff"/>
<path d="M1344.2 415.8L1357.6 411.1L1344.1 412.2L1330.8 416.9Z" fill="#00ffeb"/>
<path d="M1371.0 409.2L1384.4 403.8L1370.9 405.6L1357.6 411.1Z" fill="#00ffd3"/>
<path d="M1397.9 401.3L1411.3 395.2L1397.8 397.7L1384.4 403.8Z" fill="#00ffb5"/>
<path d="M1170.5 425.8L1183.9 426.2L1170.6 423.5L1157.1 423.1Z" fill="#00fbff"/>
<path d="M1197.2 428.2L1210.6 427.9L1197.3 425.8L1183.9 426.2Z" fill="#00f2ff"/>
<path d="M1224.0 429.3L1237.3 428.2L1224.0 426.8L1210.6 427.9Z" fill="#00efff"/>
<path d="M1250.7 429.0L1264.0 427.2L1250.7 426.4L1237.3 428.2Z" fill="#00f1ff"/>
<path d="M1277.4 427.3L1290.7 424.7L1277.4 424.6L1264.0 427.2Z" fill="#00f8ff"/>
<path d="M1304.1 424.2L1317.5 420.9L1304.1 421.5L1290.7 424.7Z" fill="#00fff9"/>
<path d="M1330.9 419.7L1344.2 415.8L1330.8 416.9L1317.5 420.9Z" fill="#00ffe8"/>
<path d="M1357.7 413.9L1371.0 409.2L1357.6 411.1L1344.2 415.8Z" fill="#00ffd2"/>
<path d="M1384.5 406.6L1397.9 401.3L1384.4 403.8L1371.0 409.2Z" fill="#00ffb7"/>
<path d="M1183.8 427.8L1197.2 428.2L1183.9 426.2L1170.5 425.8Z" fill="#00fff8"/>
<path d="M1210.6 429.6L1224.0 429.3L1210.6 427.9L1197.2 428.2Z" fill="#00fffd"/>
<path d="M1237.3 430.0L1250.7 429.0L1237.3 428.2L1224.0 429.3Z" fill="#00fffe"/>
<path d="M1264.0 429.0L1277.4 427.3L1264.0 427.2L1250.7 429.0Z" fill="#00fffa"/>
<path d="M1290.8 426.6L1304.1 424.2L1290.7 424.7L1277.4 427.3Z" fill="#00fff1"/>
<path d="M1317.5 422.9L1330.9 419.7L1317.5 420.9L1304.1 424.2Z" fill="#00ffe2"/>
<path d="M1344.3 417.7L1357.7 413.9L1344.2 415.8L1330.9 419.7Z" fill="#00ffcf"/>
<path d="M1371.2 411.2L1384.5 406.6L1371.0 409.2L1357.7 413.9Z" fill="#00ffb7"/>
<path d="M1197.2 429.1L1210.6 429.6L1197.2 428.2L1183.8 427.8Z" fill="#00ffea"/>
<path d="M1223.9 430.2L1237.3 430.0L1224.0 429.3L1210.6 429.6Z" fill="#00ffed"/>
<path d="M1250.7 430.0L1264.0 429.0L1250.7 429.0L1237.3 430.0Z" fill="#00ffec"/>
<path d="M1277.4 428.3L1290.8 426.6L1277.4 427.3L1264.0 429.0Z" fill="#00ffe5"/>
<path d="M1304.2 425.3L1317.5 422.9L1304.1 424.2L1290.8 426.6Z" fill="#00ffd9"/>
<path d="M1331.0 420.9L1344.3 417.7L1330.9 419.7L1317.5 422.9Z" fill="#00ffc9"/>
<path d="M1357.8 415.1L1371.2 411.2L1357.7 413.9L1344.3 417.7Z" fill="#00ffb3"/>
<path d="M1210.5 429.7L1223.9 430.2L1210.6 429.6L1197.2 429.1Z" fill="#00ffda"/>
<path d="M1237.3 430.1L1250.7 430.0L1237.3 430.0L1223.9 430.2Z" fill="#00ffdb"/>
<path d="M1264.0 429.2L1277.4 428.3L1264.0 429.0L1250.7 430.0Z" fill="#00ffd7"/>
<path d="M1290.8 426.9L1304.2 425.3L1290.8 426.6L1277.4 428.3Z" fill="#00ffce"/>
<path d="M1317.6 423.2L1331.0 420.9L1317.5 422.9L1304.2 425.3Z" fill="#00ffc0"/>
<path d="M1344.4 418.1L1357.8 415.1L1344.3 417.7L1331.0 420.9Z" fill="#00ffad"/>
<path d="M1223.9 429.5L1237.3 430.1L1223.9 430.2L1210.5 429.7Z" fill="#00ffc7"/>
<path d="M1250.6 429.4L1264.0 429.2L1250.7 430.0L1237.3 430.1Z" fill="#00ffc5"/>
<path d="M1277.4 427.8L1290.8 426.9L1277.4 428.3L1264.0 429.2Z" fill="#00ffbf"/>
<path d="M1304.2 424.8L1317.6 423.2L1304.2 425.3L1290.8 426.9Z" fill="#00ffb4"/>
<path d="M1331.1 420.4L1344.4 418.1L1331.0 420.9L1317.6 423.2Z" fill="#00ffa4"/>
<path d="M1237.2 428.7L1250.6 429.4L1237.3 430.1L1223.9 429.5Z" fill="#00ffb1"/>
<path d="M1264.0 427.8L1277.4 427.8L1264.0 429.2L1250.6 429.4Z" fill="#00ffae"/>
<path d="M1290.9 425.6L1304.2 424.8L1290.8 426.9L1277.4 427.8Z" fill="#00ffa5"/>
<path d="M1317.7 421.9L1331.1 420.4L1317.6 423.2L1304.2 424.8Z" fill="#00ff97"/>
<path d="M1250.6 427.1L1264.0 427.8L1250.6 429.4L1237.2 428.7Z" fill="#00ff99"/>
<path d="M1277.5 425.5L1290.9 425.6L1277.4 427.8L1264.0 427.8Z" fill="#00ff93"/>
<path d="M1304.3 422.6L1317.7 421.9L1304.2 424.8L1290.9 425.6Z" fill="#00ff88"/>
<path d="M1264.0 424.7L1277.5 425.5L1264.0 427.8L1250.6 427.1Z" fill="#00ff7f"/>
<path d="M1290.9 422.5L1304.3 422.6L1290.9 425.6L1277.5 425.5Z" fill="#00ff76"/>
<path d="M1277.5 421.6L1290.9 422.5L1277.5 425.5L1264.0 424.7Z" fill="#00ff61"/>
</g>
<circle cx="1277.3" cy="346.4" r="6.2" fill="#c80000" stroke="#3a0a0a" stroke-width="1.3"/>
<circle cx="960.9" cy="434.0" r="3.1" fill="#000"/>
<circle cx="958.2" cy="379.5" r="3.1" fill="#000"/>
<circle cx="955.6" cy="325.1" r="3.1" fill="#000"/>
<circle cx="953.0" cy="270.6" r="3.1" fill="#000"/>
<circle cx="950.4" cy="216.1" r="3.1" fill="#000"/>
<circle cx="947.7" cy="161.7" r="3.1" fill="#000"/>
<circle cx="945.1" cy="107.2" r="3.1" fill="#000"/>
<circle cx="1277.6" cy="685.2" r="3.1" fill="#000"/>
<circle cx="1199.6" cy="647.9" r="3.1" fill="#000"/>
<circle cx="1121.7" cy="610.7" r="3.1" fill="#000"/>
<circle cx="1043.8" cy="573.4" r="3.1" fill="#000"/>
<circle cx="965.8" cy="536.1" r="3.1" fill="#000"/>
<circle cx="1355.2" cy="647.9" r="3.1" fill="#000"/>
<circle cx="1432.9" cy="610.6" r="3.1" fill="#000"/>
<circle cx="1510.6" cy="573.3" r="3.1" fill="#000"/>
<circle cx="1588.2" cy="536.0" r="3.1" fill="#000"/>
<text x="947.5" y="427.3" font-size="20" text-anchor="end" textLength="38.1" lengthAdjust="spacingAndGlyphs" fill="#1a1a1a">97.6</text>
<text x="944.8" y="372.8" font-size="20" text-anchor="end" textLength="38.1" lengthAdjust="spacingAndGlyphs" fill="#1a1a1a">97.7</text>
<text x="942.2" y="318.4" font-size="20" text-anchor="end" textLength="38.1" lengthAdjust="spacingAndGlyphs" fill="#1a1a1a">97.8</text>
<text x="939.6" y="263.9" font-size="20" text-anchor="end" textLength="38.1" lengthAdjust="spacingAndGlyphs" fill="#1a1a1a">97.9</text>
<text x="939.7" y="209.4" font-size="20" text-anchor="end" textLength="21.8" lengthAdjust="spacingAndGlyphs" fill="#1a1a1a">98</text>
<text x="934.3" y="155.0" font-size="20" text-anchor="end" textLength="38.1" lengthAdjust="spacingAndGlyphs" fill="#1a1a1a">98.1</text>
<text x="931.7" y="100.5" font-size="20" text-anchor="end" textLength="38.1" lengthAdjust="spacingAndGlyphs" fill="#1a1a1a">98.2</text>
<text x="953.0" y="559.0" font-size="20" text-anchor="end" textLength="75.6" lengthAdjust="spacingAndGlyphs" fill="#1a1a1a">42.9056</text>
<text x="1030.0" y="595.0" font-size="20" text-anchor="end" textLength="75.6" lengthAdjust="spacingAndGlyphs" fill="#1a1a1a">37.7028</text>
<text x="1108.0" y="632.0" font-size="20" text-anchor="end" textLength="40.7" lengthAdjust="spacingAndGlyphs" fill="#1a1a1a">32.5</text>
<text x="1189.0" y="669.0" font-size="20" text-anchor="end" textLength="75.6" lengthAdjust="spacingAndGlyphs" fill="#1a1a1a">27.2972</text>
<text x="1267.0" y="706.0" font-size="20" text-anchor="end" textLength="75.6" lengthAdjust="spacingAndGlyphs" fill="#1a1a1a">22.0944</text>
<text x="1291.0" y="706.0" font-size="20" textLength="61.2" lengthAdjust="spacingAndGlyphs" fill="#1a1a1a">140.27</text>
<text x="1368.0" y="669.0" font-size="20" textLength="72.3" lengthAdjust="spacingAndGlyphs" fill="#1a1a1a">155.135</text>
<text x="1445.0" y="632.0" font-size="20" textLength="33.4" lengthAdjust="spacingAndGlyphs" fill="#1a1a1a">170</text>
<text x="1523.0" y="595.0" font-size="20" textLength="72.3" lengthAdjust="spacingAndGlyphs" fill="#1a1a1a">184.865</text>
<text x="1601.0" y="559.0" font-size="20" textLength="61.2" lengthAdjust="spacingAndGlyphs" fill="#1a1a1a">199.73</text>
<text x="897.0" y="676.0" font-size="20" textLength="208.0" lengthAdjust="spacingAndGlyphs" fill="#1a1a1a">B: TEMPERATURA (°C)</text>
<text x="1474.0" y="676.0" font-size="20" textLength="160.0" lengthAdjust="spacingAndGlyphs" fill="#1a1a1a">A: PRESION (PSI)</text>
<text x="852.0" y="328.0" font-size="20" text-anchor="middle" textLength="148.0" lengthAdjust="spacingAndGlyphs" transform="rotate(-90 852.0 328.0)" fill="#1a1a1a">REMOCION (%)</text>
<text x="837.7" y="61.1" font-size="44" font-weight="bold" fill="#000">B</text>
<path d="M960.3 1259.7L1262.0 1157.7L1563.2 1259.0M957.8 1207.8L1262.0 1110.8L1565.6 1207.1M955.3 1155.9L1262.0 1063.9L1568.1 1155.3M952.7 1104.0L1262.1 1017.0L1570.5 1103.5M950.2 1052.0L1262.1 970.1L1573.0 1051.7M947.6 1000.1L1262.1 923.2L1575.4 999.9M945.1 948.2L1262.1 876.3L1577.9 948.1M1035.8 1234.2L1024.3 930.2M1487.9 1233.6L1499.0 930.2M1111.2 1208.7L1103.6 912.2M1412.6 1208.3L1420.0 912.2M1186.6 1183.2L1182.8 894.3M1337.3 1183.0L1341.0 894.2" fill="none" stroke="#111" stroke-width="1.45"/>
<path d="M965.1 1357.1L945.1 948.2L1262.1 876.3L1577.9 948.1L1558.6 1356.1M1262.0 1245.6L1262.1 876.3" fill="none" stroke="#0a0a0a" stroke-width="1.8" stroke-linejoin="round"/>
<clipPath id="fD"><path d="M1261.4 1499.5L965.1 1357.1L1262.0 1245.6L1558.6 1356.1Z"/></clipPath>
<path d="M1261.4 1499.5L965.1 1357.1L1262.0 1245.6L1558.6 1356.1Z" fill="#646464"/>
<g clip-path="url(#fD)" fill="none" stroke-width="3.2">
<path d="M1095.4 1308.2L1096.7 1310.7L1098.1 1313.2L1099.6 1316.3L1101.0 1320.0L1102.2 1323.6L1102.9 1326.5L1103.4 1329.4L1103.7 1332.3L1103.7 1335.4L1103.4 1338.6L1102.6 1342.0L1101.6 1344.9L1100.4 1347.5L1098.9 1350.0L1095.7 1354.1L1093.1 1356.8L1089.6 1359.7L1085.3 1362.7L1079.3 1366.3L1072.5 1369.6L1068.9 1371.1L1065.1 1372.6L1057.3 1375.3L1049.0 1377.9L1040.3 1380.2L1034.1 1381.7L1026.6 1383.4L1021.8 1384.4" stroke="#0031ff"/>
<path d="M1139.9 1291.4L1142.5 1293.4L1147.5 1297.4L1150.1 1299.4L1155.1 1303.4L1157.6 1305.4L1162.5 1309.5L1165.0 1311.6L1169.9 1315.7L1172.3 1317.7L1177.1 1321.9L1179.4 1324.0L1184.1 1328.3L1186.4 1330.4L1190.2 1334.1L1193.1 1336.9L1195.6 1339.4L1199.5 1343.6L1201.5 1345.9L1204.6 1349.5L1207.2 1352.9L1208.9 1355.3L1211.1 1358.6L1213.4 1362.8L1214.5 1365.6L1215.4 1368.4L1215.9 1371.4L1215.9 1374.6L1215.2 1378.1L1213.2 1381.9L1211.2 1384.3L1205.9 1388.4L1202.7 1390.2L1195.4 1393.5L1190.4 1395.2L1182.6 1397.5L1173.1 1399.7L1168.2 1400.8L1157.9 1402.6L1152.6 1403.5L1145.5 1404.5L1136.3 1405.8L1130.7 1406.5L1123.4 1407.3L1113.5 1408.3L1107.7 1408.9L1101.8 1409.4L1092.8 1410.2L1084.0 1410.9L1078.1 1411.4L1078.1 1411.4" stroke="#00a7ff"/>
<path d="M1314.9 1473.7L1306.3 1470.8L1301.9 1469.5L1292.9 1466.8L1284.2 1464.4L1278.9 1463.0L1269.2 1460.7L1264.2 1459.6L1254.5 1457.5L1248.7 1456.4L1242.1 1455.2L1232.5 1453.6L1226.9 1452.7L1219.9 1451.7L1209.7 1450.4L1203.6 1449.6L1197.6 1448.9L1190.5 1448.2L1181.4 1447.2L1172.6 1446.4L1166.1 1445.9L1159.6 1445.4L1153.0 1444.9L1146.9 1444.5" stroke="#00ffdd"/>
<path d="M1175.0 1278.3L1181.2 1281.7L1185.5 1284.1L1190.5 1286.9L1196.8 1290.3L1203.2 1293.8L1206.8 1295.7L1212.8 1298.9L1219.2 1302.3L1225.8 1305.6L1232.4 1309.0L1235.8 1310.6L1242.5 1313.9L1249.3 1317.2L1256.2 1320.4L1263.2 1323.6L1270.4 1326.7L1277.6 1329.8L1285.0 1332.9L1292.6 1335.8L1300.3 1338.7L1308.2 1341.5L1316.3 1344.3L1324.6 1346.9L1328.9 1348.2L1337.5 1350.7L1346.5 1353.0L1351.0 1354.1L1360.4 1356.3L1367.2 1357.7L1375.0 1359.2L1381.7 1360.4L1390.4 1361.8L1395.7 1362.6L1406.4 1364.0L1412.0 1364.7L1417.7 1365.2L1427.8 1366.2L1435.2 1366.8L1441.1 1367.2L1447.3 1367.5L1456.5 1368.0L1465.5 1368.3L1472.4 1368.5L1478.9 1368.6L1485.5 1368.7L1492.2 1368.8L1499.6 1368.8L1507.7 1368.7L1515.8 1368.6L1523.7 1368.5L1531.5 1368.2L1533.5 1368.2" stroke="#00ffdd"/>
<path d="M1204.8 1267.1L1211.7 1270.2L1218.6 1273.3L1225.6 1276.4L1232.7 1279.4L1239.8 1282.5L1243.4 1284.0L1250.6 1287.0L1258.0 1289.9L1265.4 1292.8L1272.9 1295.7L1277.0 1297.2L1284.4 1299.9L1292.2 1302.7L1300.1 1305.4L1308.2 1308.1L1316.4 1310.7L1324.7 1313.2L1328.9 1314.5L1337.4 1316.9L1346.1 1319.3L1352.6 1320.9L1359.5 1322.6L1368.6 1324.8L1373.3 1325.8L1382.7 1327.9L1389.7 1329.3L1397.2 1330.7L1404.9 1332.1L1412.1 1333.3L1418.8 1334.4L1427.6 1335.7L1432.8 1336.4L1443.5 1337.8L1448.9 1338.5L1455.4 1339.2L1465.5 1340.2L1471.2 1340.7L1477.2 1341.2L1487.5 1342.0L1494.4 1342.5L1500.3 1342.8L1507.3 1343.2L1516.8 1343.7L1524.6 1344.0L1526.2 1344.0" stroke="#00ff6b"/>
<path d="M1231.3 1257.1L1238.6 1260.0L1246.0 1262.9L1253.4 1265.7L1261.0 1268.5L1268.6 1271.3L1276.3 1274.0L1284.1 1276.7L1288.1 1278.0L1296.0 1280.6L1304.1 1283.2L1312.2 1285.8L1320.5 1288.3L1327.5 1290.3L1333.1 1291.9L1341.6 1294.3L1350.3 1296.6L1354.7 1297.7L1363.6 1299.9L1372.6 1302.0L1377.2 1303.1L1386.4 1305.1L1394.2 1306.7L1400.5 1308.0L1410.2 1309.9L1415.0 1310.8L1424.9 1312.5L1429.9 1313.3L1439.8 1314.9L1445.1 1315.7L1453.1 1316.8L1453.1 1316.8" stroke="#07ff00"/>
<path d="M1255.2 1248.1L1262.9 1250.8L1270.6 1253.5L1278.5 1256.1L1286.4 1258.7L1294.3 1261.3L1302.4 1263.8L1306.5 1265.0L1314.7 1267.5L1323.0 1269.9L1331.4 1272.3L1339.6 1274.5L1339.6 1274.5" stroke="#76ff00"/>
</g>
<path d="M1261.4 1499.5L965.1 1357.1L1262.0 1245.6L1558.6 1356.1Z" fill="none" stroke="#111" stroke-width="1.5" stroke-linejoin="round"/>
<g stroke="#0a0c18" stroke-width="1.3" stroke-linejoin="round">
<path d="M1262.0 1011.9L1275.0 995.8L1262.1 991.7L1249.1 1007.9Z" fill="#79ff00"/>
<path d="M1249.1 1027.4L1262.0 1011.9L1249.1 1007.9L1236.3 1023.7Z" fill="#40ff00"/>
<path d="M1274.9 1016.0L1287.9 1000.1L1275.0 995.8L1262.0 1011.9Z" fill="#77ff00"/>
<path d="M1236.3 1042.6L1249.1 1027.4L1236.3 1023.7L1223.5 1039.0Z" fill="#08ff00"/>
<path d="M1262.0 1031.4L1274.9 1016.0L1262.0 1011.9L1249.1 1027.4Z" fill="#3eff00"/>
<path d="M1287.8 1020.3L1300.8 1004.6L1287.9 1000.1L1274.9 1016.0Z" fill="#73ff00"/>
<path d="M1223.5 1057.2L1236.3 1042.6L1223.5 1039.0L1210.7 1053.9Z" fill="#00ff2d"/>
<path d="M1249.1 1046.3L1262.0 1031.4L1249.1 1027.4L1236.3 1042.6Z" fill="#08ff00"/>
<path d="M1274.8 1035.5L1287.8 1020.3L1274.9 1016.0L1262.0 1031.4Z" fill="#3cff00"/>
<path d="M1300.7 1024.8L1313.7 1009.4L1300.8 1004.6L1287.8 1020.3Z" fill="#6fff00"/>
<path d="M1210.8 1071.4L1223.5 1057.2L1210.7 1053.9L1198.0 1068.3Z" fill="#00ff61"/>
<path d="M1236.3 1060.8L1249.1 1046.3L1236.3 1042.6L1223.5 1057.2Z" fill="#00ff2c"/>
<path d="M1262.0 1050.2L1274.8 1035.5L1262.0 1031.4L1249.1 1046.3Z" fill="#08ff00"/>
<path d="M1287.7 1039.8L1300.7 1024.8L1287.8 1020.3L1274.8 1035.5Z" fill="#39ff00"/>
<path d="M1313.5 1029.5L1326.6 1014.3L1313.7 1009.4L1300.7 1024.8Z" fill="#69ff00"/>
<path d="M1198.0 1085.2L1210.8 1071.4L1198.0 1068.3L1185.3 1082.3Z" fill="#00ff91"/>
<path d="M1223.5 1074.7L1236.3 1060.8L1223.5 1057.2L1210.8 1071.4Z" fill="#00ff5e"/>
<path d="M1249.1 1064.5L1262.0 1050.2L1249.1 1046.3L1236.3 1060.8Z" fill="#00ff2b"/>
<path d="M1274.8 1054.3L1287.7 1039.8L1274.8 1035.5L1262.0 1050.2Z" fill="#06ff00"/>
<path d="M1300.5 1044.3L1313.5 1029.5L1300.7 1024.8L1287.7 1039.8Z" fill="#35ff00"/>
<path d="M1326.4 1034.4L1339.4 1019.4L1326.6 1014.3L1313.5 1029.5Z" fill="#63ff00"/>
<path d="M1185.4 1098.4L1198.0 1085.2L1185.3 1082.3L1172.6 1095.7Z" fill="#00ffc0"/>
<path d="M1210.8 1088.3L1223.5 1074.7L1210.8 1071.4L1198.0 1085.2Z" fill="#00ff8d"/>
<path d="M1236.3 1078.2L1249.1 1064.5L1236.3 1060.8L1223.5 1074.7Z" fill="#00ff5c"/>
<path d="M1261.9 1068.4L1274.8 1054.3L1262.0 1050.2L1249.1 1064.5Z" fill="#00ff2c"/>
<path d="M1287.6 1058.6L1300.5 1044.3L1287.7 1039.8L1274.8 1054.3Z" fill="#03ff00"/>
<path d="M1313.4 1049.0L1326.4 1034.4L1313.5 1029.5L1300.5 1044.3Z" fill="#30ff00"/>
<path d="M1339.2 1039.5L1352.3 1024.7L1339.4 1019.4L1326.4 1034.4Z" fill="#5cff00"/>
<path d="M1172.7 1111.2L1185.4 1098.4L1172.6 1095.7L1160.0 1108.7Z" fill="#00ffeb"/>
<path d="M1198.1 1101.3L1210.8 1088.3L1198.0 1085.2L1185.4 1098.4Z" fill="#00ffba"/>
<path d="M1223.6 1091.5L1236.3 1078.2L1223.5 1074.7L1210.8 1088.3Z" fill="#00ff8a"/>
<path d="M1249.1 1081.9L1261.9 1068.4L1249.1 1064.5L1236.3 1078.2Z" fill="#00ff5b"/>
<path d="M1274.7 1072.4L1287.6 1058.6L1274.8 1054.3L1261.9 1068.4Z" fill="#00ff2d"/>
<path d="M1300.4 1063.1L1313.4 1049.0L1300.5 1044.3L1287.6 1058.6Z" fill="#00ff00"/>
<path d="M1326.2 1053.9L1339.2 1039.5L1326.4 1034.4L1313.4 1049.0Z" fill="#2bff00"/>
<path d="M1352.1 1044.8L1365.2 1030.2L1352.3 1024.7L1339.2 1039.5Z" fill="#54ff00"/>
<path d="M1160.1 1123.4L1172.7 1111.2L1160.0 1108.7L1147.4 1121.2Z" fill="#00e8ff"/>
<path d="M1185.4 1113.8L1198.1 1101.3L1185.4 1098.4L1172.7 1111.2Z" fill="#00ffe4"/>
<path d="M1210.8 1104.3L1223.6 1091.5L1210.8 1088.3L1198.1 1101.3Z" fill="#00ffb5"/>
<path d="M1236.3 1095.0L1249.1 1081.9L1236.3 1078.2L1223.6 1091.5Z" fill="#00ff87"/>
<path d="M1261.9 1085.8L1274.7 1072.4L1261.9 1068.4L1249.1 1081.9Z" fill="#00ff5b"/>
<path d="M1287.5 1076.7L1300.4 1063.1L1287.6 1058.6L1274.7 1072.4Z" fill="#00ff2f"/>
<path d="M1313.3 1067.8L1326.2 1053.9L1313.4 1049.0L1300.4 1063.1Z" fill="#00ff05"/>
<path d="M1339.1 1059.0L1352.1 1044.8L1339.2 1039.5L1326.2 1053.9Z" fill="#24ff00"/>
<path d="M1364.9 1050.4L1378.0 1035.9L1365.2 1030.2L1352.1 1044.8Z" fill="#4bff00"/>
<path d="M1147.5 1135.2L1160.1 1123.4L1147.4 1121.2L1134.9 1133.1Z" fill="#00bfff"/>
<path d="M1172.8 1125.8L1185.4 1113.8L1172.7 1111.2L1160.1 1123.4Z" fill="#00f2ff"/>
<path d="M1198.1 1116.6L1210.8 1104.3L1198.1 1101.3L1185.4 1113.8Z" fill="#00ffde"/>
<path d="M1223.6 1107.6L1236.3 1095.0L1223.6 1091.5L1210.8 1104.3Z" fill="#00ffb1"/>
<path d="M1249.1 1098.7L1261.9 1085.8L1249.1 1081.9L1236.3 1095.0Z" fill="#00ff86"/>
<path d="M1274.7 1089.9L1287.5 1076.7L1274.7 1072.4L1261.9 1085.8Z" fill="#00ff5b"/>
<path d="M1300.3 1081.2L1313.3 1067.8L1300.4 1063.1L1287.5 1076.7Z" fill="#00ff32"/>
<path d="M1326.1 1072.7L1339.1 1059.0L1326.2 1053.9L1313.3 1067.8Z" fill="#00ff0a"/>
<path d="M1351.9 1064.3L1364.9 1050.4L1352.1 1044.8L1339.1 1059.0Z" fill="#1cff00"/>
<path d="M1377.7 1056.1L1390.8 1041.9L1378.0 1035.9L1364.9 1050.4Z" fill="#42ff00"/>
<path d="M1135.0 1146.4L1147.5 1135.2L1134.9 1133.1L1122.3 1144.6Z" fill="#0098ff"/>
<path d="M1160.2 1137.4L1172.8 1125.8L1160.1 1123.4L1147.5 1135.2Z" fill="#00caff"/>
<path d="M1185.5 1128.4L1198.1 1116.6L1185.4 1113.8L1172.8 1125.8Z" fill="#00faff"/>
<path d="M1210.9 1119.7L1223.6 1107.6L1210.8 1104.3L1198.1 1116.6Z" fill="#00ffd8"/>
<path d="M1236.3 1111.0L1249.1 1098.7L1236.3 1095.0L1223.6 1107.6Z" fill="#00ffae"/>
<path d="M1261.9 1102.5L1274.7 1089.9L1261.9 1085.8L1249.1 1098.7Z" fill="#00ff85"/>
<path d="M1287.5 1094.1L1300.3 1081.2L1287.5 1076.7L1274.7 1089.9Z" fill="#00ff5d"/>
<path d="M1313.1 1085.9L1326.1 1072.7L1313.3 1067.8L1300.3 1081.2Z" fill="#00ff36"/>
<path d="M1338.9 1077.8L1351.9 1064.3L1339.1 1059.0L1326.1 1072.7Z" fill="#00ff10"/>
<path d="M1364.7 1069.9L1377.7 1056.1L1364.9 1050.4L1351.9 1064.3Z" fill="#14ff00"/>
<path d="M1390.5 1062.1L1403.6 1048.1L1390.8 1041.9L1377.7 1056.1Z" fill="#37ff00"/>
<path d="M1122.4 1157.1L1135.0 1146.4L1122.3 1144.6L1109.8 1155.6Z" fill="#0074ff"/>
<path d="M1147.6 1148.4L1160.2 1137.4L1147.5 1135.2L1135.0 1146.4Z" fill="#00a4ff"/>
<path d="M1172.8 1139.7L1185.5 1128.4L1172.8 1125.8L1160.2 1137.4Z" fill="#00d3ff"/>
<path d="M1198.2 1131.2L1210.9 1119.7L1198.1 1116.6L1185.5 1128.4Z" fill="#00fffd"/>
<path d="M1223.6 1122.9L1236.3 1111.0L1223.6 1107.6L1210.9 1119.7Z" fill="#00ffd4"/>
<path d="M1249.1 1114.6L1261.9 1102.5L1249.1 1098.7L1236.3 1111.0Z" fill="#00ffac"/>
<path d="M1274.6 1106.5L1287.5 1094.1L1274.7 1089.9L1261.9 1102.5Z" fill="#00ff85"/>
<path d="M1300.3 1098.6L1313.1 1085.9L1300.3 1081.2L1287.5 1094.1Z" fill="#00ff60"/>
<path d="M1325.9 1090.8L1338.9 1077.8L1326.1 1072.7L1313.1 1085.9Z" fill="#00ff3b"/>
<path d="M1351.7 1083.1L1364.7 1069.9L1351.9 1064.3L1338.9 1077.8Z" fill="#00ff17"/>
<path d="M1377.5 1075.6L1390.5 1062.1L1377.7 1056.1L1364.7 1069.9Z" fill="#0bff00"/>
<path d="M1403.3 1068.3L1416.5 1054.4L1403.6 1048.1L1390.5 1062.1Z" fill="#2bff00"/>
<path d="M1109.9 1167.3L1122.4 1157.1L1109.8 1155.6L1097.3 1166.0Z" fill="#0053ff"/>
<path d="M1135.0 1158.8L1147.6 1148.4L1135.0 1146.4L1122.4 1157.1Z" fill="#0082ff"/>
<path d="M1160.2 1150.5L1172.8 1139.7L1160.2 1137.4L1147.6 1148.4Z" fill="#00b0ff"/>
<path d="M1185.5 1142.3L1198.2 1131.2L1185.5 1128.4L1172.8 1139.7Z" fill="#00dcff"/>
<path d="M1210.9 1134.2L1223.6 1122.9L1210.9 1119.7L1198.2 1131.2Z" fill="#00fff7"/>
<path d="M1236.3 1126.3L1249.1 1114.6L1236.3 1111.0L1223.6 1122.9Z" fill="#00ffd0"/>
<path d="M1261.8 1118.5L1274.6 1106.5L1261.9 1102.5L1249.1 1114.6Z" fill="#00ffab"/>
<path d="M1287.4 1110.8L1300.3 1098.6L1287.5 1094.1L1274.6 1106.5Z" fill="#00ff86"/>
<path d="M1313.0 1103.3L1325.9 1090.8L1313.1 1085.9L1300.3 1098.6Z" fill="#00ff63"/>
<path d="M1338.7 1095.9L1351.7 1083.1L1338.9 1077.8L1325.9 1090.8Z" fill="#00ff41"/>
<path d="M1364.5 1088.7L1377.5 1075.6L1364.7 1069.9L1351.7 1083.1Z" fill="#00ff1f"/>
<path d="M1390.3 1081.6L1403.3 1068.3L1390.5 1062.1L1377.5 1075.6Z" fill="#01ff00"/>
<path d="M1416.1 1074.6L1429.2 1061.0L1416.5 1054.4L1403.3 1068.3Z" fill="#1fff00"/>
<path d="M1097.3 1177.0L1109.9 1167.3L1097.3 1166.0L1084.8 1175.9Z" fill="#0039ff"/>
<path d="M1122.5 1168.8L1135.0 1158.8L1122.4 1157.1L1109.9 1167.3Z" fill="#0062ff"/>
<path d="M1147.6 1160.7L1160.2 1150.5L1147.6 1148.4L1135.0 1158.8Z" fill="#008fff"/>
<path d="M1172.9 1152.8L1185.5 1142.3L1172.8 1139.7L1160.2 1150.5Z" fill="#00baff"/>
<path d="M1198.2 1145.0L1210.9 1134.2L1198.2 1131.2L1185.5 1142.3Z" fill="#00e4ff"/>
<path d="M1223.6 1137.4L1236.3 1126.3L1223.6 1122.9L1210.9 1134.2Z" fill="#00fff2"/>
<path d="M1249.1 1129.8L1261.8 1118.5L1249.1 1114.6L1236.3 1126.3Z" fill="#00ffce"/>
<path d="M1274.6 1122.5L1287.4 1110.8L1274.6 1106.5L1261.8 1118.5Z" fill="#00ffab"/>
<path d="M1300.2 1115.2L1313.0 1103.3L1300.3 1098.6L1287.4 1110.8Z" fill="#00ff89"/>
<path d="M1325.8 1108.1L1338.7 1095.9L1325.9 1090.8L1313.0 1103.3Z" fill="#00ff67"/>
<path d="M1351.5 1101.2L1364.5 1088.7L1351.7 1083.1L1338.7 1095.9Z" fill="#00ff47"/>
<path d="M1377.2 1094.4L1390.3 1081.6L1377.5 1075.6L1364.5 1088.7Z" fill="#00ff28"/>
<path d="M1403.0 1087.8L1416.1 1074.6L1403.3 1068.3L1390.3 1081.6Z" fill="#00ff0b"/>
<path d="M1428.9 1081.3L1442.0 1067.9L1429.2 1061.0L1416.1 1074.6Z" fill="#12ff00"/>
<path d="M1084.8 1186.1L1097.3 1177.0L1084.8 1175.9L1072.3 1185.3Z" fill="#0025ff"/>
<path d="M1109.9 1178.2L1122.5 1168.8L1109.9 1167.3L1097.3 1177.0Z" fill="#0046ff"/>
<path d="M1135.0 1170.4L1147.6 1160.7L1135.0 1158.8L1122.5 1168.8Z" fill="#0071ff"/>
<path d="M1160.3 1162.8L1172.9 1152.8L1160.2 1150.5L1147.6 1160.7Z" fill="#009bff"/>
<path d="M1185.6 1155.3L1198.2 1145.0L1185.5 1142.3L1172.9 1152.8Z" fill="#00c4ff"/>
<path d="M1210.9 1147.9L1223.6 1137.4L1210.9 1134.2L1198.2 1145.0Z" fill="#00ebff"/>
<path d="M1236.3 1140.7L1249.1 1129.8L1236.3 1126.3L1223.6 1137.4Z" fill="#00ffee"/>
<path d="M1261.8 1133.6L1274.6 1122.5L1261.8 1118.5L1249.1 1129.8Z" fill="#00ffcc"/>
<path d="M1287.3 1126.7L1300.2 1115.2L1287.4 1110.8L1274.6 1122.5Z" fill="#00ffab"/>
<path d="M1312.9 1119.9L1325.8 1108.1L1313.0 1103.3L1300.2 1115.2Z" fill="#00ff8b"/>
<path d="M1338.6 1113.2L1351.5 1101.2L1338.7 1095.9L1325.8 1108.1Z" fill="#00ff6d"/>
<path d="M1364.3 1106.7L1377.2 1094.4L1364.5 1088.7L1351.5 1101.2Z" fill="#00ff4f"/>
<path d="M1390.0 1100.4L1403.0 1087.8L1390.3 1081.6L1377.2 1094.4Z" fill="#00ff32"/>
<path d="M1415.8 1094.2L1428.9 1081.3L1416.1 1074.6L1403.0 1087.8Z" fill="#00ff17"/>
<path d="M1441.6 1088.1L1454.7 1074.9L1442.0 1067.9L1428.9 1081.3Z" fill="#04ff00"/>
<path d="M1072.3 1194.6L1084.8 1186.1L1072.3 1185.3L1059.8 1194.1Z" fill="#0012ff"/>
<path d="M1097.4 1187.0L1109.9 1178.2L1097.3 1177.0L1084.8 1186.1Z" fill="#0033ff"/>
<path d="M1122.5 1179.6L1135.0 1170.4L1122.5 1168.8L1109.9 1178.2Z" fill="#0056ff"/>
<path d="M1147.7 1172.2L1160.3 1162.8L1147.6 1160.7L1135.0 1170.4Z" fill="#007eff"/>
<path d="M1172.9 1165.0L1185.6 1155.3L1172.9 1152.8L1160.3 1162.8Z" fill="#00a6ff"/>
<path d="M1198.2 1158.0L1210.9 1147.9L1198.2 1145.0L1185.6 1155.3Z" fill="#00ccff"/>
<path d="M1223.6 1151.0L1236.3 1140.7L1223.6 1137.4L1210.9 1147.9Z" fill="#00f1ff"/>
<path d="M1249.1 1144.3L1261.8 1133.6L1249.1 1129.8L1236.3 1140.7Z" fill="#00ffeb"/>
<path d="M1274.6 1137.6L1287.3 1126.7L1274.6 1122.5L1261.8 1133.6Z" fill="#00ffcb"/>
<path d="M1300.1 1131.1L1312.9 1119.9L1300.2 1115.2L1287.3 1126.7Z" fill="#00ffad"/>
<path d="M1325.7 1124.7L1338.6 1113.2L1325.8 1108.1L1312.9 1119.9Z" fill="#00ff8f"/>
<path d="M1351.3 1118.5L1364.3 1106.7L1351.5 1101.2L1338.6 1113.2Z" fill="#00ff73"/>
<path d="M1377.0 1112.5L1390.0 1100.4L1377.2 1094.4L1364.3 1106.7Z" fill="#00ff58"/>
<path d="M1402.8 1106.5L1415.8 1094.2L1403.0 1087.8L1390.0 1100.4Z" fill="#00ff3d"/>
<path d="M1428.5 1100.8L1441.6 1088.1L1428.9 1081.3L1415.8 1094.2Z" fill="#00ff24"/>
<path d="M1454.3 1095.2L1467.5 1082.2L1454.7 1074.9L1441.6 1088.1Z" fill="#00ff0c"/>
<path d="M1059.8 1202.6L1072.3 1194.6L1059.8 1194.1L1047.3 1202.3Z" fill="#0002ff"/>
<path d="M1084.8 1195.3L1097.4 1187.0L1084.8 1186.1L1072.3 1194.6Z" fill="#0022ff"/>
<path d="M1109.9 1188.2L1122.5 1179.6L1109.9 1178.2L1097.4 1187.0Z" fill="#0040ff"/>
<path d="M1135.1 1181.1L1147.7 1172.2L1135.0 1170.4L1122.5 1179.6Z" fill="#0065ff"/>
<path d="M1160.3 1174.2L1172.9 1165.0L1160.3 1162.8L1147.7 1172.2Z" fill="#008bff"/>
<path d="M1185.6 1167.5L1198.2 1158.0L1185.6 1155.3L1172.9 1165.0Z" fill="#00b0ff"/>
<path d="M1210.9 1160.8L1223.6 1151.0L1210.9 1147.9L1198.2 1158.0Z" fill="#00d4ff"/>
<path d="M1236.3 1154.3L1249.1 1144.3L1236.3 1140.7L1223.6 1151.0Z" fill="#00f6ff"/>
<path d="M1261.8 1148.0L1274.6 1137.6L1261.8 1133.6L1249.1 1144.3Z" fill="#00ffe9"/>
<path d="M1287.3 1141.8L1300.1 1131.1L1287.3 1126.7L1274.6 1137.6Z" fill="#00ffcc"/>
<path d="M1312.9 1135.7L1325.7 1124.7L1312.9 1119.9L1300.1 1131.1Z" fill="#00ffaf"/>
<path d="M1338.5 1129.8L1351.3 1118.5L1338.6 1113.2L1325.7 1124.7Z" fill="#00ff94"/>
<path d="M1364.1 1124.0L1377.0 1112.5L1364.3 1106.7L1351.3 1118.5Z" fill="#00ff7a"/>
<path d="M1389.8 1118.4L1402.8 1106.5L1390.0 1100.4L1377.0 1112.5Z" fill="#00ff61"/>
<path d="M1415.5 1113.0L1428.5 1100.8L1415.8 1094.2L1402.8 1106.5Z" fill="#00ff49"/>
<path d="M1441.3 1107.6L1454.3 1095.2L1441.6 1088.1L1428.5 1100.8Z" fill="#00ff32"/>
<path d="M1467.0 1102.5L1480.2 1089.7L1467.5 1082.2L1454.3 1095.2Z" fill="#00ff1c"/>
<path d="M1047.3 1210.1L1059.8 1202.6L1047.3 1202.3L1034.9 1210.0Z" fill="#0000ff"/>
<path d="M1072.3 1203.1L1084.8 1195.3L1072.3 1194.6L1059.8 1202.6Z" fill="#0013ff"/>
<path d="M1097.3 1196.2L1109.9 1188.2L1097.4 1187.0L1084.8 1195.3Z" fill="#0030ff"/>
<path d="M1122.5 1189.5L1135.1 1181.1L1122.5 1179.6L1109.9 1188.2Z" fill="#004fff"/>
<path d="M1147.7 1182.9L1160.3 1174.2L1147.7 1172.2L1135.1 1181.1Z" fill="#0073ff"/>
<path d="M1172.9 1176.4L1185.6 1167.5L1172.9 1165.0L1160.3 1174.2Z" fill="#0097ff"/>
<path d="M1198.2 1170.1L1210.9 1160.8L1198.2 1158.0L1185.6 1167.5Z" fill="#00b9ff"/>
<path d="M1223.6 1163.9L1236.3 1154.3L1223.6 1151.0L1210.9 1160.8Z" fill="#00daff"/>
<path d="M1249.0 1157.8L1261.8 1148.0L1249.1 1144.3L1236.3 1154.3Z" fill="#00faff"/>
<path d="M1274.5 1151.9L1287.3 1141.8L1274.6 1137.6L1261.8 1148.0Z" fill="#00ffe8"/>
<path d="M1300.0 1146.2L1312.9 1135.7L1300.1 1131.1L1287.3 1141.8Z" fill="#00ffcd"/>
<path d="M1325.6 1140.6L1338.5 1129.8L1325.7 1124.7L1312.9 1135.7Z" fill="#00ffb3"/>
<path d="M1351.2 1135.1L1364.1 1124.0L1351.3 1118.5L1338.5 1129.8Z" fill="#00ff9a"/>
<path d="M1376.8 1129.8L1389.8 1118.4L1377.0 1112.5L1364.1 1124.0Z" fill="#00ff82"/>
<path d="M1402.5 1124.6L1415.5 1113.0L1402.8 1106.5L1389.8 1118.4Z" fill="#00ff6b"/>
<path d="M1428.2 1119.6L1441.3 1107.6L1428.5 1100.8L1415.5 1113.0Z" fill="#00ff56"/>
<path d="M1454.0 1114.7L1467.0 1102.5L1454.3 1095.2L1441.3 1107.6Z" fill="#00ff41"/>
<path d="M1479.7 1110.0L1492.9 1097.4L1480.2 1089.7L1467.0 1102.5Z" fill="#00ff2d"/>
<path d="M1034.7 1216.9L1047.3 1210.1L1034.9 1210.0L1022.3 1217.2Z" fill="#0000ff"/>
<path d="M1059.7 1210.2L1072.3 1203.1L1059.8 1202.6L1047.3 1210.1Z" fill="#0006ff"/>
<path d="M1084.8 1203.7L1097.3 1196.2L1084.8 1195.3L1072.3 1203.1Z" fill="#0023ff"/>
<path d="M1109.9 1197.2L1122.5 1189.5L1109.9 1188.2L1097.3 1196.2Z" fill="#003eff"/>
<path d="M1135.0 1190.9L1147.7 1182.9L1135.1 1181.1L1122.5 1189.5Z" fill="#005eff"/>
<path d="M1160.3 1184.8L1172.9 1176.4L1160.3 1174.2L1147.7 1182.9Z" fill="#0080ff"/>
<path d="M1185.6 1178.8L1198.2 1170.1L1185.6 1167.5L1172.9 1176.4Z" fill="#00a1ff"/>
<path d="M1210.9 1172.9L1223.6 1163.9L1210.9 1160.8L1198.2 1170.1Z" fill="#00c1ff"/>
<path d="M1236.3 1167.1L1249.0 1157.8L1236.3 1154.3L1223.6 1163.9Z" fill="#00dfff"/>
<path d="M1261.8 1161.5L1274.5 1151.9L1261.8 1148.0L1249.0 1157.8Z" fill="#00fdff"/>
<path d="M1287.2 1156.1L1300.0 1146.2L1287.3 1141.8L1274.5 1151.9Z" fill="#00ffe7"/>
<path d="M1312.8 1150.8L1325.6 1140.6L1312.9 1135.7L1300.0 1146.2Z" fill="#00ffcf"/>
<path d="M1338.3 1145.6L1351.2 1135.1L1338.5 1129.8L1325.6 1140.6Z" fill="#00ffb7"/>
<path d="M1363.9 1140.6L1376.8 1129.8L1364.1 1124.0L1351.2 1135.1Z" fill="#00ffa0"/>
<path d="M1389.6 1135.7L1402.5 1124.6L1389.8 1118.4L1376.8 1129.8Z" fill="#00ff8b"/>
<path d="M1415.2 1131.0L1428.2 1119.6L1415.5 1113.0L1402.5 1124.6Z" fill="#00ff76"/>
<path d="M1440.9 1126.4L1454.0 1114.7L1441.3 1107.6L1428.2 1119.6Z" fill="#00ff63"/>
<path d="M1466.7 1122.0L1479.7 1110.0L1467.0 1102.5L1454.0 1114.7Z" fill="#00ff51"/>
<path d="M1492.4 1117.8L1505.5 1105.4L1492.9 1097.4L1479.7 1110.0Z" fill="#00ff3f"/>
<path d="M1022.2 1223.2L1034.7 1216.9L1022.3 1217.2L1009.8 1223.7Z" fill="#0000ff"/>
<path d="M1047.2 1216.8L1059.7 1210.2L1047.3 1210.1L1034.7 1216.9Z" fill="#0000ff"/>
<path d="M1072.2 1210.6L1084.8 1203.7L1072.3 1203.1L1059.7 1210.2Z" fill="#0017ff"/>
<path d="M1097.3 1204.4L1109.9 1197.2L1097.3 1196.2L1084.8 1203.7Z" fill="#0032ff"/>
<path d="M1122.4 1198.5L1135.0 1190.9L1122.5 1189.5L1109.9 1197.2Z" fill="#004cff"/>
<path d="M1147.7 1192.6L1160.3 1184.8L1147.7 1182.9L1135.0 1190.9Z" fill="#006dff"/>
<path d="M1172.9 1186.9L1185.6 1178.8L1172.9 1176.4L1160.3 1184.8Z" fill="#008cff"/>
<path d="M1198.2 1181.3L1210.9 1172.9L1198.2 1170.1L1185.6 1178.8Z" fill="#00abff"/>
<path d="M1223.6 1175.9L1236.3 1167.1L1223.6 1163.9L1210.9 1172.9Z" fill="#00c8ff"/>
<path d="M1249.0 1170.6L1261.8 1161.5L1249.0 1157.8L1236.3 1167.1Z" fill="#00e4ff"/>
<path d="M1274.5 1165.4L1287.2 1156.1L1274.5 1151.9L1261.8 1161.5Z" fill="#00ffff"/>
<path d="M1300.0 1160.4L1312.8 1150.8L1300.0 1146.2L1287.2 1156.1Z" fill="#00ffe8"/>
<path d="M1325.5 1155.6L1338.3 1145.6L1325.6 1140.6L1312.8 1150.8Z" fill="#00ffd1"/>
<path d="M1351.1 1150.8L1363.9 1140.6L1351.2 1135.1L1338.3 1145.6Z" fill="#00ffbc"/>
<path d="M1376.7 1146.3L1389.6 1135.7L1376.8 1129.8L1363.9 1140.6Z" fill="#00ffa8"/>
<path d="M1402.3 1141.9L1415.2 1131.0L1402.5 1124.6L1389.6 1135.7Z" fill="#00ff95"/>
<path d="M1428.0 1137.6L1440.9 1126.4L1428.2 1119.6L1415.2 1131.0Z" fill="#00ff83"/>
<path d="M1453.6 1133.5L1466.7 1122.0L1454.0 1114.7L1440.9 1126.4Z" fill="#00ff72"/>
<path d="M1479.3 1129.6L1492.4 1117.8L1479.7 1110.0L1466.7 1122.0Z" fill="#00ff61"/>
<path d="M1505.0 1125.8L1518.1 1113.6L1505.5 1105.4L1492.4 1117.8Z" fill="#00ff53"/>
<path d="M1009.6 1228.9L1022.2 1223.2L1009.8 1223.7L997.3 1229.7Z" fill="#0000ff"/>
<path d="M1034.6 1222.8L1047.2 1216.8L1034.7 1216.9L1022.2 1223.2Z" fill="#0000ff"/>
<path d="M1059.6 1216.9L1072.2 1210.6L1059.7 1210.2L1047.2 1216.8Z" fill="#000eff"/>
<path d="M1084.7 1211.1L1097.3 1204.4L1084.8 1203.7L1072.2 1210.6Z" fill="#0027ff"/>
<path d="M1109.8 1205.4L1122.4 1198.5L1109.9 1197.2L1097.3 1204.4Z" fill="#0040ff"/>
<path d="M1135.0 1199.8L1147.7 1192.6L1135.0 1190.9L1122.4 1198.5Z" fill="#005cff"/>
<path d="M1160.3 1194.4L1172.9 1186.9L1160.3 1184.8L1147.7 1192.6Z" fill="#007bff"/>
<path d="M1185.6 1189.2L1198.2 1181.3L1185.6 1178.8L1172.9 1186.9Z" fill="#0097ff"/>
<path d="M1210.9 1184.0L1223.6 1175.9L1210.9 1172.9L1198.2 1181.3Z" fill="#00b3ff"/>
<path d="M1236.3 1179.0L1249.0 1170.6L1236.3 1167.1L1223.6 1175.9Z" fill="#00ceff"/>
<path d="M1261.7 1174.2L1274.5 1165.4L1261.8 1161.5L1249.0 1170.6Z" fill="#00e7ff"/>
<path d="M1287.2 1169.5L1300.0 1160.4L1287.2 1156.1L1274.5 1165.4Z" fill="#00fffe"/>
<path d="M1312.7 1165.0L1325.5 1155.6L1312.8 1150.8L1300.0 1160.4Z" fill="#00ffe9"/>
<path d="M1338.2 1160.6L1351.1 1150.8L1338.3 1145.6L1325.5 1155.6Z" fill="#00ffd5"/>
<path d="M1363.8 1156.3L1376.7 1146.3L1363.9 1140.6L1351.1 1150.8Z" fill="#00ffc2"/>
<path d="M1389.4 1152.2L1402.3 1141.9L1389.6 1135.7L1376.7 1146.3Z" fill="#00ffb0"/>
<path d="M1415.0 1148.3L1428.0 1137.6L1415.2 1131.0L1402.3 1141.9Z" fill="#00ff9f"/>
<path d="M1440.6 1144.5L1453.6 1133.5L1440.9 1126.4L1428.0 1137.6Z" fill="#00ff90"/>
<path d="M1466.3 1140.8L1479.3 1129.6L1466.7 1122.0L1453.6 1133.5Z" fill="#00ff81"/>
<path d="M1492.0 1137.3L1505.0 1125.8L1492.4 1117.8L1479.3 1129.6Z" fill="#00ff73"/>
<path d="M1517.6 1134.0L1530.8 1122.1L1518.1 1113.6L1505.0 1125.8Z" fill="#00ff66"/>
<path d="M997.1 1234.0L1009.6 1228.9L997.3 1229.7L984.7 1235.1Z" fill="#0000ff"/>
<path d="M1022.0 1228.2L1034.6 1222.8L1022.2 1223.2L1009.6 1228.9Z" fill="#0000ff"/>
<path d="M1047.0 1222.6L1059.6 1216.9L1047.2 1216.8L1034.6 1222.8Z" fill="#0007ff"/>
<path d="M1072.1 1217.1L1084.7 1211.1L1072.2 1210.6L1059.6 1216.9Z" fill="#001fff"/>
<path d="M1097.2 1211.7L1109.8 1205.4L1097.3 1204.4L1084.7 1211.1Z" fill="#0037ff"/>
<path d="M1122.4 1206.5L1135.0 1199.8L1122.4 1198.5L1109.8 1205.4Z" fill="#004fff"/>
<path d="M1147.6 1201.4L1160.3 1194.4L1147.7 1192.6L1135.0 1199.8Z" fill="#006cff"/>
<path d="M1172.9 1196.4L1185.6 1189.2L1172.9 1186.9L1160.3 1194.4Z" fill="#0087ff"/>
<path d="M1198.2 1191.6L1210.9 1184.0L1198.2 1181.3L1185.6 1189.2Z" fill="#00a2ff"/>
<path d="M1223.6 1186.9L1236.3 1179.0L1223.6 1175.9L1210.9 1184.0Z" fill="#00bbff"/>
<path d="M1249.0 1182.4L1261.7 1174.2L1249.0 1170.6L1236.3 1179.0Z" fill="#00d3ff"/>
<path d="M1274.4 1178.0L1287.2 1169.5L1274.5 1165.4L1261.7 1174.2Z" fill="#00eaff"/>
<path d="M1299.9 1173.8L1312.7 1165.0L1300.0 1160.4L1287.2 1169.5Z" fill="#00fffe"/>
<path d="M1325.4 1169.7L1338.2 1160.6L1325.5 1155.6L1312.7 1165.0Z" fill="#00ffec"/>
<path d="M1351.0 1165.8L1363.8 1156.3L1351.1 1150.8L1338.2 1160.6Z" fill="#00ffda"/>
<path d="M1376.5 1162.0L1389.4 1152.2L1376.7 1146.3L1363.8 1156.3Z" fill="#00ffc9"/>
<path d="M1402.1 1158.4L1415.0 1148.3L1402.3 1141.9L1389.4 1152.2Z" fill="#00ffba"/>
<path d="M1427.7 1154.9L1440.6 1144.5L1428.0 1137.6L1415.0 1148.3Z" fill="#00ffab"/>
<path d="M1453.3 1151.6L1466.3 1140.8L1453.6 1133.5L1440.6 1144.5Z" fill="#00ff9e"/>
<path d="M1478.9 1148.4L1492.0 1137.3L1479.3 1129.6L1466.3 1140.8Z" fill="#00ff91"/>
<path d="M1504.6 1145.3L1517.6 1134.0L1505.0 1125.8L1492.0 1137.3Z" fill="#00ff86"/>
<path d="M1530.2 1142.5L1543.3 1130.8L1530.8 1122.1L1517.6 1134.0Z" fill="#00ff7b"/>
<path d="M984.5 1238.5L997.1 1234.0L984.7 1235.1L972.2 1239.9Z" fill="#0000ff"/>
<path d="M1009.4 1233.0L1022.0 1228.2L1009.6 1228.9L997.1 1234.0Z" fill="#0000ff"/>
<path d="M1034.4 1227.7L1047.0 1222.6L1034.6 1222.8L1022.0 1228.2Z" fill="#0002ff"/>
<path d="M1059.5 1222.5L1072.1 1217.1L1059.6 1216.9L1047.0 1222.6Z" fill="#0019ff"/>
<path d="M1084.6 1217.5L1097.2 1211.7L1084.7 1211.1L1072.1 1217.1Z" fill="#0030ff"/>
<path d="M1109.7 1212.5L1122.4 1206.5L1109.8 1205.4L1097.2 1211.7Z" fill="#0045ff"/>
<path d="M1135.0 1207.8L1147.6 1201.4L1135.0 1199.8L1122.4 1206.5Z" fill="#0060ff"/>
<path d="M1160.2 1203.1L1172.9 1196.4L1160.3 1194.4L1147.6 1201.4Z" fill="#007aff"/>
<path d="M1185.5 1198.6L1198.2 1191.6L1185.6 1189.2L1172.9 1196.4Z" fill="#0093ff"/>
<path d="M1210.9 1194.3L1223.6 1186.9L1210.9 1184.0L1198.2 1191.6Z" fill="#00abff"/>
<path d="M1236.3 1190.1L1249.0 1182.4L1236.3 1179.0L1223.6 1186.9Z" fill="#00c1ff"/>
<path d="M1261.7 1186.0L1274.4 1178.0L1261.7 1174.2L1249.0 1182.4Z" fill="#00d7ff"/>
<path d="M1287.2 1182.1L1299.9 1173.8L1287.2 1169.5L1274.4 1178.0Z" fill="#00ebff"/>
<path d="M1312.6 1178.3L1325.4 1169.7L1312.7 1165.0L1299.9 1173.8Z" fill="#00ffff"/>
<path d="M1338.2 1174.7L1351.0 1165.8L1338.2 1160.6L1325.4 1169.7Z" fill="#00ffef"/>
<path d="M1363.7 1171.2L1376.5 1162.0L1363.8 1156.3L1351.0 1165.8Z" fill="#00ffe0"/>
<path d="M1389.2 1167.9L1402.1 1158.4L1389.4 1152.2L1376.5 1162.0Z" fill="#00ffd1"/>
<path d="M1414.8 1164.7L1427.7 1154.9L1415.0 1148.3L1402.1 1158.4Z" fill="#00ffc4"/>
<path d="M1440.4 1161.7L1453.3 1151.6L1440.6 1144.5L1427.7 1154.9Z" fill="#00ffb8"/>
<path d="M1466.0 1158.9L1478.9 1148.4L1466.3 1140.8L1453.3 1151.6Z" fill="#00ffac"/>
<path d="M1491.6 1156.2L1504.6 1145.3L1492.0 1137.3L1478.9 1148.4Z" fill="#00ffa2"/>
<path d="M1517.2 1153.6L1530.2 1142.5L1517.6 1134.0L1504.6 1145.3Z" fill="#00ff99"/>
<path d="M1542.8 1151.2L1555.9 1139.7L1543.3 1130.8L1530.2 1142.5Z" fill="#00ff91"/>
<path d="M971.8 1242.4L984.5 1238.5L972.2 1239.9L959.6 1244.1Z" fill="#0000ff"/>
<path d="M996.8 1237.2L1009.4 1233.0L997.1 1234.0L984.5 1238.5Z" fill="#0000ff"/>
<path d="M1021.8 1232.2L1034.4 1227.7L1022.0 1228.2L1009.4 1233.0Z" fill="#0000ff"/>
<path d="M1046.8 1227.4L1059.5 1222.5L1047.0 1222.6L1034.4 1227.7Z" fill="#0015ff"/>
<path d="M1071.9 1222.6L1084.6 1217.5L1072.1 1217.1L1059.5 1222.5Z" fill="#002bff"/>
<path d="M1097.1 1218.0L1109.7 1212.5L1097.2 1211.7L1084.6 1217.5Z" fill="#003fff"/>
<path d="M1122.3 1213.5L1135.0 1207.8L1122.4 1206.5L1109.7 1212.5Z" fill="#0057ff"/>
<path d="M1147.6 1209.2L1160.2 1203.1L1147.6 1201.4L1135.0 1207.8Z" fill="#006fff"/>
<path d="M1172.9 1205.0L1185.5 1198.6L1172.9 1196.4L1160.2 1203.1Z" fill="#0087ff"/>
<path d="M1198.2 1201.0L1210.9 1194.3L1198.2 1191.6L1185.5 1198.6Z" fill="#009eff"/>
<path d="M1223.6 1197.1L1236.3 1190.1L1223.6 1186.9L1210.9 1194.3Z" fill="#00b3ff"/>
<path d="M1249.0 1193.4L1261.7 1186.0L1249.0 1182.4L1236.3 1190.1Z" fill="#00c7ff"/>
<path d="M1274.4 1189.8L1287.2 1182.1L1274.4 1178.0L1261.7 1186.0Z" fill="#00daff"/>
<path d="M1299.9 1186.3L1312.6 1178.3L1299.9 1173.8L1287.2 1182.1Z" fill="#00ecff"/>
<path d="M1325.4 1183.0L1338.2 1174.7L1325.4 1169.7L1312.6 1178.3Z" fill="#00fdff"/>
<path d="M1350.9 1179.9L1363.7 1171.2L1351.0 1165.8L1338.2 1174.7Z" fill="#00fff3"/>
<path d="M1376.4 1176.9L1389.2 1167.9L1376.5 1162.0L1363.7 1171.2Z" fill="#00ffe6"/>
<path d="M1401.9 1174.0L1414.8 1164.7L1402.1 1158.4L1389.2 1167.9Z" fill="#00ffda"/>
<path d="M1427.5 1171.3L1440.4 1161.7L1427.7 1154.9L1414.8 1164.7Z" fill="#00ffcf"/>
<path d="M1453.0 1168.8L1466.0 1158.9L1453.3 1151.6L1440.4 1161.7Z" fill="#00ffc5"/>
<path d="M1478.6 1166.4L1491.6 1156.2L1478.9 1148.4L1466.0 1158.9Z" fill="#00ffbc"/>
<path d="M1504.2 1164.2L1517.2 1153.6L1504.6 1145.3L1491.6 1156.2Z" fill="#00ffb4"/>
<path d="M1529.8 1162.1L1542.8 1151.2L1530.2 1142.5L1517.2 1153.6Z" fill="#00ffae"/>
<path d="M1555.3 1160.2L1568.4 1148.9L1555.9 1139.7L1542.8 1151.2Z" fill="#00ffa8"/>
<path d="M984.1 1240.8L996.8 1237.2L984.5 1238.5L971.8 1242.4Z" fill="#0000ff"/>
<path d="M1009.1 1236.1L1021.8 1232.2L1009.4 1233.0L996.8 1237.2Z" fill="#0000ff"/>
<path d="M1034.2 1231.6L1046.8 1227.4L1034.4 1227.7L1021.8 1232.2Z" fill="#0014ff"/>
<path d="M1059.3 1227.1L1071.9 1222.6L1059.5 1222.5L1046.8 1227.4Z" fill="#0028ff"/>
<path d="M1084.4 1222.9L1097.1 1218.0L1084.6 1217.5L1071.9 1222.6Z" fill="#003cff"/>
<path d="M1109.6 1218.7L1122.3 1213.5L1109.7 1212.5L1097.1 1218.0Z" fill="#0051ff"/>
<path d="M1134.9 1214.7L1147.6 1209.2L1135.0 1207.8L1122.3 1213.5Z" fill="#0068ff"/>
<path d="M1160.2 1210.8L1172.9 1205.0L1160.2 1203.1L1147.6 1209.2Z" fill="#007eff"/>
<path d="M1185.5 1207.1L1198.2 1201.0L1185.5 1198.6L1172.9 1205.0Z" fill="#0093ff"/>
<path d="M1210.9 1203.6L1223.6 1197.1L1210.9 1194.3L1198.2 1201.0Z" fill="#00a7ff"/>
<path d="M1236.3 1200.1L1249.0 1193.4L1236.3 1190.1L1223.6 1197.1Z" fill="#00baff"/>
<path d="M1261.7 1196.9L1274.4 1189.8L1261.7 1186.0L1249.0 1193.4Z" fill="#00ccff"/>
<path d="M1287.1 1193.7L1299.9 1186.3L1287.2 1182.1L1274.4 1189.8Z" fill="#00dcff"/>
<path d="M1312.6 1190.8L1325.4 1183.0L1312.6 1178.3L1299.9 1186.3Z" fill="#00ebff"/>
<path d="M1338.1 1188.0L1350.9 1179.9L1338.2 1174.7L1325.4 1183.0Z" fill="#00faff"/>
<path d="M1363.6 1185.3L1376.4 1176.9L1363.7 1171.2L1350.9 1179.9Z" fill="#00fff8"/>
<path d="M1389.1 1182.8L1401.9 1174.0L1389.2 1167.9L1376.4 1176.9Z" fill="#00ffed"/>
<path d="M1414.6 1180.4L1427.5 1171.3L1414.8 1164.7L1401.9 1174.0Z" fill="#00ffe4"/>
<path d="M1440.1 1178.2L1453.0 1168.8L1440.4 1161.7L1427.5 1171.3Z" fill="#00ffdb"/>
<path d="M1465.7 1176.1L1478.6 1166.4L1466.0 1158.9L1453.0 1168.8Z" fill="#00ffd3"/>
<path d="M1491.2 1174.2L1504.2 1164.2L1491.6 1156.2L1478.6 1166.4Z" fill="#00ffcd"/>
<path d="M1516.8 1172.5L1529.8 1162.1L1517.2 1153.6L1504.2 1164.2Z" fill="#00ffc7"/>
<path d="M1542.3 1170.8L1555.3 1160.2L1542.8 1151.2L1529.8 1162.1Z" fill="#00ffc3"/>
<path d="M996.4 1239.4L1009.1 1236.1L996.8 1237.2L984.1 1240.8Z" fill="#0001ff"/>
<path d="M1021.5 1235.2L1034.2 1231.6L1021.8 1232.2L1009.1 1236.1Z" fill="#0015ff"/>
<path d="M1046.6 1231.1L1059.3 1227.1L1046.8 1227.4L1034.2 1231.6Z" fill="#0028ff"/>
<path d="M1071.8 1227.1L1084.4 1222.9L1071.9 1222.6L1059.3 1227.1Z" fill="#003bff"/>
<path d="M1097.0 1223.3L1109.6 1218.7L1097.1 1218.0L1084.4 1222.9Z" fill="#004dff"/>
<path d="M1122.2 1219.6L1134.9 1214.7L1122.3 1213.5L1109.6 1218.7Z" fill="#0063ff"/>
<path d="M1147.5 1216.1L1160.2 1210.8L1147.6 1209.2L1134.9 1214.7Z" fill="#0078ff"/>
<path d="M1172.8 1212.7L1185.5 1207.1L1172.9 1205.0L1160.2 1210.8Z" fill="#008cff"/>
<path d="M1198.2 1209.4L1210.9 1203.6L1198.2 1201.0L1185.5 1207.1Z" fill="#009fff"/>
<path d="M1223.5 1206.3L1236.3 1200.1L1223.6 1197.1L1210.9 1203.6Z" fill="#00b0ff"/>
<path d="M1249.0 1203.4L1261.7 1196.9L1249.0 1193.4L1236.3 1200.1Z" fill="#00c0ff"/>
<path d="M1274.4 1200.6L1287.1 1193.7L1274.4 1189.8L1261.7 1196.9Z" fill="#00cfff"/>
<path d="M1299.8 1197.9L1312.6 1190.8L1299.9 1186.3L1287.1 1193.7Z" fill="#00ddff"/>
<path d="M1325.3 1195.4L1338.1 1188.0L1325.4 1183.0L1312.6 1190.8Z" fill="#00eaff"/>
<path d="M1350.8 1193.1L1363.6 1185.3L1350.9 1179.9L1338.1 1188.0Z" fill="#00f5ff"/>
<path d="M1376.3 1190.9L1389.1 1182.8L1376.4 1176.9L1363.6 1185.3Z" fill="#00fffe"/>
<path d="M1401.8 1188.9L1414.6 1180.4L1401.9 1174.0L1389.1 1182.8Z" fill="#00fff6"/>
<path d="M1427.3 1187.0L1440.1 1178.2L1427.5 1171.3L1414.6 1180.4Z" fill="#00ffee"/>
<path d="M1452.8 1185.3L1465.7 1176.1L1453.0 1168.8L1440.1 1178.2Z" fill="#00ffe8"/>
<path d="M1478.3 1183.7L1491.2 1174.2L1478.6 1166.4L1465.7 1176.1Z" fill="#00ffe3"/>
<path d="M1503.8 1182.2L1516.8 1172.5L1504.2 1164.2L1491.2 1174.2Z" fill="#00ffde"/>
<path d="M1529.3 1181.0L1542.3 1170.8L1529.8 1162.1L1516.8 1172.5Z" fill="#00ffdb"/>
<path d="M1008.8 1238.1L1021.5 1235.2L1009.1 1236.1L996.4 1239.4Z" fill="#0018ff"/>
<path d="M1033.9 1234.4L1046.6 1231.1L1034.2 1231.6L1021.5 1235.2Z" fill="#002aff"/>
<path d="M1059.1 1230.7L1071.8 1227.1L1059.3 1227.1L1046.6 1231.1Z" fill="#003bff"/>
<path d="M1084.3 1227.2L1097.0 1223.3L1084.4 1222.9L1071.8 1227.1Z" fill="#004dff"/>
<path d="M1109.5 1223.9L1122.2 1219.6L1109.6 1218.7L1097.0 1223.3Z" fill="#0062ff"/>
<path d="M1134.8 1220.6L1147.5 1216.1L1134.9 1214.7L1122.2 1219.6Z" fill="#0075ff"/>
<path d="M1160.1 1217.6L1172.8 1212.7L1160.2 1210.8L1147.5 1216.1Z" fill="#0088ff"/>
<path d="M1185.5 1214.7L1198.2 1209.4L1185.5 1207.1L1172.8 1212.7Z" fill="#0099ff"/>
<path d="M1210.8 1211.9L1223.5 1206.3L1210.9 1203.6L1198.2 1209.4Z" fill="#00a9ff"/>
<path d="M1236.2 1209.3L1249.0 1203.4L1236.3 1200.1L1223.5 1206.3Z" fill="#00b8ff"/>
<path d="M1261.7 1206.8L1274.4 1200.6L1261.7 1196.9L1249.0 1203.4Z" fill="#00c5ff"/>
<path d="M1287.1 1204.5L1299.8 1197.9L1287.1 1193.7L1274.4 1200.6Z" fill="#00d2ff"/>
<path d="M1312.5 1202.3L1325.3 1195.4L1312.6 1190.8L1299.8 1197.9Z" fill="#00ddff"/>
<path d="M1338.0 1200.3L1350.8 1193.1L1338.1 1188.0L1325.3 1195.4Z" fill="#00e7ff"/>
<path d="M1363.5 1198.5L1376.3 1190.9L1363.6 1185.3L1350.8 1193.1Z" fill="#00f0ff"/>
<path d="M1389.0 1196.8L1401.8 1188.9L1389.1 1182.8L1376.3 1190.9Z" fill="#00f8ff"/>
<path d="M1414.5 1195.2L1427.3 1187.0L1414.6 1180.4L1401.8 1188.9Z" fill="#00ffff"/>
<path d="M1439.9 1193.8L1452.8 1185.3L1440.1 1178.2L1427.3 1187.0Z" fill="#00fffa"/>
<path d="M1465.4 1192.6L1478.3 1183.7L1465.7 1176.1L1452.8 1185.3Z" fill="#00fff6"/>
<path d="M1490.9 1191.5L1503.8 1182.2L1491.2 1174.2L1478.3 1183.7Z" fill="#00fff3"/>
<path d="M1516.4 1190.5L1529.3 1181.0L1516.8 1172.5L1503.8 1182.2Z" fill="#00fff1"/>
<path d="M1021.2 1237.0L1033.9 1234.4L1021.5 1235.2L1008.8 1238.1Z" fill="#002eff"/>
<path d="M1046.3 1233.7L1059.1 1230.7L1046.6 1231.1L1033.9 1234.4Z" fill="#003fff"/>
<path d="M1071.6 1230.5L1084.3 1227.2L1071.8 1227.1L1059.1 1230.7Z" fill="#0050ff"/>
<path d="M1096.8 1227.5L1109.5 1223.9L1097.0 1223.3L1084.3 1227.2Z" fill="#0063ff"/>
<path d="M1122.1 1224.6L1134.8 1220.6L1122.2 1219.6L1109.5 1223.9Z" fill="#0075ff"/>
<path d="M1147.4 1221.9L1160.1 1217.6L1147.5 1216.1L1134.8 1220.6Z" fill="#0086ff"/>
<path d="M1172.8 1219.3L1185.5 1214.7L1172.8 1212.7L1160.1 1217.6Z" fill="#0096ff"/>
<path d="M1198.1 1216.8L1210.8 1211.9L1198.2 1209.4L1185.5 1214.7Z" fill="#00a5ff"/>
<path d="M1223.5 1214.6L1236.2 1209.3L1223.5 1206.3L1210.8 1211.9Z" fill="#00b2ff"/>
<path d="M1248.9 1212.4L1261.7 1206.8L1249.0 1203.4L1236.2 1209.3Z" fill="#00beff"/>
<path d="M1274.4 1210.4L1287.1 1204.5L1274.4 1200.6L1261.7 1206.8Z" fill="#00c9ff"/>
<path d="M1299.8 1208.6L1312.5 1202.3L1299.8 1197.9L1287.1 1204.5Z" fill="#00d3ff"/>
<path d="M1325.3 1206.9L1338.0 1200.3L1325.3 1195.4L1312.5 1202.3Z" fill="#00dcff"/>
<path d="M1350.7 1205.4L1363.5 1198.5L1350.8 1193.1L1338.0 1200.3Z" fill="#00e4ff"/>
<path d="M1376.2 1204.0L1389.0 1196.8L1376.3 1190.9L1363.5 1198.5Z" fill="#00eaff"/>
<path d="M1401.6 1202.8L1414.5 1195.2L1401.8 1188.9L1389.0 1196.8Z" fill="#00f0ff"/>
<path d="M1427.1 1201.8L1439.9 1193.8L1427.3 1187.0L1414.5 1195.2Z" fill="#00f4ff"/>
<path d="M1452.6 1200.9L1465.4 1192.6L1452.8 1185.3L1439.9 1193.8Z" fill="#00f7ff"/>
<path d="M1478.0 1200.1L1490.9 1191.5L1478.3 1183.7L1465.4 1192.6Z" fill="#00f9ff"/>
<path d="M1503.5 1199.5L1516.4 1190.5L1503.8 1182.2L1490.9 1191.5Z" fill="#00faff"/>
<path d="M1033.6 1236.0L1046.3 1233.7L1033.9 1234.4L1021.2 1237.0Z" fill="#0044ff"/>
<path d="M1058.8 1233.2L1071.6 1230.5L1059.1 1230.7L1046.3 1233.7Z" fill="#0056ff"/>
<path d="M1084.1 1230.5L1096.8 1227.5L1084.3 1227.2L1071.6 1230.5Z" fill="#0067ff"/>
<path d="M1109.4 1227.9L1122.1 1224.6L1109.5 1223.9L1096.8 1227.5Z" fill="#0078ff"/>
<path d="M1134.7 1225.5L1147.4 1221.9L1134.8 1220.6L1122.1 1224.6Z" fill="#0088ff"/>
<path d="M1160.0 1223.3L1172.8 1219.3L1160.1 1217.6L1147.4 1221.9Z" fill="#0096ff"/>
<path d="M1185.4 1221.2L1198.1 1216.8L1185.5 1214.7L1172.8 1219.3Z" fill="#00a3ff"/>
<path d="M1210.8 1219.2L1223.5 1214.6L1210.8 1211.9L1198.1 1216.8Z" fill="#00afff"/>
<path d="M1236.2 1217.4L1248.9 1212.4L1236.2 1209.3L1223.5 1214.6Z" fill="#00baff"/>
<path d="M1261.6 1215.8L1274.4 1210.4L1261.7 1206.8L1248.9 1212.4Z" fill="#00c4ff"/>
<path d="M1287.1 1214.3L1299.8 1208.6L1287.1 1204.5L1274.4 1210.4Z" fill="#00cdff"/>
<path d="M1312.5 1212.9L1325.3 1206.9L1312.5 1202.3L1299.8 1208.6Z" fill="#00d4ff"/>
<path d="M1338.0 1211.8L1350.7 1205.4L1338.0 1200.3L1325.3 1206.9Z" fill="#00daff"/>
<path d="M1363.4 1210.7L1376.2 1204.0L1363.5 1198.5L1350.7 1205.4Z" fill="#00dfff"/>
<path d="M1388.9 1209.8L1401.6 1202.8L1389.0 1196.8L1376.2 1204.0Z" fill="#00e3ff"/>
<path d="M1414.3 1209.1L1427.1 1201.8L1414.5 1195.2L1401.6 1202.8Z" fill="#00e6ff"/>
<path d="M1439.8 1208.6L1452.6 1200.9L1439.9 1193.8L1427.1 1201.8Z" fill="#00e8ff"/>
<path d="M1465.2 1208.1L1478.0 1200.1L1465.4 1192.6L1452.6 1200.9Z" fill="#00e8ff"/>
<path d="M1490.6 1207.9L1503.5 1199.5L1490.9 1191.5L1478.0 1200.1Z" fill="#00e8ff"/>
<path d="M1046.0 1235.2L1058.8 1233.2L1046.3 1233.7L1033.6 1236.0Z" fill="#005eff"/>
<path d="M1071.3 1232.8L1084.1 1230.5L1071.6 1230.5L1058.8 1233.2Z" fill="#006fff"/>
<path d="M1096.6 1230.6L1109.4 1227.9L1096.8 1227.5L1084.1 1230.5Z" fill="#007eff"/>
<path d="M1121.9 1228.6L1134.7 1225.5L1122.1 1224.6L1109.4 1227.9Z" fill="#008cff"/>
<path d="M1147.3 1226.6L1160.0 1223.3L1147.4 1221.9L1134.7 1225.5Z" fill="#0099ff"/>
<path d="M1172.7 1224.9L1185.4 1221.2L1172.8 1219.3L1160.0 1223.3Z" fill="#00a5ff"/>
<path d="M1198.1 1223.2L1210.8 1219.2L1198.1 1216.8L1185.4 1221.2Z" fill="#00b0ff"/>
<path d="M1223.5 1221.8L1236.2 1217.4L1223.5 1214.6L1210.8 1219.2Z" fill="#00b9ff"/>
<path d="M1248.9 1220.5L1261.6 1215.8L1248.9 1212.4L1236.2 1217.4Z" fill="#00c1ff"/>
<path d="M1274.3 1219.3L1287.1 1214.3L1274.4 1210.4L1261.6 1215.8Z" fill="#00c9ff"/>
<path d="M1299.8 1218.3L1312.5 1212.9L1299.8 1208.6L1287.1 1214.3Z" fill="#00cfff"/>
<path d="M1325.2 1217.5L1338.0 1211.8L1325.3 1206.9L1312.5 1212.9Z" fill="#00d4ff"/>
<path d="M1350.7 1216.8L1363.4 1210.7L1350.7 1205.4L1338.0 1211.8Z" fill="#00d7ff"/>
<path d="M1376.1 1216.3L1388.9 1209.8L1376.2 1204.0L1363.4 1210.7Z" fill="#00daff"/>
<path d="M1401.5 1215.9L1414.3 1209.1L1401.6 1202.8L1388.9 1209.8Z" fill="#00dbff"/>
<path d="M1427.0 1215.7L1439.8 1208.6L1427.1 1201.8L1414.3 1209.1Z" fill="#00dcff"/>
<path d="M1452.4 1215.6L1465.2 1208.1L1452.6 1200.9L1439.8 1208.6Z" fill="#00dbff"/>
<path d="M1477.8 1215.7L1490.6 1207.9L1478.0 1200.1L1465.2 1208.1Z" fill="#00d9ff"/>
<path d="M1058.5 1234.6L1071.3 1232.8L1058.8 1233.2L1046.0 1235.2Z" fill="#0079ff"/>
<path d="M1083.8 1232.7L1096.6 1230.6L1084.1 1230.5L1071.3 1232.8Z" fill="#0087ff"/>
<path d="M1109.2 1230.9L1121.9 1228.6L1109.4 1227.9L1096.6 1230.6Z" fill="#0093ff"/>
<path d="M1134.5 1229.3L1147.3 1226.6L1134.7 1225.5L1121.9 1228.6Z" fill="#009fff"/>
<path d="M1159.9 1227.9L1172.7 1224.9L1160.0 1223.3L1147.3 1226.6Z" fill="#00a9ff"/>
<path d="M1185.3 1226.6L1198.1 1223.2L1185.4 1221.2L1172.7 1224.9Z" fill="#00b3ff"/>
<path d="M1210.7 1225.5L1223.5 1221.8L1210.8 1219.2L1198.1 1223.2Z" fill="#00bbff"/>
<path d="M1236.2 1224.5L1248.9 1220.5L1236.2 1217.4L1223.5 1221.8Z" fill="#00c2ff"/>
<path d="M1261.6 1223.7L1274.3 1219.3L1261.6 1215.8L1248.9 1220.5Z" fill="#00c8ff"/>
<path d="M1287.0 1223.1L1299.8 1218.3L1287.1 1214.3L1274.3 1219.3Z" fill="#00ccff"/>
<path d="M1312.5 1222.6L1325.2 1217.5L1312.5 1212.9L1299.8 1218.3Z" fill="#00d0ff"/>
<path d="M1337.9 1222.2L1350.7 1216.8L1338.0 1211.8L1325.2 1217.5Z" fill="#00d2ff"/>
<path d="M1363.4 1222.1L1376.1 1216.3L1363.4 1210.7L1350.7 1216.8Z" fill="#00d3ff"/>
<path d="M1388.8 1222.0L1401.5 1215.9L1388.9 1209.8L1376.1 1216.3Z" fill="#00d3ff"/>
<path d="M1414.2 1222.1L1427.0 1215.7L1414.3 1209.1L1401.5 1215.9Z" fill="#00d2ff"/>
<path d="M1439.6 1222.4L1452.4 1215.6L1439.8 1208.6L1427.0 1215.7Z" fill="#00d0ff"/>
<path d="M1465.0 1222.9L1477.8 1215.7L1465.2 1208.1L1452.4 1215.6Z" fill="#00cdff"/>
<path d="M1071.0 1234.0L1083.8 1232.7L1071.3 1232.8L1058.5 1234.6Z" fill="#0092ff"/>
<path d="M1096.4 1232.6L1109.2 1230.9L1096.6 1230.6L1083.8 1232.7Z" fill="#009eff"/>
<path d="M1121.8 1231.4L1134.5 1229.3L1121.9 1228.6L1109.2 1230.9Z" fill="#00a8ff"/>
<path d="M1147.2 1230.3L1159.9 1227.9L1147.3 1226.6L1134.5 1229.3Z" fill="#00b1ff"/>
<path d="M1172.6 1229.4L1185.3 1226.6L1172.7 1224.9L1159.9 1227.9Z" fill="#00b9ff"/>
<path d="M1198.0 1228.6L1210.7 1225.5L1198.1 1223.2L1185.3 1226.6Z" fill="#00c0ff"/>
<path d="M1223.4 1228.0L1236.2 1224.5L1223.5 1221.8L1210.7 1225.5Z" fill="#00c5ff"/>
<path d="M1248.9 1227.5L1261.6 1223.7L1248.9 1220.5L1236.2 1224.5Z" fill="#00caff"/>
<path d="M1274.3 1227.2L1287.0 1223.1L1274.3 1219.3L1261.6 1223.7Z" fill="#00cdff"/>
<path d="M1299.7 1227.1L1312.5 1222.6L1299.8 1218.3L1287.0 1223.1Z" fill="#00cfff"/>
<path d="M1325.2 1227.1L1337.9 1222.2L1325.2 1217.5L1312.5 1222.6Z" fill="#00d0ff"/>
<path d="M1350.6 1227.2L1363.4 1222.1L1350.7 1216.8L1337.9 1222.2Z" fill="#00d0ff"/>
<path d="M1376.0 1227.5L1388.8 1222.0L1376.1 1216.3L1363.4 1222.1Z" fill="#00ceff"/>
<path d="M1401.5 1228.0L1414.2 1222.1L1401.5 1215.9L1388.8 1222.0Z" fill="#00ccff"/>
<path d="M1426.9 1228.6L1439.6 1222.4L1427.0 1215.7L1414.2 1222.1Z" fill="#00c8ff"/>
<path d="M1452.2 1229.4L1465.0 1222.9L1452.4 1215.6L1439.6 1222.4Z" fill="#00c3ff"/>
<path d="M1083.6 1233.7L1096.4 1232.6L1083.8 1232.7L1071.0 1234.0Z" fill="#00abff"/>
<path d="M1109.0 1232.8L1121.8 1231.4L1109.2 1230.9L1096.4 1232.6Z" fill="#00b4ff"/>
<path d="M1134.4 1232.1L1147.2 1230.3L1134.5 1229.3L1121.8 1231.4Z" fill="#00bbff"/>
<path d="M1159.8 1231.5L1172.6 1229.4L1159.9 1227.9L1147.2 1230.3Z" fill="#00c2ff"/>
<path d="M1185.2 1231.0L1198.0 1228.6L1185.3 1226.6L1172.6 1229.4Z" fill="#00c7ff"/>
<path d="M1210.7 1230.8L1223.4 1228.0L1210.7 1225.5L1198.0 1228.6Z" fill="#00cbff"/>
<path d="M1236.1 1230.6L1248.9 1227.5L1236.2 1224.5L1223.4 1228.0Z" fill="#00cfff"/>
<path d="M1261.6 1230.7L1274.3 1227.2L1261.6 1223.7L1248.9 1227.5Z" fill="#00d0ff"/>
<path d="M1287.0 1230.9L1299.7 1227.1L1287.0 1223.1L1274.3 1227.2Z" fill="#00d1ff"/>
<path d="M1312.5 1231.2L1325.2 1227.1L1312.5 1222.6L1299.7 1227.1Z" fill="#00d1ff"/>
<path d="M1337.9 1231.7L1350.6 1227.2L1337.9 1222.2L1325.2 1227.1Z" fill="#00cfff"/>
<path d="M1363.3 1232.4L1376.0 1227.5L1363.4 1222.1L1350.6 1227.2Z" fill="#00ccff"/>
<path d="M1388.7 1233.2L1401.5 1228.0L1388.8 1222.0L1376.0 1227.5Z" fill="#00c8ff"/>
<path d="M1414.1 1234.2L1426.9 1228.6L1414.2 1222.1L1401.5 1228.0Z" fill="#00c3ff"/>
<path d="M1439.5 1235.4L1452.2 1229.4L1439.6 1222.4L1426.9 1228.6Z" fill="#00bdff"/>
<path d="M1096.2 1233.5L1109.0 1232.8L1096.4 1232.6L1083.6 1233.7Z" fill="#00c3ff"/>
<path d="M1121.6 1233.1L1134.4 1232.1L1121.8 1231.4L1109.0 1232.8Z" fill="#00c9ff"/>
<path d="M1147.0 1232.9L1159.8 1231.5L1147.2 1230.3L1134.4 1232.1Z" fill="#00ceff"/>
<path d="M1172.5 1232.8L1185.2 1231.0L1172.6 1229.4L1159.8 1231.5Z" fill="#00d2ff"/>
<path d="M1197.9 1232.9L1210.7 1230.8L1198.0 1228.6L1185.2 1231.0Z" fill="#00d5ff"/>
<path d="M1223.4 1233.1L1236.1 1230.6L1223.4 1228.0L1210.7 1230.8Z" fill="#00d6ff"/>
<path d="M1248.8 1233.5L1261.6 1230.7L1248.9 1227.5L1236.1 1230.6Z" fill="#00d7ff"/>
<path d="M1274.3 1234.0L1287.0 1230.9L1274.3 1227.2L1261.6 1230.7Z" fill="#00d6ff"/>
<path d="M1299.7 1234.8L1312.5 1231.2L1299.7 1227.1L1287.0 1230.9Z" fill="#00d4ff"/>
<path d="M1325.2 1235.6L1337.9 1231.7L1325.2 1227.1L1312.5 1231.2Z" fill="#00d1ff"/>
<path d="M1350.6 1236.7L1363.3 1232.4L1350.6 1227.2L1337.9 1231.7Z" fill="#00cdff"/>
<path d="M1376.0 1237.8L1388.7 1233.2L1376.0 1227.5L1363.3 1232.4Z" fill="#00c8ff"/>
<path d="M1401.4 1239.2L1414.1 1234.2L1401.5 1228.0L1388.7 1233.2Z" fill="#00c2ff"/>
<path d="M1426.8 1240.7L1439.5 1235.4L1426.9 1228.6L1414.1 1234.2Z" fill="#00baff"/>
<path d="M1108.8 1233.5L1121.6 1233.1L1109.0 1232.8L1096.2 1233.5Z" fill="#00d9ff"/>
<path d="M1134.2 1233.6L1147.0 1232.9L1134.4 1232.1L1121.6 1233.1Z" fill="#00ddff"/>
<path d="M1159.7 1233.9L1172.5 1232.8L1159.8 1231.5L1147.0 1232.9Z" fill="#00dfff"/>
<path d="M1185.1 1234.3L1197.9 1232.9L1185.2 1231.0L1172.5 1232.8Z" fill="#00e1ff"/>
<path d="M1210.6 1234.9L1223.4 1233.1L1210.7 1230.8L1197.9 1232.9Z" fill="#00e1ff"/>
<path d="M1236.1 1235.6L1248.8 1233.5L1236.1 1230.6L1223.4 1233.1Z" fill="#00e0ff"/>
<path d="M1261.5 1236.6L1274.3 1234.0L1261.6 1230.7L1248.8 1233.5Z" fill="#00deff"/>
<path d="M1287.0 1237.6L1299.7 1234.8L1287.0 1230.9L1274.3 1234.0Z" fill="#00dbff"/>
<path d="M1312.4 1238.9L1325.2 1235.6L1312.5 1231.2L1299.7 1234.8Z" fill="#00d7ff"/>
<path d="M1337.9 1240.2L1350.6 1236.7L1337.9 1231.7L1325.2 1235.6Z" fill="#00d1ff"/>
<path d="M1363.3 1241.8L1376.0 1237.8L1363.3 1232.4L1350.6 1236.7Z" fill="#00caff"/>
<path d="M1388.7 1243.5L1401.4 1239.2L1388.7 1233.2L1376.0 1237.8Z" fill="#00c3ff"/>
<path d="M1414.1 1245.4L1426.8 1240.7L1414.1 1234.2L1401.4 1239.2Z" fill="#00baff"/>
<path d="M1121.4 1233.7L1134.2 1233.6L1121.6 1233.1L1108.8 1233.5Z" fill="#00efff"/>
<path d="M1146.9 1234.3L1159.7 1233.9L1147.0 1232.9L1134.2 1233.6Z" fill="#00f0ff"/>
<path d="M1172.3 1235.1L1185.1 1234.3L1172.5 1232.8L1159.7 1233.9Z" fill="#00f0ff"/>
<path d="M1197.8 1236.0L1210.6 1234.9L1197.9 1232.9L1185.1 1234.3Z" fill="#00efff"/>
<path d="M1223.3 1237.1L1236.1 1235.6L1223.4 1233.1L1210.6 1234.9Z" fill="#00edff"/>
<path d="M1248.8 1238.4L1261.5 1236.6L1248.8 1233.5L1236.1 1235.6Z" fill="#00e9ff"/>
<path d="M1274.3 1239.8L1287.0 1237.6L1274.3 1234.0L1261.5 1236.6Z" fill="#00e4ff"/>
<path d="M1299.7 1241.4L1312.4 1238.9L1299.7 1234.8L1287.0 1237.6Z" fill="#00dfff"/>
<path d="M1325.2 1243.2L1337.9 1240.2L1325.2 1235.6L1312.4 1238.9Z" fill="#00d8ff"/>
<path d="M1350.6 1245.1L1363.3 1241.8L1350.6 1236.7L1337.9 1240.2Z" fill="#00d0ff"/>
<path d="M1376.0 1247.1L1388.7 1243.5L1376.0 1237.8L1363.3 1241.8Z" fill="#00c7ff"/>
<path d="M1401.4 1249.4L1414.1 1245.4L1401.4 1239.2L1388.7 1243.5Z" fill="#00bcff"/>
<path d="M1134.0 1234.0L1146.9 1234.3L1134.2 1233.6L1121.4 1233.7Z" fill="#00fffb"/>
<path d="M1159.5 1235.2L1172.3 1235.1L1159.7 1233.9L1146.9 1234.3Z" fill="#00fffc"/>
<path d="M1185.0 1236.5L1197.8 1236.0L1185.1 1234.3L1172.3 1235.1Z" fill="#00ffff"/>
<path d="M1210.5 1237.9L1223.3 1237.1L1210.6 1234.9L1197.8 1236.0Z" fill="#00fcff"/>
<path d="M1236.0 1239.5L1248.8 1238.4L1236.1 1235.6L1223.3 1237.1Z" fill="#00f7ff"/>
<path d="M1261.5 1241.3L1274.3 1239.8L1261.5 1236.6L1248.8 1238.4Z" fill="#00f1ff"/>
<path d="M1287.0 1243.3L1299.7 1241.4L1287.0 1237.6L1274.3 1239.8Z" fill="#00eaff"/>
<path d="M1312.4 1245.4L1325.2 1243.2L1312.4 1238.9L1299.7 1241.4Z" fill="#00e2ff"/>
<path d="M1337.9 1247.7L1350.6 1245.1L1337.9 1240.2L1325.2 1243.2Z" fill="#00d8ff"/>
<path d="M1363.3 1250.1L1376.0 1247.1L1363.3 1241.8L1350.6 1245.1Z" fill="#00cdff"/>
<path d="M1388.7 1252.7L1401.4 1249.4L1388.7 1243.5L1376.0 1247.1Z" fill="#00c2ff"/>
<path d="M1146.7 1234.5L1159.5 1235.2L1146.9 1234.3L1134.0 1234.0Z" fill="#00ffe9"/>
<path d="M1172.2 1236.2L1185.0 1236.5L1172.3 1235.1L1159.5 1235.2Z" fill="#00ffed"/>
<path d="M1197.7 1238.0L1210.5 1237.9L1197.8 1236.0L1185.0 1236.5Z" fill="#00fff1"/>
<path d="M1223.2 1240.0L1236.0 1239.5L1223.3 1237.1L1210.5 1237.9Z" fill="#00fff7"/>
<path d="M1248.8 1242.2L1261.5 1241.3L1248.8 1238.4L1236.0 1239.5Z" fill="#00fffe"/>
<path d="M1274.2 1244.5L1287.0 1243.3L1274.3 1239.8L1261.5 1241.3Z" fill="#00f8ff"/>
<path d="M1299.7 1247.0L1312.4 1245.4L1299.7 1241.4L1287.0 1243.3Z" fill="#00eeff"/>
<path d="M1325.2 1249.6L1337.9 1247.7L1325.2 1243.2L1312.4 1245.4Z" fill="#00e3ff"/>
<path d="M1350.6 1252.4L1363.3 1250.1L1350.6 1245.1L1337.9 1247.7Z" fill="#00d7ff"/>
<path d="M1376.0 1255.4L1388.7 1252.7L1376.0 1247.1L1363.3 1250.1Z" fill="#00caff"/>
<path d="M1159.4 1235.2L1172.2 1236.2L1159.5 1235.2L1146.7 1234.5Z" fill="#00ffd8"/>
<path d="M1184.9 1237.4L1197.7 1238.0L1185.0 1236.5L1172.2 1236.2Z" fill="#00ffde"/>
<path d="M1210.4 1239.8L1223.2 1240.0L1210.5 1237.9L1197.7 1238.0Z" fill="#00ffe5"/>
<path d="M1236.0 1242.3L1248.8 1242.2L1236.0 1239.5L1223.2 1240.0Z" fill="#00ffed"/>
<path d="M1261.5 1245.0L1274.2 1244.5L1261.5 1241.3L1248.8 1242.2Z" fill="#00fff6"/>
<path d="M1287.0 1247.9L1299.7 1247.0L1287.0 1243.3L1274.2 1244.5Z" fill="#00feff"/>
<path d="M1312.4 1250.9L1325.2 1249.6L1312.4 1245.4L1299.7 1247.0Z" fill="#00f2ff"/>
<path d="M1337.9 1254.1L1350.6 1252.4L1337.9 1247.7L1325.2 1249.6Z" fill="#00e4ff"/>
<path d="M1363.3 1257.4L1376.0 1255.4L1363.3 1250.1L1350.6 1252.4Z" fill="#00d6ff"/>
<path d="M1172.1 1236.1L1184.9 1237.4L1172.2 1236.2L1159.4 1235.2Z" fill="#00ffc8"/>
<path d="M1197.6 1238.9L1210.4 1239.8L1197.7 1238.0L1184.9 1237.4Z" fill="#00ffd0"/>
<path d="M1223.2 1241.8L1236.0 1242.3L1223.2 1240.0L1210.4 1239.8Z" fill="#00ffda"/>
<path d="M1248.7 1244.8L1261.5 1245.0L1248.8 1242.2L1236.0 1242.3Z" fill="#00ffe4"/>
<path d="M1274.2 1248.0L1287.0 1247.9L1274.2 1244.5L1261.5 1245.0Z" fill="#00ffef"/>
<path d="M1299.7 1251.4L1312.4 1250.9L1299.7 1247.0L1287.0 1247.9Z" fill="#00fffc"/>
<path d="M1325.2 1255.0L1337.9 1254.1L1325.2 1249.6L1312.4 1250.9Z" fill="#00f4ff"/>
<path d="M1350.6 1258.7L1363.3 1257.4L1350.6 1252.4L1337.9 1254.1Z" fill="#00e4ff"/>
<path d="M1184.8 1237.2L1197.6 1238.9L1184.9 1237.4L1172.1 1236.1Z" fill="#00ffb9"/>
<path d="M1210.4 1240.5L1223.2 1241.8L1210.4 1239.8L1197.6 1238.9Z" fill="#00ffc4"/>
<path d="M1235.9 1243.9L1248.7 1244.8L1236.0 1242.3L1223.2 1241.8Z" fill="#00ffcf"/>
<path d="M1261.5 1247.5L1274.2 1248.0L1261.5 1245.0L1248.7 1244.8Z" fill="#00ffdc"/>
<path d="M1287.0 1251.3L1299.7 1251.4L1287.0 1247.9L1274.2 1248.0Z" fill="#00ffe9"/>
<path d="M1312.4 1255.2L1325.2 1255.0L1312.4 1250.9L1299.7 1251.4Z" fill="#00fff8"/>
<path d="M1337.9 1259.3L1350.6 1258.7L1337.9 1254.1L1325.2 1255.0Z" fill="#00f5ff"/>
<path d="M1197.5 1238.5L1210.4 1240.5L1197.6 1238.9L1184.8 1237.2Z" fill="#00ffab"/>
<path d="M1223.1 1242.3L1235.9 1243.9L1223.2 1241.8L1210.4 1240.5Z" fill="#00ffb8"/>
<path d="M1248.7 1246.3L1261.5 1247.5L1248.7 1244.8L1235.9 1243.9Z" fill="#00ffc6"/>
<path d="M1274.2 1250.4L1287.0 1251.3L1274.2 1248.0L1261.5 1247.5Z" fill="#00ffd5"/>
<path d="M1299.7 1254.7L1312.4 1255.2L1299.7 1251.4L1287.0 1251.3Z" fill="#00ffe5"/>
<path d="M1325.2 1259.2L1337.9 1259.3L1325.2 1255.0L1312.4 1255.2Z" fill="#00fff6"/>
<path d="M1210.3 1239.9L1223.1 1242.3L1210.4 1240.5L1197.5 1238.5Z" fill="#00ff9e"/>
<path d="M1235.9 1244.3L1248.7 1246.3L1235.9 1243.9L1223.1 1242.3Z" fill="#00ffad"/>
<path d="M1261.4 1248.8L1274.2 1250.4L1261.5 1247.5L1248.7 1246.3Z" fill="#00ffbd"/>
<path d="M1287.0 1253.5L1299.7 1254.7L1287.0 1251.3L1274.2 1250.4Z" fill="#00ffce"/>
<path d="M1312.5 1258.4L1325.2 1259.2L1312.4 1255.2L1299.7 1254.7Z" fill="#00ffe0"/>
<path d="M1223.0 1241.6L1235.9 1244.3L1223.1 1242.3L1210.3 1239.9Z" fill="#00ff91"/>
<path d="M1248.6 1246.5L1261.4 1248.8L1248.7 1246.3L1235.9 1244.3Z" fill="#00ffa3"/>
<path d="M1274.2 1251.6L1287.0 1253.5L1274.2 1250.4L1261.4 1248.8Z" fill="#00ffb5"/>
<path d="M1299.7 1256.9L1312.5 1258.4L1299.7 1254.7L1287.0 1253.5Z" fill="#00ffc9"/>
<path d="M1235.8 1243.5L1248.6 1246.5L1235.9 1244.3L1223.0 1241.6Z" fill="#00ff86"/>
<path d="M1261.4 1248.9L1274.2 1251.6L1261.4 1248.8L1248.6 1246.5Z" fill="#00ff9a"/>
<path d="M1287.0 1254.6L1299.7 1256.9L1287.0 1253.5L1274.2 1251.6Z" fill="#00ffae"/>
<path d="M1248.6 1245.5L1261.4 1248.9L1248.6 1246.5L1235.8 1243.5Z" fill="#00ff7b"/>
<path d="M1274.2 1251.6L1287.0 1254.6L1274.2 1251.6L1261.4 1248.9Z" fill="#00ff91"/>
<path d="M1261.4 1247.8L1274.2 1251.6L1261.4 1248.9L1248.6 1245.5Z" fill="#00ff72"/>
</g>
<circle cx="1261.5" cy="1176.8" r="6.2" fill="#c80000" stroke="#3a0a0a" stroke-width="1.3"/>
<circle cx="960.3" cy="1259.7" r="3.1" fill="#000"/>
<circle cx="957.8" cy="1207.8" r="3.1" fill="#000"/>
<circle cx="955.3" cy="1155.9" r="3.1" fill="#000"/>
<circle cx="952.7" cy="1104.0" r="3.1" fill="#000"/>
<circle cx="950.2" cy="1052.0" r="3.1" fill="#000"/>
<circle cx="947.6" cy="1000.1" r="3.1" fill="#000"/>
<circle cx="945.1" cy="948.2" r="3.1" fill="#000"/>
<circle cx="1261.4" cy="1499.5" r="3.1" fill="#000"/>
<circle cx="1187.3" cy="1463.9" r="3.1" fill="#000"/>
<circle cx="1113.2" cy="1428.3" r="3.1" fill="#000"/>
<circle cx="1039.2" cy="1392.7" r="3.1" fill="#000"/>
<circle cx="965.1" cy="1357.1" r="3.1" fill="#000"/>
<circle cx="1335.7" cy="1463.7" r="3.1" fill="#000"/>
<circle cx="1410.0" cy="1427.8" r="3.1" fill="#000"/>
<circle cx="1484.3" cy="1391.9" r="3.1" fill="#000"/>
<circle cx="1558.6" cy="1356.1" r="3.1" fill="#000"/>
<text x="946.9" y="1253.0" font-size="20" text-anchor="end" textLength="38.1" lengthAdjust="spacingAndGlyphs" fill="#1a1a1a">97.6</text>
<text x="944.4" y="1201.1" font-size="20" text-anchor="end" textLength="38.1" lengthAdjust="spacingAndGlyphs" fill="#1a1a1a">97.7</text>
<text x="941.9" y="1149.2" font-size="20" text-anchor="end" textLength="38.1" lengthAdjust="spacingAndGlyphs" fill="#1a1a1a">97.8</text>
<text x="939.3" y="1097.3" font-size="20" text-anchor="end" textLength="38.1" lengthAdjust="spacingAndGlyphs" fill="#1a1a1a">97.9</text>
<text x="939.5" y="1045.3" font-size="20" text-anchor="end" textLength="21.8" lengthAdjust="spacingAndGlyphs" fill="#1a1a1a">98</text>
<text x="934.2" y="993.4" font-size="20" text-anchor="end" textLength="38.1" lengthAdjust="spacingAndGlyphs" fill="#1a1a1a">98.1</text>
<text x="931.7" y="941.5" font-size="20" text-anchor="end" textLength="38.1" lengthAdjust="spacingAndGlyphs" fill="#1a1a1a">98.2</text>
<text x="953.0" y="1377.0" font-size="20" text-anchor="end" textLength="72.3" lengthAdjust="spacingAndGlyphs" fill="#1a1a1a">51.8921</text>
<text x="1027.0" y="1414.0" font-size="20" text-anchor="end" textLength="61.2" lengthAdjust="spacingAndGlyphs" fill="#1a1a1a">45.946</text>
<text x="1103.0" y="1449.0" font-size="20" text-anchor="end" textLength="22.2" lengthAdjust="spacingAndGlyphs" fill="#1a1a1a">40</text>
<text x="1177.0" y="1486.0" font-size="20" text-anchor="end" textLength="61.2" lengthAdjust="spacingAndGlyphs" fill="#1a1a1a">34.054</text>
<text x="1251.0" y="1521.0" font-size="20" text-anchor="end" textLength="72.3" lengthAdjust="spacingAndGlyphs" fill="#1a1a1a">28.1079</text>
<text x="1275.0" y="1521.0" font-size="20" textLength="58.7" lengthAdjust="spacingAndGlyphs" fill="#1a1a1a">140.27</text>
<text x="1347.0" y="1486.0" font-size="20" textLength="69.4" lengthAdjust="spacingAndGlyphs" fill="#1a1a1a">155.135</text>
<text x="1422.0" y="1449.0" font-size="20" textLength="32.0" lengthAdjust="spacingAndGlyphs" fill="#1a1a1a">170</text>
<text x="1496.0" y="1414.0" font-size="20" textLength="69.4" lengthAdjust="spacingAndGlyphs" fill="#1a1a1a">184.865</text>
<text x="1572.0" y="1377.0" font-size="20" textLength="58.7" lengthAdjust="spacingAndGlyphs" fill="#1a1a1a">199.73</text>
<text x="963.0" y="1492.0" font-size="20" textLength="70.0" lengthAdjust="spacingAndGlyphs" fill="#1a1a1a">C: FEED</text>
<text x="1452.0" y="1492.0" font-size="20" textLength="147.0" lengthAdjust="spacingAndGlyphs" fill="#1a1a1a">A: Pressure (PSI)</text>
<text x="857.0" y="1159.0" font-size="20" text-anchor="middle" textLength="112.0" lengthAdjust="spacingAndGlyphs" transform="rotate(-90 857.0 1159.0)" fill="#1a1a1a">Removal (%)</text>
<text x="837.7" y="863.6" font-size="44" font-weight="bold" fill="#000">D</text>
<path d="M958.1 2083.1L1257.1 1982.6L1557.9 2082.6M955.7 2031.7L1257.1 1936.1L1560.4 2031.1M953.3 1980.3L1257.1 1889.5L1562.9 1979.6M951.0 1928.8L1257.1 1842.9L1565.3 1928.2M948.6 1877.4L1257.1 1796.3L1567.8 1876.7M946.2 1825.9L1257.1 1749.7L1570.2 1825.2M943.8 1774.5L1257.1 1703.1L1572.7 1773.7M1032.9 2058.0L1022.1 1756.7M1482.7 2057.6L1493.8 1756.0M1107.6 2032.9L1100.4 1738.8M1407.5 2032.6L1414.9 1738.4M1182.4 2007.8L1178.8 1720.9M1332.3 2007.6L1336.0 1720.7" fill="none" stroke="#111" stroke-width="1.45"/>
<path d="M962.6 2179.6L943.8 1774.5L1257.1 1703.1L1572.7 1773.7L1553.3 2179.2M1257.1 2070.0L1257.1 1703.1" fill="none" stroke="#0a0a0a" stroke-width="1.8" stroke-linejoin="round"/>
<clipPath id="fF"><path d="M1257.6 2321.5L962.6 2179.6L1257.1 2070.0L1553.3 2179.2Z"/></clipPath>
<path d="M1257.6 2321.5L962.6 2179.6L1257.1 2070.0L1553.3 2179.2Z" fill="#646464"/>
<g clip-path="url(#fF)" fill="none" stroke-width="3.2">
<path d="M1217.5 2084.7L1217.9 2087.4L1218.3 2090.0L1218.7 2092.7L1219.1 2095.4L1219.4 2098.1L1219.6 2100.9L1219.9 2103.7L1220.1 2106.5L1220.2 2109.3L1220.2 2112.2L1220.2 2115.1L1220.1 2118.0L1219.9 2121.0L1219.5 2124.1L1219.0 2127.2L1218.4 2130.4L1217.5 2133.8L1216.5 2136.8L1215.4 2139.3L1214.2 2141.8L1212.2 2144.8L1209.2 2148.7L1207.0 2150.8L1201.9 2154.7L1198.9 2156.5L1191.8 2159.6L1186.2 2161.3L1178.4 2163.0L1172.1 2163.9L1162.4 2164.7L1154.6 2165.0L1147.6 2165.0L1140.2 2164.9L1132.4 2164.5L1125.2 2164.1L1118.7 2163.6L1112.2 2163.0L1105.9 2162.4L1097.7 2161.5L1088.3 2160.3L1081.7 2159.5L1075.8 2158.7L1068.6 2157.7L1058.4 2156.1L1052.6 2155.2L1046.9 2154.3L1037.4 2152.7L1035.6 2152.4" stroke="#00a7ff"/>
<path d="M1288.7 2306.5L1287.1 2303.7L1284.4 2299.0L1282.4 2295.6L1280.7 2292.9L1278.3 2289.2L1275.5 2285.0L1273.7 2282.4L1271.2 2279.0L1268.0 2274.8L1266.0 2272.3L1262.3 2268.1L1259.6 2265.1L1256.7 2262.1L1252.7 2258.1L1249.9 2255.6L1245.1 2251.5L1240.8 2248.2L1236.8 2245.2L1231.0 2241.2L1226.1 2238.2L1221.5 2235.4L1214.9 2231.8L1207.9 2228.3L1200.6 2224.9L1193.1 2221.6L1185.3 2218.4L1177.3 2215.4L1169.7 2212.6L1164.9 2210.9L1156.4 2208.1L1147.7 2205.2L1143.2 2203.8L1134.4 2201.1L1125.4 2198.4L1120.9 2197.1L1111.7 2194.4L1103.8 2192.2L1097.8 2190.5L1088.4 2188.0L1083.7 2186.7L1074.2 2184.1L1069.4 2182.8L1059.8 2180.3L1053.8 2178.7L1045.4 2176.5L1038.3 2174.7L1030.8 2172.7L1023.1 2170.7L1016.2 2168.9L1008.1 2166.9L1001.4 2165.1L1001.4 2165.1" stroke="#00e6ff"/>
<path d="M1251.7 2072.0L1252.8 2074.3L1254.3 2077.2L1256.0 2080.6L1257.6 2083.7L1258.8 2086.0L1260.0 2088.3L1261.3 2090.9L1263.2 2094.5L1264.9 2097.7L1266.2 2100.1L1267.5 2102.5L1269.0 2105.2L1271.0 2108.8L1272.8 2111.9L1274.1 2114.3L1275.5 2116.6L1277.5 2120.0L1279.7 2123.7L1281.2 2126.0L1282.6 2128.4L1284.8 2131.6L1287.2 2135.4L1288.8 2137.8L1290.4 2140.1L1293.2 2143.9L1295.5 2147.0L1297.2 2149.3L1299.9 2152.6L1302.8 2156.1L1304.7 2158.3L1308.0 2161.9L1310.8 2164.9L1313.0 2167.0L1317.4 2171.3L1319.8 2173.4L1324.7 2177.5L1327.2 2179.5L1332.5 2183.4L1335.7 2185.6L1341.1 2189.1L1347.2 2192.7L1352.9 2195.8L1356.9 2197.8L1363.8 2201.1L1370.9 2204.3L1378.4 2207.3L1386.1 2210.2L1394.0 2213.0L1398.1 2214.3L1406.4 2216.9L1414.8 2219.5L1423.4 2221.9L1427.8 2223.1L1436.7 2225.4L1445.6 2227.7L1450.2 2228.8L1450.2 2228.8" stroke="#00e6ff"/>
<path d="M1248.9 2317.3L1245.5 2313.1L1243.4 2310.6L1239.0 2305.7L1236.8 2303.2L1233.1 2299.2L1230.0 2296.0L1226.6 2292.6L1222.8 2288.9L1219.2 2285.6L1215.2 2282.1L1210.5 2278.1L1207.2 2275.4L1201.7 2271.1L1198.9 2269.0L1193.1 2264.8L1187.1 2260.7L1184.1 2258.7L1177.9 2254.7L1171.5 2250.8L1164.9 2247.0L1158.9 2243.7L1154.7 2241.4L1147.7 2237.8L1140.5 2234.3L1133.2 2230.8L1125.7 2227.4L1118.1 2224.0L1110.3 2220.7L1106.4 2219.1L1098.4 2215.9L1090.3 2212.7L1082.1 2209.6L1073.8 2206.5L1069.0 2204.8L1061.1 2202.0L1052.6 2199.0L1043.9 2196.0L1039.5 2194.5L1030.8 2191.6L1021.9 2188.7L1017.4 2187.2L1008.5 2184.4L999.5 2181.5L994.9 2180.1L985.8 2177.2L980.3 2175.5L976.6 2174.4" stroke="#00ffdd"/>
<path d="M1290.3 2082.2L1292.0 2084.5L1293.6 2086.6L1296.2 2090.0L1298.6 2093.1L1300.4 2095.3L1302.5 2098.0L1305.6 2101.8L1307.4 2103.9L1309.5 2106.3L1313.0 2110.3L1314.9 2112.4L1317.2 2115.0L1320.8 2118.8L1322.8 2120.9L1326.0 2124.1L1329.0 2127.1L1331.1 2129.2L1335.5 2133.3L1337.8 2135.3L1342.2 2139.2L1344.7 2141.4L1348.9 2144.8L1352.0 2147.3L1356.5 2150.8L1359.6 2153.1L1364.9 2156.9L1367.6 2158.8L1373.2 2162.5L1377.0 2164.9L1381.9 2167.9L1387.9 2171.4L1392.8 2174.2L1397.2 2176.6L1403.7 2179.9L1410.3 2183.2L1417.1 2186.4L1424.1 2189.5L1427.7 2191.1L1434.8 2194.1L1442.2 2197.0L1449.7 2199.9L1453.5 2201.3L1461.3 2204.0L1469.1 2206.7L1477.1 2209.4L1485.2 2211.9L1485.2 2211.9" stroke="#00ffdd"/>
<path d="M1199.3 2293.4L1196.2 2290.8L1190.8 2286.3L1188.0 2284.1L1182.4 2279.8L1177.4 2276.1L1173.8 2273.4L1167.8 2269.3L1161.7 2265.2L1158.5 2263.2L1152.2 2259.2L1145.7 2255.3L1139.1 2251.5L1132.7 2248.0L1128.8 2245.9L1121.8 2242.2L1114.7 2238.6L1107.4 2235.1L1100.0 2231.6L1092.5 2228.1L1084.8 2224.7L1077.1 2221.4L1073.2 2219.7L1065.2 2216.4L1057.2 2213.2L1049.1 2210.0L1040.8 2206.8L1033.9 2204.2L1028.3 2202.1L1019.8 2199.0L1011.3 2196.0L1005.9 2194.0L998.4 2191.4L989.6 2188.4L982.0 2185.8L976.4 2183.9L967.5 2180.9L963.1 2179.4" stroke="#00ffa4"/>
<path d="M1319.4 2093.0L1321.7 2095.4L1323.6 2097.5L1327.6 2101.6L1329.6 2103.6L1332.2 2106.2L1335.8 2109.8L1337.9 2111.8L1342.1 2115.7L1344.5 2117.8L1347.7 2120.7L1351.2 2123.8L1353.8 2125.9L1358.3 2129.7L1360.8 2131.6L1365.7 2135.5L1368.2 2137.4L1373.3 2141.2L1376.6 2143.5L1381.3 2146.8L1386.8 2150.4L1389.6 2152.2L1395.4 2155.8L1399.6 2158.4L1404.2 2161.1L1410.3 2164.5L1416.6 2167.9L1419.7 2169.6L1426.2 2172.9L1432.8 2176.1L1439.6 2179.3L1446.5 2182.3L1453.5 2185.4L1457.1 2186.9L1464.3 2189.8L1471.7 2192.7L1479.2 2195.5L1485.2 2197.7L1490.7 2199.7L1498.5 2202.3L1502.4 2203.7" stroke="#00ffa4"/>
<path d="M1406.5 2125.0L1411.0 2128.0L1416.5 2131.6L1419.3 2133.3L1425.0 2136.8L1429.4 2139.5L1433.7 2142.0L1439.7 2145.4L1445.0 2148.3L1448.9 2150.4L1455.2 2153.6L1461.5 2156.9L1466.9 2159.5L1471.3 2161.6L1478.0 2164.7L1484.8 2167.8L1491.7 2170.8L1498.7 2173.8L1505.8 2176.7L1513.0 2179.6L1520.3 2182.4L1527.7 2185.2L1535.2 2187.9L1535.2 2187.9" stroke="#00ff6b"/>
</g>
<path d="M1257.6 2321.5L962.6 2179.6L1257.1 2070.0L1553.3 2179.2Z" fill="none" stroke="#111" stroke-width="1.5" stroke-linejoin="round"/>
<g stroke="#0a0c18" stroke-width="1.3" stroke-linejoin="round">
<path d="M1257.2 1913.3L1269.8 1904.1L1257.1 1903.9L1244.5 1912.9Z" fill="#00f0ff"/>
<path d="M1244.6 1922.1L1257.2 1913.3L1244.5 1912.9L1231.9 1921.5Z" fill="#00d6ff"/>
<path d="M1269.9 1913.8L1282.5 1904.4L1269.8 1904.1L1257.2 1913.3Z" fill="#00fffb"/>
<path d="M1232.0 1930.3L1244.6 1922.1L1231.9 1921.5L1219.3 1929.7Z" fill="#00beff"/>
<path d="M1257.3 1922.7L1269.9 1913.8L1257.2 1913.3L1244.6 1922.1Z" fill="#00e8ff"/>
<path d="M1282.6 1914.4L1295.3 1904.9L1282.5 1904.4L1269.9 1913.8Z" fill="#00ffeb"/>
<path d="M1219.4 1938.1L1232.0 1930.3L1219.3 1929.7L1206.7 1937.3Z" fill="#00a8ff"/>
<path d="M1244.6 1931.1L1257.3 1922.7L1244.6 1922.1L1232.0 1930.3Z" fill="#00cfff"/>
<path d="M1270.0 1923.5L1282.6 1914.4L1269.9 1913.8L1257.3 1922.7Z" fill="#00f9ff"/>
<path d="M1295.4 1915.2L1308.1 1905.5L1295.3 1904.9L1282.6 1914.4Z" fill="#00ffdc"/>
<path d="M1206.8 1945.4L1219.4 1938.1L1206.7 1937.3L1194.2 1944.4Z" fill="#0096ff"/>
<path d="M1232.0 1939.0L1244.6 1931.1L1232.0 1930.3L1219.4 1938.1Z" fill="#00b9ff"/>
<path d="M1257.3 1932.0L1270.0 1923.5L1257.3 1922.7L1244.6 1931.1Z" fill="#00e0ff"/>
<path d="M1282.7 1924.4L1295.4 1915.2L1282.6 1914.4L1270.0 1923.5Z" fill="#00fff6"/>
<path d="M1308.1 1916.1L1320.8 1906.3L1308.1 1905.5L1295.4 1915.2Z" fill="#00ffcd"/>
<path d="M1194.3 1952.2L1206.8 1945.4L1194.2 1944.4L1181.6 1951.1Z" fill="#0086ff"/>
<path d="M1219.5 1946.5L1232.0 1939.0L1219.4 1938.1L1206.8 1945.4Z" fill="#00a6ff"/>
<path d="M1244.7 1940.1L1257.3 1932.0L1244.6 1931.1L1232.0 1939.0Z" fill="#00caff"/>
<path d="M1270.0 1933.1L1282.7 1924.4L1270.0 1923.5L1257.3 1932.0Z" fill="#00f0ff"/>
<path d="M1295.4 1925.4L1308.1 1916.1L1295.4 1915.2L1282.7 1924.4Z" fill="#00ffe7"/>
<path d="M1320.9 1917.1L1333.6 1907.1L1320.8 1906.3L1308.1 1916.1Z" fill="#00ffbf"/>
<path d="M1181.7 1958.4L1194.3 1952.2L1181.6 1951.1L1169.1 1957.2Z" fill="#0079ff"/>
<path d="M1206.9 1953.4L1219.5 1946.5L1206.8 1945.4L1194.3 1952.2Z" fill="#0096ff"/>
<path d="M1232.1 1947.7L1244.7 1940.1L1232.0 1939.0L1219.5 1946.5Z" fill="#00b6ff"/>
<path d="M1257.4 1941.3L1270.0 1933.1L1257.3 1932.0L1244.7 1940.1Z" fill="#00d9ff"/>
<path d="M1282.7 1934.3L1295.4 1925.4L1282.7 1924.4L1270.0 1933.1Z" fill="#00ffff"/>
<path d="M1308.1 1926.6L1320.9 1917.1L1308.1 1916.1L1295.4 1925.4Z" fill="#00ffda"/>
<path d="M1333.6 1918.2L1346.4 1908.1L1333.6 1907.1L1320.9 1917.1Z" fill="#00ffb2"/>
<path d="M1169.2 1964.2L1181.7 1958.4L1169.1 1957.2L1156.6 1962.8Z" fill="#006fff"/>
<path d="M1194.3 1959.8L1206.9 1953.4L1194.3 1952.2L1181.7 1958.4Z" fill="#0088ff"/>
<path d="M1219.5 1954.7L1232.1 1947.7L1219.5 1946.5L1206.9 1953.4Z" fill="#00a5ff"/>
<path d="M1244.8 1949.0L1257.4 1941.3L1244.7 1940.1L1232.1 1947.7Z" fill="#00c5ff"/>
<path d="M1270.1 1942.6L1282.7 1934.3L1270.0 1933.1L1257.4 1941.3Z" fill="#00e8ff"/>
<path d="M1295.5 1935.6L1308.1 1926.6L1295.4 1925.4L1282.7 1934.3Z" fill="#00fff2"/>
<path d="M1320.9 1927.9L1333.6 1918.2L1320.9 1917.1L1308.1 1926.6Z" fill="#00ffcd"/>
<path d="M1346.4 1919.5L1359.2 1909.2L1346.4 1908.1L1333.6 1918.2Z" fill="#00ffa6"/>
<path d="M1156.6 1969.5L1169.2 1964.2L1156.6 1962.8L1144.0 1967.9Z" fill="#0067ff"/>
<path d="M1181.8 1965.7L1194.3 1959.8L1181.7 1958.4L1169.2 1964.2Z" fill="#007eff"/>
<path d="M1206.9 1961.3L1219.5 1954.7L1206.9 1953.4L1194.3 1959.8Z" fill="#0097ff"/>
<path d="M1232.2 1956.2L1244.8 1949.0L1232.1 1947.7L1219.5 1954.7Z" fill="#00b4ff"/>
<path d="M1257.5 1950.5L1270.1 1942.6L1257.4 1941.3L1244.8 1949.0Z" fill="#00d3ff"/>
<path d="M1282.8 1944.1L1295.5 1935.6L1282.7 1934.3L1270.1 1942.6Z" fill="#00f6ff"/>
<path d="M1308.2 1937.0L1320.9 1927.9L1308.1 1926.6L1295.5 1935.6Z" fill="#00ffe6"/>
<path d="M1333.7 1929.3L1346.4 1919.5L1333.6 1918.2L1320.9 1927.9Z" fill="#00ffc1"/>
<path d="M1359.2 1920.9L1372.0 1910.5L1359.2 1909.2L1346.4 1919.5Z" fill="#00ff9a"/>
<path d="M1144.0 1974.2L1156.6 1969.5L1144.0 1967.9L1131.5 1972.5Z" fill="#0062ff"/>
<path d="M1169.2 1971.1L1181.8 1965.7L1169.2 1964.2L1156.6 1969.5Z" fill="#0076ff"/>
<path d="M1194.4 1967.4L1206.9 1961.3L1194.3 1959.8L1181.8 1965.7Z" fill="#008cff"/>
<path d="M1219.6 1962.9L1232.2 1956.2L1219.5 1954.7L1206.9 1961.3Z" fill="#00a5ff"/>
<path d="M1244.8 1957.9L1257.5 1950.5L1244.8 1949.0L1232.2 1956.2Z" fill="#00c1ff"/>
<path d="M1270.1 1952.1L1282.8 1944.1L1270.1 1942.6L1257.5 1950.5Z" fill="#00e0ff"/>
<path d="M1295.5 1945.7L1308.2 1937.0L1295.5 1935.6L1282.8 1944.1Z" fill="#00fffc"/>
<path d="M1320.9 1938.6L1333.7 1929.3L1320.9 1927.9L1308.2 1937.0Z" fill="#00ffda"/>
<path d="M1346.4 1930.9L1359.2 1920.9L1346.4 1919.5L1333.7 1929.3Z" fill="#00ffb6"/>
<path d="M1372.0 1922.5L1384.8 1911.9L1372.0 1910.5L1359.2 1920.9Z" fill="#00ff8f"/>
<path d="M1131.5 1978.3L1144.0 1974.2L1131.5 1972.5L1118.9 1976.6Z" fill="#0060ff"/>
<path d="M1156.6 1975.9L1169.2 1971.1L1156.6 1969.5L1144.0 1974.2Z" fill="#0070ff"/>
<path d="M1181.8 1972.9L1194.4 1967.4L1181.8 1965.7L1169.2 1971.1Z" fill="#0084ff"/>
<path d="M1207.0 1969.1L1219.6 1962.9L1206.9 1961.3L1194.4 1967.4Z" fill="#0099ff"/>
<path d="M1232.2 1964.7L1244.8 1957.9L1232.2 1956.2L1219.6 1962.9Z" fill="#00b2ff"/>
<path d="M1257.5 1959.6L1270.1 1952.1L1257.5 1950.5L1244.8 1957.9Z" fill="#00ceff"/>
<path d="M1282.8 1953.9L1295.5 1945.7L1282.8 1944.1L1270.1 1952.1Z" fill="#00edff"/>
<path d="M1308.2 1947.4L1320.9 1938.6L1308.2 1937.0L1295.5 1945.7Z" fill="#00fff1"/>
<path d="M1333.7 1940.4L1346.4 1930.9L1333.7 1929.3L1320.9 1938.6Z" fill="#00ffcf"/>
<path d="M1359.2 1932.6L1372.0 1922.5L1359.2 1920.9L1346.4 1930.9Z" fill="#00ffac"/>
<path d="M1384.8 1924.2L1397.6 1913.4L1384.8 1911.9L1372.0 1922.5Z" fill="#00ff85"/>
<path d="M1118.9 1982.0L1131.5 1978.3L1118.9 1976.6L1106.3 1980.1Z" fill="#0061ff"/>
<path d="M1144.0 1980.3L1156.6 1975.9L1144.0 1974.2L1131.5 1978.3Z" fill="#006eff"/>
<path d="M1169.2 1977.9L1181.8 1972.9L1169.2 1971.1L1156.6 1975.9Z" fill="#007eff"/>
<path d="M1194.4 1974.8L1207.0 1969.1L1194.4 1967.4L1181.8 1972.9Z" fill="#0090ff"/>
<path d="M1219.6 1971.0L1232.2 1964.7L1219.6 1962.9L1207.0 1969.1Z" fill="#00a6ff"/>
<path d="M1244.9 1966.6L1257.5 1959.6L1244.8 1957.9L1232.2 1964.7Z" fill="#00bfff"/>
<path d="M1270.2 1961.5L1282.8 1953.9L1270.1 1952.1L1257.5 1959.6Z" fill="#00daff"/>
<path d="M1295.6 1955.8L1308.2 1947.4L1295.5 1945.7L1282.8 1953.9Z" fill="#00f9ff"/>
<path d="M1321.0 1949.3L1333.7 1940.4L1320.9 1938.6L1308.2 1947.4Z" fill="#00ffe6"/>
<path d="M1346.4 1942.2L1359.2 1932.6L1346.4 1930.9L1333.7 1940.4Z" fill="#00ffc5"/>
<path d="M1372.0 1934.5L1384.8 1924.2L1372.0 1922.5L1359.2 1932.6Z" fill="#00ffa2"/>
<path d="M1397.6 1926.0L1410.5 1915.1L1397.6 1913.4L1384.8 1924.2Z" fill="#00ff7b"/>
<path d="M1106.3 1985.1L1118.9 1982.0L1106.3 1980.1L1093.7 1983.0Z" fill="#0065ff"/>
<path d="M1131.5 1984.0L1144.0 1980.3L1131.5 1978.3L1118.9 1982.0Z" fill="#006eff"/>
<path d="M1156.6 1982.3L1169.2 1977.9L1156.6 1975.9L1144.0 1980.3Z" fill="#007bff"/>
<path d="M1181.8 1979.9L1194.4 1974.8L1181.8 1972.9L1169.2 1977.9Z" fill="#008aff"/>
<path d="M1207.0 1976.8L1219.6 1971.0L1207.0 1969.1L1194.4 1974.8Z" fill="#009dff"/>
<path d="M1232.3 1973.1L1244.9 1966.6L1232.2 1964.7L1219.6 1971.0Z" fill="#00b2ff"/>
<path d="M1257.6 1968.7L1270.2 1961.5L1257.5 1959.6L1244.9 1966.6Z" fill="#00caff"/>
<path d="M1282.9 1963.6L1295.6 1955.8L1282.8 1953.9L1270.2 1961.5Z" fill="#00e5ff"/>
<path d="M1308.3 1957.8L1321.0 1949.3L1308.2 1947.4L1295.6 1955.8Z" fill="#00fffb"/>
<path d="M1333.7 1951.4L1346.4 1942.2L1333.7 1940.4L1321.0 1949.3Z" fill="#00ffdd"/>
<path d="M1359.2 1944.2L1372.0 1934.5L1359.2 1932.6L1346.4 1942.2Z" fill="#00ffbc"/>
<path d="M1384.8 1936.5L1397.6 1926.0L1384.8 1924.2L1372.0 1934.5Z" fill="#00ff99"/>
<path d="M1410.4 1928.0L1423.3 1917.0L1410.5 1915.1L1397.6 1926.0Z" fill="#00ff73"/>
<path d="M1093.7 1987.6L1106.3 1985.1L1093.7 1983.0L1081.1 1985.4Z" fill="#006bff"/>
<path d="M1118.9 1987.3L1131.5 1984.0L1118.9 1982.0L1106.3 1985.1Z" fill="#0071ff"/>
<path d="M1144.1 1986.2L1156.6 1982.3L1144.0 1980.3L1131.5 1984.0Z" fill="#007bff"/>
<path d="M1169.2 1984.5L1181.8 1979.9L1169.2 1977.9L1156.6 1982.3Z" fill="#0087ff"/>
<path d="M1194.5 1982.1L1207.0 1976.8L1194.4 1974.8L1181.8 1979.9Z" fill="#0096ff"/>
<path d="M1219.7 1979.0L1232.3 1973.1L1219.6 1971.0L1207.0 1976.8Z" fill="#00a8ff"/>
<path d="M1245.0 1975.3L1257.6 1968.7L1244.9 1966.6L1232.3 1973.1Z" fill="#00bdff"/>
<path d="M1270.3 1970.9L1282.9 1963.6L1270.2 1961.5L1257.6 1968.7Z" fill="#00d5ff"/>
<path d="M1295.6 1965.8L1308.3 1957.8L1295.6 1955.8L1282.9 1963.6Z" fill="#00f0ff"/>
<path d="M1321.0 1960.0L1333.7 1951.4L1321.0 1949.3L1308.3 1957.8Z" fill="#00fff2"/>
<path d="M1346.4 1953.5L1359.2 1944.2L1346.4 1942.2L1333.7 1951.4Z" fill="#00ffd4"/>
<path d="M1372.0 1946.4L1384.8 1936.5L1372.0 1934.5L1359.2 1944.2Z" fill="#00ffb4"/>
<path d="M1397.5 1938.6L1410.4 1928.0L1397.6 1926.0L1384.8 1936.5Z" fill="#00ff91"/>
<path d="M1423.2 1930.2L1436.1 1918.9L1423.3 1917.0L1410.4 1928.0Z" fill="#00ff6b"/>
<path d="M1081.0 1989.6L1093.7 1987.6L1081.1 1985.4L1068.5 1987.3Z" fill="#0074ff"/>
<path d="M1106.3 1989.9L1118.9 1987.3L1106.3 1985.1L1093.7 1987.6Z" fill="#0077ff"/>
<path d="M1131.5 1989.6L1144.1 1986.2L1131.5 1984.0L1118.9 1987.3Z" fill="#007dff"/>
<path d="M1156.7 1988.5L1169.2 1984.5L1156.6 1982.3L1144.1 1986.2Z" fill="#0086ff"/>
<path d="M1181.9 1986.8L1194.5 1982.1L1181.8 1979.9L1169.2 1984.5Z" fill="#0092ff"/>
<path d="M1207.1 1984.5L1219.7 1979.0L1207.0 1976.8L1194.5 1982.1Z" fill="#00a1ff"/>
<path d="M1232.3 1981.4L1245.0 1975.3L1232.3 1973.1L1219.7 1979.0Z" fill="#00b3ff"/>
<path d="M1257.6 1977.6L1270.3 1970.9L1257.6 1968.7L1245.0 1975.3Z" fill="#00c7ff"/>
<path d="M1282.9 1973.2L1295.6 1965.8L1282.9 1963.6L1270.3 1970.9Z" fill="#00dfff"/>
<path d="M1308.3 1968.1L1321.0 1960.0L1308.3 1957.8L1295.6 1965.8Z" fill="#00f9ff"/>
<path d="M1333.7 1962.3L1346.4 1953.5L1333.7 1951.4L1321.0 1960.0Z" fill="#00ffe9"/>
<path d="M1359.2 1955.8L1372.0 1946.4L1359.2 1944.2L1346.4 1953.5Z" fill="#00ffcc"/>
<path d="M1384.7 1948.7L1397.5 1938.6L1384.8 1936.5L1372.0 1946.4Z" fill="#00ffac"/>
<path d="M1410.3 1940.9L1423.2 1930.2L1410.4 1928.0L1397.5 1938.6Z" fill="#00ff89"/>
<path d="M1436.0 1932.5L1449.0 1921.1L1436.1 1918.9L1423.2 1930.2Z" fill="#00ff64"/>
<path d="M1068.4 1991.0L1081.0 1989.6L1068.5 1987.3L1055.8 1988.6Z" fill="#0080ff"/>
<path d="M1093.6 1992.0L1106.3 1989.9L1093.7 1987.6L1081.0 1989.6Z" fill="#0080ff"/>
<path d="M1118.8 1992.4L1131.5 1989.6L1118.9 1987.3L1106.3 1989.9Z" fill="#0082ff"/>
<path d="M1144.1 1992.0L1156.7 1988.5L1144.1 1986.2L1131.5 1989.6Z" fill="#0088ff"/>
<path d="M1169.3 1991.0L1181.9 1986.8L1169.2 1984.5L1156.7 1988.5Z" fill="#0091ff"/>
<path d="M1194.5 1989.3L1207.1 1984.5L1194.5 1982.1L1181.9 1986.8Z" fill="#009cff"/>
<path d="M1219.7 1986.9L1232.3 1981.4L1219.7 1979.0L1207.1 1984.5Z" fill="#00abff"/>
<path d="M1245.0 1983.9L1257.6 1977.6L1245.0 1975.3L1232.3 1981.4Z" fill="#00bcff"/>
<path d="M1270.3 1980.1L1282.9 1973.2L1270.3 1970.9L1257.6 1977.6Z" fill="#00d1ff"/>
<path d="M1295.6 1975.7L1308.3 1968.1L1295.6 1965.8L1282.9 1973.2Z" fill="#00e8ff"/>
<path d="M1321.0 1970.6L1333.7 1962.3L1321.0 1960.0L1308.3 1968.1Z" fill="#00fffc"/>
<path d="M1346.4 1964.8L1359.2 1955.8L1346.4 1953.5L1333.7 1962.3Z" fill="#00ffe2"/>
<path d="M1371.9 1958.3L1384.7 1948.7L1372.0 1946.4L1359.2 1955.8Z" fill="#00ffc5"/>
<path d="M1397.5 1951.2L1410.3 1940.9L1397.5 1938.6L1384.7 1948.7Z" fill="#00ffa5"/>
<path d="M1423.1 1943.4L1436.0 1932.5L1423.2 1930.2L1410.3 1940.9Z" fill="#00ff82"/>
<path d="M1448.8 1934.9L1461.8 1923.3L1449.0 1921.1L1436.0 1932.5Z" fill="#00ff5d"/>
<path d="M1055.7 1991.8L1068.4 1991.0L1055.8 1988.6L1043.1 1989.3Z" fill="#008eff"/>
<path d="M1081.0 1993.6L1093.6 1992.0L1081.0 1989.6L1068.4 1991.0Z" fill="#008bff"/>
<path d="M1106.2 1994.6L1118.8 1992.4L1106.3 1989.9L1093.6 1992.0Z" fill="#008aff"/>
<path d="M1131.4 1995.0L1144.1 1992.0L1131.5 1989.6L1118.8 1992.4Z" fill="#008dff"/>
<path d="M1156.7 1994.6L1169.3 1991.0L1156.7 1988.5L1144.1 1992.0Z" fill="#0092ff"/>
<path d="M1181.9 1993.6L1194.5 1989.3L1181.9 1986.8L1169.3 1991.0Z" fill="#009bff"/>
<path d="M1207.1 1991.9L1219.7 1986.9L1207.1 1984.5L1194.5 1989.3Z" fill="#00a6ff"/>
<path d="M1232.4 1989.6L1245.0 1983.9L1232.3 1981.4L1219.7 1986.9Z" fill="#00b4ff"/>
<path d="M1257.7 1986.5L1270.3 1980.1L1257.6 1977.6L1245.0 1983.9Z" fill="#00c5ff"/>
<path d="M1283.0 1982.8L1295.6 1975.7L1282.9 1973.2L1270.3 1980.1Z" fill="#00d9ff"/>
<path d="M1308.3 1978.3L1321.0 1970.6L1308.3 1968.1L1295.6 1975.7Z" fill="#00f0ff"/>
<path d="M1333.7 1973.2L1346.4 1964.8L1333.7 1962.3L1321.0 1970.6Z" fill="#00fff5"/>
<path d="M1359.2 1967.4L1371.9 1958.3L1359.2 1955.8L1346.4 1964.8Z" fill="#00ffdb"/>
<path d="M1384.7 1960.9L1397.5 1951.2L1384.7 1948.7L1371.9 1958.3Z" fill="#00ffbe"/>
<path d="M1410.3 1953.8L1423.1 1943.4L1410.3 1940.9L1397.5 1951.2Z" fill="#00ff9e"/>
<path d="M1435.9 1946.0L1448.8 1934.9L1436.0 1932.5L1423.1 1943.4Z" fill="#00ff7c"/>
<path d="M1461.7 1937.5L1474.6 1925.8L1461.8 1923.3L1448.8 1934.9Z" fill="#00ff58"/>
<path d="M1043.0 1992.1L1055.7 1991.8L1043.1 1989.3L1030.4 1989.4Z" fill="#009fff"/>
<path d="M1068.3 1994.5L1081.0 1993.6L1068.4 1991.0L1055.7 1991.8Z" fill="#0099ff"/>
<path d="M1093.5 1996.3L1106.2 1994.6L1093.6 1992.0L1081.0 1993.6Z" fill="#0095ff"/>
<path d="M1118.8 1997.3L1131.4 1995.0L1118.8 1992.4L1106.2 1994.6Z" fill="#0094ff"/>
<path d="M1144.0 1997.7L1156.7 1994.6L1144.1 1992.0L1131.4 1995.0Z" fill="#0097ff"/>
<path d="M1169.3 1997.4L1181.9 1993.6L1169.3 1991.0L1156.7 1994.6Z" fill="#009cff"/>
<path d="M1194.5 1996.4L1207.1 1991.9L1194.5 1989.3L1181.9 1993.6Z" fill="#00a4ff"/>
<path d="M1219.8 1994.7L1232.4 1989.6L1219.7 1986.9L1207.1 1991.9Z" fill="#00afff"/>
<path d="M1245.0 1992.4L1257.7 1986.5L1245.0 1983.9L1232.4 1989.6Z" fill="#00bcff"/>
<path d="M1270.3 1989.3L1283.0 1982.8L1270.3 1980.1L1257.7 1986.5Z" fill="#00cdff"/>
<path d="M1295.7 1985.5L1308.3 1978.3L1295.6 1975.7L1283.0 1982.8Z" fill="#00e1ff"/>
<path d="M1321.0 1981.1L1333.7 1973.2L1321.0 1970.6L1308.3 1978.3Z" fill="#00f8ff"/>
<path d="M1346.4 1976.0L1359.2 1967.4L1346.4 1964.8L1333.7 1973.2Z" fill="#00ffef"/>
<path d="M1371.9 1970.2L1384.7 1960.9L1371.9 1958.3L1359.2 1967.4Z" fill="#00ffd5"/>
<path d="M1397.4 1963.7L1410.3 1953.8L1397.5 1951.2L1384.7 1960.9Z" fill="#00ffb8"/>
<path d="M1423.0 1956.6L1435.9 1946.0L1423.1 1943.4L1410.3 1953.8Z" fill="#00ff99"/>
<path d="M1448.7 1948.7L1461.7 1937.5L1448.8 1934.9L1435.9 1946.0Z" fill="#00ff77"/>
<path d="M1474.5 1940.3L1487.5 1928.4L1474.6 1925.8L1461.7 1937.5Z" fill="#00ff53"/>
<path d="M1030.2 1991.7L1043.0 1992.1L1030.4 1989.4L1017.7 1989.0Z" fill="#00b3ff"/>
<path d="M1055.6 1994.9L1068.3 1994.5L1055.7 1991.8L1043.0 1992.1Z" fill="#00aaff"/>
<path d="M1080.9 1997.3L1093.5 1996.3L1081.0 1993.6L1068.3 1994.5Z" fill="#00a3ff"/>
<path d="M1106.1 1999.1L1118.8 1997.3L1106.2 1994.6L1093.5 1996.3Z" fill="#009fff"/>
<path d="M1131.4 2000.2L1144.0 1997.7L1131.4 1995.0L1118.8 1997.3Z" fill="#009eff"/>
<path d="M1156.7 2000.6L1169.3 1997.4L1156.7 1994.6L1144.0 1997.7Z" fill="#009fff"/>
<path d="M1181.9 2000.3L1194.5 1996.4L1181.9 1993.6L1169.3 1997.4Z" fill="#00a4ff"/>
<path d="M1207.2 1999.3L1219.8 1994.7L1207.1 1991.9L1194.5 1996.4Z" fill="#00acff"/>
<path d="M1232.4 1997.6L1245.0 1992.4L1232.4 1989.6L1219.8 1994.7Z" fill="#00b6ff"/>
<path d="M1257.7 1995.3L1270.3 1989.3L1257.7 1986.5L1245.0 1992.4Z" fill="#00c4ff"/>
<path d="M1283.0 1992.2L1295.7 1985.5L1283.0 1982.8L1270.3 1989.3Z" fill="#00d4ff"/>
<path d="M1308.4 1988.5L1321.0 1981.1L1308.3 1978.3L1295.7 1985.5Z" fill="#00e8ff"/>
<path d="M1333.7 1984.1L1346.4 1976.0L1333.7 1973.2L1321.0 1981.1Z" fill="#00feff"/>
<path d="M1359.2 1978.9L1371.9 1970.2L1359.2 1967.4L1346.4 1976.0Z" fill="#00ffe9"/>
<path d="M1384.7 1973.1L1397.4 1963.7L1384.7 1960.9L1371.9 1970.2Z" fill="#00ffcf"/>
<path d="M1410.2 1966.7L1423.0 1956.6L1410.3 1953.8L1397.4 1963.7Z" fill="#00ffb3"/>
<path d="M1435.8 1959.5L1448.7 1948.7L1435.9 1946.0L1423.0 1956.6Z" fill="#00ff94"/>
<path d="M1461.5 1951.7L1474.5 1940.3L1461.7 1937.5L1448.7 1948.7Z" fill="#00ff73"/>
<path d="M1487.3 1943.2L1500.3 1931.1L1487.5 1928.4L1474.5 1940.3Z" fill="#00ff4e"/>
<path d="M1017.5 1990.8L1030.2 1991.7L1017.7 1989.0L1004.9 1987.9Z" fill="#00caff"/>
<path d="M1042.8 1994.7L1055.6 1994.9L1043.0 1992.1L1030.2 1991.7Z" fill="#00bdff"/>
<path d="M1068.2 1997.8L1080.9 1997.3L1068.3 1994.5L1055.6 1994.9Z" fill="#00b3ff"/>
<path d="M1093.5 2000.3L1106.1 1999.1L1093.5 1996.3L1080.9 1997.3Z" fill="#00acff"/>
<path d="M1118.8 2002.1L1131.4 2000.2L1118.8 1997.3L1106.1 1999.1Z" fill="#00a7ff"/>
<path d="M1144.0 2003.2L1156.7 2000.6L1144.0 1997.7L1131.4 2000.2Z" fill="#00a6ff"/>
<path d="M1169.3 2003.6L1181.9 2000.3L1169.3 1997.4L1156.7 2000.6Z" fill="#00a8ff"/>
<path d="M1194.5 2003.4L1207.2 1999.3L1194.5 1996.4L1181.9 2000.3Z" fill="#00acff"/>
<path d="M1219.8 2002.4L1232.4 1997.6L1219.8 1994.7L1207.2 1999.3Z" fill="#00b3ff"/>
<path d="M1245.1 2000.7L1257.7 1995.3L1245.0 1992.4L1232.4 1997.6Z" fill="#00beff"/>
<path d="M1270.4 1998.4L1283.0 1992.2L1270.3 1989.3L1257.7 1995.3Z" fill="#00cbff"/>
<path d="M1295.7 1995.3L1308.4 1988.5L1295.7 1985.5L1283.0 1992.2Z" fill="#00dbff"/>
<path d="M1321.1 1991.6L1333.7 1984.1L1321.0 1981.1L1308.4 1988.5Z" fill="#00eeff"/>
<path d="M1346.5 1987.2L1359.2 1978.9L1346.4 1976.0L1333.7 1984.1Z" fill="#00fffb"/>
<path d="M1371.9 1982.0L1384.7 1973.1L1371.9 1970.2L1359.2 1978.9Z" fill="#00ffe4"/>
<path d="M1397.4 1976.2L1410.2 1966.7L1397.4 1963.7L1384.7 1973.1Z" fill="#00ffcb"/>
<path d="M1423.0 1969.8L1435.8 1959.5L1423.0 1956.6L1410.2 1966.7Z" fill="#00ffaf"/>
<path d="M1448.6 1962.6L1461.5 1951.7L1448.7 1948.7L1435.8 1959.5Z" fill="#00ff90"/>
<path d="M1474.3 1954.7L1487.3 1943.2L1474.5 1940.3L1461.5 1951.7Z" fill="#00ff6f"/>
<path d="M1500.1 1946.2L1513.1 1934.0L1500.3 1931.1L1487.3 1943.2Z" fill="#00ff4b"/>
<path d="M1004.6 1989.3L1017.5 1990.8L1004.9 1987.9L992.0 1986.3Z" fill="#00e4ff"/>
<path d="M1030.0 1993.8L1042.8 1994.7L1030.2 1991.7L1017.5 1990.8Z" fill="#00d4ff"/>
<path d="M1055.4 1997.7L1068.2 1997.8L1055.6 1994.9L1042.8 1994.7Z" fill="#00c6ff"/>
<path d="M1080.8 2000.9L1093.5 2000.3L1080.9 1997.3L1068.2 1997.8Z" fill="#00bcff"/>
<path d="M1106.1 2003.5L1118.8 2002.1L1106.1 1999.1L1093.5 2000.3Z" fill="#00b4ff"/>
<path d="M1131.4 2005.3L1144.0 2003.2L1131.4 2000.2L1118.8 2002.1Z" fill="#00afff"/>
<path d="M1156.7 2006.4L1169.3 2003.6L1156.7 2000.6L1144.0 2003.2Z" fill="#00aeff"/>
<path d="M1181.9 2006.8L1194.5 2003.4L1181.9 2000.3L1169.3 2003.6Z" fill="#00afff"/>
<path d="M1207.2 2006.6L1219.8 2002.4L1207.2 1999.3L1194.5 2003.4Z" fill="#00b3ff"/>
<path d="M1232.5 2005.6L1245.1 2000.7L1232.4 1997.6L1219.8 2002.4Z" fill="#00baff"/>
<path d="M1257.7 2004.0L1270.4 1998.4L1257.7 1995.3L1245.1 2000.7Z" fill="#00c4ff"/>
<path d="M1283.1 2001.6L1295.7 1995.3L1283.0 1992.2L1270.4 1998.4Z" fill="#00d1ff"/>
<path d="M1308.4 1998.6L1321.1 1991.6L1308.4 1988.5L1295.7 1995.3Z" fill="#00e1ff"/>
<path d="M1333.8 1994.8L1346.5 1987.2L1333.7 1984.1L1321.1 1991.6Z" fill="#00f3ff"/>
<path d="M1359.2 1990.4L1371.9 1982.0L1359.2 1978.9L1346.5 1987.2Z" fill="#00fff6"/>
<path d="M1384.6 1985.3L1397.4 1976.2L1384.7 1973.1L1371.9 1982.0Z" fill="#00ffe0"/>
<path d="M1410.1 1979.5L1423.0 1969.8L1410.2 1966.7L1397.4 1976.2Z" fill="#00ffc7"/>
<path d="M1435.7 1973.0L1448.6 1962.6L1435.8 1959.5L1423.0 1969.8Z" fill="#00ffab"/>
<path d="M1461.4 1965.8L1474.3 1954.7L1461.5 1951.7L1448.6 1962.6Z" fill="#00ff8d"/>
<path d="M1487.1 1958.0L1500.1 1946.2L1487.3 1943.2L1474.3 1954.7Z" fill="#00ff6c"/>
<path d="M1512.9 1949.5L1526.0 1937.1L1513.1 1934.0L1500.1 1946.2Z" fill="#00ff48"/>
<path d="M991.7 1987.1L1004.6 1989.3L992.0 1986.3L979.1 1984.0Z" fill="#00fffe"/>
<path d="M1017.2 1992.4L1030.0 1993.8L1017.5 1990.8L1004.6 1989.3Z" fill="#00edff"/>
<path d="M1042.7 1997.0L1055.4 1997.7L1042.8 1994.7L1030.0 1993.8Z" fill="#00dcff"/>
<path d="M1068.0 2001.0L1080.8 2000.9L1068.2 1997.8L1055.4 1997.7Z" fill="#00ceff"/>
<path d="M1093.4 2004.2L1106.1 2003.5L1093.5 2000.3L1080.8 2000.9Z" fill="#00c3ff"/>
<path d="M1118.7 2006.7L1131.4 2005.3L1118.8 2002.1L1106.1 2003.5Z" fill="#00bbff"/>
<path d="M1144.0 2008.6L1156.7 2006.4L1144.0 2003.2L1131.4 2005.3Z" fill="#00b6ff"/>
<path d="M1169.3 2009.7L1181.9 2006.8L1169.3 2003.6L1156.7 2006.4Z" fill="#00b4ff"/>
<path d="M1194.6 2010.2L1207.2 2006.6L1194.5 2003.4L1181.9 2006.8Z" fill="#00b5ff"/>
<path d="M1219.8 2009.9L1232.5 2005.6L1219.8 2002.4L1207.2 2006.6Z" fill="#00b9ff"/>
<path d="M1245.1 2009.0L1257.7 2004.0L1245.1 2000.7L1232.5 2005.6Z" fill="#00c0ff"/>
<path d="M1270.4 2007.4L1283.1 2001.6L1270.4 1998.4L1257.7 2004.0Z" fill="#00c9ff"/>
<path d="M1295.7 2005.0L1308.4 1998.6L1295.7 1995.3L1283.1 2001.6Z" fill="#00d6ff"/>
<path d="M1321.1 2002.0L1333.8 1994.8L1321.1 1991.6L1308.4 1998.6Z" fill="#00e5ff"/>
<path d="M1346.5 1998.3L1359.2 1990.4L1346.5 1987.2L1333.8 1994.8Z" fill="#00f8ff"/>
<path d="M1371.9 1993.8L1384.6 1985.3L1371.9 1982.0L1359.2 1990.4Z" fill="#00fff2"/>
<path d="M1397.3 1988.7L1410.1 1979.5L1397.4 1976.2L1384.6 1985.3Z" fill="#00ffdc"/>
<path d="M1422.9 1982.9L1435.7 1973.0L1423.0 1969.8L1410.1 1979.5Z" fill="#00ffc4"/>
<path d="M1448.5 1976.4L1461.4 1965.8L1448.6 1962.6L1435.7 1973.0Z" fill="#00ffa8"/>
<path d="M1474.1 1969.3L1487.1 1958.0L1474.3 1954.7L1461.4 1965.8Z" fill="#00ff8a"/>
<path d="M1499.9 1961.4L1512.9 1949.5L1500.1 1946.2L1487.1 1958.0Z" fill="#00ff6a"/>
<path d="M1525.7 1952.9L1538.8 1940.3L1526.0 1937.1L1512.9 1949.5Z" fill="#00ff46"/>
<path d="M978.8 1984.4L991.7 1987.1L979.1 1984.0L966.2 1981.1Z" fill="#00ffe2"/>
<path d="M1004.4 1990.4L1017.2 1992.4L1004.6 1989.3L991.7 1987.1Z" fill="#00fff6"/>
<path d="M1029.8 1995.7L1042.7 1997.0L1030.0 1993.8L1017.2 1992.4Z" fill="#00f4ff"/>
<path d="M1055.3 2000.4L1068.0 2001.0L1055.4 1997.7L1042.7 1997.0Z" fill="#00e3ff"/>
<path d="M1080.7 2004.3L1093.4 2004.2L1080.8 2000.9L1068.0 2001.0Z" fill="#00d5ff"/>
<path d="M1106.0 2007.6L1118.7 2006.7L1106.1 2003.5L1093.4 2004.2Z" fill="#00caff"/>
<path d="M1131.3 2010.2L1144.0 2008.6L1131.4 2005.3L1118.7 2006.7Z" fill="#00c2ff"/>
<path d="M1156.6 2012.1L1169.3 2009.7L1156.7 2006.4L1144.0 2008.6Z" fill="#00bdff"/>
<path d="M1181.9 2013.2L1194.6 2010.2L1181.9 2006.8L1169.3 2009.7Z" fill="#00baff"/>
<path d="M1207.2 2013.7L1219.8 2009.9L1207.2 2006.6L1194.6 2010.2Z" fill="#00bbff"/>
<path d="M1232.5 2013.5L1245.1 2009.0L1232.5 2005.6L1219.8 2009.9Z" fill="#00beff"/>
<path d="M1257.8 2012.5L1270.4 2007.4L1257.7 2004.0L1245.1 2009.0Z" fill="#00c5ff"/>
<path d="M1283.1 2010.9L1295.7 2005.0L1283.1 2001.6L1270.4 2007.4Z" fill="#00ceff"/>
<path d="M1308.4 2008.6L1321.1 2002.0L1308.4 1998.6L1295.7 2005.0Z" fill="#00daff"/>
<path d="M1333.8 2005.6L1346.5 1998.3L1333.8 1994.8L1321.1 2002.0Z" fill="#00e9ff"/>
<path d="M1359.2 2001.8L1371.9 1993.8L1359.2 1990.4L1346.5 1998.3Z" fill="#00fbff"/>
<path d="M1384.6 1997.4L1397.3 1988.7L1384.6 1985.3L1371.9 1993.8Z" fill="#00ffef"/>
<path d="M1410.1 1992.3L1422.9 1982.9L1410.1 1979.5L1397.3 1988.7Z" fill="#00ffda"/>
<path d="M1435.6 1986.5L1448.5 1976.4L1435.7 1973.0L1422.9 1982.9Z" fill="#00ffc1"/>
<path d="M1461.2 1980.0L1474.1 1969.3L1461.4 1965.8L1448.5 1976.4Z" fill="#00ffa6"/>
<path d="M1486.9 1972.8L1499.9 1961.4L1487.1 1958.0L1474.1 1969.3Z" fill="#00ff88"/>
<path d="M1512.6 1965.0L1525.7 1952.9L1512.9 1949.5L1499.9 1961.4Z" fill="#00ff68"/>
<path d="M1538.5 1956.4L1551.6 1943.7L1538.8 1940.3L1525.7 1952.9Z" fill="#00ff45"/>
<path d="M965.9 1981.0L978.8 1984.4L966.2 1981.1L953.2 1977.7Z" fill="#00ffc3"/>
<path d="M991.5 1987.7L1004.4 1990.4L991.7 1987.1L978.8 1984.4Z" fill="#00ffdb"/>
<path d="M1017.0 1993.8L1029.8 1995.7L1017.2 1992.4L1004.4 1990.4Z" fill="#00fff0"/>
<path d="M1042.5 1999.2L1055.3 2000.4L1042.7 1997.0L1029.8 1995.7Z" fill="#00fcff"/>
<path d="M1067.9 2003.9L1080.7 2004.3L1068.0 2001.0L1055.3 2000.4Z" fill="#00eaff"/>
<path d="M1093.3 2007.9L1106.0 2007.6L1093.4 2004.2L1080.7 2004.3Z" fill="#00dcff"/>
<path d="M1118.6 2011.2L1131.3 2010.2L1118.7 2006.7L1106.0 2007.6Z" fill="#00d0ff"/>
<path d="M1144.0 2013.8L1156.6 2012.1L1144.0 2008.6L1131.3 2010.2Z" fill="#00c8ff"/>
<path d="M1169.3 2015.7L1181.9 2013.2L1169.3 2009.7L1156.6 2012.1Z" fill="#00c2ff"/>
<path d="M1194.6 2016.9L1207.2 2013.7L1194.6 2010.2L1181.9 2013.2Z" fill="#00bfff"/>
<path d="M1219.9 2017.4L1232.5 2013.5L1219.8 2009.9L1207.2 2013.7Z" fill="#00c0ff"/>
<path d="M1245.1 2017.2L1257.8 2012.5L1245.1 2009.0L1232.5 2013.5Z" fill="#00c3ff"/>
<path d="M1270.4 2016.3L1283.1 2010.9L1270.4 2007.4L1257.8 2012.5Z" fill="#00c9ff"/>
<path d="M1295.8 2014.6L1308.4 2008.6L1295.7 2005.0L1283.1 2010.9Z" fill="#00d2ff"/>
<path d="M1321.1 2012.3L1333.8 2005.6L1321.1 2002.0L1308.4 2008.6Z" fill="#00deff"/>
<path d="M1346.5 2009.3L1359.2 2001.8L1346.5 1998.3L1333.8 2005.6Z" fill="#00ecff"/>
<path d="M1371.9 2005.6L1384.6 1997.4L1371.9 1993.8L1359.2 2001.8Z" fill="#00feff"/>
<path d="M1397.3 2001.2L1410.1 1992.3L1397.3 1988.7L1384.6 1997.4Z" fill="#00ffed"/>
<path d="M1422.8 1996.1L1435.6 1986.5L1422.9 1982.9L1410.1 1992.3Z" fill="#00ffd8"/>
<path d="M1448.3 1990.3L1461.2 1980.0L1448.5 1976.4L1435.6 1986.5Z" fill="#00ffbf"/>
<path d="M1474.0 1983.8L1486.9 1972.8L1474.1 1969.3L1461.2 1980.0Z" fill="#00ffa5"/>
<path d="M1499.6 1976.6L1512.6 1965.0L1499.9 1961.4L1486.9 1972.8Z" fill="#00ff87"/>
<path d="M1525.4 1968.7L1538.5 1956.4L1525.7 1952.9L1512.6 1965.0Z" fill="#00ff67"/>
<path d="M1551.3 1960.2L1564.4 1947.2L1551.6 1943.7L1538.5 1956.4Z" fill="#00ff44"/>
<path d="M978.5 1984.5L991.5 1987.7L978.8 1984.4L965.9 1981.0Z" fill="#00ffbc"/>
<path d="M1004.1 1991.3L1017.0 1993.8L1004.4 1990.4L991.5 1987.7Z" fill="#00ffd4"/>
<path d="M1029.6 1997.4L1042.5 1999.2L1029.8 1995.7L1017.0 1993.8Z" fill="#00ffea"/>
<path d="M1055.1 2002.8L1067.9 2003.9L1055.3 2000.4L1042.5 1999.2Z" fill="#00fffc"/>
<path d="M1080.5 2007.5L1093.3 2007.9L1080.7 2004.3L1067.9 2003.9Z" fill="#00f0ff"/>
<path d="M1105.9 2011.6L1118.6 2011.2L1106.0 2007.6L1093.3 2007.9Z" fill="#00e1ff"/>
<path d="M1131.3 2014.9L1144.0 2013.8L1131.3 2010.2L1118.6 2011.2Z" fill="#00d6ff"/>
<path d="M1156.6 2017.5L1169.3 2015.7L1156.6 2012.1L1144.0 2013.8Z" fill="#00cdff"/>
<path d="M1181.9 2019.5L1194.6 2016.9L1181.9 2013.2L1169.3 2015.7Z" fill="#00c7ff"/>
<path d="M1207.2 2020.7L1219.9 2017.4L1207.2 2013.7L1194.6 2016.9Z" fill="#00c4ff"/>
<path d="M1232.5 2021.2L1245.1 2017.2L1232.5 2013.5L1219.9 2017.4Z" fill="#00c4ff"/>
<path d="M1257.8 2021.0L1270.4 2016.3L1257.8 2012.5L1245.1 2017.2Z" fill="#00c6ff"/>
<path d="M1283.1 2020.1L1295.8 2014.6L1283.1 2010.9L1270.4 2016.3Z" fill="#00ccff"/>
<path d="M1308.4 2018.5L1321.1 2012.3L1308.4 2008.6L1295.8 2014.6Z" fill="#00d5ff"/>
<path d="M1333.8 2016.2L1346.5 2009.3L1333.8 2005.6L1321.1 2012.3Z" fill="#00e0ff"/>
<path d="M1359.1 2013.2L1371.9 2005.6L1359.2 2001.8L1346.5 2009.3Z" fill="#00efff"/>
<path d="M1384.6 2009.5L1397.3 2001.2L1384.6 1997.4L1371.9 2005.6Z" fill="#00fffe"/>
<path d="M1410.0 2005.1L1422.8 1996.1L1410.1 1992.3L1397.3 2001.2Z" fill="#00ffeb"/>
<path d="M1435.5 2000.0L1448.3 1990.3L1435.6 1986.5L1422.8 1996.1Z" fill="#00ffd6"/>
<path d="M1461.1 1994.2L1474.0 1983.8L1461.2 1980.0L1448.3 1990.3Z" fill="#00ffbf"/>
<path d="M1486.7 1987.7L1499.6 1976.6L1486.9 1972.8L1474.0 1983.8Z" fill="#00ffa4"/>
<path d="M1512.4 1980.5L1525.4 1968.7L1512.6 1965.0L1499.6 1976.6Z" fill="#00ff87"/>
<path d="M1538.2 1972.6L1551.3 1960.2L1538.5 1956.4L1525.4 1968.7Z" fill="#00ff67"/>
<path d="M991.1 1988.1L1004.1 1991.3L991.5 1987.7L978.5 1984.5Z" fill="#00ffb6"/>
<path d="M1016.7 1995.0L1029.6 1997.4L1017.0 1993.8L1004.1 1991.3Z" fill="#00ffcf"/>
<path d="M1042.3 2001.1L1055.1 2002.8L1042.5 1999.2L1029.6 1997.4Z" fill="#00ffe4"/>
<path d="M1067.8 2006.6L1080.5 2007.5L1067.9 2003.9L1055.1 2002.8Z" fill="#00fff7"/>
<path d="M1093.2 2011.4L1105.9 2011.6L1093.3 2007.9L1080.5 2007.5Z" fill="#00f5ff"/>
<path d="M1118.6 2015.4L1131.3 2014.9L1118.6 2011.2L1105.9 2011.6Z" fill="#00e6ff"/>
<path d="M1143.9 2018.8L1156.6 2017.5L1144.0 2013.8L1131.3 2014.9Z" fill="#00daff"/>
<path d="M1169.3 2021.5L1181.9 2019.5L1169.3 2015.7L1156.6 2017.5Z" fill="#00d1ff"/>
<path d="M1194.6 2023.4L1207.2 2020.7L1194.6 2016.9L1181.9 2019.5Z" fill="#00cbff"/>
<path d="M1219.9 2024.7L1232.5 2021.2L1219.9 2017.4L1207.2 2020.7Z" fill="#00c7ff"/>
<path d="M1245.2 2025.2L1257.8 2021.0L1245.1 2017.2L1232.5 2021.2Z" fill="#00c7ff"/>
<path d="M1270.5 2025.0L1283.1 2020.1L1270.4 2016.3L1257.8 2021.0Z" fill="#00c9ff"/>
<path d="M1295.8 2024.2L1308.4 2018.5L1295.8 2014.6L1283.1 2020.1Z" fill="#00cfff"/>
<path d="M1321.1 2022.6L1333.8 2016.2L1321.1 2012.3L1308.4 2018.5Z" fill="#00d7ff"/>
<path d="M1346.5 2020.3L1359.1 2013.2L1346.5 2009.3L1333.8 2016.2Z" fill="#00e2ff"/>
<path d="M1371.8 2017.3L1384.6 2009.5L1371.9 2005.6L1359.1 2013.2Z" fill="#00f0ff"/>
<path d="M1397.2 2013.6L1410.0 2005.1L1397.3 2001.2L1384.6 2009.5Z" fill="#00fffd"/>
<path d="M1422.7 2009.2L1435.5 2000.0L1422.8 1996.1L1410.0 2005.1Z" fill="#00ffeb"/>
<path d="M1448.2 2004.1L1461.1 1994.2L1448.3 1990.3L1435.5 2000.0Z" fill="#00ffd6"/>
<path d="M1473.8 1998.3L1486.7 1987.7L1474.0 1983.8L1461.1 1994.2Z" fill="#00ffbe"/>
<path d="M1499.4 1991.8L1512.4 1980.5L1499.6 1976.6L1486.7 1987.7Z" fill="#00ffa4"/>
<path d="M1525.1 1984.6L1538.2 1972.6L1525.4 1968.7L1512.4 1980.5Z" fill="#00ff87"/>
<path d="M1003.8 1991.9L1016.7 1995.0L1004.1 1991.3L991.1 1988.1Z" fill="#00ffb1"/>
<path d="M1029.4 1998.8L1042.3 2001.1L1029.6 1997.4L1016.7 1995.0Z" fill="#00ffca"/>
<path d="M1054.9 2005.0L1067.8 2006.6L1055.1 2002.8L1042.3 2001.1Z" fill="#00ffe0"/>
<path d="M1080.4 2010.5L1093.2 2011.4L1080.5 2007.5L1067.8 2006.6Z" fill="#00fff3"/>
<path d="M1105.8 2015.3L1118.6 2015.4L1105.9 2011.6L1093.2 2011.4Z" fill="#00faff"/>
<path d="M1131.2 2019.4L1143.9 2018.8L1131.3 2014.9L1118.6 2015.4Z" fill="#00eaff"/>
<path d="M1156.6 2022.9L1169.3 2021.5L1156.6 2017.5L1143.9 2018.8Z" fill="#00deff"/>
<path d="M1181.9 2025.5L1194.6 2023.4L1181.9 2019.5L1169.3 2021.5Z" fill="#00d4ff"/>
<path d="M1207.2 2027.5L1219.9 2024.7L1207.2 2020.7L1194.6 2023.4Z" fill="#00ceff"/>
<path d="M1232.5 2028.8L1245.2 2025.2L1232.5 2021.2L1219.9 2024.7Z" fill="#00caff"/>
<path d="M1257.8 2029.4L1270.5 2025.0L1257.8 2021.0L1245.2 2025.2Z" fill="#00c9ff"/>
<path d="M1283.1 2029.2L1295.8 2024.2L1283.1 2020.1L1270.5 2025.0Z" fill="#00cbff"/>
<path d="M1308.4 2028.4L1321.1 2022.6L1308.4 2018.5L1295.8 2024.2Z" fill="#00d0ff"/>
<path d="M1333.8 2026.8L1346.5 2020.3L1333.8 2016.2L1321.1 2022.6Z" fill="#00d8ff"/>
<path d="M1359.1 2024.5L1371.8 2017.3L1359.1 2013.2L1346.5 2020.3Z" fill="#00e3ff"/>
<path d="M1384.5 2021.5L1397.2 2013.6L1384.6 2009.5L1371.8 2017.3Z" fill="#00f1ff"/>
<path d="M1409.9 2017.8L1422.7 2009.2L1410.0 2005.1L1397.2 2013.6Z" fill="#00fffd"/>
<path d="M1435.4 2013.4L1448.2 2004.1L1435.5 2000.0L1422.7 2009.2Z" fill="#00ffeb"/>
<path d="M1460.9 2008.3L1473.8 1998.3L1461.1 1994.2L1448.2 2004.1Z" fill="#00ffd6"/>
<path d="M1486.5 2002.5L1499.4 1991.8L1486.7 1987.7L1473.8 1998.3Z" fill="#00ffbf"/>
<path d="M1512.2 1996.0L1525.1 1984.6L1512.4 1980.5L1499.4 1991.8Z" fill="#00ffa5"/>
<path d="M1016.5 1995.8L1029.4 1998.8L1016.7 1995.0L1003.8 1991.9Z" fill="#00ffad"/>
<path d="M1042.1 2002.8L1054.9 2005.0L1042.3 2001.1L1029.4 1998.8Z" fill="#00ffc6"/>
<path d="M1067.6 2009.1L1080.4 2010.5L1067.8 2006.6L1054.9 2005.0Z" fill="#00ffdc"/>
<path d="M1093.1 2014.6L1105.8 2015.3L1093.2 2011.4L1080.4 2010.5Z" fill="#00fff0"/>
<path d="M1118.5 2019.5L1131.2 2019.4L1118.6 2015.4L1105.8 2015.3Z" fill="#00fdff"/>
<path d="M1143.9 2023.6L1156.6 2022.9L1143.9 2018.8L1131.2 2019.4Z" fill="#00edff"/>
<path d="M1169.2 2027.1L1181.9 2025.5L1169.3 2021.5L1156.6 2022.9Z" fill="#00e1ff"/>
<path d="M1194.6 2029.8L1207.2 2027.5L1194.6 2023.4L1181.9 2025.5Z" fill="#00d7ff"/>
<path d="M1219.9 2031.8L1232.5 2028.8L1219.9 2024.7L1207.2 2027.5Z" fill="#00d0ff"/>
<path d="M1245.2 2033.1L1257.8 2029.4L1245.2 2025.2L1232.5 2028.8Z" fill="#00ccff"/>
<path d="M1270.5 2033.7L1283.1 2029.2L1270.5 2025.0L1257.8 2029.4Z" fill="#00cbff"/>
<path d="M1295.8 2033.6L1308.4 2028.4L1295.8 2024.2L1283.1 2029.2Z" fill="#00ccff"/>
<path d="M1321.1 2032.8L1333.8 2026.8L1321.1 2022.6L1308.4 2028.4Z" fill="#00d1ff"/>
<path d="M1346.4 2031.2L1359.1 2024.5L1346.5 2020.3L1333.8 2026.8Z" fill="#00d9ff"/>
<path d="M1371.8 2028.9L1384.5 2021.5L1371.8 2017.3L1359.1 2024.5Z" fill="#00e3ff"/>
<path d="M1397.2 2026.0L1409.9 2017.8L1397.2 2013.6L1384.5 2021.5Z" fill="#00f1ff"/>
<path d="M1422.6 2022.3L1435.4 2013.4L1422.7 2009.2L1409.9 2017.8Z" fill="#00fffd"/>
<path d="M1448.1 2017.9L1460.9 2008.3L1448.2 2004.1L1435.4 2013.4Z" fill="#00ffeb"/>
<path d="M1473.6 2012.8L1486.5 2002.5L1473.8 1998.3L1460.9 2008.3Z" fill="#00ffd7"/>
<path d="M1499.2 2007.0L1512.2 1996.0L1499.4 1991.8L1486.5 2002.5Z" fill="#00ffc0"/>
<path d="M1029.2 2000.0L1042.1 2002.8L1029.4 1998.8L1016.5 1995.8Z" fill="#00ffa9"/>
<path d="M1054.7 2007.0L1067.6 2009.1L1054.9 2005.0L1042.1 2002.8Z" fill="#00ffc3"/>
<path d="M1080.3 2013.3L1093.1 2014.6L1080.4 2010.5L1067.6 2009.1Z" fill="#00ffd9"/>
<path d="M1105.7 2018.9L1118.5 2019.5L1105.8 2015.3L1093.1 2014.6Z" fill="#00ffed"/>
<path d="M1131.2 2023.8L1143.9 2023.6L1131.2 2019.4L1118.5 2019.5Z" fill="#00fffe"/>
<path d="M1156.6 2028.0L1169.2 2027.1L1156.6 2022.9L1143.9 2023.6Z" fill="#00f0ff"/>
<path d="M1181.9 2031.5L1194.6 2029.8L1181.9 2025.5L1169.2 2027.1Z" fill="#00e3ff"/>
<path d="M1207.2 2034.2L1219.9 2031.8L1207.2 2027.5L1194.6 2029.8Z" fill="#00d8ff"/>
<path d="M1232.6 2036.3L1245.2 2033.1L1232.5 2028.8L1219.9 2031.8Z" fill="#00d1ff"/>
<path d="M1257.9 2037.6L1270.5 2033.7L1257.8 2029.4L1245.2 2033.1Z" fill="#00cdff"/>
<path d="M1283.2 2038.2L1295.8 2033.6L1283.1 2029.2L1270.5 2033.7Z" fill="#00cbff"/>
<path d="M1308.5 2038.1L1321.1 2032.8L1308.4 2028.4L1295.8 2033.6Z" fill="#00cdff"/>
<path d="M1333.8 2037.3L1346.4 2031.2L1333.8 2026.8L1321.1 2032.8Z" fill="#00d1ff"/>
<path d="M1359.1 2035.8L1371.8 2028.9L1359.1 2024.5L1346.4 2031.2Z" fill="#00d8ff"/>
<path d="M1384.5 2033.5L1397.2 2026.0L1384.5 2021.5L1371.8 2028.9Z" fill="#00e3ff"/>
<path d="M1409.9 2030.6L1422.6 2022.3L1409.9 2017.8L1397.2 2026.0Z" fill="#00f0ff"/>
<path d="M1435.3 2026.9L1448.1 2017.9L1435.4 2013.4L1422.6 2022.3Z" fill="#00fffe"/>
<path d="M1460.8 2022.5L1473.6 2012.8L1460.9 2008.3L1448.1 2017.9Z" fill="#00ffed"/>
<path d="M1486.3 2017.4L1499.2 2007.0L1486.5 2002.5L1473.6 2012.8Z" fill="#00ffd9"/>
<path d="M1041.9 2004.3L1054.7 2007.0L1042.1 2002.8L1029.2 2000.0Z" fill="#00ffa7"/>
<path d="M1067.4 2011.3L1080.3 2013.3L1067.6 2009.1L1054.7 2007.0Z" fill="#00ffc0"/>
<path d="M1092.9 2017.7L1105.7 2018.9L1093.1 2014.6L1080.3 2013.3Z" fill="#00ffd7"/>
<path d="M1118.4 2023.3L1131.2 2023.8L1118.5 2019.5L1105.7 2018.9Z" fill="#00ffeb"/>
<path d="M1143.8 2028.3L1156.6 2028.0L1143.9 2023.6L1131.2 2023.8Z" fill="#00fffd"/>
<path d="M1169.2 2032.5L1181.9 2031.5L1169.2 2027.1L1156.6 2028.0Z" fill="#00f1ff"/>
<path d="M1194.6 2036.0L1207.2 2034.2L1194.6 2029.8L1181.9 2031.5Z" fill="#00e4ff"/>
<path d="M1219.9 2038.8L1232.6 2036.3L1219.9 2031.8L1207.2 2034.2Z" fill="#00d9ff"/>
<path d="M1245.2 2040.9L1257.9 2037.6L1245.2 2033.1L1232.6 2036.3Z" fill="#00d2ff"/>
<path d="M1270.5 2042.3L1283.2 2038.2L1270.5 2033.7L1257.9 2037.6Z" fill="#00cdff"/>
<path d="M1295.8 2042.9L1308.5 2038.1L1295.8 2033.6L1283.2 2038.2Z" fill="#00cbff"/>
<path d="M1321.1 2042.8L1333.8 2037.3L1321.1 2032.8L1308.5 2038.1Z" fill="#00ccff"/>
<path d="M1346.4 2042.0L1359.1 2035.8L1346.4 2031.2L1333.8 2037.3Z" fill="#00d0ff"/>
<path d="M1371.8 2040.5L1384.5 2033.5L1371.8 2028.9L1359.1 2035.8Z" fill="#00d7ff"/>
<path d="M1397.1 2038.3L1409.9 2030.6L1397.2 2026.0L1384.5 2033.5Z" fill="#00e1ff"/>
<path d="M1422.5 2035.3L1435.3 2026.9L1422.6 2022.3L1409.9 2030.6Z" fill="#00eeff"/>
<path d="M1448.0 2031.7L1460.8 2022.5L1448.1 2017.9L1435.3 2026.9Z" fill="#00feff"/>
<path d="M1473.5 2027.3L1486.3 2017.4L1473.6 2012.8L1460.8 2022.5Z" fill="#00ffef"/>
<path d="M1054.6 2008.7L1067.4 2011.3L1054.7 2007.0L1041.9 2004.3Z" fill="#00ffa4"/>
<path d="M1080.1 2015.8L1092.9 2017.7L1080.3 2013.3L1067.4 2011.3Z" fill="#00ffbe"/>
<path d="M1105.6 2022.3L1118.4 2023.3L1105.7 2018.9L1092.9 2017.7Z" fill="#00ffd5"/>
<path d="M1131.1 2028.0L1143.8 2028.3L1131.2 2023.8L1118.4 2023.3Z" fill="#00ffea"/>
<path d="M1156.5 2033.0L1169.2 2032.5L1156.6 2028.0L1143.8 2028.3Z" fill="#00fffc"/>
<path d="M1181.9 2037.2L1194.6 2036.0L1181.9 2031.5L1169.2 2032.5Z" fill="#00f2ff"/>
<path d="M1207.2 2040.8L1219.9 2038.8L1207.2 2034.2L1194.6 2036.0Z" fill="#00e4ff"/>
<path d="M1232.6 2043.6L1245.2 2040.9L1232.6 2036.3L1219.9 2038.8Z" fill="#00d9ff"/>
<path d="M1257.9 2045.7L1270.5 2042.3L1257.9 2037.6L1245.2 2040.9Z" fill="#00d1ff"/>
<path d="M1283.2 2047.1L1295.8 2042.9L1283.2 2038.2L1270.5 2042.3Z" fill="#00ccff"/>
<path d="M1308.5 2047.8L1321.1 2042.8L1308.5 2038.1L1295.8 2042.9Z" fill="#00caff"/>
<path d="M1333.8 2047.7L1346.4 2042.0L1333.8 2037.3L1321.1 2042.8Z" fill="#00cbff"/>
<path d="M1359.1 2046.9L1371.8 2040.5L1359.1 2035.8L1346.4 2042.0Z" fill="#00cfff"/>
<path d="M1384.4 2045.4L1397.1 2038.3L1384.5 2033.5L1371.8 2040.5Z" fill="#00d5ff"/>
<path d="M1409.8 2043.2L1422.5 2035.3L1409.9 2030.6L1397.1 2038.3Z" fill="#00dfff"/>
<path d="M1435.2 2040.3L1448.0 2031.7L1435.3 2026.9L1422.5 2035.3Z" fill="#00ecff"/>
<path d="M1460.6 2036.6L1473.5 2027.3L1460.8 2022.5L1448.0 2031.7Z" fill="#00fbff"/>
<path d="M1067.3 2013.3L1080.1 2015.8L1067.4 2011.3L1054.6 2008.7Z" fill="#00ffa3"/>
<path d="M1092.8 2020.5L1105.6 2022.3L1092.9 2017.7L1080.1 2015.8Z" fill="#00ffbd"/>
<path d="M1118.3 2027.0L1131.1 2028.0L1118.4 2023.3L1105.6 2022.3Z" fill="#00ffd5"/>
<path d="M1143.8 2032.8L1156.5 2033.0L1143.8 2028.3L1131.1 2028.0Z" fill="#00ffe9"/>
<path d="M1169.2 2037.8L1181.9 2037.2L1169.2 2032.5L1156.5 2033.0Z" fill="#00fffc"/>
<path d="M1194.6 2042.1L1207.2 2040.8L1194.6 2036.0L1181.9 2037.2Z" fill="#00f2ff"/>
<path d="M1219.9 2045.7L1232.6 2043.6L1219.9 2038.8L1207.2 2040.8Z" fill="#00e4ff"/>
<path d="M1245.2 2048.6L1257.9 2045.7L1245.2 2040.9L1232.6 2043.6Z" fill="#00d8ff"/>
<path d="M1270.5 2050.7L1283.2 2047.1L1270.5 2042.3L1257.9 2045.7Z" fill="#00d0ff"/>
<path d="M1295.8 2052.1L1308.5 2047.8L1295.8 2042.9L1283.2 2047.1Z" fill="#00cbff"/>
<path d="M1321.1 2052.8L1333.8 2047.7L1321.1 2042.8L1308.5 2047.8Z" fill="#00c8ff"/>
<path d="M1346.4 2052.8L1359.1 2046.9L1346.4 2042.0L1333.8 2047.7Z" fill="#00c9ff"/>
<path d="M1371.8 2052.0L1384.4 2045.4L1371.8 2040.5L1359.1 2046.9Z" fill="#00ccff"/>
<path d="M1397.1 2050.6L1409.8 2043.2L1397.1 2038.3L1384.4 2045.4Z" fill="#00d3ff"/>
<path d="M1422.5 2048.3L1435.2 2040.3L1422.5 2035.3L1409.8 2043.2Z" fill="#00dcff"/>
<path d="M1447.9 2045.4L1460.6 2036.6L1448.0 2031.7L1435.2 2040.3Z" fill="#00e8ff"/>
<path d="M1080.0 2018.2L1092.8 2020.5L1080.1 2015.8L1067.3 2013.3Z" fill="#00ffa2"/>
<path d="M1105.5 2025.4L1118.3 2027.0L1105.6 2022.3L1092.8 2020.5Z" fill="#00ffbd"/>
<path d="M1131.0 2031.9L1143.8 2032.8L1131.1 2028.0L1118.3 2027.0Z" fill="#00ffd5"/>
<path d="M1156.5 2037.7L1169.2 2037.8L1156.5 2033.0L1143.8 2032.8Z" fill="#00ffea"/>
<path d="M1181.9 2042.8L1194.6 2042.1L1181.9 2037.2L1169.2 2037.8Z" fill="#00fffc"/>
<path d="M1207.2 2047.2L1219.9 2045.7L1207.2 2040.8L1194.6 2042.1Z" fill="#00f1ff"/>
<path d="M1232.6 2050.8L1245.2 2048.6L1232.6 2043.6L1219.9 2045.7Z" fill="#00e2ff"/>
<path d="M1257.9 2053.7L1270.5 2050.7L1257.9 2045.7L1245.2 2048.6Z" fill="#00d7ff"/>
<path d="M1283.2 2055.9L1295.8 2052.1L1283.2 2047.1L1270.5 2050.7Z" fill="#00ceff"/>
<path d="M1308.5 2057.3L1321.1 2052.8L1308.5 2047.8L1295.8 2052.1Z" fill="#00c9ff"/>
<path d="M1333.8 2058.1L1346.4 2052.8L1333.8 2047.7L1321.1 2052.8Z" fill="#00c6ff"/>
<path d="M1359.1 2058.0L1371.8 2052.0L1359.1 2046.9L1346.4 2052.8Z" fill="#00c6ff"/>
<path d="M1384.4 2057.3L1397.1 2050.6L1384.4 2045.4L1371.8 2052.0Z" fill="#00c9ff"/>
<path d="M1409.7 2055.8L1422.5 2048.3L1409.8 2043.2L1397.1 2050.6Z" fill="#00cfff"/>
<path d="M1435.1 2053.7L1447.9 2045.4L1435.2 2040.3L1422.5 2048.3Z" fill="#00d8ff"/>
<path d="M1092.7 2023.1L1105.5 2025.4L1092.8 2020.5L1080.0 2018.2Z" fill="#00ffa3"/>
<path d="M1118.2 2030.4L1131.0 2031.9L1118.3 2027.0L1105.5 2025.4Z" fill="#00ffbd"/>
<path d="M1143.7 2037.0L1156.5 2037.7L1143.8 2032.8L1131.0 2031.9Z" fill="#00ffd5"/>
<path d="M1169.1 2042.9L1181.9 2042.8L1169.2 2037.8L1156.5 2037.7Z" fill="#00ffeb"/>
<path d="M1194.5 2048.0L1207.2 2047.2L1194.6 2042.1L1181.9 2042.8Z" fill="#00fffd"/>
<path d="M1219.9 2052.4L1232.6 2050.8L1219.9 2045.7L1207.2 2047.2Z" fill="#00efff"/>
<path d="M1245.2 2056.1L1257.9 2053.7L1245.2 2048.6L1232.6 2050.8Z" fill="#00e0ff"/>
<path d="M1270.5 2059.0L1283.2 2055.9L1270.5 2050.7L1257.9 2053.7Z" fill="#00d4ff"/>
<path d="M1295.8 2061.2L1308.5 2057.3L1295.8 2052.1L1283.2 2055.9Z" fill="#00ccff"/>
<path d="M1321.1 2062.7L1333.8 2058.1L1321.1 2052.8L1308.5 2057.3Z" fill="#00c6ff"/>
<path d="M1346.4 2063.5L1359.1 2058.0L1346.4 2052.8L1333.8 2058.1Z" fill="#00c2ff"/>
<path d="M1371.7 2063.5L1384.4 2057.3L1371.8 2052.0L1359.1 2058.0Z" fill="#00c2ff"/>
<path d="M1397.0 2062.8L1409.7 2055.8L1397.1 2050.6L1384.4 2057.3Z" fill="#00c5ff"/>
<path d="M1422.4 2061.3L1435.1 2053.7L1422.5 2048.3L1409.7 2055.8Z" fill="#00cbff"/>
<path d="M1105.4 2028.3L1118.2 2030.4L1105.5 2025.4L1092.7 2023.1Z" fill="#00ffa3"/>
<path d="M1130.9 2035.7L1143.7 2037.0L1131.0 2031.9L1118.2 2030.4Z" fill="#00ffbe"/>
<path d="M1156.4 2042.3L1169.1 2042.9L1156.5 2037.7L1143.7 2037.0Z" fill="#00ffd7"/>
<path d="M1181.8 2048.2L1194.5 2048.0L1181.9 2042.8L1169.1 2042.9Z" fill="#00ffec"/>
<path d="M1207.2 2053.4L1219.9 2052.4L1207.2 2047.2L1194.5 2048.0Z" fill="#00feff"/>
<path d="M1232.6 2057.8L1245.2 2056.1L1232.6 2050.8L1219.9 2052.4Z" fill="#00ecff"/>
<path d="M1257.9 2061.5L1270.5 2059.0L1257.9 2053.7L1245.2 2056.1Z" fill="#00ddff"/>
<path d="M1283.2 2064.5L1295.8 2061.2L1283.2 2055.9L1270.5 2059.0Z" fill="#00d1ff"/>
<path d="M1308.5 2066.8L1321.1 2062.7L1308.5 2057.3L1295.8 2061.2Z" fill="#00c8ff"/>
<path d="M1333.8 2068.3L1346.4 2063.5L1333.8 2058.1L1321.1 2062.7Z" fill="#00c2ff"/>
<path d="M1359.1 2069.1L1371.7 2063.5L1359.1 2058.0L1346.4 2063.5Z" fill="#00beff"/>
<path d="M1384.4 2069.1L1397.0 2062.8L1384.4 2057.3L1371.7 2063.5Z" fill="#00beff"/>
<path d="M1409.7 2068.4L1422.4 2061.3L1409.7 2055.8L1397.0 2062.8Z" fill="#00c0ff"/>
<path d="M1118.1 2033.6L1130.9 2035.7L1118.2 2030.4L1105.4 2028.3Z" fill="#00ffa5"/>
<path d="M1143.6 2041.1L1156.4 2042.3L1143.7 2037.0L1130.9 2035.7Z" fill="#00ffc0"/>
<path d="M1169.1 2047.8L1181.8 2048.2L1169.1 2042.9L1156.4 2042.3Z" fill="#00ffd9"/>
<path d="M1194.5 2053.7L1207.2 2053.4L1194.5 2048.0L1181.8 2048.2Z" fill="#00ffef"/>
<path d="M1219.9 2058.9L1232.6 2057.8L1219.9 2052.4L1207.2 2053.4Z" fill="#00fbff"/>
<path d="M1245.2 2063.4L1257.9 2061.5L1245.2 2056.1L1232.6 2057.8Z" fill="#00e9ff"/>
<path d="M1270.6 2067.2L1283.2 2064.5L1270.5 2059.0L1257.9 2061.5Z" fill="#00daff"/>
<path d="M1295.9 2070.2L1308.5 2066.8L1295.8 2061.2L1283.2 2064.5Z" fill="#00cdff"/>
<path d="M1321.1 2072.5L1333.8 2068.3L1321.1 2062.7L1308.5 2066.8Z" fill="#00c4ff"/>
<path d="M1346.4 2074.0L1359.1 2069.1L1346.4 2063.5L1333.8 2068.3Z" fill="#00bdff"/>
<path d="M1371.7 2074.9L1384.4 2069.1L1371.7 2063.5L1359.1 2069.1Z" fill="#00b9ff"/>
<path d="M1397.0 2074.9L1409.7 2068.4L1397.0 2062.8L1384.4 2069.1Z" fill="#00b8ff"/>
<path d="M1130.8 2039.2L1143.6 2041.1L1130.9 2035.7L1118.1 2033.6Z" fill="#00ffa7"/>
<path d="M1156.3 2046.7L1169.1 2047.8L1156.4 2042.3L1143.6 2041.1Z" fill="#00ffc3"/>
<path d="M1181.8 2053.4L1194.5 2053.7L1181.8 2048.2L1169.1 2047.8Z" fill="#00ffdc"/>
<path d="M1207.2 2059.4L1219.9 2058.9L1207.2 2053.4L1194.5 2053.7Z" fill="#00fff2"/>
<path d="M1232.6 2064.7L1245.2 2063.4L1232.6 2057.8L1219.9 2058.9Z" fill="#00f7ff"/>
<path d="M1257.9 2069.2L1270.6 2067.2L1257.9 2061.5L1245.2 2063.4Z" fill="#00e5ff"/>
<path d="M1283.2 2073.0L1295.9 2070.2L1283.2 2064.5L1270.6 2067.2Z" fill="#00d5ff"/>
<path d="M1308.5 2076.1L1321.1 2072.5L1308.5 2066.8L1295.9 2070.2Z" fill="#00c8ff"/>
<path d="M1333.8 2078.4L1346.4 2074.0L1333.8 2068.3L1321.1 2072.5Z" fill="#00beff"/>
<path d="M1359.1 2080.0L1371.7 2074.9L1359.1 2069.1L1346.4 2074.0Z" fill="#00b7ff"/>
<path d="M1384.3 2080.8L1397.0 2074.9L1384.4 2069.1L1371.7 2074.9Z" fill="#00b3ff"/>
<path d="M1143.6 2044.9L1156.3 2046.7L1143.6 2041.1L1130.8 2039.2Z" fill="#00ffaa"/>
<path d="M1169.1 2052.4L1181.8 2053.4L1169.1 2047.8L1156.3 2046.7Z" fill="#00ffc6"/>
<path d="M1194.5 2059.3L1207.2 2059.4L1194.5 2053.7L1181.8 2053.4Z" fill="#00ffe0"/>
<path d="M1219.9 2065.3L1232.6 2064.7L1219.9 2058.9L1207.2 2059.4Z" fill="#00fff6"/>
<path d="M1245.2 2070.7L1257.9 2069.2L1245.2 2063.4L1232.6 2064.7Z" fill="#00f3ff"/>
<path d="M1270.6 2075.2L1283.2 2073.0L1270.6 2067.2L1257.9 2069.2Z" fill="#00e0ff"/>
<path d="M1295.9 2079.1L1308.5 2076.1L1295.9 2070.2L1283.2 2073.0Z" fill="#00d0ff"/>
<path d="M1321.1 2082.2L1333.8 2078.4L1321.1 2072.5L1308.5 2076.1Z" fill="#00c3ff"/>
<path d="M1346.4 2084.5L1359.1 2080.0L1346.4 2074.0L1333.8 2078.4Z" fill="#00b8ff"/>
<path d="M1371.7 2086.1L1384.3 2080.8L1371.7 2074.9L1359.1 2080.0Z" fill="#00b1ff"/>
<path d="M1156.3 2050.8L1169.1 2052.4L1156.3 2046.7L1143.6 2044.9Z" fill="#00ffae"/>
<path d="M1181.8 2058.4L1194.5 2059.3L1181.8 2053.4L1169.1 2052.4Z" fill="#00ffcb"/>
<path d="M1207.2 2065.3L1219.9 2065.3L1207.2 2059.4L1194.5 2059.3Z" fill="#00ffe4"/>
<path d="M1232.6 2071.4L1245.2 2070.7L1232.6 2064.7L1219.9 2065.3Z" fill="#00fffb"/>
<path d="M1257.9 2076.8L1270.6 2075.2L1257.9 2069.2L1245.2 2070.7Z" fill="#00edff"/>
<path d="M1283.2 2081.4L1295.9 2079.1L1283.2 2073.0L1270.6 2075.2Z" fill="#00daff"/>
<path d="M1308.5 2085.3L1321.1 2082.2L1308.5 2076.1L1295.9 2079.1Z" fill="#00c9ff"/>
<path d="M1333.8 2088.5L1346.4 2084.5L1333.8 2078.4L1321.1 2082.2Z" fill="#00bcff"/>
<path d="M1359.0 2090.8L1371.7 2086.1L1359.1 2080.0L1346.4 2084.5Z" fill="#00b1ff"/>
<path d="M1169.0 2056.9L1181.8 2058.4L1169.1 2052.4L1156.3 2050.8Z" fill="#00ffb3"/>
<path d="M1194.5 2064.6L1207.2 2065.3L1194.5 2059.3L1181.8 2058.4Z" fill="#00ffcf"/>
<path d="M1219.9 2071.5L1232.6 2071.4L1219.9 2065.3L1207.2 2065.3Z" fill="#00ffe9"/>
<path d="M1245.2 2077.7L1257.9 2076.8L1245.2 2070.7L1232.6 2071.4Z" fill="#00fdff"/>
<path d="M1270.6 2083.1L1283.2 2081.4L1270.6 2075.2L1257.9 2076.8Z" fill="#00e7ff"/>
<path d="M1295.9 2087.8L1308.5 2085.3L1295.9 2079.1L1283.2 2081.4Z" fill="#00d3ff"/>
<path d="M1321.1 2091.7L1333.8 2088.5L1321.1 2082.2L1308.5 2085.3Z" fill="#00c2ff"/>
<path d="M1346.4 2094.9L1359.0 2090.8L1346.4 2084.5L1333.8 2088.5Z" fill="#00b5ff"/>
<path d="M1181.7 2063.2L1194.5 2064.6L1181.8 2058.4L1169.0 2056.9Z" fill="#00ffb8"/>
<path d="M1207.2 2071.0L1219.9 2071.5L1207.2 2065.3L1194.5 2064.6Z" fill="#00ffd5"/>
<path d="M1232.6 2077.9L1245.2 2077.7L1232.6 2071.4L1219.9 2071.5Z" fill="#00ffef"/>
<path d="M1257.9 2084.2L1270.6 2083.1L1257.9 2076.8L1245.2 2077.7Z" fill="#00f7ff"/>
<path d="M1283.2 2089.7L1295.9 2087.8L1283.2 2081.4L1270.6 2083.1Z" fill="#00e0ff"/>
<path d="M1308.5 2094.4L1321.1 2091.7L1308.5 2085.3L1295.9 2087.8Z" fill="#00ccff"/>
<path d="M1333.8 2098.4L1346.4 2094.9L1333.8 2088.5L1321.1 2091.7Z" fill="#00bbff"/>
<path d="M1194.4 2069.7L1207.2 2071.0L1194.5 2064.6L1181.7 2063.2Z" fill="#00ffbe"/>
<path d="M1219.8 2077.5L1232.6 2077.9L1219.9 2071.5L1207.2 2071.0Z" fill="#00ffdb"/>
<path d="M1245.2 2084.6L1257.9 2084.2L1245.2 2077.7L1232.6 2077.9Z" fill="#00fff6"/>
<path d="M1270.6 2090.9L1283.2 2089.7L1270.6 2083.1L1257.9 2084.2Z" fill="#00efff"/>
<path d="M1295.9 2096.4L1308.5 2094.4L1295.9 2087.8L1283.2 2089.7Z" fill="#00d8ff"/>
<path d="M1321.1 2101.2L1333.8 2098.4L1321.1 2091.7L1308.5 2094.4Z" fill="#00c3ff"/>
<path d="M1207.1 2076.4L1219.8 2077.5L1207.2 2071.0L1194.4 2069.7Z" fill="#00ffc5"/>
<path d="M1232.5 2084.3L1245.2 2084.6L1232.6 2077.9L1219.8 2077.5Z" fill="#00ffe3"/>
<path d="M1257.9 2091.4L1270.6 2090.9L1257.9 2084.2L1245.2 2084.6Z" fill="#00fffd"/>
<path d="M1283.2 2097.8L1295.9 2096.4L1283.2 2089.7L1270.6 2090.9Z" fill="#00e6ff"/>
<path d="M1308.5 2103.3L1321.1 2101.2L1308.5 2094.4L1295.9 2096.4Z" fill="#00cfff"/>
<path d="M1219.8 2083.4L1232.5 2084.3L1219.8 2077.5L1207.1 2076.4Z" fill="#00ffcd"/>
<path d="M1245.2 2091.3L1257.9 2091.4L1245.2 2084.6L1232.5 2084.3Z" fill="#00ffea"/>
<path d="M1270.6 2098.4L1283.2 2097.8L1270.6 2090.9L1257.9 2091.4Z" fill="#00f8ff"/>
<path d="M1295.9 2104.9L1308.5 2103.3L1295.9 2096.4L1283.2 2097.8Z" fill="#00ddff"/>
<path d="M1232.5 2090.5L1245.2 2091.3L1232.5 2084.3L1219.8 2083.4Z" fill="#00ffd5"/>
<path d="M1257.9 2098.5L1270.6 2098.4L1257.9 2091.4L1245.2 2091.3Z" fill="#00fff3"/>
<path d="M1283.2 2105.7L1295.9 2104.9L1283.2 2097.8L1270.6 2098.4Z" fill="#00eeff"/>
<path d="M1245.2 2097.8L1257.9 2098.5L1245.2 2091.3L1232.5 2090.5Z" fill="#00ffde"/>
<path d="M1270.6 2105.9L1283.2 2105.7L1270.6 2098.4L1257.9 2098.5Z" fill="#00fffc"/>
<path d="M1257.9 2105.3L1270.6 2105.9L1257.9 2098.5L1245.2 2097.8Z" fill="#00ffe8"/>
</g>
<circle cx="1257.7" cy="2001.8" r="6.2" fill="#c80000" stroke="#3a0a0a" stroke-width="1.3"/>
<circle cx="958.1" cy="2083.1" r="3.1" fill="#000"/>
<circle cx="955.7" cy="2031.7" r="3.1" fill="#000"/>
<circle cx="953.3" cy="1980.3" r="3.1" fill="#000"/>
<circle cx="951.0" cy="1928.8" r="3.1" fill="#000"/>
<circle cx="948.6" cy="1877.4" r="3.1" fill="#000"/>
<circle cx="946.2" cy="1825.9" r="3.1" fill="#000"/>
<circle cx="943.8" cy="1774.5" r="3.1" fill="#000"/>
<circle cx="1257.6" cy="2321.5" r="3.1" fill="#000"/>
<circle cx="1183.8" cy="2286.0" r="3.1" fill="#000"/>
<circle cx="1110.1" cy="2250.6" r="3.1" fill="#000"/>
<circle cx="1036.3" cy="2215.1" r="3.1" fill="#000"/>
<circle cx="962.6" cy="2179.6" r="3.1" fill="#000"/>
<circle cx="1331.5" cy="2285.9" r="3.1" fill="#000"/>
<circle cx="1405.5" cy="2250.3" r="3.1" fill="#000"/>
<circle cx="1479.4" cy="2214.7" r="3.1" fill="#000"/>
<circle cx="1553.3" cy="2179.2" r="3.1" fill="#000"/>
<text x="944.7" y="2076.4" font-size="20" text-anchor="end" textLength="38.1" lengthAdjust="spacingAndGlyphs" fill="#1a1a1a">97.6</text>
<text x="942.3" y="2025.0" font-size="20" text-anchor="end" textLength="38.1" lengthAdjust="spacingAndGlyphs" fill="#1a1a1a">97.7</text>
<text x="939.9" y="1973.6" font-size="20" text-anchor="end" textLength="38.1" lengthAdjust="spacingAndGlyphs" fill="#1a1a1a">97.8</text>
<text x="937.6" y="1922.1" font-size="20" text-anchor="end" textLength="38.1" lengthAdjust="spacingAndGlyphs" fill="#1a1a1a">97.9</text>
<text x="937.9" y="1870.7" font-size="20" text-anchor="end" textLength="21.8" lengthAdjust="spacingAndGlyphs" fill="#1a1a1a">98</text>
<text x="932.8" y="1819.2" font-size="20" text-anchor="end" textLength="38.1" lengthAdjust="spacingAndGlyphs" fill="#1a1a1a">98.1</text>
<text x="930.4" y="1767.8" font-size="20" text-anchor="end" textLength="38.1" lengthAdjust="spacingAndGlyphs" fill="#1a1a1a">98.2</text>
<text x="949.0" y="2200.0" font-size="20" text-anchor="end" textLength="72.3" lengthAdjust="spacingAndGlyphs" fill="#1a1a1a">51.8921</text>
<text x="1024.0" y="2236.0" font-size="20" text-anchor="end" textLength="61.2" lengthAdjust="spacingAndGlyphs" fill="#1a1a1a">45.946</text>
<text x="1098.0" y="2272.0" font-size="20" text-anchor="end" textLength="22.2" lengthAdjust="spacingAndGlyphs" fill="#1a1a1a">40</text>
<text x="1173.0" y="2307.0" font-size="20" text-anchor="end" textLength="61.2" lengthAdjust="spacingAndGlyphs" fill="#1a1a1a">34.054</text>
<text x="1247.0" y="2343.0" font-size="20" text-anchor="end" textLength="72.3" lengthAdjust="spacingAndGlyphs" fill="#1a1a1a">28.1079</text>
<text x="1271.0" y="2343.0" font-size="20" textLength="69.4" lengthAdjust="spacingAndGlyphs" fill="#1a1a1a">22.0944</text>
<text x="1342.0" y="2307.0" font-size="20" textLength="69.4" lengthAdjust="spacingAndGlyphs" fill="#1a1a1a">27.2972</text>
<text x="1415.0" y="2272.0" font-size="20" textLength="37.4" lengthAdjust="spacingAndGlyphs" fill="#1a1a1a">32.5</text>
<text x="1489.0" y="2236.0" font-size="20" textLength="69.4" lengthAdjust="spacingAndGlyphs" fill="#1a1a1a">37.7028</text>
<text x="1565.0" y="2200.0" font-size="20" textLength="69.4" lengthAdjust="spacingAndGlyphs" fill="#1a1a1a">42.9056</text>
<text x="961.0" y="2312.5" font-size="20" textLength="70.0" lengthAdjust="spacingAndGlyphs" fill="#1a1a1a">C: FEED</text>
<text x="1432.0" y="2313.0" font-size="20" textLength="175.0" lengthAdjust="spacingAndGlyphs" fill="#1a1a1a">B: Temperature (°C)</text>
<text x="857.0" y="1983.0" font-size="20" text-anchor="middle" textLength="112.0" lengthAdjust="spacingAndGlyphs" transform="rotate(-90 857.0 1983.0)" fill="#1a1a1a">Removal (%)</text>
<text x="842.0" y="1692.0" font-size="44" font-weight="bold" fill="#000">F</text>
</svg></body></html>
